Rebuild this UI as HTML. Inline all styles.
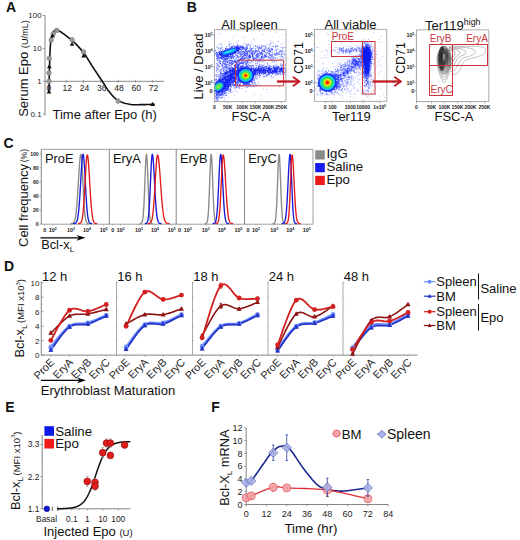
<!DOCTYPE html>
<html><head><meta charset="utf-8"><style>
html,body{margin:0;padding:0;background:#fff;}
svg{display:block;font-family:"Liberation Sans", sans-serif;}
</style></head><body>
<svg width="520" height="540" viewBox="0 0 520 540">
<defs><filter id="blur1" x="-50%" y="-50%" width="200%" height="200%"><feGaussianBlur stdDeviation="0.55"/></filter><filter id="blur2" x="-50%" y="-50%" width="200%" height="200%"><feGaussianBlur stdDeviation="3"/></filter></defs>
<rect width="520" height="540" fill="#fff"/>
<text x="6.00" y="11.90" font-size="14" text-anchor="start" fill="#111" font-weight="bold" >A</text>
<line x1="45.00" y1="15.50" x2="45.00" y2="115.50" stroke="#8a8a8a" stroke-width="1" />
<line x1="43.00" y1="15.50" x2="45.00" y2="15.50" stroke="#8a8a8a" stroke-width="1" />
<text x="41.60" y="18.30" font-size="8" text-anchor="end" fill="#222" font-weight="normal" >100</text>
<line x1="43.00" y1="48.40" x2="45.00" y2="48.40" stroke="#8a8a8a" stroke-width="1" />
<text x="41.60" y="51.20" font-size="8" text-anchor="end" fill="#222" font-weight="normal" >10</text>
<line x1="43.00" y1="81.30" x2="45.00" y2="81.30" stroke="#8a8a8a" stroke-width="1" />
<text x="41.60" y="84.10" font-size="8" text-anchor="end" fill="#222" font-weight="normal" >1</text>
<line x1="43.00" y1="114.20" x2="45.00" y2="114.20" stroke="#8a8a8a" stroke-width="1" />
<text x="41.60" y="117.00" font-size="8" text-anchor="end" fill="#222" font-weight="normal" >0.1</text>
<line x1="45.00" y1="81.30" x2="164.00" y2="81.30" stroke="#8a8a8a" stroke-width="1" />
<line x1="49.00" y1="79.80" x2="49.00" y2="82.80" stroke="#8a8a8a" stroke-width="0.8" />
<text x="49.00" y="91.20" font-size="8.6" text-anchor="middle" fill="#222" font-weight="normal" >0</text>
<line x1="66.28" y1="79.80" x2="66.28" y2="82.80" stroke="#8a8a8a" stroke-width="0.8" />
<text x="67.18" y="91.20" font-size="8.6" text-anchor="middle" fill="#222" font-weight="normal" >12</text>
<line x1="83.56" y1="79.80" x2="83.56" y2="82.80" stroke="#8a8a8a" stroke-width="0.8" />
<text x="84.46" y="91.20" font-size="8.6" text-anchor="middle" fill="#222" font-weight="normal" >24</text>
<line x1="100.84" y1="79.80" x2="100.84" y2="82.80" stroke="#8a8a8a" stroke-width="0.8" />
<text x="101.74" y="91.20" font-size="8.6" text-anchor="middle" fill="#222" font-weight="normal" >36</text>
<line x1="118.12" y1="79.80" x2="118.12" y2="82.80" stroke="#8a8a8a" stroke-width="0.8" />
<text x="119.02" y="91.20" font-size="8.6" text-anchor="middle" fill="#222" font-weight="normal" >48</text>
<line x1="135.40" y1="79.80" x2="135.40" y2="82.80" stroke="#8a8a8a" stroke-width="0.8" />
<text x="136.30" y="91.20" font-size="8.6" text-anchor="middle" fill="#222" font-weight="normal" >60</text>
<line x1="152.68" y1="79.80" x2="152.68" y2="82.80" stroke="#8a8a8a" stroke-width="0.8" />
<text x="153.58" y="91.20" font-size="8.6" text-anchor="middle" fill="#222" font-weight="normal" >72</text>
<polyline points="49.00,89.84 49.04,88.00 49.09,85.57 49.15,82.66 49.22,79.42 49.30,75.96 49.38,72.41 49.46,68.89 49.55,65.53 49.63,62.47 49.72,59.81 49.81,57.47 49.89,55.27 49.97,53.19 50.06,51.24 50.15,49.40 50.25,47.67 50.35,46.04 50.47,44.50 50.59,43.05 50.73,41.68 50.88,40.42 51.04,39.28 51.20,38.26 51.38,37.33 51.56,36.50 51.76,35.73 51.96,35.04 52.17,34.39 52.38,33.77 52.60,33.19 52.84,32.65 53.10,32.19 53.37,31.80 53.65,31.46 53.94,31.17 54.22,30.92 54.50,30.70 54.75,30.49 54.99,30.30 55.19,30.10 55.36,29.91 55.51,29.74 55.63,29.60 55.74,29.48 55.83,29.38 55.92,29.30 56.01,29.23 56.11,29.19 56.22,29.15 56.34,29.14 56.43,29.10 56.43,29.02 56.39,28.93 56.35,28.85 56.33,28.80 56.37,28.81 56.52,28.90 56.80,29.10 57.26,29.42 57.93,29.90 58.84,30.55 59.99,31.35 61.32,32.28 62.80,33.31 64.36,34.43 65.98,35.61 67.60,36.81 69.18,38.03 70.68,39.24 72.04,40.40 73.31,41.56 74.56,42.73 75.78,43.93 76.97,45.14 78.14,46.37 79.28,47.62 80.40,48.88 81.48,50.14 82.54,51.42 83.56,52.70 84.53,53.99 85.45,55.28 86.32,56.58 87.15,57.89 87.97,59.21 88.78,60.55 89.59,61.90 90.43,63.28 91.29,64.67 92.20,66.09 93.16,67.55 94.17,69.08 95.21,70.66 96.27,72.25 97.33,73.86 98.39,75.45 99.42,77.00 100.43,78.51 101.38,79.95 102.28,81.30 103.11,82.57 103.88,83.78 104.61,84.93 105.30,86.05 105.97,87.12 106.63,88.15 107.30,89.16 107.99,90.15 108.71,91.12 109.48,92.09 110.27,93.05 111.07,94.00 111.88,94.95 112.69,95.87 113.53,96.76 114.39,97.61 115.27,98.43 116.18,99.19 117.13,99.90 118.12,100.55 119.16,101.13 120.24,101.65 121.36,102.12 122.52,102.55 123.70,102.93 124.89,103.27 126.09,103.57 127.29,103.84 128.48,104.08 129.64,104.30 130.79,104.47 131.92,104.60 133.05,104.68 134.18,104.72 135.31,104.73 136.45,104.73 137.60,104.71 138.76,104.69 139.95,104.67 141.16,104.66 142.46,104.65 143.87,104.63 145.35,104.59 146.86,104.55 148.36,104.50 149.80,104.45 151.14,104.40 152.33,104.36 153.34,104.32 154.12,104.30" fill="none" stroke="#111" stroke-width="1.6" stroke-linejoin="round" stroke-linecap="round" />
<circle cx="49.00" cy="81.30" r="2.30" fill="#9a9a9a" stroke="#777" stroke-width="0.6" />
<circle cx="49.00" cy="72.90" r="2.30" fill="#9a9a9a" stroke="#777" stroke-width="0.6" />
<circle cx="49.29" cy="58.30" r="2.30" fill="#9a9a9a" stroke="#777" stroke-width="0.6" />
<circle cx="51.16" cy="40.00" r="2.30" fill="#9a9a9a" stroke="#777" stroke-width="0.6" />
<circle cx="53.32" cy="33.69" r="2.30" fill="#9a9a9a" stroke="#777" stroke-width="0.6" />
<circle cx="56.92" cy="30.50" r="2.30" fill="#9a9a9a" stroke="#777" stroke-width="0.6" />
<circle cx="72.04" cy="39.77" r="2.30" fill="#9a9a9a" stroke="#777" stroke-width="0.6" />
<circle cx="83.56" cy="51.95" r="2.30" fill="#9a9a9a" stroke="#777" stroke-width="0.6" />
<circle cx="118.12" cy="101.11" r="2.30" fill="#9a9a9a" stroke="#777" stroke-width="0.6" />
<polygon points="49.00,89.30 46.70,93.44 51.30,93.44" fill="#111" stroke="none" stroke-width="0.6" />
<polygon points="49.29,64.10 46.99,68.24 51.59,68.24" fill="#111" stroke="none" stroke-width="0.6" />
<polygon points="52.60,33.41 50.30,37.55 54.90,37.55" fill="#111" stroke="none" stroke-width="0.6" />
<polygon points="72.04,41.73 69.74,45.87 74.34,45.87" fill="#111" stroke="none" stroke-width="0.6" />
<polygon points="83.56,53.45 81.26,57.59 85.86,57.59" fill="#111" stroke="none" stroke-width="0.6" />
<polygon points="152.68,101.81 150.38,105.95 154.98,105.95" fill="#111" stroke="none" stroke-width="0.6" />
<text x="52.50" y="118.90" font-size="13" text-anchor="start" fill="#111" font-weight="normal" >Time after Epo (h)</text>
<text transform="translate(27.80,116.80) rotate(-90) scale(1,1)" font-size="13" fill="#111">Serum&#160;Epo</text>
<text transform="translate(27.80,48.16) rotate(-90) scale(1,0.95)" font-size="9.2" fill="#111">(U/mL)</text>
<text x="186.70" y="12.00" font-size="14" text-anchor="start" fill="#111" font-weight="bold" >B</text>
<clipPath id="cb1"><rect x="214.6" y="29.7" width="71.4" height="71.7"/></clipPath>
<g clip-path="url(#cb1)">
<path d="M271.4 76.4h0.9M244.7 38.0h0.9M229.1 43.4h0.9M236.4 41.9h0.9M269.3 44.1h0.9M266.0 89.6h0.9M232.9 44.1h0.9M258.9 84.9h0.9M271.5 90.1h0.9M270.8 76.9h0.9M267.7 92.7h0.9M278.7 86.9h0.9M236.5 92.3h0.9M233.4 91.2h0.9M272.9 43.1h0.9M276.2 62.9h0.9M250.5 41.9h0.9M260.5 95.9h0.9M232.1 38.0h0.9M259.2 31.4h0.9M263.0 89.3h0.9M231.8 92.8h0.9M253.2 39.0h0.9M258.1 81.8h0.9M233.9 95.6h0.9M223.5 100.2h0.9M220.2 44.7h0.9M229.6 44.1h0.9M282.3 59.8h0.9M254.0 94.5h0.9M234.2 35.8h0.9M228.1 41.9h0.9M260.3 99.1h0.9M264.9 77.0h0.9M273.1 77.1h0.9M218.4 44.7h0.9M270.1 44.2h0.9M275.5 32.4h0.9M282.1 34.7h0.9M256.5 84.6h0.9M271.7 77.9h0.9M277.7 41.5h0.9M242.7 36.8h0.9M215.5 37.5h0.9M271.6 42.8h0.9M285.2 59.5h0.9M256.4 85.8h0.9M271.5 36.8h0.9M235.6 90.5h0.9M217.8 34.3h0.9M220.0 33.2h0.9M216.6 46.4h0.9M281.6 44.0h0.9M229.9 41.4h0.9M231.3 43.5h0.9M257.7 82.8h0.9M273.5 77.9h0.9M263.0 34.7h0.9M238.2 40.9h0.9M220.8 44.2h0.9M285.0 95.3h0.9M251.2 43.5h0.9M270.6 41.0h0.9M220.9 43.3h0.9M270.0 42.7h0.9M228.4 97.2h0.9M220.3 44.8h0.9M253.8 39.9h0.9M271.2 43.7h0.9M283.5 62.1h0.9M224.5 99.7h0.9M245.3 91.6h0.9M238.1 30.7h0.9M281.2 43.6h0.9M277.6 41.4h0.9M271.2 76.7h0.9" stroke="#97a0ff" stroke-width="0.9" opacity="0.85" fill="none"/>
<path d="M277.7 52.9h0.9M221.0 48.3h0.9M280.5 47.3h0.9M266.3 44.6h0.9M239.8 86.4h0.9M285.1 64.4h0.9M229.7 90.6h0.9M239.0 87.9h0.9M254.9 46.4h0.9M258.0 59.7h0.9M284.7 54.9h0.9M273.2 65.5h0.9M258.8 47.4h0.9M280.7 58.3h0.9M248.2 86.7h0.9M282.3 47.6h0.9M275.0 46.0h0.9M270.6 59.6h0.9M282.8 51.1h0.9M251.5 84.9h0.9M281.4 50.9h0.9M272.3 49.9h0.9M250.0 45.2h0.9M258.7 47.9h0.9M216.9 99.8h0.9M280.5 51.6h0.9M279.5 56.4h0.9M262.4 46.3h0.9M215.6 100.5h0.9M280.0 74.6h0.9M258.0 60.3h0.9M276.1 54.8h0.9M262.6 65.0h0.9M277.3 57.8h0.9M261.0 46.9h0.9M274.3 58.1h0.9M216.7 65.5h0.9M263.5 45.2h0.9M270.7 57.3h0.9M256.8 79.2h0.9M255.1 45.7h0.9M277.5 46.1h0.9M279.1 54.2h0.9M254.6 65.6h0.9M269.8 59.0h0.9M280.7 50.9h0.9M246.3 87.1h0.9M280.3 50.8h0.9M215.8 74.6h0.9M269.4 57.5h0.9M249.7 86.7h0.9M268.9 45.4h0.9M257.2 61.1h0.9M252.3 65.8h0.9M221.6 47.2h0.9M283.6 58.0h0.9M278.8 51.7h0.9M281.9 65.0h0.9M281.8 54.3h0.9M280.0 64.1h0.9M274.6 55.4h0.9M215.6 51.9h0.9M216.0 67.4h0.9M269.1 65.3h0.9M282.1 73.9h0.9M267.4 57.9h0.9M263.4 60.1h0.9M248.0 44.0h0.9M241.5 88.5h0.9M274.2 61.3h0.9M267.5 64.4h0.9M277.9 59.4h0.9M247.0 46.2h0.9M260.1 59.4h0.9M259.2 47.7h0.9M264.9 47.0h0.9M256.0 65.5h0.9M275.7 74.7h0.9M250.4 61.9h0.9M250.0 86.4h0.9M264.9 47.0h0.9M260.6 64.6h0.9M255.9 85.2h0.9M266.3 76.2h0.9M243.8 43.7h0.9M276.4 55.1h0.9M257.3 61.8h0.9M276.9 49.2h0.9M216.0 71.0h0.9M267.3 76.2h0.9M259.3 76.0h0.9M268.3 48.3h0.9M253.3 84.5h0.9M283.4 53.6h0.9M229.6 44.5h0.9M276.0 51.9h0.9M216.3 98.7h0.9M268.5 59.3h0.9M284.8 51.2h0.9M250.9 48.6h0.9M237.2 44.0h0.9M275.2 47.7h0.9M220.0 48.3h0.9M220.5 98.3h0.9M246.7 86.2h0.9M278.2 74.3h0.9M216.6 68.7h0.9M270.5 60.2h0.9M264.9 46.3h0.9M217.2 69.8h0.9M224.9 95.7h0.9M261.6 65.8h0.9M218.6 71.1h0.9M217.2 98.2h0.9M271.0 59.6h0.9M217.4 99.4h0.9M217.1 64.9h0.9M256.8 77.5h0.9M220.6 47.7h0.9M281.2 55.9h0.9M278.5 53.2h0.9M215.2 50.8h0.9M255.5 64.0h0.9M271.9 46.4h0.9M263.0 76.9h0.9M278.3 54.6h0.9M251.5 85.8h0.9M270.5 57.8h0.9M282.4 52.7h0.9M247.2 44.9h0.9M270.8 49.6h0.9M282.2 56.5h0.9M276.3 45.2h0.9M219.8 98.2h0.9M281.5 51.4h0.9M235.8 87.9h0.9M246.8 87.5h0.9M215.2 50.1h0.9M223.2 95.7h0.9M250.9 48.6h0.9M215.9 75.8h0.9M251.1 65.5h0.9M261.7 47.3h0.9M238.6 88.2h0.9M261.5 45.5h0.9M259.9 48.7h0.9M236.3 86.1h0.9M218.0 68.9h0.9M276.0 60.9h0.9M284.7 74.1h0.9M252.7 66.4h0.9M218.1 74.5h0.9M256.2 47.8h0.9M228.5 46.6h0.9M254.4 83.8h0.9M222.0 97.4h0.9M215.3 98.6h0.9M274.8 75.2h0.9M259.7 60.8h0.9M238.1 86.4h0.9M278.9 51.9h0.9M259.1 61.7h0.9M274.8 58.9h0.9M261.8 66.0h0.9M279.7 54.2h0.9M264.8 61.0h0.9M230.4 92.4h0.9M228.9 91.2h0.9M245.7 45.2h0.9M246.8 45.1h0.9M261.6 59.9h0.9M247.0 48.5h0.9M248.7 63.2h0.9M263.0 65.8h0.9M271.6 60.8h0.9M260.1 75.7h0.9M250.1 47.3h0.9M277.2 46.4h0.9M273.0 46.5h0.9M226.1 95.5h0.9M256.9 62.3h0.9M228.7 45.4h0.9M216.3 75.8h0.9M217.0 72.3h0.9M275.5 49.4h0.9M280.9 65.6h0.9M259.1 64.3h0.9M217.2 67.9h0.9M252.4 86.7h0.9M268.5 47.4h0.9M282.1 48.8h0.9M237.5 87.4h0.9M218.2 100.1h0.9M244.5 87.1h0.9M273.5 57.6h0.9M275.6 50.0h0.9M272.2 59.4h0.9M275.8 50.9h0.9M263.7 76.4h0.9M283.1 47.9h0.9M237.6 45.1h0.9M238.4 86.2h0.9M261.0 60.9h0.9M253.8 86.5h0.9M272.2 56.6h0.9M246.5 47.3h0.9M284.7 74.8h0.9M256.1 59.9h0.9M248.1 44.7h0.9M261.1 60.1h0.9M259.2 77.4h0.9M284.6 47.4h0.9M275.2 58.0h0.9M267.2 63.0h0.9M221.8 97.6h0.9M260.9 48.2h0.9M262.6 61.7h0.9M249.9 65.7h0.9M281.3 53.4h0.9M252.9 62.2h0.9M272.6 62.1h0.9M281.6 51.7h0.9M255.2 61.3h0.9M257.8 48.3h0.9M260.0 48.4h0.9M263.7 64.1h0.9M275.1 46.7h0.9M266.9 63.0h0.9M263.9 60.7h0.9M280.2 59.2h0.9M273.9 61.7h0.9M269.8 65.6h0.9M216.5 47.4h0.9M245.9 44.0h0.9M255.8 78.7h0.9M271.3 48.6h0.9M215.9 67.0h0.9M284.5 54.7h0.9M263.1 76.3h0.9M283.0 58.0h0.9M265.7 48.0h0.9M252.8 83.4h0.9M277.4 52.5h0.9M281.3 56.1h0.9M280.0 51.9h0.9M279.3 54.1h0.9M236.0 87.3h0.9M215.4 75.1h0.9M251.6 62.1h0.9M278.4 50.1h0.9M265.2 48.8h0.9M281.3 74.4h0.9M264.0 76.8h0.9M262.9 58.7h0.9M273.3 60.6h0.9M228.9 44.9h0.9M216.5 100.8h0.9M257.6 65.2h0.9M220.0 49.0h0.9M215.9 76.9h0.9M271.8 49.7h0.9M249.5 46.4h0.9M262.0 60.8h0.9M258.7 47.0h0.9M216.1 99.0h0.9M254.4 82.3h0.9M252.1 65.2h0.9M271.5 48.5h0.9M275.6 75.0h0.9M248.5 62.3h0.9M280.8 56.0h0.9M238.7 86.3h0.9M217.2 76.4h0.9M275.9 46.2h0.9M230.1 91.5h0.9M269.4 58.5h0.9M255.3 63.3h0.9M280.6 64.0h0.9M266.4 75.4h0.9M268.1 48.8h0.9M276.9 54.7h0.9M258.4 66.0h0.9M282.1 65.7h0.9M223.8 97.8h0.9M256.9 46.6h0.9M269.6 48.7h0.9M256.8 63.6h0.9M280.1 65.7h0.9M256.5 59.6h0.9M236.8 45.1h0.9M234.3 87.6h0.9M261.1 47.9h0.9M250.2 63.7h0.9M218.0 47.8h0.9M254.7 78.8h0.9M252.8 48.2h0.9M235.5 87.8h0.9M283.7 54.4h0.9M253.1 65.6h0.9M272.3 58.0h0.9M251.7 48.0h0.9M266.6 48.2h0.9M225.8 95.3h0.9M215.8 63.4h0.9M271.2 48.9h0.9M266.0 75.1h0.9M259.4 61.2h0.9M260.2 47.7h0.9M282.4 57.1h0.9M257.1 45.8h0.9M216.1 63.8h0.9M281.8 65.1h0.9M254.2 86.0h0.9M261.4 45.9h0.9M259.2 45.8h0.9M251.8 66.2h0.9M258.1 47.8h0.9M259.2 47.9h0.9M279.5 73.9h0.9M254.2 82.2h0.9M251.5 85.5h0.9M252.3 60.6h0.9M272.6 58.3h0.9M270.3 46.8h0.9M230.4 90.4h0.9M221.1 97.2h0.9M248.7 45.2h0.9M217.2 69.0h0.9M230.3 90.2h0.9M257.4 59.7h0.9M285.2 64.9h0.9M254.5 82.4h0.9M272.7 57.0h0.9M281.0 54.9h0.9M259.7 66.2h0.9M246.6 47.5h0.9M271.6 48.9h0.9M263.6 46.5h0.9M258.7 59.9h0.9M226.2 46.8h0.9M233.7 88.1h0.9M280.6 50.1h0.9M257.8 47.6h0.9M216.3 70.2h0.9M259.4 66.2h0.9M276.9 53.8h0.9M276.8 53.6h0.9M254.9 84.1h0.9M253.3 45.6h0.9M269.4 75.1h0.9M218.6 48.4h0.9M216.9 69.0h0.9M270.7 75.4h0.9M272.0 49.6h0.9M228.3 93.1h0.9M276.2 64.8h0.9M259.5 65.8h0.9M217.6 49.4h0.9M251.1 61.4h0.9M263.6 48.6h0.9" stroke="#5464ff" stroke-width="0.9" opacity="0.85" fill="none"/>
<path d="M225.6 64.4h0.9M254.9 75.1h0.9M247.7 50.7h0.9M242.2 63.0h0.9M236.2 64.6h0.9M246.7 63.7h0.9M272.0 73.1h0.9M256.2 56.4h0.9M279.5 73.2h0.9M256.4 74.3h0.9M224.5 58.2h0.9M239.4 63.4h0.9M220.1 61.4h0.9M259.1 53.3h0.9M248.8 57.3h0.9M234.5 66.2h0.9M243.2 48.8h0.9M264.4 49.5h0.9M218.6 66.1h0.9M257.4 53.2h0.9M229.0 65.8h0.9M247.6 82.6h0.9M242.2 59.0h0.9M265.0 73.8h0.9M233.0 63.3h0.9M259.0 75.3h0.9M230.0 65.7h0.9M242.2 46.3h0.9M240.3 58.4h0.9M246.9 66.8h0.9M220.1 61.3h0.9M247.4 67.5h0.9M260.5 68.1h0.9M230.8 62.2h0.9M245.1 55.8h0.9M241.2 63.0h0.9M259.1 73.7h0.9M228.5 59.9h0.9M241.2 51.9h0.9M238.9 64.6h0.9M248.5 83.9h0.9M268.5 73.7h0.9M248.2 67.3h0.9M240.0 83.0h0.9M219.6 57.9h0.9M223.5 73.7h0.9M243.6 52.2h0.9M215.2 53.4h0.9M272.2 74.2h0.9M247.9 58.9h0.9M224.2 58.3h0.9M227.9 64.5h0.9M226.4 64.8h0.9M271.5 54.3h0.9M265.0 66.6h0.9M245.5 50.3h0.9M264.7 66.4h0.9M256.2 67.7h0.9M264.3 54.3h0.9M237.2 55.9h0.9M252.1 56.6h0.9M253.2 57.0h0.9M245.7 51.0h0.9M231.6 55.2h0.9M253.7 58.9h0.9M241.2 57.7h0.9M225.2 58.9h0.9M245.9 46.6h0.9M238.1 65.6h0.9M231.8 67.5h0.9M251.0 53.5h0.9M243.5 55.5h0.9M242.9 83.8h0.9M229.8 63.5h0.9M232.2 54.9h0.9M236.1 55.2h0.9M245.4 83.8h0.9M253.6 80.0h0.9M241.3 82.7h0.9M253.8 68.0h0.9M246.9 53.4h0.9M235.2 65.0h0.9M219.3 62.1h0.9M244.3 59.5h0.9M229.4 62.5h0.9M216.3 97.0h0.9M258.4 57.9h0.9M269.4 50.6h0.9M253.5 52.8h0.9M220.6 58.3h0.9M263.3 73.7h0.9M231.5 67.6h0.9M266.3 49.8h0.9M263.3 74.5h0.9M253.9 53.7h0.9M232.8 57.1h0.9M283.1 70.6h0.9M251.8 81.6h0.9M262.2 50.3h0.9M229.3 89.9h0.9M224.8 92.0h0.9M253.6 50.9h0.9M226.1 59.2h0.9M231.0 65.2h0.9M226.4 67.3h0.9M258.3 67.1h0.9M265.1 52.5h0.9M238.5 79.6h0.9M250.4 56.7h0.9M233.9 60.3h0.9M279.8 72.1h0.9M229.7 89.5h0.9M228.9 64.1h0.9M248.7 66.2h0.9M235.4 58.5h0.9M242.1 56.6h0.9M226.6 61.6h0.9M240.1 82.1h0.9M242.5 82.9h0.9M251.9 82.8h0.9M243.3 62.9h0.9M281.9 71.9h0.9M233.9 57.1h0.9M267.8 53.4h0.9M238.8 81.3h0.9M231.0 57.6h0.9M251.7 53.4h0.9M218.6 52.0h0.9M236.9 61.2h0.9M223.4 57.7h0.9M221.3 74.0h0.9M240.4 63.9h0.9M248.0 84.5h0.9M243.1 63.9h0.9M255.5 76.8h0.9M282.2 68.8h0.9M243.8 52.2h0.9M254.8 54.9h0.9M258.2 55.9h0.9M241.9 65.6h0.9M277.3 74.0h0.9M227.1 89.0h0.9M260.9 73.9h0.9M233.5 56.4h0.9M242.6 84.1h0.9M226.1 48.4h0.9M264.0 51.6h0.9M259.5 55.0h0.9M233.7 67.0h0.9M234.6 84.8h0.9M232.1 56.8h0.9M253.2 78.8h0.9M276.6 72.3h0.9M268.3 74.1h0.9M241.2 82.1h0.9M246.2 83.6h0.9M239.7 46.9h0.9M278.3 66.6h0.9M248.9 84.3h0.9M216.8 58.9h0.9M256.0 58.3h0.9M282.2 70.5h0.9M232.1 60.6h0.9M225.7 48.7h0.9M231.8 54.9h0.9M253.8 57.0h0.9M268.8 54.1h0.9M234.4 84.9h0.9M224.7 57.9h0.9M277.9 74.0h0.9M244.8 55.0h0.9M247.7 60.7h0.9M215.4 79.6h0.9M234.0 65.7h0.9M252.8 57.6h0.9M238.6 81.3h0.9M257.4 55.7h0.9M247.1 83.3h0.9M250.6 50.1h0.9M223.1 57.3h0.9M234.8 64.5h0.9M223.9 93.3h0.9M257.0 53.4h0.9M245.7 47.6h0.9M241.8 48.9h0.9M233.8 85.4h0.9M282.4 71.5h0.9M250.0 56.0h0.9M282.4 71.3h0.9M224.6 72.5h0.9M232.2 84.5h0.9M253.7 80.5h0.9M218.6 76.4h0.9M251.0 66.9h0.9M284.7 72.1h0.9M262.1 56.1h0.9M271.9 55.7h0.9M215.7 98.2h0.9M244.8 58.3h0.9M236.3 62.9h0.9M250.1 57.5h0.9M224.1 63.4h0.9M217.6 58.7h0.9M225.3 62.7h0.9M256.6 55.2h0.9M249.0 55.5h0.9M263.4 51.2h0.9M248.7 58.2h0.9M265.1 56.5h0.9M243.2 51.7h0.9M224.5 66.7h0.9M242.3 47.4h0.9M245.1 84.3h0.9M260.8 56.8h0.9M216.4 53.4h0.9M258.5 53.7h0.9M224.4 66.2h0.9M234.7 65.4h0.9M225.3 62.8h0.9M273.2 73.1h0.9M245.8 64.3h0.9M236.5 65.7h0.9M221.6 95.9h0.9M275.7 67.7h0.9M263.5 67.6h0.9M265.5 57.7h0.9M268.9 67.5h0.9M227.0 56.8h0.9M225.3 64.4h0.9M231.5 67.7h0.9M231.2 58.0h0.9M232.2 54.9h0.9M252.1 58.7h0.9M279.7 67.4h0.9M222.6 57.1h0.9M256.0 54.9h0.9M264.9 55.4h0.9M221.8 66.7h0.9M238.8 56.6h0.9M244.7 63.9h0.9M218.2 52.7h0.9M216.6 60.1h0.9M223.4 73.8h0.9M256.9 74.6h0.9M215.3 80.3h0.9M226.5 49.0h0.9M220.2 76.0h0.9M215.9 95.3h0.9M262.3 67.3h0.9M219.7 63.4h0.9M246.7 58.1h0.9M220.3 95.1h0.9M255.1 51.1h0.9M241.8 49.2h0.9M217.5 57.2h0.9M251.4 67.8h0.9M224.8 61.0h0.9M220.6 94.3h0.9M269.2 67.3h0.9M230.2 60.4h0.9M280.1 71.3h0.9M241.0 49.3h0.9M276.3 66.5h0.9M264.6 56.9h0.9M241.1 62.1h0.9M231.7 56.2h0.9M250.8 50.6h0.9M225.5 92.8h0.9M244.6 66.8h0.9M231.5 58.5h0.9M218.1 97.0h0.9M232.4 55.4h0.9M220.3 94.1h0.9M217.4 95.8h0.9M219.9 50.5h0.9M232.0 63.1h0.9M249.9 50.3h0.9M243.6 48.2h0.9M249.2 51.5h0.9M223.5 94.4h0.9M251.9 54.0h0.9M232.0 84.7h0.9M223.6 72.1h0.9M223.6 61.2h0.9M244.6 54.9h0.9M273.6 54.2h0.9M268.8 49.7h0.9M219.9 61.5h0.9M239.2 80.6h0.9M252.2 48.9h0.9M238.7 52.7h0.9M241.6 58.8h0.9M220.9 93.9h0.9M218.3 95.5h0.9M248.9 54.5h0.9M249.3 57.7h0.9M225.2 63.2h0.9M261.0 56.3h0.9M252.4 55.2h0.9M247.2 55.0h0.9M251.5 80.5h0.9M268.8 74.4h0.9M225.2 72.8h0.9M240.1 56.1h0.9M249.4 51.1h0.9M217.9 52.4h0.9M247.8 84.1h0.9M220.9 72.1h0.9M249.9 49.2h0.9M250.4 56.4h0.9M243.4 54.0h0.9M228.8 62.6h0.9M243.2 84.6h0.9M231.5 67.5h0.9M284.0 72.3h0.9M270.6 73.2h0.9M229.1 62.8h0.9M281.1 67.8h0.9M224.0 69.8h0.9M258.2 67.8h0.9M230.3 63.1h0.9M260.2 53.0h0.9M236.6 85.8h0.9M258.4 54.9h0.9M248.2 56.1h0.9M231.5 56.4h0.9M229.8 68.7h0.9M261.2 57.9h0.9M252.1 56.0h0.9M249.2 60.7h0.9M215.7 54.3h0.9M222.3 94.6h0.9M266.1 56.3h0.9M281.0 68.0h0.9M282.5 73.2h0.9M225.8 92.7h0.9M250.5 67.5h0.9M284.6 68.0h0.9M220.8 58.3h0.9M248.7 66.5h0.9M282.2 72.7h0.9M221.1 58.7h0.9M216.0 56.2h0.9M221.4 76.1h0.9M227.3 56.4h0.9M228.3 90.8h0.9M256.5 75.4h0.9M219.5 58.6h0.9M233.3 61.5h0.9M227.5 69.2h0.9M241.0 59.5h0.9M236.3 57.4h0.9M226.7 58.1h0.9M232.9 84.9h0.9M240.9 56.1h0.9M240.6 50.1h0.9M259.8 48.8h0.9M233.5 62.2h0.9M240.5 59.4h0.9M222.8 58.5h0.9M258.3 75.4h0.9M220.6 74.1h0.9M250.5 54.4h0.9M235.1 62.0h0.9M255.6 51.5h0.9M223.3 94.2h0.9M239.6 45.5h0.9M245.1 49.7h0.9M222.7 66.8h0.9M228.5 56.0h0.9M227.3 67.1h0.9M258.4 56.6h0.9M224.7 58.1h0.9M242.5 60.8h0.9M246.8 84.4h0.9M242.0 62.3h0.9M261.7 51.8h0.9M229.7 68.2h0.9M246.6 55.6h0.9M238.3 60.7h0.9M261.8 49.7h0.9M247.0 52.4h0.9M282.1 68.1h0.9M258.4 51.2h0.9M217.9 65.6h0.9M222.7 74.3h0.9M255.6 56.9h0.9M246.5 56.4h0.9M216.1 54.6h0.9M269.0 51.6h0.9M223.4 75.4h0.9M236.0 63.1h0.9M232.5 47.0h0.9M269.1 55.6h0.9M216.9 54.2h0.9M261.2 57.6h0.9M242.2 63.7h0.9M222.6 62.2h0.9M222.0 59.0h0.9M238.3 51.6h0.9M249.0 55.9h0.9M241.8 47.2h0.9M238.1 52.9h0.9M233.2 57.2h0.9M244.9 53.6h0.9M224.2 64.6h0.9M220.4 57.2h0.9M261.4 50.6h0.9M239.5 63.0h0.9M254.1 75.2h0.9M239.3 63.6h0.9M235.5 55.4h0.9M266.1 66.8h0.9M256.5 57.2h0.9M240.7 55.0h0.9M230.1 55.1h0.9M243.4 48.0h0.9M249.0 56.0h0.9M223.1 70.0h0.9M277.5 67.8h0.9M251.4 82.9h0.9M232.8 84.2h0.9M273.9 66.3h0.9M246.2 65.9h0.9M246.4 83.4h0.9M246.5 61.1h0.9M256.3 54.4h0.9M225.5 61.5h0.9M263.6 56.7h0.9M223.7 73.3h0.9M270.3 54.8h0.9M244.3 49.2h0.9M260.3 67.4h0.9M224.2 60.8h0.9M231.2 46.4h0.9M235.4 85.7h0.9M239.9 81.2h0.9M277.8 67.4h0.9M219.4 70.8h0.9M255.6 55.5h0.9M227.6 88.4h0.9M217.2 56.7h0.9M237.2 64.6h0.9M246.6 48.5h0.9M257.2 57.3h0.9M239.2 82.9h0.9M233.9 47.1h0.9M228.4 88.7h0.9M220.7 64.3h0.9M243.9 53.9h0.9M228.8 68.8h0.9M261.2 53.6h0.9M245.7 65.9h0.9M234.7 85.2h0.9M268.7 66.8h0.9M239.8 62.8h0.9M250.0 53.1h0.9M247.3 62.5h0.9M245.0 83.7h0.9M217.6 97.0h0.9M285.1 70.1h0.9M265.7 55.1h0.9M237.7 65.0h0.9M269.5 73.1h0.9M246.4 51.6h0.9M220.5 57.6h0.9M241.8 63.6h0.9M220.0 77.1h0.9M242.7 56.3h0.9M229.7 89.3h0.9M253.1 67.8h0.9M238.3 64.5h0.9M261.2 52.8h0.9M242.3 51.7h0.9M240.6 59.5h0.9M238.4 79.9h0.9M241.6 54.6h0.9M236.5 52.3h0.9M239.7 53.9h0.9M251.3 54.0h0.9M246.0 50.2h0.9M240.0 54.7h0.9M268.1 67.1h0.9M216.5 98.2h0.9M233.8 65.6h0.9M226.7 90.0h0.9M260.6 58.2h0.9M272.9 66.2h0.9M276.6 73.4h0.9M255.0 49.8h0.9M273.4 67.6h0.9M268.2 74.2h0.9M253.9 52.4h0.9M220.9 57.4h0.9M252.3 53.0h0.9M242.2 85.4h0.9M219.9 73.0h0.9M275.1 72.5h0.9M241.6 46.2h0.9M258.2 67.8h0.9M226.1 66.4h0.9M215.4 96.5h0.9M273.1 66.9h0.9M236.8 66.1h0.9M218.8 58.8h0.9M275.3 67.3h0.9M237.3 80.6h0.9M218.7 75.5h0.9M240.2 81.7h0.9M236.0 83.1h0.9M274.8 55.1h0.9M253.8 59.4h0.9M237.1 63.8h0.9M237.1 60.0h0.9M240.4 66.3h0.9M226.7 58.7h0.9M235.5 83.7h0.9M281.3 66.9h0.9M221.8 65.2h0.9M248.8 56.9h0.9M238.6 47.0h0.9M242.4 66.3h0.9M234.9 60.0h0.9M251.2 51.9h0.9M224.4 73.9h0.9M239.4 46.5h0.9M221.5 73.6h0.9M271.0 56.7h0.9M241.6 48.5h0.9M215.3 96.2h0.9M216.4 79.8h0.9M252.4 53.4h0.9M229.9 57.0h0.9M219.6 79.1h0.9M261.4 56.8h0.9M225.1 67.5h0.9M236.8 59.9h0.9M231.7 47.5h0.9M235.7 85.6h0.9M226.9 59.0h0.9M240.4 58.5h0.9M238.6 59.3h0.9M239.5 52.6h0.9M215.2 93.6h0.9M261.4 67.8h0.9M258.2 50.1h0.9M285.3 72.2h0.9M247.7 51.1h0.9M235.6 63.9h0.9M237.2 82.7h0.9M251.4 79.9h0.9M220.4 77.7h0.9M239.6 85.2h0.9M222.3 58.6h0.9M230.3 55.4h0.9M223.8 93.3h0.9M263.5 51.6h0.9M262.0 57.1h0.9M218.3 78.2h0.9M219.3 97.3h0.9M226.5 89.6h0.9M248.1 67.7h0.9M242.0 47.4h0.9M226.1 64.9h0.9M246.5 60.3h0.9M237.7 64.6h0.9M242.6 63.8h0.9M237.1 82.5h0.9M237.8 82.2h0.9M228.2 56.0h0.9M235.6 61.5h0.9M264.1 57.3h0.9M242.1 58.9h0.9M265.4 73.4h0.9M222.4 65.0h0.9M245.1 48.4h0.9M216.3 95.9h0.9M225.1 48.2h0.9M244.8 53.8h0.9M281.3 71.4h0.9M246.7 53.6h0.9M240.0 81.6h0.9M232.7 46.1h0.9M266.4 67.4h0.9M221.9 73.8h0.9M242.0 85.6h0.9M218.0 57.3h0.9M240.7 47.0h0.9M268.5 56.9h0.9M245.4 64.1h0.9M226.4 57.1h0.9M254.7 59.0h0.9M216.1 79.1h0.9M220.1 73.2h0.9M258.0 67.2h0.9M248.6 65.3h0.9M226.5 69.9h0.9M220.0 51.8h0.9M247.1 84.5h0.9M235.3 62.5h0.9M259.4 58.9h0.9M253.5 76.1h0.9M244.2 52.7h0.9M224.3 57.1h0.9M250.2 84.4h0.9M252.3 51.0h0.9M244.6 62.5h0.9M218.9 95.4h0.9M240.7 59.1h0.9M273.8 73.0h0.9M245.4 84.7h0.9M246.5 53.1h0.9M219.7 95.3h0.9M227.0 58.3h0.9M277.3 73.5h0.9M254.8 48.8h0.9M268.0 51.2h0.9M259.0 52.2h0.9M252.3 51.9h0.9M243.7 83.2h0.9M230.0 86.7h0.9M228.4 66.7h0.9M216.7 52.3h0.9M218.5 78.2h0.9M239.4 81.1h0.9M244.4 83.8h0.9M252.5 55.2h0.9M242.3 57.2h0.9M243.5 51.4h0.9M237.2 65.9h0.9M224.1 74.2h0.9M246.9 52.7h0.9M235.3 53.1h0.9M238.0 64.6h0.9M234.8 61.0h0.9M274.4 53.0h0.9M231.4 63.9h0.9M241.7 52.2h0.9M226.9 62.6h0.9M248.9 60.1h0.9M225.3 65.4h0.9M275.5 54.0h0.9M238.3 57.0h0.9M260.0 58.6h0.9M255.6 57.8h0.9M261.0 52.3h0.9M267.1 50.0h0.9M221.3 65.8h0.9M225.6 58.4h0.9M224.8 72.9h0.9M248.0 84.4h0.9M230.5 47.1h0.9M217.5 94.4h0.9M236.6 46.9h0.9M244.1 58.6h0.9M237.5 65.7h0.9M264.7 56.2h0.9M281.8 68.1h0.9M219.0 78.3h0.9M219.1 96.0h0.9M244.6 61.3h0.9M273.2 67.0h0.9M252.0 55.2h0.9M276.1 72.9h0.9M248.1 64.8h0.9M228.2 63.1h0.9M243.6 66.0h0.9M221.2 94.9h0.9M278.9 72.1h0.9M235.2 65.4h0.9M268.8 53.8h0.9M246.7 48.2h0.9M215.6 94.8h0.9M246.7 53.5h0.9M238.7 59.5h0.9M244.3 52.8h0.9M225.2 93.9h0.9M253.0 58.7h0.9M216.6 95.3h0.9M220.0 94.9h0.9M246.6 55.8h0.9M222.2 75.9h0.9M218.5 57.0h0.9M238.1 53.0h0.9M260.7 66.5h0.9M227.2 58.8h0.9M253.0 59.1h0.9M239.5 65.7h0.9M225.5 71.1h0.9M233.9 46.6h0.9M230.5 57.1h0.9M232.6 60.3h0.9M223.0 61.0h0.9M223.4 71.4h0.9M257.0 57.3h0.9M248.2 60.7h0.9M239.6 81.7h0.9M220.1 70.1h0.9M249.2 52.6h0.9M243.5 83.3h0.9M225.8 68.8h0.9M242.4 85.5h0.9M237.6 46.7h0.9M252.4 54.7h0.9M251.1 49.0h0.9M260.2 53.2h0.9M219.8 77.6h0.9M219.7 76.7h0.9M223.9 92.0h0.9M255.8 67.6h0.9M237.9 64.5h0.9M230.9 57.0h0.9M215.9 52.5h0.9M263.9 51.2h0.9M244.6 61.2h0.9M223.2 63.7h0.9M236.1 83.3h0.9M261.6 73.4h0.9M223.7 73.8h0.9M222.7 63.7h0.9M231.6 85.6h0.9M245.3 55.0h0.9M236.7 79.9h0.9M240.0 80.6h0.9M257.3 55.8h0.9M270.6 66.3h0.9M268.3 57.0h0.9M267.4 65.8h0.9M230.6 58.7h0.9M239.8 85.8h0.9M253.1 51.2h0.9M249.5 57.4h0.9M244.1 47.8h0.9M262.1 54.4h0.9M245.7 49.2h0.9M246.9 61.2h0.9M229.7 47.6h0.9M233.8 86.1h0.9M254.8 58.4h0.9M222.0 57.4h0.9M239.0 80.3h0.9M226.1 58.2h0.9M239.2 84.3h0.9M270.6 73.1h0.9M253.4 80.1h0.9M242.5 56.9h0.9M236.8 80.8h0.9M226.7 62.2h0.9M239.4 81.0h0.9M251.0 67.8h0.9M241.2 66.4h0.9M223.2 70.1h0.9M281.0 68.2h0.9M265.0 55.7h0.9M216.4 97.5h0.9M251.9 51.3h0.9M278.6 67.9h0.9M244.2 84.1h0.9M234.6 65.4h0.9M238.0 46.9h0.9M247.0 66.6h0.9M249.7 68.1h0.9M226.3 90.5h0.9M230.0 56.4h0.9M232.3 61.5h0.9M220.1 63.3h0.9M226.7 90.1h0.9M224.3 67.1h0.9M238.3 79.8h0.9M238.0 81.1h0.9M271.4 50.7h0.9M265.6 52.2h0.9M237.3 45.6h0.9M260.5 54.6h0.9M235.8 81.5h0.9M222.2 68.2h0.9M269.5 49.9h0.9M223.8 64.2h0.9M224.5 59.0h0.9M230.4 66.2h0.9M237.5 54.1h0.9M254.9 76.9h0.9M244.5 54.5h0.9M270.3 55.3h0.9M231.4 46.8h0.9M229.6 58.5h0.9M244.5 51.8h0.9M229.8 58.3h0.9M225.7 90.5h0.9M241.6 46.2h0.9M222.5 75.7h0.9M236.3 46.6h0.9M219.5 75.2h0.9M256.6 54.9h0.9M239.0 80.9h0.9M244.9 57.7h0.9M233.9 84.6h0.9M226.4 70.9h0.9M217.1 56.3h0.9M275.9 53.5h0.9M259.1 66.8h0.9M230.3 86.5h0.9M245.9 50.3h0.9M255.4 74.8h0.9M219.2 51.4h0.9M246.9 61.5h0.9M248.2 56.6h0.9M240.9 59.4h0.9M271.8 52.4h0.9M247.3 54.2h0.9M239.4 60.5h0.9M242.0 58.0h0.9M227.9 89.8h0.9M232.9 86.0h0.9M256.9 73.8h0.9M270.2 67.0h0.9M246.5 66.4h0.9M276.3 53.5h0.9M234.8 45.8h0.9M268.8 51.6h0.9M246.1 84.3h0.9M239.1 51.1h0.9M285.3 68.8h0.9M223.8 74.7h0.9M246.6 63.0h0.9M270.1 51.8h0.9M220.4 71.6h0.9M249.8 66.1h0.9M249.4 55.9h0.9M244.8 62.4h0.9M241.7 54.7h0.9M256.7 50.4h0.9M227.6 65.0h0.9M226.6 70.6h0.9M236.5 55.5h0.9M223.4 60.6h0.9M238.0 61.8h0.9M225.3 59.8h0.9M238.5 61.1h0.9M273.8 54.4h0.9M220.5 69.1h0.9M280.0 72.3h0.9M258.6 51.0h0.9M237.1 53.5h0.9M218.5 66.4h0.9M240.1 51.6h0.9M264.6 66.3h0.9M221.9 94.1h0.9M240.2 81.1h0.9M227.3 89.1h0.9M283.1 70.3h0.9M242.7 46.6h0.9M248.9 56.0h0.9M231.0 63.1h0.9M224.3 72.0h0.9M252.2 82.0h0.9M226.2 60.5h0.9M234.4 61.5h0.9M257.1 51.5h0.9M242.9 47.9h0.9M222.8 76.1h0.9M261.1 67.8h0.9M232.2 64.6h0.9M245.5 66.9h0.9M236.1 82.4h0.9M238.2 81.6h0.9M228.6 60.6h0.9M247.9 51.2h0.9M257.5 56.3h0.9M281.5 68.5h0.9M250.2 57.0h0.9M238.9 60.9h0.9M247.3 82.8h0.9M246.3 51.2h0.9M237.2 60.5h0.9M238.7 62.5h0.9M255.8 50.5h0.9M223.0 61.7h0.9M243.9 57.7h0.9M270.3 51.9h0.9M257.5 74.2h0.9M248.8 57.2h0.9M258.8 73.7h0.9M248.8 85.2h0.9M266.6 53.1h0.9M230.2 55.4h0.9M243.5 66.2h0.9M239.0 84.9h0.9M246.4 48.4h0.9M234.2 62.3h0.9M227.2 56.8h0.9M222.5 49.6h0.9M270.8 55.7h0.9M243.4 56.4h0.9M247.2 67.1h0.9M231.0 60.3h0.9M250.7 81.9h0.9M245.5 57.8h0.9M218.2 52.3h0.9M243.6 55.4h0.9M246.7 52.1h0.9M242.9 62.3h0.9M245.5 85.7h0.9M248.2 50.8h0.9M222.2 63.7h0.9M281.3 71.9h0.9M232.6 58.2h0.9M229.9 63.7h0.9M217.8 95.1h0.9M245.9 61.2h0.9M242.6 51.6h0.9M265.2 56.6h0.9M255.7 51.7h0.9M222.7 74.2h0.9M249.3 57.8h0.9M221.3 57.6h0.9M267.8 56.2h0.9M227.4 61.1h0.9M224.5 69.0h0.9M263.8 49.9h0.9M241.9 53.8h0.9M239.8 80.3h0.9M248.6 82.4h0.9M224.6 92.9h0.9M221.2 69.8h0.9M228.1 57.1h0.9M239.8 85.1h0.9M236.3 46.8h0.9M271.9 54.3h0.9M241.2 52.7h0.9M231.5 62.9h0.9M222.3 75.9h0.9M236.3 46.3h0.9M257.9 54.4h0.9M239.3 54.4h0.9M242.9 59.7h0.9M216.3 54.9h0.9M270.5 54.9h0.9M254.6 58.6h0.9M218.6 60.3h0.9M236.6 63.8h0.9M252.6 57.3h0.9M261.9 53.3h0.9M260.8 66.3h0.9M231.4 61.7h0.9M278.3 73.0h0.9M248.4 53.1h0.9M222.0 50.0h0.9M229.1 68.4h0.9M222.8 68.2h0.9M248.5 83.8h0.9M220.0 74.2h0.9M222.3 75.5h0.9M269.2 73.1h0.9M215.3 80.0h0.9M219.0 59.9h0.9M275.8 72.4h0.9M266.3 66.1h0.9M254.0 53.3h0.9M234.7 53.7h0.9M216.5 57.0h0.9M261.6 53.5h0.9M224.6 59.5h0.9M254.7 52.0h0.9M240.5 56.1h0.9M250.9 53.0h0.9M227.6 68.2h0.9M243.1 50.0h0.9M217.1 59.0h0.9M229.1 60.7h0.9M225.5 59.0h0.9M217.5 97.9h0.9M235.0 54.0h0.9M236.8 57.0h0.9M242.7 61.2h0.9M240.2 62.6h0.9M243.0 53.6h0.9M240.8 82.4h0.9M228.3 57.8h0.9M266.2 56.4h0.9M258.0 66.6h0.9M226.6 90.3h0.9M236.5 65.9h0.9M264.3 55.1h0.9M263.9 73.8h0.9M236.6 84.3h0.9M245.3 52.8h0.9M216.7 94.5h0.9M216.9 53.8h0.9M239.7 62.4h0.9M239.5 81.4h0.9M230.3 88.3h0.9M240.7 47.5h0.9M268.9 53.2h0.9M218.2 57.5h0.9M219.1 57.7h0.9M269.6 50.2h0.9M225.1 67.7h0.9M265.8 54.4h0.9M220.5 94.1h0.9M220.3 72.7h0.9M277.4 66.0h0.9M228.4 57.2h0.9M222.6 59.4h0.9M237.4 84.1h0.9M224.6 60.2h0.9M238.7 57.9h0.9M246.0 54.8h0.9M234.5 62.0h0.9M263.7 67.7h0.9M218.6 52.8h0.9M246.4 57.0h0.9M219.9 57.5h0.9M224.7 91.4h0.9M237.8 84.1h0.9M237.7 57.5h0.9M229.2 60.4h0.9M260.4 52.5h0.9M224.3 58.8h0.9M228.2 56.4h0.9M278.5 67.3h0.9M219.9 73.6h0.9M221.6 61.8h0.9M263.8 50.5h0.9M231.2 87.3h0.9M249.9 51.2h0.9M226.2 68.1h0.9M219.0 67.0h0.9M249.2 83.1h0.9M262.6 50.5h0.9M216.2 94.3h0.9M231.0 60.4h0.9M253.0 59.7h0.9M238.2 60.4h0.9M241.4 61.0h0.9M230.9 64.5h0.9M246.7 83.8h0.9M238.1 61.6h0.9M240.2 85.2h0.9M223.5 67.5h0.9M244.5 84.8h0.9M246.4 53.3h0.9M263.8 67.2h0.9M216.4 55.4h0.9M219.4 78.7h0.9M225.3 49.0h0.9M251.7 54.4h0.9M251.2 81.6h0.9M235.0 62.5h0.9M251.9 55.4h0.9M218.6 62.3h0.9M243.1 58.6h0.9M266.5 74.7h0.9M285.0 70.5h0.9M223.8 62.0h0.9M220.8 93.9h0.9M271.8 72.8h0.9M229.4 67.7h0.9M220.4 94.6h0.9M240.5 58.7h0.9M222.7 70.4h0.9M262.8 58.2h0.9M226.0 71.7h0.9M271.8 73.4h0.9M261.0 56.6h0.9M265.7 75.0h0.9M238.4 52.2h0.9M226.7 66.8h0.9M235.2 81.6h0.9M244.3 54.5h0.9M225.4 90.8h0.9M241.5 57.5h0.9M226.8 67.8h0.9M262.6 51.9h0.9M244.2 55.0h0.9M258.0 49.3h0.9M281.3 68.4h0.9M238.9 60.5h0.9M238.0 80.3h0.9M267.2 74.5h0.9M266.8 50.6h0.9M230.1 68.7h0.9M226.7 64.3h0.9M240.5 46.4h0.9M216.7 58.7h0.9M261.4 56.0h0.9M246.0 65.8h0.9M232.5 46.1h0.9M242.5 48.6h0.9M245.8 83.2h0.9M220.8 95.5h0.9M227.2 58.3h0.9M236.6 84.1h0.9M253.7 78.6h0.9M216.3 58.2h0.9M284.2 68.5h0.9M227.6 61.4h0.9M241.6 63.3h0.9M228.9 56.7h0.9M240.5 53.5h0.9M233.2 55.0h0.9M231.6 62.8h0.9M255.2 51.2h0.9M241.0 63.5h0.9M277.5 67.6h0.9M236.9 56.1h0.9M229.7 61.3h0.9M272.3 73.6h0.9M277.4 66.4h0.9M264.3 55.2h0.9M259.1 67.0h0.9M243.3 84.9h0.9M255.4 52.7h0.9M238.2 63.8h0.9M244.8 49.6h0.9M230.0 68.8h0.9M217.2 60.8h0.9M237.5 83.3h0.9M260.4 74.0h0.9M262.7 54.6h0.9M235.2 82.9h0.9M247.1 58.4h0.9M225.0 65.9h0.9M246.1 66.4h0.9M228.6 56.5h0.9M247.5 85.2h0.9M267.3 52.2h0.9M243.6 55.6h0.9M257.2 53.7h0.9M219.2 64.0h0.9M262.8 57.2h0.9M224.7 56.7h0.9M221.2 75.8h0.9M240.8 50.0h0.9M225.2 70.5h0.9M222.2 68.6h0.9M217.3 64.0h0.9M251.5 81.1h0.9M244.6 85.4h0.9M238.8 65.3h0.9M268.8 53.3h0.9M223.7 59.1h0.9M260.4 54.5h0.9M234.3 56.8h0.9M226.7 58.9h0.9M232.8 58.0h0.9M261.7 68.0h0.9M248.7 55.4h0.9M234.1 60.6h0.9M226.9 61.8h0.9M225.1 72.7h0.9M274.0 72.9h0.9M275.2 72.7h0.9M221.7 59.3h0.9M238.2 51.2h0.9M227.9 88.3h0.9M274.8 65.9h0.9M237.8 80.4h0.9M243.7 67.0h0.9M244.2 57.4h0.9M247.1 65.8h0.9M258.7 73.9h0.9M228.1 56.5h0.9M242.9 47.5h0.9M245.1 50.8h0.9M261.3 58.3h0.9M241.9 65.9h0.9M236.8 80.9h0.9M248.5 58.9h0.9M240.7 54.3h0.9M235.2 61.3h0.9M262.3 67.4h0.9M251.1 68.2h0.9M221.1 77.5h0.9M241.0 47.6h0.9M246.3 64.3h0.9M229.7 86.5h0.9M243.5 84.6h0.9M234.8 84.6h0.9M283.0 72.5h0.9M282.4 72.9h0.9M218.4 62.1h0.9M223.3 73.9h0.9M226.2 56.5h0.9M274.8 73.4h0.9M254.6 68.2h0.9M239.7 52.0h0.9M232.1 63.6h0.9M237.3 81.8h0.9M235.4 84.0h0.9M276.5 72.2h0.9M230.7 56.7h0.9M245.9 62.9h0.9M228.4 68.3h0.9M222.1 65.4h0.9M249.3 49.0h0.9M257.5 67.3h0.9M236.0 61.2h0.9M235.2 62.4h0.9M236.6 56.2h0.9" stroke="#2a3cff" stroke-width="0.9" opacity="0.85" fill="none"/>
<path d="M250.4 69.7h0.9M215.4 88.8h0.9M267.7 69.3h0.9M232.6 48.4h0.9M234.7 70.2h0.9M245.0 76.0h0.9M216.3 89.9h0.9M220.1 88.3h0.9M228.2 81.1h0.9M229.0 52.9h0.9M242.4 81.3h0.9M281.4 68.6h0.9M225.6 81.8h0.9M217.4 83.1h0.9M239.3 73.5h0.9M254.0 73.1h0.9M226.1 74.5h0.9M225.9 82.4h0.9M258.4 71.9h0.9M230.3 73.9h0.9M237.7 66.8h0.9M230.7 85.1h0.9M230.5 54.6h0.9M225.3 87.6h0.9M216.4 86.7h0.9M234.6 73.5h0.9M238.3 71.3h0.9M218.3 81.3h0.9M230.3 51.1h0.9M262.7 71.5h0.9M243.3 75.1h0.9M215.6 84.0h0.9M226.2 82.2h0.9M224.0 86.4h0.9M250.3 72.5h0.9M239.5 70.7h0.9M233.3 50.2h0.9M255.1 70.6h0.9M244.9 80.5h0.9M219.2 82.5h0.9M228.4 80.4h0.9M236.6 68.4h0.9M224.3 88.3h0.9M243.8 71.5h0.9M251.3 79.3h0.9M216.0 88.3h0.9M234.1 72.8h0.9M274.4 70.9h0.9M226.7 80.4h0.9M274.2 68.0h0.9M244.0 74.9h0.9M269.0 67.9h0.9M267.1 71.5h0.9M219.7 82.2h0.9M272.7 70.9h0.9M246.4 82.4h0.9M249.7 73.3h0.9M217.3 87.6h0.9M268.3 70.5h0.9M227.8 82.3h0.9M247.4 81.2h0.9M230.2 82.8h0.9M219.4 87.7h0.9M221.4 84.0h0.9M242.2 66.9h0.9M228.0 85.4h0.9M218.9 90.9h0.9M256.1 69.9h0.9M229.4 52.2h0.9M231.6 77.0h0.9M229.9 75.1h0.9M227.7 77.8h0.9M229.6 79.3h0.9M245.1 81.6h0.9M235.9 74.7h0.9M219.1 84.6h0.9M243.6 76.5h0.9M259.9 69.1h0.9M223.5 88.6h0.9M223.0 84.3h0.9M224.7 82.7h0.9M232.2 77.9h0.9M218.1 83.0h0.9M221.7 84.0h0.9M220.0 54.0h0.9M243.5 73.2h0.9M232.7 81.4h0.9M217.5 86.2h0.9M216.2 81.4h0.9M218.7 80.3h0.9M221.8 89.6h0.9M255.0 73.6h0.9M245.8 74.3h0.9M246.0 80.1h0.9M222.1 78.4h0.9M246.3 69.7h0.9M230.9 73.2h0.9M235.2 75.7h0.9M218.3 86.2h0.9M245.1 75.8h0.9M241.9 68.7h0.9M244.8 80.6h0.9M215.8 86.7h0.9M233.1 83.0h0.9M228.6 82.3h0.9M227.6 80.4h0.9M221.8 88.6h0.9M226.0 72.7h0.9M220.4 83.4h0.9M249.6 75.6h0.9M237.4 69.0h0.9M251.2 70.8h0.9M223.3 54.8h0.9M232.2 68.8h0.9M223.1 76.3h0.9M254.7 69.2h0.9M240.7 67.3h0.9M242.4 73.9h0.9M225.6 83.1h0.9M224.4 77.3h0.9M226.5 80.6h0.9M219.5 81.3h0.9M225.0 85.6h0.9M223.8 90.4h0.9M270.9 68.3h0.9M268.2 69.8h0.9M244.1 73.7h0.9M225.4 86.3h0.9M232.4 77.8h0.9M249.0 74.7h0.9M222.0 86.7h0.9M233.7 76.1h0.9M252.9 76.9h0.9M228.9 76.2h0.9M279.4 71.3h0.9M225.5 85.4h0.9M217.8 82.7h0.9M217.9 86.9h0.9M280.0 68.5h0.9M280.7 70.6h0.9M237.6 77.4h0.9M246.9 76.0h0.9M226.5 84.6h0.9M253.4 74.0h0.9M224.8 83.2h0.9M224.2 86.5h0.9M253.7 71.5h0.9M236.4 75.4h0.9M268.6 70.0h0.9M244.3 68.2h0.9M236.5 49.5h0.9M217.3 88.8h0.9M226.7 86.5h0.9M243.2 71.7h0.9M232.7 71.0h0.9M223.9 84.2h0.9M225.3 82.2h0.9M218.4 89.6h0.9M249.4 73.6h0.9M249.3 77.7h0.9M232.0 78.7h0.9M233.7 70.0h0.9M239.8 79.1h0.9M237.2 50.4h0.9M221.2 86.7h0.9M259.6 70.7h0.9M234.7 47.2h0.9M246.6 74.8h0.9M219.8 82.0h0.9M229.0 70.7h0.9M218.2 86.3h0.9M247.4 70.5h0.9M220.9 83.9h0.9M232.9 74.0h0.9M255.1 73.0h0.9M224.3 76.7h0.9M224.3 85.0h0.9M226.9 81.9h0.9M240.8 73.7h0.9M222.2 79.2h0.9M249.2 74.9h0.9M229.5 53.7h0.9M241.6 74.1h0.9M275.3 71.4h0.9M220.9 56.1h0.9M247.3 73.9h0.9M231.6 73.6h0.9M240.0 47.7h0.9M258.9 71.6h0.9M240.4 73.4h0.9M242.9 77.3h0.9M264.9 72.4h0.9M220.8 89.1h0.9M260.6 70.6h0.9M219.1 81.3h0.9M227.3 83.8h0.9M245.9 77.3h0.9M220.8 80.1h0.9M267.7 72.1h0.9M278.4 68.0h0.9M235.5 49.6h0.9M275.9 70.9h0.9M280.5 69.5h0.9M262.6 70.6h0.9M234.1 77.0h0.9M228.2 50.8h0.9M228.7 81.3h0.9M234.4 51.4h0.9M234.7 70.6h0.9M231.3 47.8h0.9M277.1 68.0h0.9M251.7 69.1h0.9M250.4 70.7h0.9M218.1 54.7h0.9M224.3 53.0h0.9M240.8 77.6h0.9M220.5 90.3h0.9M225.5 84.5h0.9M218.5 83.9h0.9M279.5 70.2h0.9M248.3 73.5h0.9M231.3 80.4h0.9M224.5 85.0h0.9M225.9 73.8h0.9M234.8 69.8h0.9M228.9 51.5h0.9M232.4 51.1h0.9M225.7 86.6h0.9M240.8 75.1h0.9M218.4 83.0h0.9M219.8 80.4h0.9M241.9 67.9h0.9M228.7 76.7h0.9M229.0 75.4h0.9M277.8 71.3h0.9M234.2 79.6h0.9M218.7 91.7h0.9M216.0 91.2h0.9M230.0 78.7h0.9M235.3 52.7h0.9M269.8 68.2h0.9M254.3 74.1h0.9M227.5 81.0h0.9M259.6 72.4h0.9M241.4 72.9h0.9M254.2 70.7h0.9M234.0 72.6h0.9M235.2 49.0h0.9M216.5 90.8h0.9M219.5 91.9h0.9M235.1 77.7h0.9M237.9 75.8h0.9M218.5 89.3h0.9M232.1 78.2h0.9M223.6 90.2h0.9M234.1 79.6h0.9M233.4 52.2h0.9M236.3 79.3h0.9M229.4 50.7h0.9M230.0 53.2h0.9M229.3 74.6h0.9M254.7 73.7h0.9M231.1 49.6h0.9M245.8 68.7h0.9M224.9 84.9h0.9M266.4 72.3h0.9M246.5 69.2h0.9M272.5 67.8h0.9M231.4 75.8h0.9M220.0 85.5h0.9M246.4 71.4h0.9M221.2 84.3h0.9M247.2 73.6h0.9M225.8 83.1h0.9M248.5 70.8h0.9M282.2 70.4h0.9M238.1 66.4h0.9M240.5 75.2h0.9M222.4 85.1h0.9M238.8 75.4h0.9M236.5 67.3h0.9M262.3 72.0h0.9M273.6 68.4h0.9M234.3 48.7h0.9M243.5 72.0h0.9M249.1 77.8h0.9M221.6 83.3h0.9M261.3 70.0h0.9M249.3 74.2h0.9M227.5 55.3h0.9M220.6 88.3h0.9M224.7 78.2h0.9M227.2 79.3h0.9M219.0 53.1h0.9M247.8 77.0h0.9M275.1 71.4h0.9M218.7 86.1h0.9M229.7 50.8h0.9M232.4 80.3h0.9M224.3 88.7h0.9M269.5 71.9h0.9M226.3 82.2h0.9M238.0 50.4h0.9M262.6 71.5h0.9M217.8 80.3h0.9M228.5 52.8h0.9M218.1 91.0h0.9M237.9 69.6h0.9M245.6 71.1h0.9M225.3 81.8h0.9M231.5 73.2h0.9M254.8 69.3h0.9M220.5 83.6h0.9M252.5 75.1h0.9M219.2 87.0h0.9M216.6 90.3h0.9M229.3 76.6h0.9M251.7 73.3h0.9M257.7 69.5h0.9M231.0 80.2h0.9M226.7 50.5h0.9M226.3 80.5h0.9M221.1 84.9h0.9M220.1 54.5h0.9M222.7 86.6h0.9M246.8 69.8h0.9M238.5 48.6h0.9M229.2 78.8h0.9M247.2 78.8h0.9M230.3 82.2h0.9M248.5 73.5h0.9M221.4 89.0h0.9M233.7 74.0h0.9M266.7 68.6h0.9M247.7 74.4h0.9M218.6 91.2h0.9M226.9 72.1h0.9M248.2 82.1h0.9M253.9 73.2h0.9M219.5 89.0h0.9M228.8 80.7h0.9M221.2 88.4h0.9M276.3 68.0h0.9M224.2 54.4h0.9M225.4 88.1h0.9M232.7 75.1h0.9M237.7 72.0h0.9M270.3 71.1h0.9M248.4 72.7h0.9M230.0 51.4h0.9M233.3 52.5h0.9M237.2 68.0h0.9M258.5 68.8h0.9M247.1 75.2h0.9M223.0 89.0h0.9M232.6 51.0h0.9M230.6 74.9h0.9M219.4 90.6h0.9M247.1 72.0h0.9M225.4 83.9h0.9M246.2 73.3h0.9M248.2 78.9h0.9M223.0 55.7h0.9M270.5 69.4h0.9M271.0 72.5h0.9M231.0 77.1h0.9M223.0 84.3h0.9M224.7 56.0h0.9M231.3 77.3h0.9M268.0 70.0h0.9M244.2 78.7h0.9M234.1 71.6h0.9M225.3 73.2h0.9M246.7 70.1h0.9M259.5 68.8h0.9M221.9 91.5h0.9M277.2 68.1h0.9M216.7 84.5h0.9M234.3 52.9h0.9M219.5 53.7h0.9M218.8 81.5h0.9M224.4 86.2h0.9M235.9 77.1h0.9M223.3 51.3h0.9M221.0 84.6h0.9M251.3 72.4h0.9M222.3 85.0h0.9M232.8 50.2h0.9M215.7 85.0h0.9M238.8 73.7h0.9M228.6 77.5h0.9M279.0 71.3h0.9M235.1 78.5h0.9M227.8 77.9h0.9M225.7 83.3h0.9M230.1 75.7h0.9M222.7 85.7h0.9M252.1 74.5h0.9M217.9 84.1h0.9M229.9 75.8h0.9M248.4 76.3h0.9M227.3 85.5h0.9M220.8 54.3h0.9M226.1 78.1h0.9M220.1 91.2h0.9M220.0 87.6h0.9M263.6 68.4h0.9M248.2 72.1h0.9M221.5 86.1h0.9M222.3 89.3h0.9M223.7 91.3h0.9M242.5 74.2h0.9M219.4 80.5h0.9M247.3 74.2h0.9M215.2 91.9h0.9M243.8 76.8h0.9M215.5 86.3h0.9M248.6 75.0h0.9M248.7 78.3h0.9M244.2 77.5h0.9M215.2 88.9h0.9M231.3 70.6h0.9M275.5 71.9h0.9M249.3 73.1h0.9M219.9 54.9h0.9M230.7 49.7h0.9M244.3 76.7h0.9M261.5 69.5h0.9M223.6 90.9h0.9M249.0 76.7h0.9M224.3 51.0h0.9M261.1 70.4h0.9M226.8 74.9h0.9M225.7 51.0h0.9M218.1 55.9h0.9M219.5 86.4h0.9M229.5 79.3h0.9M244.8 80.1h0.9M240.4 69.8h0.9M247.8 74.4h0.9M247.6 70.0h0.9M240.4 68.4h0.9M221.0 84.7h0.9M223.4 89.0h0.9M222.2 84.3h0.9M215.5 84.8h0.9M245.3 73.6h0.9M243.7 72.2h0.9M220.4 86.1h0.9M218.2 80.3h0.9M228.1 82.8h0.9M225.1 74.4h0.9M227.9 51.9h0.9M222.0 82.5h0.9M250.0 68.3h0.9M248.1 76.2h0.9M222.7 52.9h0.9M254.3 70.3h0.9M243.0 74.0h0.9M223.9 52.0h0.9M246.1 74.4h0.9M273.4 67.6h0.9M220.4 83.7h0.9M241.4 71.3h0.9M225.3 73.1h0.9M262.9 71.1h0.9M250.0 70.8h0.9M221.7 53.8h0.9M234.7 75.4h0.9M272.7 72.4h0.9M237.8 68.9h0.9M218.3 88.5h0.9M248.6 78.0h0.9M259.0 69.5h0.9M215.8 86.5h0.9M244.2 68.4h0.9M225.4 77.6h0.9M225.4 52.1h0.9M271.4 69.6h0.9M263.3 71.3h0.9M235.4 49.9h0.9M274.6 68.7h0.9M247.8 79.0h0.9M245.8 78.3h0.9M236.6 72.4h0.9M247.7 69.2h0.9M234.8 81.4h0.9M227.2 74.1h0.9M234.2 50.5h0.9M221.6 79.1h0.9M236.9 48.3h0.9M232.5 79.4h0.9M238.3 69.8h0.9M218.5 89.4h0.9M228.1 84.5h0.9M230.9 53.2h0.9M248.4 75.7h0.9M231.5 70.3h0.9M249.6 75.7h0.9M220.6 87.2h0.9M241.5 76.0h0.9M227.2 53.4h0.9M227.2 51.1h0.9M224.3 87.4h0.9M234.0 53.0h0.9M231.1 78.9h0.9M240.5 76.7h0.9M233.5 78.8h0.9M225.1 54.8h0.9M250.2 73.9h0.9M243.6 70.3h0.9M221.5 56.8h0.9M249.4 81.1h0.9M233.9 72.3h0.9M219.8 85.9h0.9M260.1 69.2h0.9M232.2 52.8h0.9M226.2 54.8h0.9M264.7 70.1h0.9M225.4 90.1h0.9M221.4 53.8h0.9M251.6 75.7h0.9M221.3 82.1h0.9M227.9 86.2h0.9M262.3 68.1h0.9M229.8 83.8h0.9M235.7 72.9h0.9M249.2 73.8h0.9M218.2 90.9h0.9M225.3 51.3h0.9M231.1 79.1h0.9M237.4 49.5h0.9M253.4 70.4h0.9M219.5 79.5h0.9M229.3 82.2h0.9M274.8 69.8h0.9M270.2 69.2h0.9M249.1 74.5h0.9M241.8 78.4h0.9M272.2 70.4h0.9M244.5 73.4h0.9M218.4 87.0h0.9M247.0 75.5h0.9M216.0 84.0h0.9M243.4 77.4h0.9M225.2 49.8h0.9M221.4 53.9h0.9M266.9 68.2h0.9M218.8 81.6h0.9M227.8 50.7h0.9M226.5 82.8h0.9M227.0 52.7h0.9M270.2 68.9h0.9M232.8 77.8h0.9M219.7 53.9h0.9M234.4 68.2h0.9M264.6 72.6h0.9M220.0 85.6h0.9M268.1 69.2h0.9M252.4 76.9h0.9M230.8 80.3h0.9M237.8 71.7h0.9M251.8 75.8h0.9M225.8 52.1h0.9M230.5 50.5h0.9M225.7 53.2h0.9M249.1 74.8h0.9M263.7 73.1h0.9M247.0 81.2h0.9M218.3 83.2h0.9M243.7 71.6h0.9M270.1 70.8h0.9M216.5 87.6h0.9M247.7 72.8h0.9M230.4 49.4h0.9M217.6 88.2h0.9M272.8 71.6h0.9M233.6 70.8h0.9M246.1 75.0h0.9M256.2 73.2h0.9M224.1 56.0h0.9M228.3 81.2h0.9M275.3 69.5h0.9M235.5 51.7h0.9M243.9 80.5h0.9M226.0 56.0h0.9M215.7 85.6h0.9M244.0 78.7h0.9M253.5 71.2h0.9M217.6 83.5h0.9M240.9 79.6h0.9M228.1 53.9h0.9M247.0 74.7h0.9M279.7 69.4h0.9M228.0 86.2h0.9M240.8 71.1h0.9M249.3 75.7h0.9M229.8 78.3h0.9M240.8 76.0h0.9M247.0 72.1h0.9M250.3 76.5h0.9M238.4 71.9h0.9M234.7 79.9h0.9M230.6 48.9h0.9M268.1 68.5h0.9M221.0 51.7h0.9M246.6 72.1h0.9M223.3 86.1h0.9M220.6 85.9h0.9M219.3 87.2h0.9M238.5 68.8h0.9M226.7 52.9h0.9M245.4 74.0h0.9M224.7 79.2h0.9M228.8 79.1h0.9M224.6 85.8h0.9M240.6 77.1h0.9M271.1 68.5h0.9M243.1 72.6h0.9M254.8 71.1h0.9M221.3 87.8h0.9M242.2 70.9h0.9M278.5 69.0h0.9M263.2 72.7h0.9M269.6 71.0h0.9M217.5 84.4h0.9M224.2 50.4h0.9M223.3 91.8h0.9M234.4 79.3h0.9M229.9 76.2h0.9M263.7 69.3h0.9M233.1 68.4h0.9M246.9 81.9h0.9M223.5 80.8h0.9M242.9 79.6h0.9M216.8 82.6h0.9M251.7 74.6h0.9M227.0 56.0h0.9M225.5 55.6h0.9M244.8 70.0h0.9M218.2 85.2h0.9M246.6 69.8h0.9M250.9 77.4h0.9M244.6 72.6h0.9M237.4 68.5h0.9M224.2 52.8h0.9M247.4 72.8h0.9M231.9 70.1h0.9M245.8 69.2h0.9M250.9 71.8h0.9M247.6 80.1h0.9M222.2 89.6h0.9M218.4 85.0h0.9M217.4 88.6h0.9M244.8 72.1h0.9M218.9 86.9h0.9M238.6 75.3h0.9M217.4 92.5h0.9M236.6 66.7h0.9M237.3 67.8h0.9M231.1 49.9h0.9M224.2 52.8h0.9M224.9 85.3h0.9M226.7 71.7h0.9M255.6 71.7h0.9M233.3 73.5h0.9M228.9 76.8h0.9M234.1 73.5h0.9M230.3 69.7h0.9M248.2 68.7h0.9M223.6 89.1h0.9M230.5 76.8h0.9M233.1 52.3h0.9M236.8 48.8h0.9M219.4 82.5h0.9M228.0 86.2h0.9M215.2 88.3h0.9M220.2 85.4h0.9M254.4 71.6h0.9M247.7 77.2h0.9M276.2 69.5h0.9M252.9 69.8h0.9M249.6 76.2h0.9M220.2 85.5h0.9M262.8 68.5h0.9M242.2 77.3h0.9M228.9 86.0h0.9M221.0 55.9h0.9M229.5 51.3h0.9M218.6 81.6h0.9M246.4 77.3h0.9M247.9 70.4h0.9M247.6 70.5h0.9M231.0 74.1h0.9M250.3 70.5h0.9M241.7 68.5h0.9M217.6 89.7h0.9M215.9 92.6h0.9M234.2 48.6h0.9M231.8 81.1h0.9M261.4 69.2h0.9M258.9 69.8h0.9M246.6 70.3h0.9M217.7 87.3h0.9M237.3 68.1h0.9M251.4 75.2h0.9M242.8 67.5h0.9M271.6 72.4h0.9M233.2 78.2h0.9M270.4 69.4h0.9M223.6 52.8h0.9M226.1 79.2h0.9M239.9 49.2h0.9M224.3 51.7h0.9M222.9 81.1h0.9M217.8 89.3h0.9M252.3 73.7h0.9M256.3 71.8h0.9M218.9 82.6h0.9M224.5 79.6h0.9M230.3 78.3h0.9M240.1 79.9h0.9M218.8 86.0h0.9M242.0 71.0h0.9M225.9 84.9h0.9M224.5 52.9h0.9M223.8 87.8h0.9M218.7 82.9h0.9M225.7 86.0h0.9M236.5 48.2h0.9M273.3 67.7h0.9M224.3 53.7h0.9M235.0 52.0h0.9M227.6 76.1h0.9M264.6 72.7h0.9M245.8 72.1h0.9M262.9 69.6h0.9M219.5 54.9h0.9M252.1 77.6h0.9M220.8 84.6h0.9M225.2 89.9h0.9M249.5 74.7h0.9M239.9 74.2h0.9M281.7 69.9h0.9M234.7 80.9h0.9M251.1 75.7h0.9M216.9 86.2h0.9M232.1 49.7h0.9M254.7 74.4h0.9M223.0 86.2h0.9M266.2 70.4h0.9M216.6 85.8h0.9M245.5 71.2h0.9M221.6 92.7h0.9M228.2 53.5h0.9M254.1 71.9h0.9M243.7 72.0h0.9M222.1 81.3h0.9M235.5 77.0h0.9M259.1 68.7h0.9M222.9 88.2h0.9M227.4 72.0h0.9M225.3 80.8h0.9M232.0 50.7h0.9M234.6 47.7h0.9M237.1 48.9h0.9M258.1 68.8h0.9M229.3 79.1h0.9M267.5 71.4h0.9M233.4 75.0h0.9M248.7 77.5h0.9M231.3 74.8h0.9M241.7 80.0h0.9M221.5 86.5h0.9M228.1 72.4h0.9M232.4 78.4h0.9M246.4 71.0h0.9M229.0 78.8h0.9M216.2 88.9h0.9M251.6 74.8h0.9M237.0 49.5h0.9M258.6 72.2h0.9M223.2 82.7h0.9M254.0 74.8h0.9M241.7 75.8h0.9M276.7 68.3h0.9M229.7 52.7h0.9M241.7 79.4h0.9M218.8 80.1h0.9M233.1 48.5h0.9M236.6 70.9h0.9M230.0 85.2h0.9M224.6 86.2h0.9M248.1 77.1h0.9M227.9 52.9h0.9M228.8 78.0h0.9M221.1 85.9h0.9M217.2 84.9h0.9M236.8 51.2h0.9M236.7 72.1h0.9M256.7 72.6h0.9M221.9 88.9h0.9M239.7 76.3h0.9M247.3 73.0h0.9M232.6 77.5h0.9M235.6 72.9h0.9M225.3 81.3h0.9M241.9 77.6h0.9M235.1 74.5h0.9M261.3 70.9h0.9M215.7 87.8h0.9M244.4 76.9h0.9M243.4 75.6h0.9M226.5 50.5h0.9M239.0 48.7h0.9M228.7 84.5h0.9M228.6 75.4h0.9M249.0 73.4h0.9M219.7 86.9h0.9M221.9 88.7h0.9M272.0 71.3h0.9M233.6 78.4h0.9M216.1 81.9h0.9M251.8 73.7h0.9M225.6 83.7h0.9M240.7 79.9h0.9M224.8 84.1h0.9M238.5 72.2h0.9M244.6 73.8h0.9M255.6 68.9h0.9M218.3 94.0h0.9M248.5 72.2h0.9M247.3 75.3h0.9M228.1 52.3h0.9M226.4 81.0h0.9M234.8 73.3h0.9M228.6 82.8h0.9M271.7 71.3h0.9M227.8 80.3h0.9M231.7 82.1h0.9M243.1 79.2h0.9M220.7 81.9h0.9M230.9 77.2h0.9M227.3 85.0h0.9M233.4 50.7h0.9M232.7 81.9h0.9M252.3 77.1h0.9M235.3 67.1h0.9M246.7 77.0h0.9M227.8 80.6h0.9M238.7 47.7h0.9M233.0 51.5h0.9M274.1 68.4h0.9M230.8 75.3h0.9M232.4 51.6h0.9M248.6 76.0h0.9M227.1 87.3h0.9M220.9 79.7h0.9M231.9 82.7h0.9M274.4 69.5h0.9M265.7 71.0h0.9M225.9 53.5h0.9M230.3 77.9h0.9M215.7 83.6h0.9M270.8 72.6h0.9M241.2 76.6h0.9M274.0 68.6h0.9M249.3 77.4h0.9M244.0 70.6h0.9M230.6 82.3h0.9M248.3 79.2h0.9M233.4 77.3h0.9M233.1 50.7h0.9M219.8 91.1h0.9M240.9 71.7h0.9M220.6 82.8h0.9M244.7 77.6h0.9M219.9 84.7h0.9M280.4 68.6h0.9M232.7 76.9h0.9M227.6 50.8h0.9M244.3 79.0h0.9M249.4 78.5h0.9M243.2 72.0h0.9M223.6 54.6h0.9M217.7 86.2h0.9M265.2 69.4h0.9M228.7 83.3h0.9M238.4 76.7h0.9M222.7 91.0h0.9M216.5 91.6h0.9M231.8 76.6h0.9M237.3 74.3h0.9M230.7 77.0h0.9M248.5 78.6h0.9M233.8 71.0h0.9M223.5 79.2h0.9M278.8 68.6h0.9M234.9 74.5h0.9M230.7 84.0h0.9M225.8 52.0h0.9M231.7 81.9h0.9M226.2 88.8h0.9M228.5 77.9h0.9M254.7 72.7h0.9M218.2 90.5h0.9M226.1 76.4h0.9M215.2 82.9h0.9M227.3 54.8h0.9M246.9 71.9h0.9M236.1 72.1h0.9M238.3 72.3h0.9M253.8 72.0h0.9M258.2 70.5h0.9M229.3 54.2h0.9M228.5 49.6h0.9M243.2 70.8h0.9M216.5 81.8h0.9M275.3 68.4h0.9M220.0 87.1h0.9M221.7 85.7h0.9M240.5 66.9h0.9M274.7 71.8h0.9M269.2 67.9h0.9M275.7 70.9h0.9M215.3 86.2h0.9M226.9 78.3h0.9M231.0 53.9h0.9M220.6 82.7h0.9M224.8 83.4h0.9M244.4 69.5h0.9M232.8 70.3h0.9M219.8 82.0h0.9M225.5 85.5h0.9M234.1 51.5h0.9M254.9 68.8h0.9M218.5 89.1h0.9M264.6 68.7h0.9M217.3 81.2h0.9M219.8 83.5h0.9M240.5 75.1h0.9M233.1 82.2h0.9M247.3 79.5h0.9M234.4 80.5h0.9M241.6 70.7h0.9M217.4 83.3h0.9M223.3 54.7h0.9M232.5 80.0h0.9M221.5 87.4h0.9M249.7 69.2h0.9M221.4 81.8h0.9M232.4 81.5h0.9M244.5 77.4h0.9M220.8 90.2h0.9M228.1 87.0h0.9M233.3 80.2h0.9M224.1 84.1h0.9M273.6 69.8h0.9M224.6 84.1h0.9M229.6 74.8h0.9M231.5 52.3h0.9M238.6 75.6h0.9M231.4 74.3h0.9M225.7 55.6h0.9M249.7 76.0h0.9M246.5 76.8h0.9M259.1 73.0h0.9M237.3 71.5h0.9M244.3 71.1h0.9M237.6 67.9h0.9M225.8 76.3h0.9M218.1 85.3h0.9M221.0 83.0h0.9M243.4 76.7h0.9M216.1 88.6h0.9M263.0 70.1h0.9M236.7 48.1h0.9M219.7 90.6h0.9M235.3 75.1h0.9M222.2 86.7h0.9M244.5 78.8h0.9M270.3 70.2h0.9M239.0 77.0h0.9M229.7 70.8h0.9M223.7 87.9h0.9M224.4 88.1h0.9M217.3 86.2h0.9M253.6 74.6h0.9M245.1 73.1h0.9M223.2 83.3h0.9M222.6 53.2h0.9M227.1 82.2h0.9M217.2 83.9h0.9M226.9 76.4h0.9M229.5 86.3h0.9M216.7 85.8h0.9M238.2 67.1h0.9M246.2 75.1h0.9M243.4 80.9h0.9M239.1 67.5h0.9M219.4 85.9h0.9M228.8 85.4h0.9M261.8 72.0h0.9M219.3 79.8h0.9M228.7 50.5h0.9M274.6 70.4h0.9M247.6 77.8h0.9M274.6 70.3h0.9M255.0 70.9h0.9M276.7 71.3h0.9M246.1 68.5h0.9M273.6 69.3h0.9M233.4 48.6h0.9M219.2 84.4h0.9M221.0 83.5h0.9M239.0 75.5h0.9M247.0 69.8h0.9M237.9 49.7h0.9M237.4 70.0h0.9M248.6 70.8h0.9M269.0 70.3h0.9M231.3 77.4h0.9M240.7 73.0h0.9M240.8 66.7h0.9M217.4 55.0h0.9M215.9 89.6h0.9M225.0 76.5h0.9M229.8 54.0h0.9M221.6 92.4h0.9M228.8 49.4h0.9M255.1 71.8h0.9M241.8 68.9h0.9M233.8 70.4h0.9M249.9 74.8h0.9M240.1 70.7h0.9M222.7 54.3h0.9M268.5 72.1h0.9M225.1 73.3h0.9M223.3 88.5h0.9M247.8 70.0h0.9M215.4 88.7h0.9M223.1 79.3h0.9M222.3 86.5h0.9M215.9 88.0h0.9M219.3 52.7h0.9M220.3 91.8h0.9M221.8 87.7h0.9M234.8 51.1h0.9M243.5 79.0h0.9M255.7 69.0h0.9M215.5 84.9h0.9M224.1 50.7h0.9M226.2 53.0h0.9M222.5 89.8h0.9M227.5 55.6h0.9M247.6 79.3h0.9M222.8 79.0h0.9M224.8 85.5h0.9M221.5 80.1h0.9M219.2 83.3h0.9M222.5 91.5h0.9M253.1 70.3h0.9M239.4 72.7h0.9M219.7 82.7h0.9M232.8 48.8h0.9M257.3 69.8h0.9M264.5 71.3h0.9M238.4 72.7h0.9M240.4 71.9h0.9M223.3 88.4h0.9M223.1 79.4h0.9M226.0 84.1h0.9M233.8 50.0h0.9M242.2 79.1h0.9M218.7 93.7h0.9M230.2 84.8h0.9M246.6 78.9h0.9M235.7 48.1h0.9M244.2 77.2h0.9M223.9 82.5h0.9M225.2 79.3h0.9M232.1 53.3h0.9M246.0 78.6h0.9M267.3 71.1h0.9M248.0 72.8h0.9M215.5 87.5h0.9M224.1 77.7h0.9M230.5 80.0h0.9M223.7 81.0h0.9M239.3 49.1h0.9M267.4 70.2h0.9M223.8 89.0h0.9M235.8 50.0h0.9M248.6 72.1h0.9M233.8 49.7h0.9M232.9 71.8h0.9M223.4 56.5h0.9M241.5 71.2h0.9M222.6 88.8h0.9M258.7 71.1h0.9M243.5 70.5h0.9M228.5 71.6h0.9M217.4 91.2h0.9M249.7 75.4h0.9M249.3 70.3h0.9M228.3 52.9h0.9M250.2 69.3h0.9M244.3 73.1h0.9M255.1 73.1h0.9M237.4 70.9h0.9M222.6 83.7h0.9M275.6 68.4h0.9M223.3 88.4h0.9M250.5 71.6h0.9M241.7 76.5h0.9M243.9 76.3h0.9M254.4 72.6h0.9M219.5 80.4h0.9M237.2 47.5h0.9M247.2 78.0h0.9M248.9 69.0h0.9M220.5 53.5h0.9M254.5 70.6h0.9M242.6 76.3h0.9M223.8 88.6h0.9M225.3 79.2h0.9M226.5 50.5h0.9M275.1 70.3h0.9M248.9 70.4h0.9M229.6 80.5h0.9M266.6 70.4h0.9M226.7 51.7h0.9M238.6 75.1h0.9M236.8 74.0h0.9M222.0 84.2h0.9M254.5 69.9h0.9M216.8 87.6h0.9M250.9 72.6h0.9M240.8 77.6h0.9M253.0 74.8h0.9M247.1 76.4h0.9M247.2 74.6h0.9M238.3 74.2h0.9M237.3 70.1h0.9M221.2 55.1h0.9M241.3 73.2h0.9M249.4 76.8h0.9M221.5 54.8h0.9M225.0 86.0h0.9M223.5 81.7h0.9M247.1 79.8h0.9M217.6 84.7h0.9M234.1 71.1h0.9M231.7 53.8h0.9M230.3 77.5h0.9M242.7 68.9h0.9M220.8 52.2h0.9M228.9 84.2h0.9M231.1 77.4h0.9M238.2 73.6h0.9M217.6 85.7h0.9M229.3 72.7h0.9M219.0 92.1h0.9M221.5 53.8h0.9M245.1 74.7h0.9M250.2 75.1h0.9M219.0 86.1h0.9M254.5 71.9h0.9M226.0 79.6h0.9M268.1 73.1h0.9M230.0 70.3h0.9M274.4 71.0h0.9M224.0 52.5h0.9M225.1 85.7h0.9M221.5 93.1h0.9M226.9 87.7h0.9M249.8 73.8h0.9M237.0 69.0h0.9M237.7 73.0h0.9M216.7 91.3h0.9M227.5 83.9h0.9M244.6 73.5h0.9M219.5 90.0h0.9M223.2 78.0h0.9M243.2 78.5h0.9M231.6 78.9h0.9M237.6 67.3h0.9M232.6 76.0h0.9M225.2 80.5h0.9M228.4 50.9h0.9M277.2 69.5h0.9M250.6 70.4h0.9M262.8 69.2h0.9M269.0 69.6h0.9M243.2 73.3h0.9M243.4 74.3h0.9M239.2 72.5h0.9M219.3 82.1h0.9M218.8 90.3h0.9M267.5 70.1h0.9M221.5 82.6h0.9M234.3 72.0h0.9M248.2 70.4h0.9M225.7 88.0h0.9M261.2 70.3h0.9M232.6 52.8h0.9M219.3 82.0h0.9M235.5 66.7h0.9M249.9 80.7h0.9M251.3 78.3h0.9M247.0 74.3h0.9M230.2 84.2h0.9M229.6 51.8h0.9M230.1 71.9h0.9M246.7 77.2h0.9M242.9 76.2h0.9M245.9 70.9h0.9M228.3 53.7h0.9M237.0 48.8h0.9M215.2 83.7h0.9M245.2 68.4h0.9M225.6 72.9h0.9M218.4 79.9h0.9M234.8 50.6h0.9M226.3 55.1h0.9M226.8 54.4h0.9M241.0 73.2h0.9M249.9 74.7h0.9M251.7 69.9h0.9M256.7 72.5h0.9M228.9 75.9h0.9M241.8 75.8h0.9M229.2 70.2h0.9M235.3 51.7h0.9M234.0 79.3h0.9M222.4 84.2h0.9M232.8 72.7h0.9M217.1 84.1h0.9M227.3 80.3h0.9M229.2 50.4h0.9M216.4 93.7h0.9M215.4 84.7h0.9M217.9 55.0h0.9M244.1 73.7h0.9M252.3 76.2h0.9M234.8 77.1h0.9M256.3 69.3h0.9M230.0 74.9h0.9M222.7 52.6h0.9M240.5 74.4h0.9M244.7 75.4h0.9M272.8 67.7h0.9M218.5 85.9h0.9M240.0 69.4h0.9M263.6 70.7h0.9M229.5 74.5h0.9M224.8 79.2h0.9M245.4 77.1h0.9M247.6 74.8h0.9M238.6 74.8h0.9M222.7 85.9h0.9M251.2 77.4h0.9M238.7 48.3h0.9M249.6 71.7h0.9M222.9 55.5h0.9M270.5 70.9h0.9M216.4 90.5h0.9M251.6 73.7h0.9M216.4 91.2h0.9M232.7 74.0h0.9M232.1 77.2h0.9M230.2 50.5h0.9M252.6 72.2h0.9M238.8 74.1h0.9M243.9 73.2h0.9M221.8 87.9h0.9M263.3 72.9h0.9M248.9 73.4h0.9M250.8 76.2h0.9M230.6 79.3h0.9M225.7 73.8h0.9M229.5 49.3h0.9M227.6 80.3h0.9M243.3 74.3h0.9M222.4 78.0h0.9M227.8 51.9h0.9M233.0 71.0h0.9M252.6 75.0h0.9M246.8 75.9h0.9M247.0 72.0h0.9M233.3 75.5h0.9M227.2 51.8h0.9M220.2 86.0h0.9M238.4 48.8h0.9M233.3 73.0h0.9M232.9 75.6h0.9M235.4 50.0h0.9M244.9 72.5h0.9M226.1 52.3h0.9M241.7 75.8h0.9M224.5 55.6h0.9M230.6 54.4h0.9M226.2 56.1h0.9M248.9 74.4h0.9M217.9 89.2h0.9M223.6 84.4h0.9M236.1 74.4h0.9M275.9 70.1h0.9M230.8 50.9h0.9M236.8 73.5h0.9M219.0 90.4h0.9M217.1 86.1h0.9M261.3 69.8h0.9M226.5 80.1h0.9M221.7 77.9h0.9M240.6 72.1h0.9M229.9 77.2h0.9M248.7 72.5h0.9M236.5 78.5h0.9M242.0 71.8h0.9M247.3 77.3h0.9M224.8 50.5h0.9M239.9 69.4h0.9M231.5 82.8h0.9M273.3 72.1h0.9M230.4 74.8h0.9M253.0 69.1h0.9M245.3 73.7h0.9M236.7 47.5h0.9M220.5 54.3h0.9M222.8 53.6h0.9M218.0 85.0h0.9M249.0 75.5h0.9M217.5 86.3h0.9M231.8 71.3h0.9M227.7 79.1h0.9M229.7 79.1h0.9M236.7 79.6h0.9M234.2 68.5h0.9M225.1 73.0h0.9M228.8 75.3h0.9M257.0 71.3h0.9M227.7 84.7h0.9M225.8 80.4h0.9M244.5 79.5h0.9M227.6 76.5h0.9M217.1 86.9h0.9M233.7 73.0h0.9M217.9 91.8h0.9M265.3 72.1h0.9M223.1 79.3h0.9M232.1 52.3h0.9M250.9 76.6h0.9M244.1 72.3h0.9M255.1 71.0h0.9M247.8 77.5h0.9M227.6 80.3h0.9M227.7 49.6h0.9M231.8 84.4h0.9M232.9 51.9h0.9M250.8 78.7h0.9M224.5 51.5h0.9M241.5 75.5h0.9M219.1 91.4h0.9M224.0 55.9h0.9M222.0 87.1h0.9M219.5 89.7h0.9M222.2 79.7h0.9M240.0 74.1h0.9M224.1 51.8h0.9M221.8 54.6h0.9M228.4 53.2h0.9M244.5 71.5h0.9M218.6 80.1h0.9M259.6 71.4h0.9M229.7 51.6h0.9M231.4 70.1h0.9M231.5 73.9h0.9M229.4 49.4h0.9M235.5 69.2h0.9M274.0 69.4h0.9M233.4 49.5h0.9M232.6 73.3h0.9M225.3 89.3h0.9M245.4 75.0h0.9M238.8 75.7h0.9M229.1 82.1h0.9M226.4 53.5h0.9M223.7 87.5h0.9M234.0 70.4h0.9M228.6 50.3h0.9M226.1 77.0h0.9M254.2 73.1h0.9M230.8 78.4h0.9M242.8 72.9h0.9M247.7 79.1h0.9M244.0 72.3h0.9M271.1 72.4h0.9M230.5 52.0h0.9M229.4 51.2h0.9M260.7 69.2h0.9M263.4 69.3h0.9M235.2 71.1h0.9M217.1 88.0h0.9M269.4 72.4h0.9M254.2 70.2h0.9M228.5 74.4h0.9M217.7 88.9h0.9M230.5 81.8h0.9M245.5 73.9h0.9M221.6 84.7h0.9M276.9 71.8h0.9M224.6 75.2h0.9M221.3 90.9h0.9M240.2 74.4h0.9M222.3 85.2h0.9M235.2 47.6h0.9M280.2 69.7h0.9M226.9 87.3h0.9M234.2 72.5h0.9M237.8 74.8h0.9M247.2 75.8h0.9M235.4 75.6h0.9M227.0 50.2h0.9M249.0 80.9h0.9M250.5 75.8h0.9M232.7 50.9h0.9M239.4 70.1h0.9M237.3 49.4h0.9M246.6 69.0h0.9M238.1 69.6h0.9M223.3 86.4h0.9M225.1 81.1h0.9M236.4 49.8h0.9M250.1 74.6h0.9M258.6 72.1h0.9M240.4 77.2h0.9M243.8 79.5h0.9M225.1 52.4h0.9M273.6 71.7h0.9M216.0 84.3h0.9M265.7 68.3h0.9M230.1 72.8h0.9M235.5 74.2h0.9M248.7 71.9h0.9M234.6 52.6h0.9M248.9 81.8h0.9M252.9 74.0h0.9M240.5 66.8h0.9M249.2 74.7h0.9M229.4 71.0h0.9M226.0 86.8h0.9M242.9 76.2h0.9M245.1 68.6h0.9M229.8 76.1h0.9M243.9 70.0h0.9M228.2 75.2h0.9M236.3 76.6h0.9M219.5 90.8h0.9M238.3 70.5h0.9M247.8 72.3h0.9M226.8 85.6h0.9M224.2 51.6h0.9M243.0 76.8h0.9M220.5 85.2h0.9M228.3 85.9h0.9M227.6 76.2h0.9M277.0 70.2h0.9M248.9 74.1h0.9M234.3 51.2h0.9M229.0 49.8h0.9M244.3 72.5h0.9M222.0 84.1h0.9M226.0 73.4h0.9M223.2 84.4h0.9M232.6 51.4h0.9M244.0 75.8h0.9M274.9 69.1h0.9M245.4 74.9h0.9M248.0 74.5h0.9M217.3 83.8h0.9M216.1 86.5h0.9M230.5 53.2h0.9M218.8 86.6h0.9M249.8 72.5h0.9M257.3 68.6h0.9M227.1 81.1h0.9M236.1 74.5h0.9M244.6 72.7h0.9M262.5 72.6h0.9M215.7 88.4h0.9M218.4 83.3h0.9M217.0 86.5h0.9M245.1 70.7h0.9M228.9 71.9h0.9M221.6 79.3h0.9M217.0 90.3h0.9M251.0 71.8h0.9M225.5 51.6h0.9M232.8 78.9h0.9M218.0 91.8h0.9M245.3 75.1h0.9M233.1 68.8h0.9M250.6 75.8h0.9M219.0 91.7h0.9M259.3 70.3h0.9M226.2 83.5h0.9M245.5 74.8h0.9M239.4 69.8h0.9M218.8 89.1h0.9M242.8 72.9h0.9M233.0 53.6h0.9M222.3 52.8h0.9M244.0 73.8h0.9M251.2 73.7h0.9M219.7 89.9h0.9M232.6 51.2h0.9M264.0 73.0h0.9M218.8 87.2h0.9M222.2 85.3h0.9M222.0 85.4h0.9M242.4 74.0h0.9M250.6 68.9h0.9M227.1 72.8h0.9M248.0 74.5h0.9M246.2 77.0h0.9M232.8 75.9h0.9M250.7 69.8h0.9M242.7 74.2h0.9M238.6 70.2h0.9M216.8 84.9h0.9M229.3 82.3h0.9M221.0 53.5h0.9M233.0 51.2h0.9M242.1 70.5h0.9M267.1 70.7h0.9M262.6 71.2h0.9M257.0 70.6h0.9M226.7 73.4h0.9M249.5 72.5h0.9M241.5 69.3h0.9M248.5 71.7h0.9M244.4 76.7h0.9M242.5 80.1h0.9M219.4 87.1h0.9M248.5 76.8h0.9M226.2 82.9h0.9M247.6 78.1h0.9M253.6 69.4h0.9M220.8 85.9h0.9M243.9 73.6h0.9M225.4 56.0h0.9M226.8 51.2h0.9M245.1 74.5h0.9M229.7 52.8h0.9M251.3 77.4h0.9M247.4 70.6h0.9M215.5 90.8h0.9M230.3 49.8h0.9M245.3 68.0h0.9M241.8 76.0h0.9M220.3 85.2h0.9M229.6 51.5h0.9M269.7 70.0h0.9M230.1 51.7h0.9M230.4 84.7h0.9M221.8 83.9h0.9M259.0 71.8h0.9M247.8 78.8h0.9M245.3 73.7h0.9M241.8 77.8h0.9M241.0 81.0h0.9M224.7 79.9h0.9M242.8 73.9h0.9M242.5 74.9h0.9M216.2 86.0h0.9M262.2 72.2h0.9M229.4 78.5h0.9M226.0 52.1h0.9M247.8 79.1h0.9M225.2 73.4h0.9M218.1 89.0h0.9M243.9 76.2h0.9M239.5 78.3h0.9M224.6 77.3h0.9M239.2 69.1h0.9M222.5 53.8h0.9M228.9 80.6h0.9M218.9 85.8h0.9M260.5 72.9h0.9M230.1 52.9h0.9M247.3 75.4h0.9M224.5 77.3h0.9M218.6 88.1h0.9M219.4 84.3h0.9M220.6 90.8h0.9M223.3 52.4h0.9M223.6 85.5h0.9M242.9 69.4h0.9M238.0 72.8h0.9M244.5 77.0h0.9M223.6 78.0h0.9M249.0 74.9h0.9M220.8 82.3h0.9M221.5 85.5h0.9M225.8 83.2h0.9M225.1 87.7h0.9M247.0 73.3h0.9M233.2 49.6h0.9M274.2 71.4h0.9M219.6 88.7h0.9M217.4 84.8h0.9M227.8 76.0h0.9M229.1 53.3h0.9M244.7 81.1h0.9M221.0 80.8h0.9M219.1 83.9h0.9M236.6 74.5h0.9M221.1 51.8h0.9M245.2 81.8h0.9M262.8 71.1h0.9M224.1 84.3h0.9M219.6 80.9h0.9M256.8 73.4h0.9M235.6 72.7h0.9M227.3 52.3h0.9M217.2 84.1h0.9M259.1 68.7h0.9M250.2 79.1h0.9M276.0 71.9h0.9M231.0 75.9h0.9M226.5 84.3h0.9M222.7 89.0h0.9M226.3 53.5h0.9M224.6 51.6h0.9M249.3 73.7h0.9M221.0 89.6h0.9M234.4 67.6h0.9M216.2 87.6h0.9M242.7 67.7h0.9M234.0 80.8h0.9M221.4 84.7h0.9M219.3 55.9h0.9M240.9 75.6h0.9M228.2 75.5h0.9M215.6 84.4h0.9M227.6 78.0h0.9M229.0 52.9h0.9M231.6 68.4h0.9M247.3 74.7h0.9M229.9 70.4h0.9M233.7 79.7h0.9M222.5 56.2h0.9M221.8 87.7h0.9M232.0 71.5h0.9M231.1 50.3h0.9M225.9 76.6h0.9M218.5 87.0h0.9M251.0 76.7h0.9M260.0 70.5h0.9M238.8 71.1h0.9M227.1 81.3h0.9M221.2 80.3h0.9M266.5 67.8h0.9M238.2 48.7h0.9M231.7 74.1h0.9M261.1 69.1h0.9M221.4 56.5h0.9M281.6 70.6h0.9M226.4 71.8h0.9M222.3 52.2h0.9M231.2 75.9h0.9M219.0 92.7h0.9M246.2 67.8h0.9M241.4 68.3h0.9M241.0 68.8h0.9M234.4 69.6h0.9M230.2 68.9h0.9M224.1 77.9h0.9M270.1 71.9h0.9M238.2 79.4h0.9M252.3 77.7h0.9M252.5 71.8h0.9M216.0 86.5h0.9M280.6 69.9h0.9M228.2 49.9h0.9M217.6 91.8h0.9M227.1 76.3h0.9M216.3 84.0h0.9M232.0 70.0h0.9M228.4 73.4h0.9M217.0 90.7h0.9M231.2 52.7h0.9M233.3 52.3h0.9M219.7 83.9h0.9M225.3 78.2h0.9M241.3 76.5h0.9M227.5 51.5h0.9M250.0 79.6h0.9M244.9 73.4h0.9M224.7 76.7h0.9M220.1 55.3h0.9M246.1 78.4h0.9M215.6 88.5h0.9M219.4 79.6h0.9M230.1 84.1h0.9M225.9 54.9h0.9M223.9 83.2h0.9M248.8 77.3h0.9M235.8 77.8h0.9M245.1 78.6h0.9M221.5 84.6h0.9M245.0 72.7h0.9M272.7 70.5h0.9M239.2 77.5h0.9M230.2 79.7h0.9M275.3 71.9h0.9M265.0 68.2h0.9M240.1 78.4h0.9M237.0 48.8h0.9M221.4 93.2h0.9M229.7 84.4h0.9M253.2 74.6h0.9M226.9 51.0h0.9M227.2 79.0h0.9M224.6 78.7h0.9M222.8 88.4h0.9M263.4 69.4h0.9M228.2 79.7h0.9M219.2 87.5h0.9M281.0 69.8h0.9M227.7 79.4h0.9M229.4 78.9h0.9M220.9 87.6h0.9M234.7 50.7h0.9M249.2 79.9h0.9M245.6 73.1h0.9M219.3 80.7h0.9M223.6 83.1h0.9M217.3 83.2h0.9M225.3 83.2h0.9M235.6 51.0h0.9M225.1 82.3h0.9M238.6 71.5h0.9M223.1 51.3h0.9M235.7 73.0h0.9M228.8 54.4h0.9M222.1 52.5h0.9M272.4 68.7h0.9M244.1 75.5h0.9M219.4 82.9h0.9M240.3 76.3h0.9M224.7 77.6h0.9M236.2 78.7h0.9M243.2 70.5h0.9M233.5 53.0h0.9M229.4 70.1h0.9M246.3 80.2h0.9M229.9 71.5h0.9M272.9 70.7h0.9M258.3 68.5h0.9M232.4 74.0h0.9M243.8 81.5h0.9M231.2 48.1h0.9M249.9 77.3h0.9M228.9 71.3h0.9M219.2 91.6h0.9M224.0 83.2h0.9M233.1 80.7h0.9M233.6 53.3h0.9M230.0 50.3h0.9M240.6 76.9h0.9M240.9 70.8h0.9M251.4 73.6h0.9M245.7 73.8h0.9M221.6 88.8h0.9M219.8 85.8h0.9M223.6 87.5h0.9M269.0 69.2h0.9M276.0 69.3h0.9M216.9 87.0h0.9M235.7 71.6h0.9M250.7 72.1h0.9M252.6 77.3h0.9M268.7 71.3h0.9M225.3 85.0h0.9M248.6 75.7h0.9M219.7 83.7h0.9M245.5 77.1h0.9M221.7 81.5h0.9M227.6 75.4h0.9M234.5 72.2h0.9M237.9 69.8h0.9M246.0 81.8h0.9M216.2 94.0h0.9M261.9 70.5h0.9M246.7 78.4h0.9M228.1 79.3h0.9M228.9 52.3h0.9M229.6 69.8h0.9M241.3 79.0h0.9M248.4 79.9h0.9M226.5 80.4h0.9M264.1 70.1h0.9M241.5 81.1h0.9M271.8 70.3h0.9M264.2 70.4h0.9M219.1 93.6h0.9M246.3 76.0h0.9M240.9 69.3h0.9M233.1 50.6h0.9M256.4 70.3h0.9M244.3 72.2h0.9M232.8 51.8h0.9M255.7 70.5h0.9M220.6 87.4h0.9M227.9 82.3h0.9M239.4 78.0h0.9M231.2 79.0h0.9M228.2 79.9h0.9M230.0 73.4h0.9M252.3 68.5h0.9M226.9 83.5h0.9M217.6 85.2h0.9M216.4 87.1h0.9M259.3 73.1h0.9M239.4 70.8h0.9M227.9 85.7h0.9M243.0 81.1h0.9M238.6 70.5h0.9M261.6 73.0h0.9M269.6 70.8h0.9M239.4 48.1h0.9M229.7 77.4h0.9M232.1 52.3h0.9M247.2 72.8h0.9M268.3 73.1h0.9M223.9 81.8h0.9M248.5 70.0h0.9M231.7 81.6h0.9M221.3 88.6h0.9M253.0 72.0h0.9M229.9 75.2h0.9M245.0 69.0h0.9M221.7 85.2h0.9M251.9 71.8h0.9M237.8 73.7h0.9M236.2 66.6h0.9M268.2 68.0h0.9M245.5 68.1h0.9M224.9 53.4h0.9M239.7 78.3h0.9M229.5 81.0h0.9M241.2 75.2h0.9M230.3 80.4h0.9M222.9 85.7h0.9M220.9 86.9h0.9M259.2 73.3h0.9M249.2 80.2h0.9M243.0 71.8h0.9M218.0 89.2h0.9M263.8 69.8h0.9M247.5 70.3h0.9M247.8 76.0h0.9M233.0 51.1h0.9M243.2 76.3h0.9M248.3 68.0h0.9M218.7 84.6h0.9M228.0 84.2h0.9M230.8 77.8h0.9M232.2 53.3h0.9M236.8 47.0h0.9M234.9 49.6h0.9M246.0 78.0h0.9M236.1 74.4h0.9M244.1 74.9h0.9M247.4 75.9h0.9M228.1 87.3h0.9M217.7 86.2h0.9M246.3 75.9h0.9M222.9 55.2h0.9M220.8 84.9h0.9M249.1 77.2h0.9M247.4 77.2h0.9M232.7 73.7h0.9M245.4 72.1h0.9M270.1 72.7h0.9M222.9 84.5h0.9M246.5 70.1h0.9M229.6 74.7h0.9M279.2 70.2h0.9M221.6 90.4h0.9M237.4 73.6h0.9M250.5 77.6h0.9M255.5 70.2h0.9M261.2 71.4h0.9M251.0 70.4h0.9M244.5 81.5h0.9M218.9 89.0h0.9M230.7 75.2h0.9M221.8 81.9h0.9M222.6 84.9h0.9M224.2 83.0h0.9M221.4 81.9h0.9M222.2 89.9h0.9M234.7 71.2h0.9M225.5 54.7h0.9M244.7 68.1h0.9M246.1 75.6h0.9M230.3 50.8h0.9M240.8 68.5h0.9M240.2 72.2h0.9M229.1 48.7h0.9M246.2 76.0h0.9M240.9 79.5h0.9M221.5 87.9h0.9M230.2 75.8h0.9M222.8 81.9h0.9M253.8 71.0h0.9M245.3 72.4h0.9M229.7 83.6h0.9M230.4 50.6h0.9M248.5 73.3h0.9M262.6 70.4h0.9M250.6 80.4h0.9M217.1 88.8h0.9M226.8 88.8h0.9M253.5 73.2h0.9M275.6 72.1h0.9M243.7 67.7h0.9M269.3 72.6h0.9M217.8 85.7h0.9M232.9 83.0h0.9M245.6 71.2h0.9M227.5 54.2h0.9M215.3 88.5h0.9M227.4 80.1h0.9M220.0 85.1h0.9M272.1 71.8h0.9M226.6 82.8h0.9M233.0 74.7h0.9M265.4 70.4h0.9M232.4 74.5h0.9M234.4 78.3h0.9M220.5 91.4h0.9M253.2 69.3h0.9M225.9 53.9h0.9M227.7 83.9h0.9M216.7 86.5h0.9M248.0 77.8h0.9M217.0 90.1h0.9M222.0 79.5h0.9M249.5 80.0h0.9M240.7 78.6h0.9M227.4 80.2h0.9M237.8 50.3h0.9M274.2 69.2h0.9M228.0 85.1h0.9M222.0 54.1h0.9M238.3 72.6h0.9M220.1 90.6h0.9M265.9 68.2h0.9M274.2 71.6h0.9M229.5 76.3h0.9M222.6 79.3h0.9M233.8 69.1h0.9M224.0 84.5h0.9M250.9 72.3h0.9M221.9 86.7h0.9M232.3 69.3h0.9M222.5 51.7h0.9M267.4 72.2h0.9M248.1 80.5h0.9M228.3 52.3h0.9M220.4 81.4h0.9M230.8 71.7h0.9M219.2 81.7h0.9M245.3 77.7h0.9M215.5 86.2h0.9M227.5 48.9h0.9M240.8 71.3h0.9M250.7 74.0h0.9M231.3 75.4h0.9M225.3 87.2h0.9M223.5 77.8h0.9M216.8 83.9h0.9M219.6 86.6h0.9M231.8 70.4h0.9M223.7 88.8h0.9M238.2 71.6h0.9M243.4 79.6h0.9M218.6 84.8h0.9M247.0 75.8h0.9M245.2 73.7h0.9M225.5 56.5h0.9M256.4 69.9h0.9M233.7 52.7h0.9M243.5 74.5h0.9M250.0 70.2h0.9M249.0 74.2h0.9M239.8 77.6h0.9M234.2 81.1h0.9M239.2 72.5h0.9M219.2 53.9h0.9M237.8 69.4h0.9M257.1 69.9h0.9M234.0 49.7h0.9M243.0 72.0h0.9M228.0 54.4h0.9M278.3 70.1h0.9M224.6 81.7h0.9M225.2 89.0h0.9M247.8 72.0h0.9M231.4 77.3h0.9M237.8 75.5h0.9M226.3 55.3h0.9M260.2 68.6h0.9M241.4 68.3h0.9M233.7 82.1h0.9M227.4 55.0h0.9M241.9 74.1h0.9M229.0 71.9h0.9M241.4 76.7h0.9M225.2 54.0h0.9M234.9 77.1h0.9M231.1 79.8h0.9M221.8 56.6h0.9M281.5 70.6h0.9M235.2 72.6h0.9M234.9 70.1h0.9M245.2 74.5h0.9M237.2 48.4h0.9M228.4 84.6h0.9M275.3 71.9h0.9M228.7 80.7h0.9M234.0 51.8h0.9M218.3 87.9h0.9M218.8 86.3h0.9M228.5 53.7h0.9M265.8 72.2h0.9M234.1 74.2h0.9M249.1 71.2h0.9M275.4 71.1h0.9M240.5 78.3h0.9M220.7 89.1h0.9M247.2 77.6h0.9M248.7 74.4h0.9M244.0 72.9h0.9M276.3 69.2h0.9M226.8 74.8h0.9M243.1 67.4h0.9M233.5 49.9h0.9M216.7 87.1h0.9M216.8 85.4h0.9M229.2 52.6h0.9M251.5 75.9h0.9M230.3 77.0h0.9M226.9 85.0h0.9M224.0 86.6h0.9M234.7 74.0h0.9M223.8 80.0h0.9M219.8 82.7h0.9M227.2 81.1h0.9M244.5 67.9h0.9M217.9 88.2h0.9M247.8 78.7h0.9M240.3 71.7h0.9M278.1 71.1h0.9M243.0 75.0h0.9M251.3 71.9h0.9M224.3 77.1h0.9M241.7 79.1h0.9M232.6 71.0h0.9M240.0 73.3h0.9M247.8 78.9h0.9M244.0 79.1h0.9M271.3 72.2h0.9M216.2 85.1h0.9M235.2 71.6h0.9M242.3 71.9h0.9M241.0 69.0h0.9M235.7 47.1h0.9M219.6 90.0h0.9M218.6 81.9h0.9M234.1 77.2h0.9M280.9 68.6h0.9M259.4 69.8h0.9M231.0 69.8h0.9M221.3 83.3h0.9M227.1 52.9h0.9M240.0 68.9h0.9M265.2 71.7h0.9M221.3 89.2h0.9M227.4 82.5h0.9M231.7 75.4h0.9M232.3 71.0h0.9M249.4 70.5h0.9M230.2 79.9h0.9M262.2 72.7h0.9M220.7 87.4h0.9M221.7 82.2h0.9M233.0 50.4h0.9M248.0 74.1h0.9M260.3 72.4h0.9M252.7 72.9h0.9M232.4 50.0h0.9M249.4 75.0h0.9M228.6 71.7h0.9M234.1 52.6h0.9M223.3 86.4h0.9M232.7 72.1h0.9M251.3 74.4h0.9M231.9 74.6h0.9M216.4 83.4h0.9M217.4 87.6h0.9M246.4 81.5h0.9M250.9 77.5h0.9M247.6 73.6h0.9M240.2 76.9h0.9M232.2 68.8h0.9M220.0 52.8h0.9M222.5 81.4h0.9M230.6 81.8h0.9M227.4 53.3h0.9M242.4 76.6h0.9M245.2 70.6h0.9M242.4 73.2h0.9M222.3 53.6h0.9M232.0 73.7h0.9M226.0 76.4h0.9M226.8 88.5h0.9M263.9 71.9h0.9M249.0 77.6h0.9M228.9 81.7h0.9M231.1 77.3h0.9M224.2 87.7h0.9M227.8 54.1h0.9M217.7 91.2h0.9M246.2 77.1h0.9M227.3 76.0h0.9M219.4 82.5h0.9M224.8 54.6h0.9M245.0 75.6h0.9M243.2 79.0h0.9M248.0 72.1h0.9M269.6 72.0h0.9M247.0 74.4h0.9M245.2 78.0h0.9M252.4 73.6h0.9M217.1 87.1h0.9M224.1 87.9h0.9M238.3 48.9h0.9M222.3 52.1h0.9M260.8 69.8h0.9M225.3 82.5h0.9M247.0 74.9h0.9M220.7 88.1h0.9M228.0 54.3h0.9M243.0 76.8h0.9M245.1 77.7h0.9M225.6 73.0h0.9M216.9 88.3h0.9M252.7 68.8h0.9M223.3 54.0h0.9M250.4 80.3h0.9M219.6 82.4h0.9M220.5 80.8h0.9M223.4 83.2h0.9M262.8 68.0h0.9M244.8 76.8h0.9M227.5 83.0h0.9M242.5 72.1h0.9M228.4 54.8h0.9M245.6 74.7h0.9M238.4 74.5h0.9M271.8 71.7h0.9M246.1 70.2h0.9M274.9 69.9h0.9M281.4 69.2h0.9M245.6 78.6h0.9M232.6 73.1h0.9M249.7 80.0h0.9M217.1 88.0h0.9M239.9 72.9h0.9M239.9 69.3h0.9M221.4 81.5h0.9M216.0 83.3h0.9M226.0 82.8h0.9M245.4 77.5h0.9M250.3 70.1h0.9M222.7 56.9h0.9M224.9 88.0h0.9M250.2 72.3h0.9M276.6 68.8h0.9M228.0 84.5h0.9M248.5 79.2h0.9M245.3 76.2h0.9M275.1 71.3h0.9M227.2 79.8h0.9M220.7 79.4h0.9M273.3 71.3h0.9M222.6 51.5h0.9M228.8 72.2h0.9M228.5 78.8h0.9M217.1 83.2h0.9M226.8 77.9h0.9M270.2 70.7h0.9M258.1 68.7h0.9M216.4 82.8h0.9M257.6 70.1h0.9M230.2 70.7h0.9M246.8 73.5h0.9M247.5 75.3h0.9M224.9 56.5h0.9M246.2 72.8h0.9M238.9 70.4h0.9M221.6 83.5h0.9M235.2 69.1h0.9M218.4 92.2h0.9M244.3 70.2h0.9M256.2 70.8h0.9M225.5 77.6h0.9M225.8 80.5h0.9M225.8 88.8h0.9M249.0 79.2h0.9M240.2 73.2h0.9M245.0 74.8h0.9M219.5 53.2h0.9M224.4 52.6h0.9M245.5 69.5h0.9M259.6 71.9h0.9M216.5 89.8h0.9M220.1 87.9h0.9M258.4 70.4h0.9M253.5 72.5h0.9M222.7 83.2h0.9M243.3 69.6h0.9M234.3 76.4h0.9M240.1 79.9h0.9M240.1 68.4h0.9M233.8 73.6h0.9M244.1 80.8h0.9M227.8 54.6h0.9M235.1 51.8h0.9M250.9 73.1h0.9M237.3 72.7h0.9M215.5 84.8h0.9M248.8 75.9h0.9M240.5 79.5h0.9M257.0 70.2h0.9M222.2 84.7h0.9M221.1 91.1h0.9M258.5 72.5h0.9M267.7 72.2h0.9M242.2 81.3h0.9M236.8 77.8h0.9M239.8 68.4h0.9M248.6 76.8h0.9M225.7 79.0h0.9M223.2 55.5h0.9M219.7 54.4h0.9M274.1 70.9h0.9M259.7 71.4h0.9M240.7 66.8h0.9M225.2 55.8h0.9M228.0 72.1h0.9M244.3 77.1h0.9M217.3 81.7h0.9M226.1 81.4h0.9M217.7 81.0h0.9M231.5 50.7h0.9M233.2 75.8h0.9M241.1 71.5h0.9M271.8 71.0h0.9M235.4 74.1h0.9M277.3 68.4h0.9M247.1 75.6h0.9M215.6 89.6h0.9M227.7 80.3h0.9M228.9 84.9h0.9M257.7 72.0h0.9M237.0 73.9h0.9M227.7 87.9h0.9M216.4 87.5h0.9M222.7 88.3h0.9M227.6 80.4h0.9M247.7 75.6h0.9M245.1 81.3h0.9M240.9 70.6h0.9M244.7 77.0h0.9M247.8 77.0h0.9M223.3 88.9h0.9M225.4 90.4h0.9M240.0 79.3h0.9M221.2 82.1h0.9M235.3 49.4h0.9M231.8 74.2h0.9M224.8 52.1h0.9M232.2 71.8h0.9M236.4 73.6h0.9M254.2 70.6h0.9M231.9 71.3h0.9M275.4 68.8h0.9M245.9 73.5h0.9M234.9 49.8h0.9M232.4 49.9h0.9M267.9 69.3h0.9M253.7 69.6h0.9M244.9 79.2h0.9M238.8 48.3h0.9M239.6 70.2h0.9M221.2 79.1h0.9M281.7 68.7h0.9M237.4 51.0h0.9M258.8 70.9h0.9M231.6 50.1h0.9M235.4 51.6h0.9M221.8 55.9h0.9M223.2 80.2h0.9M218.0 89.0h0.9M219.3 84.1h0.9M230.4 79.8h0.9M224.5 51.6h0.9M229.9 51.9h0.9M238.0 47.6h0.9M250.3 76.9h0.9M224.1 85.0h0.9M247.8 76.3h0.9M268.6 69.7h0.9M269.9 69.3h0.9M221.2 87.9h0.9M242.3 71.4h0.9M254.1 73.2h0.9M240.5 67.3h0.9M237.6 75.9h0.9M227.9 79.8h0.9M266.3 70.2h0.9M216.1 85.2h0.9M249.5 70.6h0.9M239.4 49.5h0.9M228.7 84.4h0.9M251.7 77.9h0.9M242.4 75.9h0.9M218.1 81.9h0.9M255.8 70.9h0.9M218.1 86.1h0.9M236.3 75.3h0.9M224.4 79.0h0.9M224.3 52.4h0.9M221.3 86.3h0.9M233.5 51.8h0.9M257.4 69.8h0.9M224.6 85.2h0.9M236.1 50.5h0.9M230.1 75.6h0.9M223.1 80.3h0.9M225.4 86.6h0.9M220.2 90.0h0.9M259.5 71.3h0.9M244.4 73.2h0.9M224.3 52.0h0.9M223.6 56.5h0.9M240.1 70.3h0.9M229.6 76.6h0.9M221.8 85.2h0.9M263.0 69.1h0.9M245.8 67.9h0.9M219.0 53.9h0.9M248.4 77.1h0.9M218.8 83.5h0.9M239.3 70.3h0.9M217.3 93.8h0.9M217.0 85.4h0.9M222.7 87.8h0.9M246.1 73.7h0.9M248.0 76.5h0.9M225.4 87.2h0.9M228.1 81.6h0.9M224.4 87.4h0.9M220.4 80.1h0.9M218.0 92.6h0.9M243.7 71.4h0.9M246.9 81.0h0.9M280.3 69.6h0.9M229.7 72.3h0.9M250.8 69.5h0.9M231.7 72.9h0.9M268.5 68.2h0.9M227.8 76.4h0.9M221.1 55.1h0.9M221.1 85.2h0.9M237.5 50.4h0.9M224.8 76.1h0.9M251.6 71.8h0.9M241.3 69.1h0.9M225.9 72.5h0.9M217.0 85.2h0.9M218.3 94.0h0.9M247.1 77.1h0.9M241.5 76.8h0.9M223.3 83.9h0.9M247.4 73.1h0.9M240.9 71.1h0.9M223.9 54.6h0.9M228.2 51.2h0.9M276.1 71.3h0.9M237.4 68.4h0.9M233.9 73.3h0.9M235.9 48.4h0.9M257.8 70.5h0.9M222.9 85.1h0.9M218.1 89.0h0.9M234.9 73.1h0.9M231.5 76.9h0.9M219.7 88.7h0.9M246.7 73.2h0.9M227.6 49.9h0.9M280.0 71.2h0.9M240.6 68.6h0.9M244.0 69.9h0.9M231.3 76.9h0.9M245.0 71.3h0.9M216.3 89.2h0.9M234.3 77.4h0.9M219.5 85.0h0.9M221.5 54.4h0.9M232.2 50.2h0.9M221.9 81.8h0.9M221.0 84.9h0.9M221.6 90.1h0.9M274.1 68.6h0.9M246.8 72.4h0.9M220.4 54.4h0.9M226.1 84.4h0.9M229.8 51.1h0.9M222.4 92.6h0.9M219.6 85.4h0.9M218.6 91.5h0.9M226.3 85.9h0.9M233.7 50.7h0.9M229.9 55.0h0.9M229.2 81.1h0.9M243.6 74.4h0.9M261.3 73.3h0.9M230.1 82.4h0.9M275.6 71.0h0.9M232.0 53.7h0.9M240.7 77.2h0.9M221.7 80.4h0.9M243.4 69.6h0.9M219.0 82.8h0.9M225.9 52.9h0.9M251.3 69.0h0.9M218.0 91.6h0.9M263.6 69.1h0.9M227.8 80.6h0.9M225.2 74.7h0.9M222.1 88.8h0.9M230.6 78.1h0.9M243.1 82.0h0.9M242.2 77.0h0.9M230.3 51.9h0.9M268.2 68.8h0.9M233.2 69.7h0.9M246.4 78.2h0.9M232.2 48.2h0.9M235.9 70.9h0.9M219.5 85.4h0.9M220.2 81.8h0.9M244.0 74.4h0.9M226.4 49.7h0.9M250.2 74.5h0.9M228.3 76.1h0.9M249.0 73.7h0.9M238.4 70.8h0.9M220.0 80.2h0.9M220.8 92.1h0.9M227.9 49.4h0.9M237.6 76.9h0.9M235.7 70.7h0.9M232.8 48.8h0.9M232.4 81.0h0.9M257.8 71.0h0.9M268.0 68.9h0.9M226.9 54.3h0.9M245.8 74.2h0.9M239.2 72.0h0.9M246.2 76.7h0.9M243.3 73.8h0.9M242.4 79.3h0.9M222.4 92.9h0.9M251.2 76.0h0.9M220.8 85.3h0.9M227.4 52.9h0.9M269.9 69.0h0.9M239.8 76.1h0.9M228.4 70.1h0.9M246.3 71.0h0.9M246.5 79.0h0.9M275.8 67.8h0.9M234.8 50.7h0.9M225.5 73.7h0.9M246.7 78.0h0.9M242.4 72.0h0.9M227.9 53.7h0.9M247.5 75.7h0.9M239.4 68.8h0.9M221.5 84.7h0.9M273.2 70.4h0.9M219.4 90.6h0.9M220.3 88.6h0.9M226.8 51.4h0.9M244.3 78.6h0.9M244.6 73.7h0.9M240.7 77.8h0.9M233.6 71.8h0.9M233.4 78.5h0.9M234.3 81.3h0.9M249.8 77.1h0.9M233.5 76.3h0.9M229.6 53.0h0.9M255.7 70.8h0.9M238.2 72.0h0.9M217.6 83.7h0.9M230.2 83.6h0.9M218.2 90.1h0.9M225.0 75.8h0.9M230.4 73.4h0.9M263.2 71.3h0.9M245.6 76.6h0.9M268.2 69.4h0.9M239.8 69.6h0.9M244.6 75.3h0.9M228.0 50.3h0.9M224.3 52.5h0.9M218.3 82.2h0.9M236.0 70.8h0.9M230.2 48.5h0.9M265.5 71.0h0.9M226.6 79.3h0.9M280.7 69.6h0.9M251.4 73.9h0.9M221.1 52.9h0.9M247.1 71.2h0.9M221.9 91.3h0.9M236.7 76.0h0.9M245.2 67.6h0.9M264.0 71.2h0.9M265.0 70.7h0.9M275.6 70.5h0.9M238.3 77.8h0.9M236.8 72.9h0.9M218.2 92.2h0.9M236.6 74.5h0.9M251.0 75.6h0.9M253.8 70.5h0.9M229.7 83.1h0.9M226.8 89.0h0.9M240.6 77.8h0.9M236.9 70.4h0.9M226.3 73.0h0.9M227.2 76.0h0.9M222.6 85.7h0.9M223.8 53.4h0.9M248.3 74.6h0.9M226.0 72.2h0.9M234.1 78.4h0.9M230.7 51.8h0.9M251.9 77.7h0.9M217.1 94.1h0.9M246.7 74.1h0.9M226.5 50.5h0.9M226.3 85.7h0.9M247.8 79.5h0.9M241.3 70.8h0.9M218.2 89.7h0.9M221.7 91.0h0.9M231.6 53.2h0.9M222.0 52.8h0.9M232.8 49.2h0.9M246.2 72.0h0.9M248.2 80.1h0.9M222.5 53.4h0.9M247.9 72.4h0.9M227.1 87.9h0.9M246.0 77.0h0.9M240.0 77.5h0.9M228.3 85.3h0.9M254.7 72.0h0.9M226.4 78.0h0.9M231.2 71.7h0.9M222.7 90.9h0.9M218.1 84.8h0.9M227.2 86.5h0.9M231.0 82.4h0.9M236.1 51.6h0.9M248.0 74.5h0.9M247.7 74.8h0.9M245.2 75.4h0.9M249.0 77.6h0.9M228.2 73.4h0.9M241.3 72.4h0.9M236.5 74.8h0.9M242.7 79.1h0.9M230.4 49.8h0.9M224.0 74.9h0.9M223.5 85.4h0.9M232.5 69.4h0.9M217.3 91.9h0.9M232.3 82.6h0.9M260.6 70.9h0.9M219.3 83.9h0.9M228.2 53.3h0.9M237.2 50.3h0.9M241.9 80.6h0.9M222.7 84.7h0.9M246.1 72.8h0.9M231.0 73.3h0.9M238.2 78.8h0.9M230.8 49.9h0.9M239.5 74.7h0.9M221.6 92.3h0.9M221.5 81.6h0.9M261.5 72.0h0.9M245.3 73.6h0.9M265.5 70.2h0.9M267.7 71.3h0.9M243.8 75.6h0.9M247.2 79.0h0.9M219.5 53.9h0.9M265.0 71.8h0.9M237.7 72.7h0.9M234.3 78.5h0.9M227.2 55.8h0.9M248.0 70.7h0.9M242.6 77.0h0.9M227.9 53.4h0.9M218.6 82.3h0.9M235.3 73.6h0.9M245.7 70.7h0.9M238.8 71.1h0.9M218.6 88.6h0.9M227.7 52.2h0.9M249.4 70.0h0.9M242.2 71.6h0.9M217.5 88.1h0.9M223.3 84.4h0.9M230.6 53.8h0.9M220.7 54.7h0.9M251.4 73.4h0.9M275.5 68.2h0.9M251.2 74.5h0.9M278.6 69.3h0.9M216.2 92.2h0.9M235.4 47.6h0.9M226.2 83.7h0.9M217.0 83.8h0.9M231.8 72.8h0.9M244.4 80.1h0.9M234.3 80.8h0.9M242.0 79.6h0.9M216.7 84.6h0.9M226.6 85.9h0.9M223.4 77.8h0.9" stroke="#1020f0" stroke-width="0.9" opacity="0.85" fill="none"/>
<g transform="translate(229.20,51.60) rotate(-18)" filter="url(#blur1)">
<ellipse cx="0" cy="0" rx="9.50" ry="2.60" fill="#1a2af0"/>
<ellipse cx="0" cy="0" rx="7.40" ry="1.60" fill="#00c8ff"/>
<ellipse cx="0" cy="0" rx="5.00" ry="0.90" fill="#20e0e8"/>
</g>
<g transform="translate(245.70,75.50) rotate(0)" filter="url(#blur1)">
<ellipse cx="0" cy="0" rx="8.40" ry="8.00" fill="#1a2af0"/>
<ellipse cx="0" cy="0" rx="6.90" ry="6.50" fill="#10c0ff"/>
<ellipse cx="0" cy="0" rx="5.40" ry="5.00" fill="#2ee070"/>
<ellipse cx="0" cy="0" rx="3.40" ry="3.10" fill="#d8f000"/>
<ellipse cx="0" cy="0" rx="2.20" ry="2.00" fill="#ffa000"/>
<ellipse cx="0" cy="0" rx="1.30" ry="1.20" fill="#ff1a00"/>
</g>
<g transform="translate(218.60,86.60) rotate(-35)" filter="url(#blur1)">
<ellipse cx="0" cy="0" rx="6.50" ry="4.40" fill="#1a2af0"/>
<ellipse cx="0" cy="0" rx="5.00" ry="3.40" fill="#10c8ff"/>
<ellipse cx="0" cy="0" rx="4.00" ry="2.70" fill="#30e060"/>
<ellipse cx="0" cy="0" rx="2.20" ry="1.50" fill="#80f040"/>
</g>
</g>
<rect x="214.60" y="29.70" width="71.40" height="71.70" fill="none" stroke="#9a9a9a" stroke-width="0.8" />
<line x1="212.60" y1="35.30" x2="214.60" y2="35.30" stroke="#777" stroke-width="0.6" />
<text x="212.40" y="37.20" font-size="5.4" text-anchor="end" fill="#222" font-weight="bold" >10<tspan dy="-2" font-size="3">5</tspan></text>
<line x1="212.60" y1="51.00" x2="214.60" y2="51.00" stroke="#777" stroke-width="0.6" />
<text x="212.40" y="52.90" font-size="5.4" text-anchor="end" fill="#222" font-weight="bold" >10<tspan dy="-2" font-size="3">4</tspan></text>
<line x1="212.60" y1="67.00" x2="214.60" y2="67.00" stroke="#777" stroke-width="0.6" />
<text x="212.40" y="68.90" font-size="5.4" text-anchor="end" fill="#222" font-weight="bold" >10<tspan dy="-2" font-size="3">3</tspan></text>
<line x1="212.60" y1="83.00" x2="214.60" y2="83.00" stroke="#777" stroke-width="0.6" />
<text x="212.40" y="84.90" font-size="5.4" text-anchor="end" fill="#222" font-weight="bold" >10<tspan dy="-2" font-size="3">2</tspan></text>
<line x1="212.60" y1="90.80" x2="214.60" y2="90.80" stroke="#777" stroke-width="0.6" />
<text x="212.40" y="92.70" font-size="5.4" text-anchor="end" fill="#222" font-weight="bold" >0</text>
<line x1="213.60" y1="40.00" x2="214.60" y2="40.00" stroke="#999" stroke-width="0.5" />
<line x1="213.60" y1="44.00" x2="214.60" y2="44.00" stroke="#999" stroke-width="0.5" />
<line x1="213.60" y1="47.00" x2="214.60" y2="47.00" stroke="#999" stroke-width="0.5" />
<line x1="213.60" y1="56.00" x2="214.60" y2="56.00" stroke="#999" stroke-width="0.5" />
<line x1="213.60" y1="60.00" x2="214.60" y2="60.00" stroke="#999" stroke-width="0.5" />
<line x1="213.60" y1="63.00" x2="214.60" y2="63.00" stroke="#999" stroke-width="0.5" />
<line x1="213.60" y1="72.00" x2="214.60" y2="72.00" stroke="#999" stroke-width="0.5" />
<line x1="213.60" y1="76.00" x2="214.60" y2="76.00" stroke="#999" stroke-width="0.5" />
<line x1="213.60" y1="79.00" x2="214.60" y2="79.00" stroke="#999" stroke-width="0.5" />
<line x1="213.60" y1="87.00" x2="214.60" y2="87.00" stroke="#999" stroke-width="0.5" />
<line x1="213.60" y1="95.00" x2="214.60" y2="95.00" stroke="#999" stroke-width="0.5" />
<line x1="213.60" y1="98.00" x2="214.60" y2="98.00" stroke="#999" stroke-width="0.5" />
<line x1="214.30" y1="101.40" x2="214.30" y2="103.20" stroke="#777" stroke-width="0.6" />
<text x="214.30" y="108.60" font-size="5.0" text-anchor="middle" fill="#222" font-weight="bold" >0</text>
<line x1="227.70" y1="101.40" x2="227.70" y2="103.20" stroke="#777" stroke-width="0.6" />
<text x="227.70" y="108.60" font-size="5.0" text-anchor="middle" fill="#222" font-weight="bold" >50K</text>
<line x1="242.30" y1="101.40" x2="242.30" y2="103.20" stroke="#777" stroke-width="0.6" />
<text x="242.30" y="108.60" font-size="5.0" text-anchor="middle" fill="#222" font-weight="bold" >100K</text>
<line x1="255.40" y1="101.40" x2="255.40" y2="103.20" stroke="#777" stroke-width="0.6" />
<text x="255.40" y="108.60" font-size="5.0" text-anchor="middle" fill="#222" font-weight="bold" >150K</text>
<line x1="268.40" y1="101.40" x2="268.40" y2="103.20" stroke="#777" stroke-width="0.6" />
<text x="268.40" y="108.60" font-size="5.0" text-anchor="middle" fill="#222" font-weight="bold" >200K</text>
<line x1="281.30" y1="101.40" x2="281.30" y2="103.20" stroke="#777" stroke-width="0.6" />
<text x="281.30" y="108.60" font-size="5.0" text-anchor="middle" fill="#222" font-weight="bold" >250K</text>
<line x1="216.98" y1="101.40" x2="216.98" y2="102.40" stroke="#999" stroke-width="0.5" />
<line x1="219.66" y1="101.40" x2="219.66" y2="102.40" stroke="#999" stroke-width="0.5" />
<line x1="222.34" y1="101.40" x2="222.34" y2="102.40" stroke="#999" stroke-width="0.5" />
<line x1="225.02" y1="101.40" x2="225.02" y2="102.40" stroke="#999" stroke-width="0.5" />
<line x1="230.62" y1="101.40" x2="230.62" y2="102.40" stroke="#999" stroke-width="0.5" />
<line x1="233.54" y1="101.40" x2="233.54" y2="102.40" stroke="#999" stroke-width="0.5" />
<line x1="236.46" y1="101.40" x2="236.46" y2="102.40" stroke="#999" stroke-width="0.5" />
<line x1="239.38" y1="101.40" x2="239.38" y2="102.40" stroke="#999" stroke-width="0.5" />
<line x1="244.92" y1="101.40" x2="244.92" y2="102.40" stroke="#999" stroke-width="0.5" />
<line x1="247.54" y1="101.40" x2="247.54" y2="102.40" stroke="#999" stroke-width="0.5" />
<line x1="250.16" y1="101.40" x2="250.16" y2="102.40" stroke="#999" stroke-width="0.5" />
<line x1="252.78" y1="101.40" x2="252.78" y2="102.40" stroke="#999" stroke-width="0.5" />
<line x1="258.00" y1="101.40" x2="258.00" y2="102.40" stroke="#999" stroke-width="0.5" />
<line x1="260.60" y1="101.40" x2="260.60" y2="102.40" stroke="#999" stroke-width="0.5" />
<line x1="263.20" y1="101.40" x2="263.20" y2="102.40" stroke="#999" stroke-width="0.5" />
<line x1="265.80" y1="101.40" x2="265.80" y2="102.40" stroke="#999" stroke-width="0.5" />
<line x1="270.98" y1="101.40" x2="270.98" y2="102.40" stroke="#999" stroke-width="0.5" />
<line x1="273.56" y1="101.40" x2="273.56" y2="102.40" stroke="#999" stroke-width="0.5" />
<line x1="276.14" y1="101.40" x2="276.14" y2="102.40" stroke="#999" stroke-width="0.5" />
<line x1="278.72" y1="101.40" x2="278.72" y2="102.40" stroke="#999" stroke-width="0.5" />
<polygon points="235.50,64.40 239.30,60.20 283.60,60.20 283.60,85.80 235.50,85.80" fill="none" stroke="#c9373d" stroke-width="1" />
<text x="249.50" y="29.20" font-size="13" text-anchor="middle" fill="#111" font-weight="normal" >All spleen</text>
<text x="251.00" y="121.00" font-size="13" text-anchor="middle" fill="#111" font-weight="normal" >FSC-A</text>
<text transform="translate(202.80,66.50) rotate(-90)" font-size="13" text-anchor="middle" fill="#111" >Live / Dead</text>
<line x1="276.90" y1="81.50" x2="298.40" y2="81.50" stroke="#c01822" stroke-width="2.3" />
<polyline points="293.40,77.20 299.60,81.50 293.40,85.80" fill="none" stroke="#c01822" stroke-width="1.7" stroke-linejoin="round" stroke-linecap="round" />
<clipPath id="cb2"><rect x="314.6" y="29.3" width="72.19999999999999" height="72.0"/></clipPath>
<g clip-path="url(#cb2)">
<path d="M341.5 64.7h0.9M360.6 74.3h0.9M377.2 81.6h0.9M342.5 91.7h0.9M319.0 71.4h0.9M342.3 91.6h0.9M317.3 94.5h0.9M358.9 83.8h0.9M363.3 91.5h0.9M351.2 42.5h0.9M362.3 100.5h0.9M385.9 79.9h0.9M322.0 71.0h0.9M373.3 53.7h0.9M362.6 86.0h0.9M350.2 82.3h0.9M384.3 97.3h0.9M346.3 92.8h0.9M378.3 73.0h0.9M344.3 62.1h0.9M324.6 57.6h0.9M381.1 36.0h0.9M353.1 84.6h0.9M348.0 46.7h0.9M367.8 39.5h0.9M337.4 48.0h0.9M338.6 48.3h0.9M322.9 71.2h0.9M348.2 90.9h0.9M332.5 50.1h0.9M340.0 65.2h0.9M343.0 53.1h0.9M350.1 94.3h0.9M316.3 61.0h0.9M379.5 64.5h0.9M369.4 42.3h0.9M372.4 63.2h0.9M316.2 94.9h0.9M358.1 74.9h0.9M362.3 79.4h0.9M349.7 85.3h0.9M371.5 79.7h0.9M339.7 94.7h0.9M353.4 80.4h0.9M334.0 97.6h0.9M321.4 51.6h0.9M372.9 51.0h0.9M317.5 75.0h0.9M360.6 44.0h0.9M326.6 51.7h0.9M330.9 57.0h0.9M332.1 63.5h0.9M349.2 53.1h0.9M339.8 64.7h0.9M357.7 82.0h0.9M372.9 58.4h0.9M372.3 85.6h0.9M367.3 96.7h0.9M385.5 38.1h0.9M382.7 94.4h0.9M355.0 94.5h0.9M374.0 59.4h0.9M346.3 59.6h0.9M322.1 69.8h0.9M375.0 94.4h0.9M348.0 88.7h0.9M317.5 94.9h0.9M357.1 90.4h0.9M363.3 92.3h0.9M361.6 41.1h0.9M353.2 85.6h0.9M347.3 53.5h0.9M370.8 86.4h0.9M349.9 96.5h0.9M359.4 73.9h0.9M338.7 94.6h0.9M315.8 74.8h0.9M354.3 83.7h0.9M326.6 57.5h0.9M348.8 59.8h0.9M350.8 81.5h0.9M335.8 47.6h0.9M339.7 63.2h0.9M377.4 41.8h0.9M351.7 81.2h0.9M315.5 88.0h0.9M360.5 71.0h0.9M337.8 36.0h0.9M376.3 58.0h0.9M340.2 48.0h0.9M353.3 88.4h0.9M371.4 77.7h0.9M352.8 79.2h0.9M337.5 64.5h0.9M365.9 95.8h0.9M359.2 72.8h0.9M375.8 54.8h0.9M371.1 75.4h0.9M340.4 42.6h0.9M322.5 63.1h0.9M372.8 90.8h0.9M360.4 73.6h0.9M358.2 71.8h0.9M353.6 93.5h0.9M351.0 54.2h0.9M332.9 67.0h0.9M357.5 75.6h0.9M353.3 77.3h0.9M386.1 34.9h0.9M373.1 65.3h0.9M379.6 96.1h0.9M380.2 59.4h0.9M354.6 46.7h0.9M339.2 53.1h0.9M341.7 98.1h0.9M376.8 65.6h0.9M361.0 72.2h0.9M330.1 52.1h0.9M362.3 76.8h0.9M350.5 83.5h0.9M356.0 45.4h0.9M342.2 60.1h0.9M370.7 86.3h0.9M318.2 70.2h0.9M338.5 66.4h0.9M377.5 61.9h0.9M372.8 47.2h0.9M326.4 68.1h0.9M317.5 71.4h0.9M358.1 72.1h0.9M381.3 66.2h0.9M327.8 40.7h0.9M363.3 39.4h0.9M365.3 92.0h0.9M371.5 72.6h0.9M317.5 75.7h0.9M339.3 48.2h0.9M337.4 63.4h0.9M363.4 91.3h0.9M326.7 33.7h0.9M353.5 78.1h0.9M339.3 47.5h0.9M351.2 57.5h0.9M335.0 68.1h0.9M378.6 39.4h0.9M353.1 55.7h0.9M346.5 90.5h0.9M328.0 34.4h0.9M362.9 90.2h0.9M353.9 88.2h0.9M317.7 93.4h0.9M351.6 79.0h0.9M320.4 94.2h0.9M336.9 53.6h0.9M324.3 68.2h0.9M322.3 63.7h0.9M334.4 47.5h0.9M370.5 42.5h0.9M320.8 71.4h0.9M368.0 39.7h0.9M326.3 70.4h0.9M370.3 91.7h0.9M357.4 89.7h0.9M324.4 55.6h0.9M326.3 50.6h0.9M339.3 62.8h0.9M319.7 95.8h0.9M350.9 90.1h0.9M382.3 56.4h0.9M322.0 95.6h0.9M346.9 60.9h0.9M374.8 69.2h0.9M380.0 88.4h0.9M375.8 54.4h0.9M349.6 91.6h0.9M331.9 50.7h0.9M380.0 42.5h0.9M337.8 32.3h0.9M362.9 41.8h0.9M364.6 90.2h0.9M371.1 75.4h0.9M376.0 51.4h0.9M332.4 30.3h0.9M326.8 98.5h0.9M360.0 87.0h0.9M353.1 98.3h0.9M374.1 81.8h0.9M380.0 71.6h0.9M373.6 48.3h0.9M316.7 72.8h0.9M347.8 90.5h0.9M337.4 52.6h0.9M348.6 55.3h0.9M350.2 46.4h0.9M327.2 54.2h0.9M345.2 53.8h0.9M321.2 58.5h0.9M383.8 76.8h0.9M338.0 93.6h0.9M371.0 82.3h0.9M325.6 49.6h0.9M365.3 94.0h0.9M361.1 93.3h0.9M356.6 55.6h0.9M371.1 94.0h0.9M316.5 47.3h0.9M333.8 95.0h0.9M352.3 86.2h0.9M318.1 74.2h0.9M373.2 50.1h0.9M357.5 78.4h0.9M332.7 50.0h0.9M355.4 77.2h0.9M340.5 53.9h0.9M368.3 95.8h0.9M363.6 89.3h0.9M355.8 91.0h0.9M320.2 93.8h0.9M340.1 64.0h0.9M341.6 95.7h0.9M367.7 92.2h0.9M330.7 53.6h0.9M349.8 53.0h0.9M372.4 83.0h0.9M362.6 93.5h0.9M373.0 79.1h0.9M316.2 91.6h0.9M347.2 88.5h0.9M371.3 68.0h0.9M349.4 93.3h0.9M315.5 89.4h0.9M369.7 98.6h0.9M374.0 56.1h0.9M317.5 47.4h0.9M370.7 44.1h0.9M358.5 91.3h0.9M328.9 44.4h0.9M319.6 69.6h0.9M338.5 66.4h0.9M359.1 46.8h0.9M324.4 95.3h0.9M322.8 67.9h0.9M385.5 62.5h0.9M372.8 33.0h0.9M362.3 41.3h0.9M355.9 82.2h0.9M351.0 90.5h0.9M358.1 72.7h0.9M359.3 79.8h0.9M350.7 84.8h0.9M358.3 79.9h0.9M350.6 83.1h0.9M365.1 93.8h0.9M331.5 37.9h0.9M353.7 87.7h0.9M372.7 51.3h0.9M373.5 63.1h0.9" stroke="#97a0ff" stroke-width="0.9" opacity="0.85" fill="none"/>
<path d="M357.5 58.4h0.9M324.0 91.5h0.9M349.3 63.0h0.9M339.9 49.3h0.9M316.6 78.3h0.9M318.7 91.1h0.9M340.8 50.9h0.9M353.5 69.6h0.9M346.9 52.2h0.9M368.7 45.1h0.9M369.9 75.0h0.9M348.2 66.7h0.9M342.6 50.8h0.9M340.3 84.4h0.9M318.0 85.5h0.9M337.6 72.4h0.9M371.0 46.2h0.9M370.2 74.2h0.9M334.5 92.3h0.9M334.9 69.5h0.9M365.3 81.1h0.9M324.7 73.9h0.9M342.9 78.0h0.9M318.1 86.4h0.9M340.2 85.8h0.9M322.1 92.8h0.9M340.9 90.0h0.9M370.3 81.0h0.9M344.5 75.7h0.9M328.5 94.9h0.9M319.0 78.1h0.9M340.3 68.2h0.9M352.2 47.6h0.9M363.0 77.4h0.9M364.0 85.6h0.9M339.9 67.8h0.9M370.2 84.4h0.9M348.8 64.3h0.9M338.9 90.2h0.9M343.2 51.1h0.9M350.4 67.0h0.9M359.5 56.7h0.9M358.7 58.4h0.9M351.6 59.8h0.9M350.6 71.3h0.9M348.5 78.2h0.9M365.3 85.1h0.9M343.1 86.7h0.9M359.3 49.2h0.9M348.2 73.7h0.9M353.6 67.6h0.9M351.3 77.8h0.9M321.5 93.4h0.9M347.0 61.7h0.9M360.4 50.8h0.9M345.4 51.8h0.9M352.9 67.4h0.9M369.7 71.1h0.9M345.6 50.3h0.9M328.9 92.2h0.9M343.6 76.7h0.9M349.4 51.5h0.9M352.1 59.4h0.9M322.9 93.6h0.9M342.6 68.6h0.9M332.7 94.4h0.9M345.1 66.6h0.9M337.0 92.8h0.9M340.6 48.8h0.9M348.3 65.3h0.9M345.8 50.2h0.9M348.2 82.6h0.9M318.4 81.8h0.9M364.3 79.9h0.9M355.4 55.8h0.9M351.9 59.5h0.9M339.1 85.3h0.9M317.3 86.6h0.9M350.4 79.0h0.9M325.5 91.5h0.9M371.7 50.2h0.9M358.6 66.4h0.9M366.7 83.6h0.9M371.4 59.4h0.9M346.5 77.9h0.9M349.7 61.8h0.9M359.8 65.6h0.9M359.1 64.9h0.9M353.6 70.6h0.9M345.6 86.0h0.9M349.4 51.1h0.9M341.7 88.5h0.9M371.0 63.1h0.9M370.3 69.6h0.9M358.7 66.9h0.9M318.5 76.0h0.9M319.2 88.4h0.9M338.3 70.1h0.9M360.2 55.6h0.9M367.4 81.9h0.9M329.6 91.7h0.9M317.5 85.6h0.9M355.8 56.2h0.9M334.9 50.7h0.9M333.7 73.6h0.9M337.0 69.8h0.9M363.0 74.1h0.9M354.2 57.3h0.9M372.3 57.3h0.9M346.3 86.9h0.9M347.3 74.0h0.9M363.7 75.2h0.9M360.8 63.5h0.9M346.9 81.2h0.9M356.2 50.2h0.9M360.1 66.6h0.9M360.6 64.5h0.9M335.6 89.7h0.9M370.9 62.0h0.9M357.2 49.9h0.9M356.0 72.4h0.9M349.1 60.7h0.9M349.6 64.4h0.9M346.8 68.1h0.9M359.1 54.3h0.9M360.3 55.5h0.9M326.7 94.4h0.9M318.3 85.8h0.9M343.1 48.0h0.9M347.1 77.4h0.9M343.0 48.2h0.9M341.9 81.8h0.9M335.8 71.0h0.9M350.0 51.1h0.9M336.7 71.6h0.9M342.4 84.6h0.9M368.0 87.8h0.9M352.3 50.3h0.9M351.0 49.1h0.9M322.8 74.5h0.9M341.9 50.4h0.9M343.1 68.1h0.9M367.5 83.0h0.9M334.8 90.0h0.9M346.0 62.6h0.9M331.0 72.7h0.9M358.5 55.9h0.9M368.8 81.7h0.9M348.5 65.6h0.9M342.1 65.3h0.9M354.9 51.6h0.9M347.6 49.8h0.9M355.9 69.6h0.9M342.5 79.1h0.9M349.7 80.6h0.9M367.9 84.4h0.9M346.5 49.6h0.9M321.4 74.1h0.9M337.4 70.3h0.9M344.9 76.5h0.9M332.5 71.7h0.9M350.5 73.2h0.9M317.7 76.7h0.9M326.6 73.5h0.9M320.3 88.5h0.9M326.3 72.4h0.9M328.3 70.7h0.9M335.6 71.4h0.9M360.1 58.8h0.9M340.7 89.6h0.9M353.4 71.4h0.9M359.4 66.6h0.9M354.7 72.6h0.9M359.6 59.2h0.9M359.2 68.4h0.9M337.7 51.9h0.9M347.1 81.6h0.9M320.5 92.9h0.9M367.3 82.2h0.9M351.3 70.1h0.9M322.1 90.0h0.9M346.2 49.7h0.9M359.6 67.1h0.9M337.5 87.7h0.9M353.4 68.6h0.9M369.3 83.0h0.9M335.2 91.1h0.9M352.6 67.6h0.9M331.8 73.2h0.9M346.0 66.0h0.9M363.5 75.4h0.9M318.8 80.7h0.9M360.6 69.6h0.9M367.5 90.7h0.9M358.9 50.5h0.9M319.6 89.5h0.9M370.6 79.4h0.9M346.4 84.6h0.9M355.8 50.9h0.9M359.6 59.0h0.9M342.1 81.0h0.9M353.8 70.9h0.9M320.5 75.5h0.9M343.5 64.7h0.9M340.3 84.9h0.9M317.6 78.6h0.9M349.5 51.0h0.9M348.6 77.3h0.9M346.5 82.0h0.9M334.6 92.2h0.9M362.9 73.5h0.9M358.2 48.7h0.9M341.6 69.9h0.9M371.3 52.6h0.9M317.8 85.5h0.9M348.5 49.5h0.9M342.0 81.7h0.9M364.4 78.0h0.9M322.9 72.8h0.9M343.3 64.8h0.9M359.5 66.2h0.9M371.2 63.3h0.9M372.5 59.4h0.9M347.7 51.0h0.9M349.3 77.5h0.9M352.8 68.7h0.9M348.4 60.8h0.9M338.0 86.7h0.9M345.0 80.1h0.9M359.4 56.4h0.9M351.3 76.2h0.9M364.2 85.7h0.9M349.2 61.2h0.9M340.5 67.7h0.9M322.6 74.4h0.9M358.4 66.2h0.9M350.9 77.7h0.9M348.3 48.3h0.9M365.9 84.7h0.9M366.4 42.9h0.9M340.7 65.5h0.9M363.8 42.8h0.9M339.1 87.2h0.9M364.2 76.9h0.9M364.5 82.6h0.9M344.4 67.0h0.9M356.2 49.5h0.9M330.4 91.5h0.9M326.4 73.1h0.9M366.6 81.9h0.9M335.5 71.4h0.9M369.8 70.5h0.9M345.0 65.2h0.9M345.3 83.2h0.9M350.3 50.6h0.9M366.2 85.1h0.9M363.6 82.2h0.9M331.4 94.1h0.9M361.5 47.4h0.9M339.3 51.7h0.9M343.5 68.3h0.9M359.1 48.8h0.9M338.8 88.4h0.9M341.6 84.2h0.9M340.9 81.1h0.9M318.1 85.7h0.9M337.6 72.9h0.9M350.6 60.0h0.9M348.2 64.6h0.9M350.4 50.5h0.9M325.1 71.2h0.9M325.9 92.9h0.9M345.5 75.3h0.9M344.4 68.0h0.9M363.0 70.4h0.9M363.2 71.8h0.9M347.5 63.0h0.9M344.8 64.3h0.9M351.0 51.5h0.9M364.6 43.0h0.9M325.7 93.5h0.9M348.8 52.2h0.9M367.7 83.9h0.9M346.3 65.1h0.9M345.9 82.7h0.9M372.0 58.9h0.9M371.8 53.2h0.9M351.8 58.2h0.9M338.4 70.1h0.9M325.2 73.8h0.9M317.3 83.1h0.9M364.7 86.5h0.9M340.0 86.9h0.9M364.7 81.9h0.9M353.2 58.0h0.9M318.3 82.6h0.9M363.9 77.2h0.9M370.5 63.7h0.9M340.4 69.5h0.9M351.0 66.2h0.9M331.7 72.3h0.9M354.5 49.8h0.9M354.6 67.6h0.9M318.4 83.7h0.9M357.5 69.6h0.9M371.8 54.6h0.9M341.2 82.3h0.9M332.4 92.2h0.9M367.6 83.4h0.9M357.8 50.9h0.9M339.1 86.5h0.9M348.0 76.9h0.9M350.2 66.3h0.9M341.3 67.4h0.9M347.8 82.9h0.9M359.4 64.8h0.9M358.4 55.5h0.9M347.3 79.9h0.9M365.4 80.9h0.9M360.4 57.0h0.9M342.6 53.0h0.9M364.6 84.8h0.9M338.4 86.6h0.9M358.6 69.0h0.9M344.2 88.9h0.9M355.4 67.2h0.9M345.6 68.5h0.9M363.8 42.5h0.9M354.2 72.6h0.9M368.3 43.6h0.9M370.2 68.2h0.9M365.9 83.7h0.9M319.9 89.6h0.9M360.0 63.6h0.9M330.8 92.0h0.9M351.1 51.3h0.9M325.0 73.5h0.9M366.6 82.3h0.9M344.6 85.2h0.9M334.4 71.9h0.9M350.4 48.3h0.9M337.0 69.0h0.9M344.4 66.0h0.9M369.5 86.3h0.9M318.7 77.4h0.9M322.1 93.4h0.9M320.8 88.7h0.9M360.2 56.9h0.9M370.3 68.9h0.9M363.9 78.3h0.9M363.5 42.8h0.9M361.3 65.7h0.9M347.1 50.3h0.9M341.4 67.7h0.9M366.9 90.4h0.9M367.9 86.3h0.9M350.3 71.5h0.9M359.6 47.7h0.9M366.5 42.4h0.9M369.8 82.4h0.9M341.0 70.2h0.9M355.8 56.9h0.9M345.6 48.5h0.9M344.6 81.9h0.9M318.6 79.2h0.9M348.6 85.1h0.9M355.0 68.6h0.9M340.8 66.2h0.9M334.0 92.7h0.9M331.8 71.6h0.9M362.2 70.9h0.9M345.0 50.2h0.9M355.7 68.6h0.9M355.8 49.7h0.9M366.1 84.7h0.9M342.6 47.9h0.9M340.3 67.1h0.9M350.7 51.3h0.9M325.8 91.7h0.9M353.2 67.5h0.9M350.1 52.9h0.9M320.4 90.2h0.9M369.9 44.8h0.9M320.2 90.5h0.9M365.2 44.1h0.9M358.4 65.2h0.9M361.7 46.8h0.9M361.1 65.7h0.9M355.0 48.8h0.9M317.0 80.0h0.9M350.2 66.4h0.9M342.6 69.0h0.9M360.6 67.7h0.9M356.1 57.8h0.9M347.1 65.2h0.9M347.4 82.7h0.9M348.8 50.4h0.9M370.6 62.8h0.9M346.8 77.2h0.9M361.3 64.4h0.9M347.0 65.3h0.9M347.6 79.5h0.9M342.8 78.7h0.9M317.5 84.5h0.9M337.9 89.6h0.9M346.7 75.1h0.9M325.3 91.7h0.9M326.8 94.2h0.9M360.1 52.4h0.9M342.0 51.2h0.9M340.0 87.4h0.9M321.5 90.4h0.9M362.5 67.9h0.9M343.4 86.3h0.9M340.3 90.9h0.9M361.8 44.9h0.9M364.6 87.2h0.9M359.8 69.0h0.9M341.5 86.3h0.9M341.0 48.5h0.9M371.4 53.8h0.9M325.2 71.6h0.9M366.8 83.6h0.9M371.7 52.6h0.9M328.0 71.1h0.9M342.2 70.2h0.9M353.9 49.7h0.9M345.1 52.4h0.9M318.9 85.9h0.9M364.7 44.1h0.9M342.1 80.8h0.9M351.6 60.8h0.9M325.9 71.9h0.9M369.6 72.8h0.9M326.2 94.9h0.9M345.1 64.4h0.9M369.0 87.7h0.9M351.4 69.4h0.9M344.6 63.4h0.9M346.4 66.4h0.9M357.6 58.3h0.9M348.0 77.1h0.9M319.5 90.3h0.9M338.8 49.4h0.9M352.8 70.6h0.9M352.2 68.3h0.9M353.1 57.6h0.9M331.1 92.3h0.9M345.2 51.2h0.9M315.7 82.6h0.9M334.2 73.7h0.9M353.2 70.4h0.9M344.5 77.7h0.9M345.6 89.2h0.9M344.7 65.0h0.9M343.4 66.8h0.9M320.4 89.3h0.9M324.2 74.4h0.9M348.3 73.8h0.9M360.2 51.3h0.9M343.3 86.8h0.9M351.6 49.8h0.9M344.4 89.7h0.9M370.7 76.2h0.9M346.0 79.8h0.9M319.3 73.9h0.9M338.9 49.2h0.9M349.3 76.9h0.9M358.5 48.6h0.9M338.0 70.8h0.9M319.7 90.7h0.9M370.5 47.3h0.9M333.0 72.7h0.9M338.9 49.8h0.9M330.3 93.2h0.9M357.5 47.4h0.9M338.4 71.4h0.9M359.0 67.1h0.9M353.9 49.4h0.9M348.8 79.2h0.9M341.2 49.6h0.9M367.1 81.5h0.9M351.4 47.9h0.9M365.9 91.1h0.9M319.5 86.9h0.9M363.3 80.6h0.9M342.7 50.3h0.9M341.2 65.7h0.9M360.1 64.9h0.9M367.9 80.0h0.9M370.5 75.4h0.9M342.8 83.1h0.9M321.7 73.5h0.9M368.2 81.8h0.9M366.9 86.7h0.9M357.0 67.8h0.9M368.0 91.2h0.9M371.9 48.4h0.9M342.8 52.4h0.9M349.6 72.8h0.9M353.5 71.6h0.9M370.4 66.9h0.9M363.2 72.9h0.9M346.9 84.1h0.9M349.0 66.5h0.9M358.1 47.3h0.9M336.9 68.2h0.9M362.6 45.1h0.9M367.9 85.5h0.9M351.1 64.7h0.9M348.6 66.9h0.9M354.7 49.5h0.9M318.4 84.8h0.9M344.8 76.6h0.9M359.4 67.1h0.9M346.0 50.2h0.9M367.4 82.3h0.9M318.3 86.5h0.9M335.9 89.7h0.9M345.9 51.7h0.9M338.0 87.3h0.9M315.3 82.3h0.9M351.2 48.7h0.9M339.0 86.9h0.9M340.6 50.4h0.9M360.2 56.4h0.9M358.3 67.1h0.9M351.3 70.1h0.9M319.7 89.9h0.9M371.0 64.2h0.9M337.2 88.5h0.9M362.1 70.4h0.9M342.8 66.6h0.9M351.4 76.3h0.9M347.4 73.3h0.9M367.4 82.7h0.9M371.5 57.1h0.9M360.3 65.3h0.9M352.8 50.1h0.9M359.0 66.4h0.9M330.3 71.7h0.9M340.7 51.0h0.9M370.2 66.1h0.9M342.0 78.6h0.9M342.3 51.2h0.9M362.5 45.1h0.9M339.0 70.4h0.9M365.6 80.7h0.9M330.6 71.5h0.9M366.0 85.4h0.9M346.3 51.7h0.9M367.8 88.9h0.9M342.0 50.9h0.9M343.2 83.9h0.9M360.5 53.6h0.9M348.9 66.2h0.9M331.0 91.6h0.9M370.4 65.0h0.9M343.8 80.4h0.9M369.8 70.4h0.9M348.6 76.1h0.9M347.5 73.9h0.9M341.3 70.8h0.9M319.8 77.9h0.9M319.1 75.5h0.9M320.0 90.3h0.9M361.8 66.6h0.9M356.5 67.7h0.9M350.7 65.7h0.9M340.4 70.4h0.9M354.2 48.8h0.9M320.2 89.0h0.9M359.2 51.5h0.9M348.4 76.8h0.9M320.1 91.9h0.9M336.2 92.8h0.9M359.2 55.1h0.9M338.1 89.1h0.9M341.6 69.5h0.9M360.0 50.7h0.9M339.1 49.9h0.9M327.1 72.5h0.9M371.8 50.9h0.9M372.0 57.1h0.9M340.1 67.8h0.9M320.2 76.2h0.9M341.9 48.8h0.9M344.3 66.2h0.9M356.1 50.3h0.9M349.8 62.8h0.9M371.4 55.1h0.9M347.4 63.0h0.9M362.6 75.8h0.9M372.3 56.4h0.9M328.6 73.4h0.9M368.9 88.8h0.9M361.3 46.3h0.9M331.9 93.3h0.9M351.8 71.1h0.9M363.0 72.6h0.9M360.3 62.9h0.9M353.1 51.4h0.9M344.5 76.0h0.9M350.8 70.6h0.9M339.0 86.7h0.9M341.0 48.7h0.9M367.3 43.0h0.9M350.8 66.8h0.9M351.4 48.7h0.9M369.5 45.9h0.9M344.3 50.9h0.9M334.9 72.9h0.9M369.6 84.4h0.9M340.7 84.8h0.9M342.0 89.2h0.9M343.2 50.1h0.9M352.5 51.0h0.9M370.6 75.8h0.9M343.4 69.5h0.9M349.1 52.1h0.9M349.8 51.8h0.9M324.7 72.3h0.9M340.9 89.5h0.9M334.0 50.9h0.9M336.5 71.2h0.9M369.8 77.1h0.9M343.9 78.1h0.9M343.6 86.2h0.9M356.3 48.2h0.9M371.2 63.6h0.9M324.5 73.3h0.9M349.6 48.9h0.9M343.4 50.9h0.9M317.9 78.9h0.9M348.4 51.5h0.9M370.2 65.6h0.9M336.0 71.0h0.9M352.2 48.6h0.9M347.7 67.7h0.9M355.7 51.1h0.9M320.0 90.8h0.9M360.2 49.1h0.9M351.5 50.2h0.9M368.2 44.6h0.9" stroke="#5464ff" stroke-width="0.9" opacity="0.85" fill="none"/>
<path d="M321.3 81.4h0.9M344.4 75.2h0.9M363.1 47.2h0.9M327.6 74.2h0.9M336.4 83.5h0.9M339.9 79.8h0.9M349.2 68.7h0.9M364.1 71.6h0.9M338.7 81.2h0.9M321.7 85.7h0.9M340.5 78.9h0.9M336.2 82.7h0.9M361.7 63.9h0.9M335.8 86.7h0.9M328.1 89.9h0.9M354.8 63.8h0.9M370.1 52.6h0.9M361.0 56.7h0.9M328.4 74.5h0.9M366.6 79.0h0.9M341.1 74.6h0.9M363.2 67.5h0.9M327.3 75.9h0.9M332.8 76.3h0.9M368.8 71.6h0.9M335.6 85.8h0.9M335.3 83.2h0.9M355.5 65.1h0.9M324.5 77.8h0.9M356.8 62.7h0.9M355.5 63.3h0.9M323.6 87.4h0.9M338.2 84.1h0.9M341.6 75.8h0.9M370.3 61.6h0.9M333.8 86.8h0.9M362.3 48.9h0.9M329.0 75.8h0.9M328.2 75.6h0.9M336.5 82.8h0.9M334.7 83.1h0.9M329.2 74.8h0.9M336.0 82.1h0.9M334.9 87.1h0.9M351.8 62.7h0.9M334.5 79.7h0.9M319.1 85.1h0.9M365.9 74.1h0.9M368.6 73.8h0.9M360.7 52.7h0.9M336.1 87.3h0.9M322.8 87.7h0.9M325.5 77.3h0.9M353.4 65.9h0.9M370.7 59.8h0.9M335.7 86.7h0.9M332.5 77.4h0.9M329.7 75.5h0.9M345.2 72.3h0.9M340.7 79.4h0.9M349.5 69.7h0.9M355.2 63.9h0.9M361.7 54.2h0.9M336.9 78.2h0.9M335.1 81.6h0.9M322.7 87.2h0.9M337.6 75.9h0.9M352.4 62.5h0.9M334.7 73.9h0.9M362.0 49.7h0.9M334.8 76.8h0.9M357.9 64.3h0.9M360.2 62.7h0.9M330.9 76.7h0.9M321.1 84.7h0.9M332.9 87.5h0.9M338.3 80.8h0.9M337.7 84.4h0.9M357.5 65.0h0.9M336.0 73.9h0.9M367.5 74.9h0.9M321.7 85.6h0.9M367.9 75.9h0.9M323.6 88.9h0.9M345.7 73.2h0.9M327.5 89.8h0.9M326.0 75.8h0.9M321.7 85.3h0.9M321.9 83.8h0.9M343.6 72.7h0.9M338.8 80.9h0.9M336.7 76.5h0.9M340.1 75.1h0.9M367.7 74.6h0.9M351.7 62.4h0.9M330.8 90.8h0.9M326.5 89.3h0.9M332.1 75.2h0.9M334.0 74.8h0.9M363.4 72.5h0.9M366.9 74.2h0.9M335.3 79.4h0.9M365.8 46.2h0.9M368.0 76.8h0.9M333.5 78.7h0.9M338.6 82.3h0.9M361.5 56.5h0.9M320.4 79.6h0.9M347.4 70.9h0.9M337.0 81.3h0.9M322.0 82.5h0.9M348.5 68.6h0.9M369.0 68.9h0.9M329.6 76.1h0.9M320.0 83.3h0.9M351.7 63.3h0.9M367.4 76.4h0.9M366.2 74.6h0.9M362.9 48.3h0.9M361.7 57.5h0.9M334.1 79.5h0.9M323.6 76.1h0.9M328.8 90.4h0.9M323.8 75.8h0.9M323.6 89.9h0.9M334.7 78.1h0.9M355.1 61.4h0.9M365.8 44.3h0.9M328.5 90.9h0.9M369.8 60.9h0.9M323.9 87.5h0.9M362.6 64.5h0.9M337.2 76.2h0.9M353.8 60.5h0.9M361.6 50.9h0.9M354.6 60.3h0.9M324.3 88.6h0.9M328.9 74.9h0.9M364.8 73.9h0.9M344.0 71.9h0.9M322.3 85.9h0.9M335.4 85.2h0.9M367.8 73.7h0.9M321.2 81.4h0.9M340.3 75.5h0.9M333.9 76.8h0.9M364.7 71.8h0.9M334.8 82.8h0.9M337.7 86.7h0.9M363.4 68.4h0.9M368.4 70.9h0.9M368.0 73.9h0.9M329.0 75.2h0.9M364.1 73.9h0.9M362.0 50.2h0.9M337.7 78.0h0.9M336.9 79.1h0.9M354.1 64.3h0.9M347.0 72.7h0.9M354.0 66.9h0.9M370.4 54.2h0.9M336.9 84.7h0.9M366.9 44.5h0.9M359.1 63.0h0.9M358.8 61.4h0.9M345.6 73.0h0.9M331.8 87.6h0.9M320.6 83.1h0.9M331.2 88.5h0.9M321.3 82.9h0.9M322.2 78.5h0.9M363.5 67.7h0.9M330.7 76.3h0.9M357.2 65.8h0.9M335.0 82.3h0.9M335.0 75.6h0.9M363.1 65.0h0.9M351.5 66.7h0.9M371.1 56.2h0.9M362.4 65.7h0.9M358.2 63.6h0.9M353.6 59.2h0.9M346.6 71.5h0.9M336.2 85.2h0.9M323.0 77.6h0.9M339.4 74.2h0.9M321.3 83.7h0.9M357.9 63.0h0.9M336.2 76.7h0.9M333.3 89.8h0.9M368.9 72.3h0.9M323.2 78.2h0.9M338.8 79.8h0.9M361.3 61.5h0.9M341.0 80.0h0.9M336.9 87.0h0.9M345.1 69.2h0.9M332.7 87.9h0.9M362.8 66.1h0.9M341.4 78.6h0.9M365.2 78.0h0.9M357.3 63.2h0.9M363.9 70.0h0.9M327.5 75.5h0.9M337.0 74.6h0.9M367.2 46.3h0.9M340.1 78.4h0.9M320.5 78.4h0.9M370.6 50.8h0.9M324.5 76.9h0.9M364.4 71.8h0.9M333.1 88.6h0.9M368.9 70.6h0.9M328.7 76.4h0.9M365.6 74.3h0.9M361.7 58.1h0.9M333.7 78.6h0.9M355.4 61.7h0.9M338.2 79.7h0.9M365.8 46.1h0.9M337.0 81.5h0.9M327.4 91.1h0.9M334.7 85.5h0.9M322.2 84.8h0.9M326.9 89.1h0.9M343.4 74.5h0.9M327.8 89.1h0.9M363.3 66.3h0.9M348.3 71.7h0.9M334.8 77.2h0.9M339.3 76.0h0.9M362.7 63.2h0.9M345.8 71.5h0.9M350.2 70.0h0.9M369.6 67.4h0.9M362.4 47.1h0.9M371.0 55.3h0.9M324.3 89.2h0.9M361.9 61.6h0.9M362.3 47.6h0.9M363.1 68.7h0.9M320.1 81.1h0.9M361.1 54.8h0.9M366.6 79.7h0.9M352.9 60.7h0.9M368.5 70.0h0.9M331.7 89.4h0.9M353.8 61.1h0.9M369.5 63.7h0.9M350.1 69.4h0.9M329.3 74.0h0.9M343.4 73.4h0.9M335.2 84.8h0.9M357.3 58.6h0.9M323.4 79.1h0.9M361.9 53.5h0.9M361.8 54.9h0.9M330.6 73.6h0.9M346.7 72.9h0.9M334.9 81.2h0.9M331.9 75.9h0.9M361.0 55.7h0.9M370.8 54.2h0.9M355.6 65.0h0.9M355.4 65.8h0.9M362.7 66.1h0.9M365.6 78.6h0.9M365.1 44.4h0.9M331.5 74.6h0.9M333.6 89.6h0.9M324.6 74.5h0.9M333.2 76.0h0.9M330.2 76.9h0.9M352.6 59.5h0.9M354.1 61.3h0.9M334.2 88.3h0.9M353.8 64.2h0.9M340.8 76.6h0.9M353.2 61.2h0.9M337.5 78.0h0.9M368.4 47.2h0.9M331.6 74.9h0.9M335.8 78.5h0.9M368.3 76.6h0.9M369.4 46.9h0.9M344.8 72.3h0.9M360.2 62.0h0.9M334.8 86.3h0.9M334.9 77.2h0.9M368.3 74.1h0.9M319.3 85.6h0.9M341.2 78.5h0.9M357.5 64.3h0.9M332.4 77.5h0.9M329.0 89.7h0.9M369.4 65.0h0.9M329.4 88.3h0.9M371.2 57.3h0.9M345.7 74.2h0.9M332.6 76.7h0.9M357.1 64.7h0.9M361.1 60.2h0.9M341.4 75.6h0.9M357.9 64.9h0.9M370.0 50.2h0.9M320.4 83.2h0.9M362.5 47.7h0.9M329.3 76.7h0.9M328.0 75.6h0.9M360.9 57.4h0.9M331.4 87.7h0.9M368.8 69.9h0.9M328.2 75.8h0.9M370.2 61.4h0.9M353.9 64.0h0.9M361.9 57.1h0.9M333.4 86.4h0.9M355.6 60.0h0.9M364.4 72.6h0.9M360.9 56.8h0.9M352.8 63.9h0.9M324.7 78.0h0.9M338.0 78.4h0.9M366.4 44.7h0.9M337.7 81.0h0.9M368.9 47.5h0.9M321.3 80.3h0.9M336.0 85.2h0.9M338.1 78.7h0.9M332.0 88.3h0.9M363.3 67.2h0.9M366.3 80.1h0.9M326.5 90.3h0.9M356.1 62.1h0.9M327.5 88.4h0.9M369.3 65.7h0.9M338.5 82.3h0.9M354.3 59.5h0.9M329.5 88.4h0.9M319.0 85.3h0.9M368.6 76.5h0.9M347.8 71.8h0.9M337.3 83.4h0.9M332.3 90.3h0.9M365.3 73.8h0.9M335.2 82.7h0.9M338.4 83.4h0.9M355.4 62.3h0.9M366.3 46.1h0.9M368.9 66.5h0.9M361.1 48.8h0.9M361.5 54.4h0.9M322.7 79.3h0.9M321.3 82.3h0.9M361.9 57.5h0.9M346.5 71.1h0.9M345.2 69.8h0.9M319.2 84.6h0.9M338.8 84.7h0.9M356.3 62.3h0.9M319.1 84.3h0.9M353.5 66.3h0.9M337.7 77.8h0.9M334.8 82.8h0.9M351.6 64.9h0.9M336.1 79.7h0.9M322.6 86.7h0.9M335.7 87.3h0.9M351.1 68.6h0.9M336.6 78.4h0.9M341.9 73.8h0.9M330.8 90.0h0.9M321.2 85.3h0.9M351.0 67.1h0.9M367.8 45.6h0.9M334.5 83.7h0.9M358.2 61.0h0.9M330.3 88.9h0.9M339.4 77.4h0.9M355.6 63.3h0.9M362.4 49.8h0.9M334.8 77.0h0.9M336.4 74.9h0.9M335.2 83.6h0.9M363.7 73.9h0.9M355.2 64.9h0.9M331.7 87.1h0.9M353.8 61.6h0.9M345.7 70.5h0.9M326.3 90.5h0.9M363.7 68.7h0.9M339.7 75.0h0.9M368.7 69.0h0.9M353.3 61.0h0.9M355.7 63.9h0.9M338.0 77.9h0.9M362.8 46.5h0.9M370.0 51.2h0.9M362.2 61.8h0.9M335.7 88.7h0.9M367.4 80.8h0.9M356.9 60.9h0.9M322.0 82.0h0.9M325.4 74.4h0.9M360.5 59.8h0.9M358.8 62.5h0.9M326.1 91.3h0.9M331.1 75.6h0.9M368.2 71.0h0.9M336.7 84.0h0.9M322.1 85.5h0.9M368.0 72.5h0.9M334.2 75.0h0.9M337.4 74.9h0.9M346.5 71.2h0.9M362.7 64.8h0.9M354.3 60.4h0.9M337.3 78.3h0.9M355.2 62.6h0.9M332.4 74.8h0.9M347.7 68.0h0.9M334.3 78.4h0.9M361.8 55.0h0.9M325.4 77.5h0.9M352.0 67.0h0.9M334.8 75.8h0.9M359.6 61.4h0.9M358.3 65.0h0.9M366.0 80.3h0.9M333.5 78.1h0.9M322.8 79.1h0.9M354.2 61.6h0.9M330.5 90.3h0.9M324.7 76.2h0.9M370.5 51.7h0.9M358.1 58.8h0.9M332.1 75.1h0.9M365.9 75.4h0.9M355.2 60.8h0.9M355.1 63.4h0.9M371.1 53.4h0.9M352.3 66.2h0.9M342.1 72.0h0.9M337.0 86.2h0.9M364.8 45.9h0.9M364.9 77.3h0.9M330.3 73.6h0.9M369.3 47.1h0.9M338.4 75.5h0.9M342.2 73.8h0.9M335.8 76.4h0.9M354.8 60.8h0.9M337.8 75.5h0.9M337.7 82.0h0.9M356.7 65.1h0.9M360.5 58.1h0.9M337.5 75.2h0.9M353.4 58.7h0.9M367.0 76.6h0.9M366.1 78.3h0.9M333.5 78.2h0.9M369.2 49.2h0.9M343.9 73.8h0.9M320.7 78.1h0.9M367.6 46.0h0.9M330.5 89.3h0.9M335.1 84.1h0.9M347.0 72.8h0.9M355.3 63.0h0.9M336.2 79.4h0.9M334.3 83.3h0.9M358.9 61.1h0.9M349.0 68.0h0.9M323.8 89.6h0.9M356.3 63.8h0.9M347.5 71.4h0.9M362.9 46.7h0.9M330.6 89.4h0.9M321.7 88.1h0.9M351.7 67.4h0.9M366.5 76.0h0.9M329.4 73.6h0.9M366.0 75.7h0.9M321.8 85.3h0.9M349.4 70.4h0.9M364.9 75.3h0.9M322.1 76.3h0.9M365.3 75.7h0.9M322.0 84.7h0.9M322.6 78.8h0.9M320.6 86.2h0.9M327.9 89.0h0.9M370.1 62.2h0.9M332.7 88.4h0.9M369.6 63.4h0.9M355.0 59.7h0.9M330.1 89.0h0.9M328.4 88.9h0.9M323.1 76.4h0.9M319.7 84.1h0.9M325.0 88.6h0.9M323.0 87.0h0.9M319.9 82.2h0.9M333.7 78.6h0.9M322.2 82.0h0.9M344.7 71.4h0.9M320.2 84.3h0.9M370.4 59.9h0.9M343.9 75.4h0.9M346.9 69.1h0.9M363.7 73.8h0.9M330.2 88.2h0.9M351.7 63.3h0.9M321.2 84.9h0.9M363.3 71.2h0.9M329.0 90.7h0.9M362.3 61.7h0.9M329.2 90.5h0.9M361.8 62.9h0.9M329.5 75.9h0.9M369.8 50.2h0.9M321.0 77.5h0.9M334.3 89.5h0.9M361.7 58.6h0.9M355.0 61.1h0.9M363.3 66.1h0.9M325.7 75.9h0.9M340.3 77.8h0.9M329.4 90.1h0.9M352.9 63.6h0.9M366.2 75.1h0.9M335.0 85.9h0.9M366.3 75.5h0.9M328.2 88.8h0.9M334.9 79.2h0.9M362.1 49.9h0.9M339.2 77.2h0.9M332.4 87.0h0.9M334.3 85.5h0.9M365.9 75.2h0.9M326.7 77.0h0.9M337.6 81.2h0.9M332.6 75.6h0.9M322.5 79.8h0.9M322.7 78.0h0.9M336.9 87.3h0.9M319.6 84.3h0.9M325.1 77.5h0.9M321.6 87.0h0.9M336.8 83.0h0.9M321.1 85.4h0.9M336.2 75.6h0.9M330.8 89.4h0.9M364.6 76.9h0.9M325.3 88.3h0.9M322.8 75.7h0.9M361.8 58.2h0.9M319.3 82.7h0.9M320.5 81.8h0.9M362.8 48.5h0.9M361.2 62.3h0.9M322.1 87.0h0.9M336.0 87.4h0.9M368.4 72.9h0.9M365.5 73.7h0.9M339.7 72.7h0.9M338.0 76.2h0.9M334.0 75.1h0.9M338.5 75.8h0.9M347.9 72.6h0.9M343.6 72.7h0.9M355.5 66.5h0.9M331.1 76.4h0.9M365.9 74.7h0.9M333.3 78.5h0.9M347.0 68.9h0.9M335.3 86.6h0.9M322.5 87.4h0.9M366.2 74.8h0.9M324.6 76.7h0.9M320.9 86.7h0.9M369.7 48.8h0.9M361.5 50.4h0.9M328.3 91.4h0.9M332.6 88.8h0.9M355.3 63.9h0.9M365.9 77.0h0.9M367.1 78.4h0.9M329.5 90.6h0.9M329.4 91.3h0.9M329.0 88.7h0.9M365.2 73.5h0.9M367.8 76.9h0.9M321.1 84.2h0.9M354.6 65.8h0.9M343.2 75.2h0.9M331.0 88.9h0.9M336.7 77.0h0.9M339.6 80.8h0.9M358.1 59.4h0.9M335.3 85.6h0.9M360.6 57.9h0.9M339.5 79.5h0.9M350.9 69.2h0.9M365.1 73.2h0.9M319.9 84.5h0.9M338.1 79.0h0.9M334.6 76.0h0.9M322.2 79.6h0.9M337.6 82.5h0.9M324.3 74.9h0.9M325.3 74.8h0.9M362.5 66.3h0.9M322.7 86.1h0.9M346.1 71.2h0.9M328.3 89.4h0.9M369.9 52.0h0.9M369.6 66.2h0.9M368.8 73.0h0.9M364.6 72.5h0.9M347.0 72.4h0.9M335.1 79.6h0.9M370.6 57.5h0.9M319.3 82.6h0.9M324.3 88.5h0.9M336.7 79.5h0.9M323.3 77.2h0.9M355.7 61.6h0.9M340.4 74.5h0.9M370.4 61.7h0.9M333.4 77.3h0.9M347.3 72.9h0.9M330.8 75.8h0.9M329.3 75.1h0.9M326.9 90.0h0.9M326.2 74.7h0.9M363.1 66.5h0.9M338.0 76.3h0.9M334.6 79.3h0.9M359.5 61.9h0.9M367.9 45.5h0.9M357.8 64.4h0.9M336.6 78.8h0.9M370.8 55.7h0.9M347.8 68.2h0.9M351.9 66.8h0.9M346.6 70.0h0.9M322.3 86.4h0.9M367.7 78.5h0.9M362.2 61.5h0.9M370.0 50.0h0.9M365.1 76.9h0.9M370.5 59.5h0.9M345.4 70.8h0.9M354.5 61.0h0.9M369.1 63.7h0.9M361.0 51.4h0.9M363.7 74.4h0.9M340.5 79.2h0.9M331.9 87.8h0.9M333.2 75.5h0.9M334.3 89.1h0.9M361.9 50.3h0.9M343.5 73.8h0.9M339.2 75.0h0.9M321.4 84.7h0.9M335.4 83.7h0.9M338.7 83.5h0.9M370.2 55.4h0.9M358.9 60.8h0.9M353.3 64.6h0.9M332.7 88.6h0.9M334.9 80.0h0.9M343.1 74.1h0.9M370.6 52.2h0.9M343.1 72.4h0.9M347.1 70.4h0.9M334.1 89.3h0.9M355.2 64.9h0.9M370.2 59.5h0.9M358.9 59.5h0.9M364.9 46.1h0.9M336.4 82.6h0.9M337.3 77.8h0.9M347.5 69.7h0.9M342.6 73.3h0.9M358.8 59.3h0.9M346.6 69.6h0.9M323.1 89.5h0.9M364.1 69.4h0.9M367.5 45.5h0.9M335.1 79.1h0.9M362.3 50.5h0.9M369.1 48.3h0.9M321.5 79.1h0.9M356.8 62.2h0.9M356.0 63.7h0.9M333.3 86.2h0.9M354.7 64.6h0.9M327.3 88.3h0.9M360.9 62.0h0.9M320.9 85.7h0.9M370.0 49.4h0.9M329.3 90.5h0.9M362.8 48.8h0.9M327.9 75.2h0.9M338.1 82.9h0.9M361.0 49.4h0.9M335.8 85.9h0.9M354.4 58.9h0.9M339.6 75.9h0.9M370.3 57.2h0.9M362.8 47.4h0.9M345.5 70.7h0.9M352.5 62.0h0.9M363.2 65.8h0.9M324.4 87.5h0.9M353.0 64.4h0.9M369.9 60.6h0.9M324.7 87.5h0.9M369.4 49.9h0.9M338.1 76.0h0.9M338.5 82.9h0.9M323.5 77.8h0.9M365.3 45.9h0.9M326.5 90.8h0.9M369.5 66.1h0.9M335.6 75.6h0.9M342.6 73.3h0.9M333.2 86.2h0.9M330.3 88.6h0.9M355.0 61.4h0.9M361.6 54.5h0.9M334.5 77.2h0.9M331.6 89.4h0.9M369.4 47.5h0.9M357.0 61.7h0.9M336.0 88.4h0.9M343.7 75.6h0.9M361.0 53.1h0.9M356.0 60.7h0.9M366.7 75.6h0.9M331.0 76.0h0.9M364.3 72.2h0.9M336.9 85.4h0.9M328.3 75.9h0.9M351.3 63.5h0.9M361.8 50.3h0.9M363.8 71.2h0.9M370.9 56.1h0.9M355.3 58.6h0.9M356.2 61.2h0.9M344.2 69.9h0.9M337.3 81.4h0.9M340.1 74.4h0.9M343.2 74.5h0.9M361.5 50.1h0.9M370.2 57.9h0.9M354.8 63.2h0.9M369.2 46.5h0.9M336.9 79.5h0.9M331.9 75.2h0.9M363.4 71.9h0.9M321.5 81.6h0.9M367.7 72.6h0.9M328.7 90.7h0.9M335.6 84.0h0.9M347.2 70.7h0.9M321.6 83.1h0.9M347.1 69.0h0.9M365.5 76.5h0.9M343.0 72.9h0.9M338.3 80.7h0.9M366.6 78.6h0.9M340.4 76.0h0.9M370.4 54.4h0.9M364.6 76.4h0.9M357.4 61.4h0.9M335.3 75.4h0.9M334.4 76.5h0.9M357.1 61.9h0.9M335.8 86.7h0.9M337.6 77.7h0.9M331.3 75.6h0.9M366.0 80.4h0.9M324.0 87.9h0.9M327.2 74.6h0.9M333.2 74.6h0.9M335.8 82.1h0.9M327.7 90.9h0.9M335.6 80.0h0.9M347.6 71.2h0.9M327.7 89.6h0.9M333.8 78.5h0.9M347.5 68.9h0.9M349.9 70.1h0.9M367.4 46.8h0.9M318.8 84.4h0.9M350.7 68.0h0.9M356.8 64.0h0.9M369.7 63.2h0.9M321.5 83.9h0.9M322.9 85.9h0.9M364.6 74.6h0.9M369.3 67.8h0.9M351.5 62.9h0.9M352.2 60.9h0.9M323.3 78.8h0.9M361.5 59.9h0.9M353.3 62.6h0.9M370.9 52.5h0.9M336.9 85.6h0.9M326.0 90.0h0.9M356.8 64.2h0.9M368.7 69.1h0.9M370.1 59.0h0.9M366.6 77.3h0.9M323.5 75.1h0.9M334.9 75.5h0.9M343.3 75.6h0.9M335.9 78.2h0.9M357.5 61.8h0.9M360.9 59.8h0.9M324.6 87.3h0.9M344.1 69.7h0.9M321.7 78.3h0.9M333.6 85.6h0.9M359.9 62.1h0.9M355.0 65.7h0.9M342.9 74.5h0.9M370.0 61.6h0.9M337.8 74.8h0.9M334.2 85.3h0.9M369.0 67.1h0.9M364.1 75.7h0.9M339.8 78.2h0.9M338.2 85.6h0.9M333.7 76.9h0.9M334.1 76.6h0.9M328.5 74.6h0.9M367.0 45.1h0.9M354.1 65.9h0.9M370.8 53.9h0.9M366.2 45.7h0.9M343.1 71.0h0.9M338.3 79.8h0.9M370.0 59.4h0.9M336.2 84.2h0.9M369.2 48.0h0.9M346.4 72.7h0.9M369.2 69.2h0.9M366.0 74.2h0.9M365.0 76.3h0.9M352.6 67.2h0.9M329.2 88.8h0.9M354.8 63.5h0.9M349.1 70.9h0.9M332.2 89.7h0.9M362.9 48.4h0.9M325.8 77.3h0.9M321.8 83.6h0.9M368.3 74.2h0.9M344.5 73.5h0.9M325.5 74.2h0.9M326.5 76.6h0.9M370.6 53.2h0.9M351.8 61.5h0.9M324.8 75.0h0.9M362.8 67.5h0.9M361.1 55.2h0.9M321.5 86.7h0.9M335.3 83.8h0.9M328.9 76.1h0.9M358.0 62.5h0.9M332.2 74.7h0.9M331.4 88.7h0.9M354.1 60.6h0.9M367.5 78.4h0.9M348.4 70.9h0.9M327.8 88.9h0.9M324.7 77.6h0.9M356.4 63.7h0.9M356.2 60.6h0.9M329.9 88.8h0.9M318.8 83.9h0.9M335.2 80.9h0.9M367.6 76.3h0.9M325.6 76.2h0.9M367.1 74.2h0.9M320.6 81.0h0.9M320.7 80.0h0.9M356.8 65.0h0.9M357.2 63.1h0.9M369.0 75.1h0.9M353.2 63.3h0.9M357.8 64.4h0.9M352.6 60.0h0.9M336.4 87.8h0.9M361.8 51.8h0.9M328.2 76.2h0.9M331.1 75.1h0.9M333.7 76.5h0.9M353.8 60.0h0.9M336.5 76.3h0.9M340.9 72.1h0.9M353.1 64.1h0.9M335.1 74.4h0.9M341.5 78.4h0.9M347.5 70.2h0.9M330.5 89.6h0.9M361.8 55.6h0.9M338.3 77.3h0.9M325.5 90.7h0.9M358.3 59.8h0.9M369.5 61.7h0.9M336.5 74.1h0.9M370.9 53.5h0.9M325.4 77.3h0.9M335.3 74.3h0.9M368.3 75.2h0.9M319.9 84.7h0.9M370.2 49.9h0.9" stroke="#2a3cff" stroke-width="0.9" opacity="0.85" fill="none"/>
<path d="M366.2 55.9h0.9M367.8 71.6h0.9M324.0 83.4h0.9M367.5 51.4h0.9M365.2 55.7h0.9M365.4 52.8h0.9M323.1 84.6h0.9M364.3 69.3h0.9M367.6 55.5h0.9M365.9 56.9h0.9M365.4 63.2h0.9M367.3 72.1h0.9M326.8 78.2h0.9M327.6 78.4h0.9M367.0 55.3h0.9M325.2 85.1h0.9M323.2 82.3h0.9M364.6 51.0h0.9M369.7 55.2h0.9M327.6 84.8h0.9M366.8 65.3h0.9M366.0 68.0h0.9M329.4 80.0h0.9M364.3 69.7h0.9M324.2 81.6h0.9M327.4 81.5h0.9M365.3 53.3h0.9M365.3 51.8h0.9M367.7 66.0h0.9M327.7 77.4h0.9M332.2 86.4h0.9M325.8 87.6h0.9M367.0 58.3h0.9M368.7 64.4h0.9M365.9 70.2h0.9M366.4 52.2h0.9M323.7 81.5h0.9M366.6 57.6h0.9M367.7 48.1h0.9M330.3 87.6h0.9M366.6 49.9h0.9M329.2 79.1h0.9M365.7 63.2h0.9M325.6 85.0h0.9M368.0 66.7h0.9M333.7 84.0h0.9M369.7 58.5h0.9M363.2 57.5h0.9M325.5 86.0h0.9M325.7 80.3h0.9M364.2 61.6h0.9M367.8 58.1h0.9M326.6 78.9h0.9M324.2 84.2h0.9M366.3 61.0h0.9M365.9 62.3h0.9M327.7 78.0h0.9M365.7 55.4h0.9M365.3 51.7h0.9M364.9 55.6h0.9M366.5 65.7h0.9M330.0 87.8h0.9M326.9 78.9h0.9M365.9 62.3h0.9M366.5 56.7h0.9M368.3 48.8h0.9M363.8 55.3h0.9M365.6 52.9h0.9M363.9 55.8h0.9M368.1 49.2h0.9M363.2 55.2h0.9M330.1 77.3h0.9M366.1 48.0h0.9M367.0 58.2h0.9M327.9 81.3h0.9M364.4 56.6h0.9M366.2 61.9h0.9M367.4 47.6h0.9M332.0 79.4h0.9M366.8 63.4h0.9M364.5 53.0h0.9M325.6 85.7h0.9M329.4 79.0h0.9M367.5 71.2h0.9M365.8 63.1h0.9M326.0 82.4h0.9M367.2 54.6h0.9M367.8 57.6h0.9M365.5 55.8h0.9M363.8 52.5h0.9M367.4 55.3h0.9M363.2 59.6h0.9M366.4 48.5h0.9M367.0 60.0h0.9M326.5 84.5h0.9M365.2 51.0h0.9M369.0 49.4h0.9M326.5 83.6h0.9M331.1 78.5h0.9M330.5 83.0h0.9M368.0 55.5h0.9M329.5 85.9h0.9M328.5 86.1h0.9M366.0 68.6h0.9M367.7 67.4h0.9M326.6 77.7h0.9M327.2 78.1h0.9M367.2 63.1h0.9M366.3 50.9h0.9M365.8 53.1h0.9M366.7 71.8h0.9M369.3 51.3h0.9M366.0 66.8h0.9M369.0 52.8h0.9M366.7 50.3h0.9M366.3 58.8h0.9M332.0 79.4h0.9M368.1 54.7h0.9M368.4 57.9h0.9M366.4 48.6h0.9M328.3 80.6h0.9M327.6 80.9h0.9M367.4 53.3h0.9M327.7 84.7h0.9M368.0 57.3h0.9M363.6 50.4h0.9M367.4 51.4h0.9M364.9 57.8h0.9M367.2 57.6h0.9M326.8 85.2h0.9M365.0 52.0h0.9M365.6 55.1h0.9M365.6 67.1h0.9M364.3 52.6h0.9M363.9 55.2h0.9M327.8 77.6h0.9M322.9 81.6h0.9M363.0 56.6h0.9M325.3 80.0h0.9M368.3 56.0h0.9M365.5 72.6h0.9M369.4 53.3h0.9M323.7 82.9h0.9M366.0 58.0h0.9M365.4 48.7h0.9M365.3 72.3h0.9M366.0 47.9h0.9M362.6 50.7h0.9M363.7 52.2h0.9M364.8 58.9h0.9M365.5 52.2h0.9M325.9 85.5h0.9M325.3 84.8h0.9M323.6 83.7h0.9M366.0 59.9h0.9M363.1 48.7h0.9M362.7 56.2h0.9M322.6 82.1h0.9M366.9 54.9h0.9M367.2 54.8h0.9M332.7 80.6h0.9M365.9 58.9h0.9M331.2 86.2h0.9M368.8 60.3h0.9M368.1 59.3h0.9M367.9 71.5h0.9M367.6 65.7h0.9M368.3 57.9h0.9M331.5 77.8h0.9M364.2 50.9h0.9M323.8 79.8h0.9M329.9 84.1h0.9M367.2 49.5h0.9M366.9 57.1h0.9M364.5 52.9h0.9M367.7 54.3h0.9M366.4 61.2h0.9M329.0 79.2h0.9M362.5 56.5h0.9M370.0 58.0h0.9M329.4 85.4h0.9M328.9 77.9h0.9M365.6 71.0h0.9M366.1 47.2h0.9M328.3 77.0h0.9M367.2 73.1h0.9M364.0 52.7h0.9M331.6 80.7h0.9M369.1 56.1h0.9M365.7 51.4h0.9M327.0 84.9h0.9M365.3 57.6h0.9M365.8 65.2h0.9M366.3 55.4h0.9M368.8 60.2h0.9M366.2 65.1h0.9M365.1 54.5h0.9M367.2 66.8h0.9M364.1 56.8h0.9M364.2 66.2h0.9M363.1 50.8h0.9M368.2 58.2h0.9M364.3 56.0h0.9M366.7 62.4h0.9M329.9 81.9h0.9M364.3 58.1h0.9M322.8 80.2h0.9M366.5 59.7h0.9M331.3 81.9h0.9M366.5 64.2h0.9M328.7 84.7h0.9M332.8 84.9h0.9M329.7 85.1h0.9M368.4 61.5h0.9M364.5 64.9h0.9M329.0 85.8h0.9M366.7 60.0h0.9M366.4 51.5h0.9M368.1 63.2h0.9M366.6 54.0h0.9M365.0 58.0h0.9M363.7 56.1h0.9M366.2 63.4h0.9M366.6 58.7h0.9M369.4 55.1h0.9M326.2 86.9h0.9M368.1 54.6h0.9M366.1 57.5h0.9M362.6 51.8h0.9M365.0 54.1h0.9M368.0 59.6h0.9M365.1 67.2h0.9M324.4 81.9h0.9M365.6 52.9h0.9M324.5 78.6h0.9M366.7 54.9h0.9M367.0 54.7h0.9M368.4 57.2h0.9M326.7 82.1h0.9M367.7 54.3h0.9M368.7 59.0h0.9M365.1 61.7h0.9M331.5 83.3h0.9M363.7 54.6h0.9M368.0 50.8h0.9M329.5 82.8h0.9M366.2 48.1h0.9M367.4 57.1h0.9M330.5 86.3h0.9M366.4 47.2h0.9M362.9 62.5h0.9M326.0 78.3h0.9M324.2 83.9h0.9M364.4 65.2h0.9M364.6 53.0h0.9M366.8 72.9h0.9M369.7 56.5h0.9M366.1 61.3h0.9M331.9 83.2h0.9M331.7 81.9h0.9M366.2 68.6h0.9M367.7 51.0h0.9M368.3 51.8h0.9M368.1 58.2h0.9M367.3 62.5h0.9M325.9 83.7h0.9M365.6 51.8h0.9M367.2 66.8h0.9M367.2 50.5h0.9M366.0 56.3h0.9M367.4 67.0h0.9M364.2 54.8h0.9M366.1 52.8h0.9M366.4 52.6h0.9M328.1 81.4h0.9M367.1 63.4h0.9M365.2 49.3h0.9M363.3 51.7h0.9M364.9 69.2h0.9M367.5 53.1h0.9M366.5 69.8h0.9M324.4 86.5h0.9M363.5 57.5h0.9M365.2 63.1h0.9M366.5 59.1h0.9M367.6 55.1h0.9M369.2 58.7h0.9M368.1 69.6h0.9M365.8 52.8h0.9M367.0 70.2h0.9M327.3 84.6h0.9M326.8 82.9h0.9M366.4 64.6h0.9M367.6 49.6h0.9M366.6 64.7h0.9M364.3 63.8h0.9M365.9 58.8h0.9M365.9 54.1h0.9M364.2 48.8h0.9M331.7 86.3h0.9M369.0 55.7h0.9M369.1 56.0h0.9M329.6 86.9h0.9M328.0 79.7h0.9M365.9 47.9h0.9M364.9 58.6h0.9M323.3 85.6h0.9M326.7 80.8h0.9M330.5 85.7h0.9M322.9 81.8h0.9M366.9 52.2h0.9M367.8 62.0h0.9M367.4 62.3h0.9M365.3 60.8h0.9M367.8 52.7h0.9M369.3 58.6h0.9M325.9 82.9h0.9M332.9 83.0h0.9M366.2 63.9h0.9M331.5 85.3h0.9M363.6 54.1h0.9M366.0 53.1h0.9M366.7 55.9h0.9M366.7 54.8h0.9M367.5 68.0h0.9M323.6 83.3h0.9M332.3 80.2h0.9M368.4 50.5h0.9M367.2 47.9h0.9M365.7 52.0h0.9M366.7 58.6h0.9M326.0 83.6h0.9M325.6 86.2h0.9M365.8 72.5h0.9M367.8 49.0h0.9M365.0 69.7h0.9M328.5 87.7h0.9M365.2 68.1h0.9M363.0 52.4h0.9M332.1 78.3h0.9M322.5 83.3h0.9M366.1 66.6h0.9M367.9 65.9h0.9M366.6 62.8h0.9M366.9 54.9h0.9M368.5 59.3h0.9M369.2 58.3h0.9M362.2 51.8h0.9M362.9 54.5h0.9M325.4 80.2h0.9M366.9 53.4h0.9M362.4 57.5h0.9M368.6 56.4h0.9M365.7 60.1h0.9M365.9 60.5h0.9M365.5 65.8h0.9M365.3 52.1h0.9M325.7 81.1h0.9M366.2 63.8h0.9M368.1 69.3h0.9M363.9 50.8h0.9M367.7 64.4h0.9M367.8 71.8h0.9M334.2 82.7h0.9M326.2 81.4h0.9M368.0 66.1h0.9M326.1 80.0h0.9M323.5 81.9h0.9M331.3 82.5h0.9M368.3 59.1h0.9M365.2 71.1h0.9M363.2 58.6h0.9M368.0 54.1h0.9M332.3 84.8h0.9M366.8 63.5h0.9M366.9 58.2h0.9M325.9 82.1h0.9M333.5 84.6h0.9M363.8 60.5h0.9M362.8 62.1h0.9M332.0 82.7h0.9M367.3 54.7h0.9M330.4 83.7h0.9M333.2 83.5h0.9M366.4 53.0h0.9M365.8 55.9h0.9M364.3 56.0h0.9M366.5 55.8h0.9M324.3 80.7h0.9M365.9 58.9h0.9M365.4 55.1h0.9M322.9 85.3h0.9M367.9 52.7h0.9M367.1 59.6h0.9M325.5 84.9h0.9M325.2 78.1h0.9M367.3 53.1h0.9M330.3 85.7h0.9M364.4 53.9h0.9M366.2 67.3h0.9M366.5 57.9h0.9M364.3 51.8h0.9M366.0 48.6h0.9M330.8 77.8h0.9M330.9 84.1h0.9M324.5 80.1h0.9M368.3 51.4h0.9M326.5 81.7h0.9M369.2 53.4h0.9M332.8 84.2h0.9M329.3 83.8h0.9M368.0 62.3h0.9M365.6 47.1h0.9M328.9 81.0h0.9M329.2 82.4h0.9M330.5 87.1h0.9M366.0 62.3h0.9M330.5 86.5h0.9M363.6 52.0h0.9M326.8 83.4h0.9M367.0 54.5h0.9M365.7 53.6h0.9M367.3 54.5h0.9M325.8 82.1h0.9M365.2 53.1h0.9M365.5 52.2h0.9M366.9 58.5h0.9M324.0 78.7h0.9M326.5 82.3h0.9M329.4 83.3h0.9M368.6 67.9h0.9M369.3 57.2h0.9M368.2 63.3h0.9M363.4 54.4h0.9M331.8 79.9h0.9M369.2 52.6h0.9M366.3 66.3h0.9M365.0 66.5h0.9M365.2 59.0h0.9M329.2 87.7h0.9M366.7 64.0h0.9M362.8 60.4h0.9M362.2 55.7h0.9M364.6 66.3h0.9M364.9 63.6h0.9M366.5 58.2h0.9M331.8 82.7h0.9M364.7 54.5h0.9M368.8 60.1h0.9M363.0 56.9h0.9M365.8 60.4h0.9M327.5 83.0h0.9M362.9 57.4h0.9M369.3 58.4h0.9M365.3 52.3h0.9M368.8 55.7h0.9M365.5 63.6h0.9M334.2 83.0h0.9M368.2 53.1h0.9M364.9 71.0h0.9M363.0 55.2h0.9M328.5 79.2h0.9M324.7 81.5h0.9M366.1 50.3h0.9M368.9 58.0h0.9M366.5 50.5h0.9M366.7 55.4h0.9M364.4 54.4h0.9M365.8 50.1h0.9M365.3 67.4h0.9M326.3 82.3h0.9M367.1 68.9h0.9M369.3 54.2h0.9M329.3 80.8h0.9M365.8 55.2h0.9M369.8 52.4h0.9M365.5 60.5h0.9M333.6 84.9h0.9M332.0 84.8h0.9M366.7 66.2h0.9M365.7 64.7h0.9M366.0 73.6h0.9M326.9 79.1h0.9M330.8 80.0h0.9M367.6 61.2h0.9M365.0 54.3h0.9M367.8 57.3h0.9M328.3 88.2h0.9M367.2 63.8h0.9M366.7 55.1h0.9M367.0 60.2h0.9M365.7 61.7h0.9M331.2 86.4h0.9M366.8 50.3h0.9M332.8 80.1h0.9M330.2 77.2h0.9M364.5 69.0h0.9M366.8 58.9h0.9M331.0 81.8h0.9M363.6 58.1h0.9M367.7 64.2h0.9M366.0 68.8h0.9M365.0 53.7h0.9M368.2 48.4h0.9M367.9 55.2h0.9M330.3 87.0h0.9M367.9 67.3h0.9M369.7 59.4h0.9M365.0 54.5h0.9M365.0 67.3h0.9M365.4 52.9h0.9M327.7 85.8h0.9M366.8 54.7h0.9M364.4 58.0h0.9M327.2 79.0h0.9M366.6 50.6h0.9M322.5 83.2h0.9M363.7 64.5h0.9M332.3 84.3h0.9M363.6 60.8h0.9M365.4 51.0h0.9M366.6 52.9h0.9M325.7 81.8h0.9M366.3 48.7h0.9M364.9 50.1h0.9M364.4 57.5h0.9M364.3 54.0h0.9M331.1 79.4h0.9M366.5 70.8h0.9M364.4 55.1h0.9M363.7 51.5h0.9M363.1 52.6h0.9M365.4 62.6h0.9M367.8 59.9h0.9M369.7 52.0h0.9M332.0 83.6h0.9M327.6 87.2h0.9M365.9 72.6h0.9M326.1 82.4h0.9M368.1 59.5h0.9M365.8 55.8h0.9M364.2 62.5h0.9M325.9 77.8h0.9M365.5 58.8h0.9M323.8 84.8h0.9M365.4 64.1h0.9M365.5 51.0h0.9M366.8 67.0h0.9M364.0 63.9h0.9M364.4 48.2h0.9M367.7 56.6h0.9M366.9 47.7h0.9M326.3 87.8h0.9M365.6 53.6h0.9M366.4 49.6h0.9M329.0 84.4h0.9M366.4 65.2h0.9M367.7 65.0h0.9M368.2 50.5h0.9M365.7 69.7h0.9M363.3 52.7h0.9M366.1 55.8h0.9M364.3 54.0h0.9M367.6 51.5h0.9M331.2 85.9h0.9M367.8 61.1h0.9M363.3 59.2h0.9M362.6 52.9h0.9M367.0 59.2h0.9M364.2 51.4h0.9M367.5 57.0h0.9M368.8 57.9h0.9M366.2 58.0h0.9M332.6 82.3h0.9M367.4 60.9h0.9M367.9 48.1h0.9M365.3 58.1h0.9M363.4 51.9h0.9M325.1 82.0h0.9M366.1 58.5h0.9M366.0 60.1h0.9M364.7 63.5h0.9M367.3 51.4h0.9M367.9 57.1h0.9M328.2 82.2h0.9M332.8 79.0h0.9M367.1 51.6h0.9M329.2 77.8h0.9M363.8 65.4h0.9M362.6 51.2h0.9M365.0 54.0h0.9M327.5 80.6h0.9M328.2 84.8h0.9M368.5 54.5h0.9M367.5 48.7h0.9M325.2 80.6h0.9M366.2 58.9h0.9M329.8 85.3h0.9M365.0 51.5h0.9M365.4 54.4h0.9M364.9 55.6h0.9M366.6 54.7h0.9M365.5 66.2h0.9M365.0 56.1h0.9M363.7 49.5h0.9M331.3 81.4h0.9M366.6 56.1h0.9M324.7 82.3h0.9M363.9 56.1h0.9M366.0 54.8h0.9M364.0 53.7h0.9M365.2 62.1h0.9M367.0 53.9h0.9M330.2 81.3h0.9M367.0 58.9h0.9M365.7 67.8h0.9M367.7 55.1h0.9M367.4 68.4h0.9M330.6 80.1h0.9M366.1 64.3h0.9M364.6 70.0h0.9M364.2 56.8h0.9M333.3 84.3h0.9M368.1 51.5h0.9M369.7 60.0h0.9M365.3 61.2h0.9M365.0 59.1h0.9M332.1 78.7h0.9M325.1 86.1h0.9M366.7 70.8h0.9M369.5 51.5h0.9M367.6 54.3h0.9M365.8 53.5h0.9M366.1 67.3h0.9M365.6 55.2h0.9M366.6 47.5h0.9M327.3 81.6h0.9M331.1 79.7h0.9M365.1 69.3h0.9M365.1 56.1h0.9M332.8 78.6h0.9M330.7 77.3h0.9M366.9 54.1h0.9M366.0 59.4h0.9M331.3 84.0h0.9M369.3 58.1h0.9M328.0 85.2h0.9M366.7 62.5h0.9M367.2 55.8h0.9M366.1 65.9h0.9M368.4 51.9h0.9M366.0 64.2h0.9M327.3 84.4h0.9M367.1 55.5h0.9M363.8 54.6h0.9M365.2 57.6h0.9M368.1 60.0h0.9M365.0 66.6h0.9M365.8 55.0h0.9M367.4 65.2h0.9M329.8 78.1h0.9M368.3 60.1h0.9M362.2 57.1h0.9M366.0 69.8h0.9M368.6 52.8h0.9M367.3 57.0h0.9M333.7 79.4h0.9M367.5 56.8h0.9M364.7 59.4h0.9M363.9 64.1h0.9M329.9 80.1h0.9M365.8 55.8h0.9M363.7 53.1h0.9M369.1 56.5h0.9M330.5 82.7h0.9M364.7 64.9h0.9M327.3 85.4h0.9M368.1 58.3h0.9M327.3 81.4h0.9M365.7 54.6h0.9M362.9 57.8h0.9M324.8 82.5h0.9M366.2 55.3h0.9M367.2 59.7h0.9M366.2 63.2h0.9M327.6 77.6h0.9M367.8 58.9h0.9M367.2 59.1h0.9M368.5 60.3h0.9M366.3 46.8h0.9M367.2 55.1h0.9M330.0 87.7h0.9M368.8 64.3h0.9M330.0 80.2h0.9M368.1 55.3h0.9M365.7 50.7h0.9M366.9 67.4h0.9M366.8 55.9h0.9M366.0 53.9h0.9M329.4 79.3h0.9M361.9 55.1h0.9M327.8 86.6h0.9M329.4 80.9h0.9M364.3 49.5h0.9M363.9 52.8h0.9M328.1 84.4h0.9M324.4 82.4h0.9M366.4 52.5h0.9M325.5 87.0h0.9M367.1 56.3h0.9M331.1 84.0h0.9M365.0 65.0h0.9M366.8 52.4h0.9M326.7 88.0h0.9M364.0 58.1h0.9M365.0 65.1h0.9M369.1 62.7h0.9M327.1 81.6h0.9M365.4 59.6h0.9M365.2 57.4h0.9M366.8 71.2h0.9M364.7 61.7h0.9M367.2 50.7h0.9M368.4 53.9h0.9M365.7 51.5h0.9M363.3 54.6h0.9M325.6 81.1h0.9M366.8 48.6h0.9M363.2 51.5h0.9M364.4 69.3h0.9M328.9 80.3h0.9M364.9 58.4h0.9M367.3 67.5h0.9M368.0 52.2h0.9M365.9 52.8h0.9M326.7 80.4h0.9M368.0 58.1h0.9M365.2 71.2h0.9M364.3 69.5h0.9M365.3 55.3h0.9M329.6 87.1h0.9M364.3 69.6h0.9M368.6 67.7h0.9M328.3 84.3h0.9M328.0 80.9h0.9M331.0 77.8h0.9M328.1 79.1h0.9M332.2 86.2h0.9M366.8 57.2h0.9M368.0 70.0h0.9M368.2 54.4h0.9M365.6 63.9h0.9M331.4 86.6h0.9M364.6 63.0h0.9M367.0 58.1h0.9M365.6 57.9h0.9M364.3 58.2h0.9M334.3 82.7h0.9M369.2 53.7h0.9M368.0 49.4h0.9M332.1 80.5h0.9M330.4 78.9h0.9M367.3 56.9h0.9M366.9 62.5h0.9M365.2 62.1h0.9M367.7 53.4h0.9M368.8 55.9h0.9M366.1 47.5h0.9M364.9 60.8h0.9M332.2 82.0h0.9M331.6 82.5h0.9M366.7 65.9h0.9M368.0 55.2h0.9M366.6 54.8h0.9M369.4 57.4h0.9M368.5 59.0h0.9M366.4 62.5h0.9M324.9 82.0h0.9M364.3 48.5h0.9M366.1 62.2h0.9M325.8 87.1h0.9M367.5 68.0h0.9M365.9 65.8h0.9M368.0 62.0h0.9M365.1 48.1h0.9M367.8 70.1h0.9M333.1 81.4h0.9M363.2 53.0h0.9M363.8 63.2h0.9M367.7 47.3h0.9M368.3 57.8h0.9M328.3 83.4h0.9M331.4 78.2h0.9M368.8 57.4h0.9M366.0 74.0h0.9M365.6 57.9h0.9M365.9 56.6h0.9M363.9 63.1h0.9M367.9 51.0h0.9M331.7 81.9h0.9M363.7 48.7h0.9M366.6 59.0h0.9M364.8 50.7h0.9M368.6 57.9h0.9M331.4 78.9h0.9M365.7 47.8h0.9M328.8 86.6h0.9M366.9 63.1h0.9M366.8 53.9h0.9M366.8 63.7h0.9M367.7 60.5h0.9M327.6 84.0h0.9M329.2 80.5h0.9M363.8 66.0h0.9M365.2 61.9h0.9M330.4 87.3h0.9M366.7 63.0h0.9M369.7 58.0h0.9M368.4 64.9h0.9M365.4 52.3h0.9M330.0 77.9h0.9M329.2 79.9h0.9M327.2 77.7h0.9M366.2 69.2h0.9M365.8 53.1h0.9M366.3 55.0h0.9M366.1 51.8h0.9M363.7 60.3h0.9M365.5 60.4h0.9M364.4 54.2h0.9M333.4 79.5h0.9M364.6 59.4h0.9M368.4 62.2h0.9M364.5 59.3h0.9M366.5 53.4h0.9M330.0 87.9h0.9M367.5 55.3h0.9M363.9 51.3h0.9M332.8 79.8h0.9M331.9 78.4h0.9M366.4 71.3h0.9M327.5 77.9h0.9M325.1 85.0h0.9M367.6 62.4h0.9M363.6 53.6h0.9M368.4 50.0h0.9M331.9 79.2h0.9M332.2 81.8h0.9M324.3 84.0h0.9M366.9 61.4h0.9M330.3 83.3h0.9M364.3 58.7h0.9M364.8 54.3h0.9M327.5 82.1h0.9M366.9 64.8h0.9M362.7 57.8h0.9M364.0 52.0h0.9M369.2 54.8h0.9M367.1 50.1h0.9M328.2 77.0h0.9M327.2 77.7h0.9M364.4 65.9h0.9M363.2 51.5h0.9M368.6 62.9h0.9M327.5 88.0h0.9M362.2 53.1h0.9M367.2 68.8h0.9M369.0 51.8h0.9M363.4 59.2h0.9M364.5 54.9h0.9M326.0 82.0h0.9M362.3 52.8h0.9M366.6 61.5h0.9M363.6 50.3h0.9M365.9 71.6h0.9M332.1 78.3h0.9M327.5 81.5h0.9M367.2 72.1h0.9M328.8 78.4h0.9M365.6 61.3h0.9M333.0 81.2h0.9M366.9 55.5h0.9M329.9 83.1h0.9M367.0 57.9h0.9M327.7 88.1h0.9M364.8 58.6h0.9M366.6 63.3h0.9M366.6 54.2h0.9M367.2 59.3h0.9M365.8 69.2h0.9M364.6 49.0h0.9M328.6 79.1h0.9M365.9 73.4h0.9M364.9 64.1h0.9M369.7 58.7h0.9M333.5 79.5h0.9M330.1 84.7h0.9M366.3 63.9h0.9M365.0 72.1h0.9M366.4 68.5h0.9M324.9 81.7h0.9M330.1 86.2h0.9M364.1 64.0h0.9M365.5 57.6h0.9M333.1 85.0h0.9M365.0 55.7h0.9M323.4 82.2h0.9M364.9 71.9h0.9M327.3 88.1h0.9M365.5 68.3h0.9M367.4 62.0h0.9M363.1 54.6h0.9M367.8 57.1h0.9M328.1 83.2h0.9M365.0 58.4h0.9M363.9 51.9h0.9M328.0 86.4h0.9M365.4 68.5h0.9M365.9 54.3h0.9M365.7 57.6h0.9M326.7 79.6h0.9M364.2 53.6h0.9M327.9 80.6h0.9M368.4 52.4h0.9M367.2 54.9h0.9M363.5 54.6h0.9M328.3 88.2h0.9M325.5 81.9h0.9M367.1 64.9h0.9M366.3 52.5h0.9M365.7 53.8h0.9M364.5 50.9h0.9M368.6 66.1h0.9M326.0 82.4h0.9M364.3 54.0h0.9M365.2 53.2h0.9M366.7 47.3h0.9M366.7 56.4h0.9M364.6 68.7h0.9M364.4 57.5h0.9M329.6 85.5h0.9M364.4 49.5h0.9M332.6 82.1h0.9M329.3 82.3h0.9M332.3 83.8h0.9M367.2 52.3h0.9M326.3 82.2h0.9M364.2 52.8h0.9M364.2 58.3h0.9M363.9 52.5h0.9M327.4 77.2h0.9M365.0 63.7h0.9M364.7 64.1h0.9M364.7 68.3h0.9M329.5 78.8h0.9M365.6 57.9h0.9M367.4 55.0h0.9M331.8 82.4h0.9M324.4 82.5h0.9M368.5 61.5h0.9M366.5 49.1h0.9M329.1 80.7h0.9M368.1 68.1h0.9M324.3 86.4h0.9M368.1 50.6h0.9M364.0 60.7h0.9M368.5 52.1h0.9M365.4 58.7h0.9M367.4 73.2h0.9M366.9 68.7h0.9M330.7 86.3h0.9M365.6 63.2h0.9M365.1 59.4h0.9M330.8 86.6h0.9M366.8 54.5h0.9M369.2 55.4h0.9M364.3 57.6h0.9M369.7 52.8h0.9M364.0 56.6h0.9M366.0 56.8h0.9M370.1 55.1h0.9M369.2 49.8h0.9M364.1 61.3h0.9M331.4 80.0h0.9M364.4 52.6h0.9M365.5 53.9h0.9M366.2 54.0h0.9M365.4 70.0h0.9M323.0 80.9h0.9M362.5 57.4h0.9M368.3 69.4h0.9M365.4 72.6h0.9M327.5 84.1h0.9M367.0 56.1h0.9M369.6 55.7h0.9M326.9 86.0h0.9M325.9 82.5h0.9M363.7 51.4h0.9M366.9 65.6h0.9M325.3 80.9h0.9M324.8 81.9h0.9M365.7 56.1h0.9M365.6 64.9h0.9M333.4 81.9h0.9M365.7 61.6h0.9M366.6 47.4h0.9M365.6 68.1h0.9M332.5 79.5h0.9M363.8 56.4h0.9M363.1 60.1h0.9M326.4 78.7h0.9M363.8 59.2h0.9M332.5 79.0h0.9M366.5 68.3h0.9M366.9 56.0h0.9M369.1 57.3h0.9M365.2 57.6h0.9M367.7 50.4h0.9M327.8 77.4h0.9M331.1 83.4h0.9M328.7 87.1h0.9M327.1 79.1h0.9M365.9 58.0h0.9M330.7 78.7h0.9M363.9 52.0h0.9M363.2 61.9h0.9M328.2 82.1h0.9M364.9 60.6h0.9M366.1 66.6h0.9M366.0 55.0h0.9M329.6 86.3h0.9M363.4 60.0h0.9M368.0 60.3h0.9M368.6 65.2h0.9M363.9 51.7h0.9M367.1 51.4h0.9M366.4 64.3h0.9M332.3 80.0h0.9M368.0 55.1h0.9M329.6 79.0h0.9M362.8 59.1h0.9M327.9 79.3h0.9M366.5 70.1h0.9M365.3 55.1h0.9M363.5 56.6h0.9M368.8 52.6h0.9M326.8 84.1h0.9M366.0 73.9h0.9M366.7 61.5h0.9M366.9 62.4h0.9M368.0 56.8h0.9M329.9 85.4h0.9M366.8 58.5h0.9M331.9 85.6h0.9M327.4 83.1h0.9M330.4 81.4h0.9M328.8 78.4h0.9M330.6 86.1h0.9M369.6 55.1h0.9M368.0 70.0h0.9M369.6 51.8h0.9M327.4 82.6h0.9M331.5 78.8h0.9M368.0 54.5h0.9M364.6 53.7h0.9M366.8 53.2h0.9M365.5 55.3h0.9M362.9 58.0h0.9M330.2 83.7h0.9M365.8 54.9h0.9M325.2 80.0h0.9M363.6 60.7h0.9M367.4 61.2h0.9M364.2 53.4h0.9M324.7 82.6h0.9M367.9 63.3h0.9M364.2 53.2h0.9M326.7 86.6h0.9M366.4 51.9h0.9M362.8 57.6h0.9M366.5 70.7h0.9M326.0 83.6h0.9M365.6 58.9h0.9M326.0 79.8h0.9M368.4 57.7h0.9M327.8 85.2h0.9M327.2 83.2h0.9M366.6 57.9h0.9M328.0 82.6h0.9M365.7 72.7h0.9M364.3 53.0h0.9M364.3 56.9h0.9M364.8 55.8h0.9M365.4 61.2h0.9M368.3 49.9h0.9M326.7 85.7h0.9M366.1 54.2h0.9M326.0 81.1h0.9M366.0 48.5h0.9M330.6 85.2h0.9M367.0 54.6h0.9M364.8 57.7h0.9M331.4 79.9h0.9M364.2 50.4h0.9M366.6 65.8h0.9M324.4 78.3h0.9M362.6 49.6h0.9M368.9 52.4h0.9M365.4 70.7h0.9M365.3 55.3h0.9M329.3 85.5h0.9M364.0 57.9h0.9M368.5 63.9h0.9M367.8 61.2h0.9M366.0 65.8h0.9M370.1 54.4h0.9M365.1 66.8h0.9M364.4 62.2h0.9M366.7 58.8h0.9M363.7 48.7h0.9M363.0 52.2h0.9M326.4 83.0h0.9M367.6 66.8h0.9M364.4 57.4h0.9M365.0 54.1h0.9M331.5 83.6h0.9M364.1 54.5h0.9M364.3 48.6h0.9M366.4 47.2h0.9M329.0 81.4h0.9M367.6 72.6h0.9M328.4 84.6h0.9M329.7 84.4h0.9M332.3 86.2h0.9M324.1 79.6h0.9M363.0 56.2h0.9M333.6 80.0h0.9M331.8 81.0h0.9M327.0 86.7h0.9M366.4 64.5h0.9M365.7 58.3h0.9M325.6 82.2h0.9M369.6 57.7h0.9M367.3 54.3h0.9M363.1 55.7h0.9M364.0 51.6h0.9M364.5 57.9h0.9M364.5 62.1h0.9M323.8 86.4h0.9M327.9 87.6h0.9M367.0 69.9h0.9M364.1 56.3h0.9M324.4 86.2h0.9M327.7 79.4h0.9M368.9 57.8h0.9M333.5 80.2h0.9M364.8 70.7h0.9M369.3 60.6h0.9M329.6 82.3h0.9M366.1 50.4h0.9M326.7 83.9h0.9M365.9 59.4h0.9M364.7 59.8h0.9M330.1 86.6h0.9M367.0 59.7h0.9M366.7 59.9h0.9M368.3 60.3h0.9M365.2 55.0h0.9M367.2 54.1h0.9M329.4 77.5h0.9M368.3 67.6h0.9M331.7 84.9h0.9M366.5 67.3h0.9M365.9 65.5h0.9M365.2 62.4h0.9M329.7 81.6h0.9M366.6 70.0h0.9M330.0 82.4h0.9M368.8 65.2h0.9M368.3 67.1h0.9M366.7 57.4h0.9M362.7 56.4h0.9M322.5 81.5h0.9M367.2 48.5h0.9M363.0 53.0h0.9M364.7 60.5h0.9M364.2 56.4h0.9M365.7 67.6h0.9M365.5 71.3h0.9M324.9 85.6h0.9M365.3 68.1h0.9M365.4 55.3h0.9M323.1 82.0h0.9M330.4 81.2h0.9M327.1 83.1h0.9M364.6 57.3h0.9M364.6 53.8h0.9M361.9 54.6h0.9M365.7 73.3h0.9M366.1 61.8h0.9M366.3 55.8h0.9M329.4 81.9h0.9M366.3 59.8h0.9M365.1 57.4h0.9M366.0 62.3h0.9M322.6 82.5h0.9M328.2 78.4h0.9M327.1 81.9h0.9M366.5 54.8h0.9M327.4 85.3h0.9M368.0 67.2h0.9M362.9 54.5h0.9M329.0 83.1h0.9M364.3 58.1h0.9M329.5 77.5h0.9M331.7 79.3h0.9M364.7 60.3h0.9M364.2 50.2h0.9M364.6 52.4h0.9M367.7 70.2h0.9M366.6 49.0h0.9M368.4 62.1h0.9M331.2 87.1h0.9M363.2 60.7h0.9M362.9 60.7h0.9M366.6 60.7h0.9M366.8 48.4h0.9M367.1 65.2h0.9M364.6 58.5h0.9M366.2 62.2h0.9M364.3 61.2h0.9M365.7 60.2h0.9M325.7 84.2h0.9M330.7 84.6h0.9M363.0 61.1h0.9M365.9 59.3h0.9M367.1 50.6h0.9M366.0 64.9h0.9M366.2 58.9h0.9M368.4 52.6h0.9M367.7 62.3h0.9M363.3 57.1h0.9M364.5 63.2h0.9M367.4 59.4h0.9M365.0 62.3h0.9M366.3 53.0h0.9M331.6 78.2h0.9M365.4 60.1h0.9M363.6 58.9h0.9M325.6 81.6h0.9M364.6 50.6h0.9M366.7 55.3h0.9M328.4 78.2h0.9M365.0 49.6h0.9M363.0 53.3h0.9M363.9 55.2h0.9M364.9 50.7h0.9M364.6 64.9h0.9M367.6 50.1h0.9M368.1 53.8h0.9M365.8 71.4h0.9M365.6 53.9h0.9M365.9 53.2h0.9M331.2 86.3h0.9M330.7 85.8h0.9M331.3 85.7h0.9M365.6 66.8h0.9M364.2 52.1h0.9M362.7 51.8h0.9M364.8 64.2h0.9M329.6 83.4h0.9M367.2 56.5h0.9M329.5 78.4h0.9M365.0 58.6h0.9M331.0 83.4h0.9M327.3 85.8h0.9M362.7 51.7h0.9M367.0 52.6h0.9M368.9 59.9h0.9M365.9 54.4h0.9M364.3 62.4h0.9M367.6 52.4h0.9M368.0 54.1h0.9M367.3 58.3h0.9M366.7 50.6h0.9M367.0 48.0h0.9M324.6 82.3h0.9M327.3 82.7h0.9M369.5 51.0h0.9M324.4 81.8h0.9M363.9 61.0h0.9M367.9 58.5h0.9M366.1 66.4h0.9M328.4 84.7h0.9M366.1 60.2h0.9M327.7 84.3h0.9M365.1 57.2h0.9M363.3 49.7h0.9M367.2 61.0h0.9M330.4 84.6h0.9M366.3 57.2h0.9M365.1 67.9h0.9M368.0 55.4h0.9M364.2 62.3h0.9M365.0 51.5h0.9M363.6 61.3h0.9M367.3 66.7h0.9M364.1 55.8h0.9M367.6 53.9h0.9M323.5 82.8h0.9M364.1 62.5h0.9M368.3 56.8h0.9M330.6 82.1h0.9M332.8 79.0h0.9M364.6 54.8h0.9M366.5 49.2h0.9M364.5 54.4h0.9M365.4 56.4h0.9M330.9 84.8h0.9M367.2 66.6h0.9M365.0 54.8h0.9M367.0 58.0h0.9M367.3 63.8h0.9M366.1 50.2h0.9M363.5 53.0h0.9M364.4 62.6h0.9M367.9 58.8h0.9M364.8 59.5h0.9M367.6 51.8h0.9M365.0 67.2h0.9M368.6 60.4h0.9M364.1 48.6h0.9M366.8 62.4h0.9M329.2 83.5h0.9M363.5 54.2h0.9M366.6 66.3h0.9M364.5 68.9h0.9M367.7 68.7h0.9M365.8 51.9h0.9M331.3 82.8h0.9M366.4 52.1h0.9M323.5 84.3h0.9M330.0 79.9h0.9M369.1 52.9h0.9M367.1 58.1h0.9M325.0 83.6h0.9M369.3 54.2h0.9M325.4 86.0h0.9M365.4 67.5h0.9M368.6 55.0h0.9M367.2 69.7h0.9M366.1 53.2h0.9M367.5 54.8h0.9M366.7 52.3h0.9M366.3 53.5h0.9M329.6 80.7h0.9M368.1 48.9h0.9M365.2 51.8h0.9M363.5 60.5h0.9M362.2 55.1h0.9M366.3 54.0h0.9M365.4 64.6h0.9M327.1 82.7h0.9M364.9 68.6h0.9M368.1 55.9h0.9M364.4 47.5h0.9M369.4 54.1h0.9M325.9 84.0h0.9M367.9 49.5h0.9M366.2 64.8h0.9M364.0 62.8h0.9M366.1 70.3h0.9M330.9 81.4h0.9M363.1 54.3h0.9M367.8 50.6h0.9M333.7 81.8h0.9M330.8 82.0h0.9M362.6 59.2h0.9M333.4 84.7h0.9M330.3 82.7h0.9M366.6 57.3h0.9M365.6 55.7h0.9M367.7 54.3h0.9M364.1 52.8h0.9M366.6 52.2h0.9M366.9 63.0h0.9M330.1 81.0h0.9M365.2 72.4h0.9M327.2 78.7h0.9M366.0 56.2h0.9M369.3 56.8h0.9M366.0 53.2h0.9M362.8 58.2h0.9M328.8 87.6h0.9M364.1 49.6h0.9M325.6 78.0h0.9M329.5 78.2h0.9M363.5 54.4h0.9M366.0 57.6h0.9M328.0 82.6h0.9M367.2 51.9h0.9M364.8 62.4h0.9M367.3 58.1h0.9M366.2 67.2h0.9M363.1 60.7h0.9M366.1 59.1h0.9M327.0 79.4h0.9M364.0 52.6h0.9M366.2 52.5h0.9M365.5 53.1h0.9M328.5 82.0h0.9M367.1 64.3h0.9M364.0 49.3h0.9M330.1 82.3h0.9M367.4 56.5h0.9M362.8 61.8h0.9M367.6 49.0h0.9M329.1 79.9h0.9M365.8 56.7h0.9M325.0 80.5h0.9M365.2 55.4h0.9M326.5 85.0h0.9M365.1 49.8h0.9M365.8 62.1h0.9M362.3 55.3h0.9M328.5 88.0h0.9M368.2 54.6h0.9M367.6 58.4h0.9M326.5 80.7h0.9M323.3 82.3h0.9M368.9 52.9h0.9M364.3 61.4h0.9M367.2 59.9h0.9M363.4 62.5h0.9M333.9 84.3h0.9M367.4 60.7h0.9M331.2 85.2h0.9M364.2 54.2h0.9M364.4 52.4h0.9M366.7 58.8h0.9M369.1 53.0h0.9M324.1 78.7h0.9M363.2 58.3h0.9M369.5 52.0h0.9M334.2 81.6h0.9M365.8 60.3h0.9M364.8 56.6h0.9M362.8 56.6h0.9M364.2 54.2h0.9M362.9 52.5h0.9M364.5 59.3h0.9M368.3 50.4h0.9M324.6 84.9h0.9M367.9 53.7h0.9M333.5 80.2h0.9M332.7 79.9h0.9M325.5 80.6h0.9M327.2 78.5h0.9M364.0 66.8h0.9M364.9 65.1h0.9M366.7 52.0h0.9M366.5 53.2h0.9M365.9 65.1h0.9M325.7 81.2h0.9M366.7 66.1h0.9M364.4 63.0h0.9M329.0 79.0h0.9M366.0 58.6h0.9M328.4 84.0h0.9M366.2 54.4h0.9M367.5 49.6h0.9M366.3 49.8h0.9M366.2 59.4h0.9M368.2 65.7h0.9M328.5 84.9h0.9M367.4 60.3h0.9M328.1 80.9h0.9M327.7 88.2h0.9M327.4 80.8h0.9M365.1 53.5h0.9M364.7 50.1h0.9M332.0 81.0h0.9M365.0 72.3h0.9M334.2 83.1h0.9M362.8 50.1h0.9M364.6 52.1h0.9M328.5 83.3h0.9M365.4 52.7h0.9M368.4 65.0h0.9M366.7 56.5h0.9M363.1 51.8h0.9M326.3 84.9h0.9M364.8 55.4h0.9M366.5 49.2h0.9M330.6 87.4h0.9M330.5 80.8h0.9M366.2 56.7h0.9M367.8 52.6h0.9M328.5 80.3h0.9M325.1 80.9h0.9M366.9 52.5h0.9M326.5 85.2h0.9M328.3 82.0h0.9M324.8 84.5h0.9M330.8 83.2h0.9M367.3 62.5h0.9M368.8 61.3h0.9M367.9 58.2h0.9M368.9 52.7h0.9M366.9 69.0h0.9M365.6 73.6h0.9M364.2 52.7h0.9M364.2 54.3h0.9M329.2 78.9h0.9M364.7 66.6h0.9M324.8 82.1h0.9M365.7 68.3h0.9M325.6 79.8h0.9M365.1 51.3h0.9M333.0 80.1h0.9M334.2 80.8h0.9M364.4 58.4h0.9M328.4 86.2h0.9M365.8 48.9h0.9M368.8 53.9h0.9M362.8 51.5h0.9M368.3 57.6h0.9M368.1 60.3h0.9M332.1 86.1h0.9M324.3 80.5h0.9M364.0 55.5h0.9M365.6 59.9h0.9M364.4 57.7h0.9M326.1 80.0h0.9M369.9 52.4h0.9M364.5 69.8h0.9M366.1 65.9h0.9M323.6 82.4h0.9M364.7 58.2h0.9M325.7 83.5h0.9M366.8 68.5h0.9M331.7 84.5h0.9M364.8 67.7h0.9M363.2 55.4h0.9M368.4 48.1h0.9M363.8 52.3h0.9M329.1 83.6h0.9M368.4 53.2h0.9M367.8 57.1h0.9M365.0 60.5h0.9M327.6 78.2h0.9M326.8 81.2h0.9M326.0 79.7h0.9M363.9 60.1h0.9M328.2 80.7h0.9M331.8 80.8h0.9M365.9 65.2h0.9M331.1 86.0h0.9M363.0 51.7h0.9M322.4 83.3h0.9M364.4 60.3h0.9M367.1 50.3h0.9M368.5 55.8h0.9M331.3 78.9h0.9M367.8 61.8h0.9M368.6 49.1h0.9M367.6 57.2h0.9M369.0 62.5h0.9M368.6 67.5h0.9M328.7 80.4h0.9M366.9 62.0h0.9M366.9 58.6h0.9M366.1 58.0h0.9M327.2 85.4h0.9M364.6 60.0h0.9M330.5 85.2h0.9M363.8 55.1h0.9M369.9 52.9h0.9M326.2 81.1h0.9M332.2 81.2h0.9M327.5 79.9h0.9M362.3 55.1h0.9M366.9 55.4h0.9M366.3 56.4h0.9M365.4 66.8h0.9M327.1 86.0h0.9M366.7 48.0h0.9M363.6 51.1h0.9M367.5 58.9h0.9M368.1 55.4h0.9M365.1 59.4h0.9M327.6 77.4h0.9M365.8 61.0h0.9M368.5 56.6h0.9M366.1 72.3h0.9M366.3 63.1h0.9M330.6 84.5h0.9M326.5 85.4h0.9M331.4 81.7h0.9M365.2 64.3h0.9M330.6 79.6h0.9M328.0 79.2h0.9M328.3 83.4h0.9M362.8 56.5h0.9M366.8 61.9h0.9M366.7 55.2h0.9M368.4 66.8h0.9M326.0 82.4h0.9M363.3 48.6h0.9M363.4 56.4h0.9M327.3 79.3h0.9M364.3 54.5h0.9M365.0 59.3h0.9M365.7 63.1h0.9M362.2 59.2h0.9M363.7 62.9h0.9M325.3 80.9h0.9M328.9 80.3h0.9M367.6 61.0h0.9M323.1 83.7h0.9M366.2 53.2h0.9M363.4 52.2h0.9M369.5 56.4h0.9M323.7 79.4h0.9M364.5 56.4h0.9M367.5 58.7h0.9M364.3 54.4h0.9M368.6 53.8h0.9M367.2 55.2h0.9M329.9 83.8h0.9M367.0 51.9h0.9M369.2 61.8h0.9M367.6 51.3h0.9M367.0 48.9h0.9M365.9 57.4h0.9M362.6 54.1h0.9M366.9 52.2h0.9M367.9 51.6h0.9M362.6 51.2h0.9M366.8 71.5h0.9M366.1 56.6h0.9M326.1 79.1h0.9M328.3 83.2h0.9M364.8 54.4h0.9M365.1 58.9h0.9M367.0 58.9h0.9M369.3 59.9h0.9M368.6 56.4h0.9M368.4 56.7h0.9M329.0 78.9h0.9M366.8 56.6h0.9M366.0 53.0h0.9M366.5 72.0h0.9M366.8 52.5h0.9M363.9 52.3h0.9M367.0 56.0h0.9M365.6 68.8h0.9M362.4 51.0h0.9M367.9 49.9h0.9M327.3 83.3h0.9M366.8 57.0h0.9M364.6 50.9h0.9M367.0 68.3h0.9M367.9 66.0h0.9M366.7 53.8h0.9M324.4 79.6h0.9M333.5 82.6h0.9M328.5 82.9h0.9M362.8 54.3h0.9M367.9 69.1h0.9M329.1 82.3h0.9M364.0 55.9h0.9M323.7 85.2h0.9M364.1 54.1h0.9M366.8 52.8h0.9M331.8 82.0h0.9M333.5 83.2h0.9M325.5 84.8h0.9M364.5 47.7h0.9M368.1 65.0h0.9M329.6 77.6h0.9M365.2 61.9h0.9M366.7 54.0h0.9M332.7 83.4h0.9M328.4 86.3h0.9M362.8 57.6h0.9M365.3 54.7h0.9M329.4 83.4h0.9M365.8 67.7h0.9M364.0 60.3h0.9M366.3 64.8h0.9M328.0 78.0h0.9M331.7 80.7h0.9M329.7 78.7h0.9M331.3 84.2h0.9M330.5 79.9h0.9M367.8 67.6h0.9M367.3 72.8h0.9M367.5 66.4h0.9M367.1 67.0h0.9M323.0 84.0h0.9M367.6 60.6h0.9M331.1 81.1h0.9M363.1 56.6h0.9M366.6 47.8h0.9M364.0 55.0h0.9M367.7 48.6h0.9M369.3 52.6h0.9M369.4 57.0h0.9M369.7 56.7h0.9M331.4 84.7h0.9M363.3 63.6h0.9M327.7 82.7h0.9M364.5 64.5h0.9M364.1 50.0h0.9M367.8 70.6h0.9M364.5 64.4h0.9M366.6 69.4h0.9M368.7 54.9h0.9M367.5 62.5h0.9M366.1 58.9h0.9M369.3 54.1h0.9M325.9 85.7h0.9M367.3 60.5h0.9M331.2 79.7h0.9M323.8 81.7h0.9M366.2 67.3h0.9M366.9 63.6h0.9M366.6 56.7h0.9M362.1 55.0h0.9M366.7 48.2h0.9M327.6 85.1h0.9M331.5 81.1h0.9M369.7 56.9h0.9M369.0 52.9h0.9M326.5 83.8h0.9M330.3 79.6h0.9M364.0 54.1h0.9M368.4 57.5h0.9M324.7 83.6h0.9M329.6 84.7h0.9M365.9 55.0h0.9M367.0 50.1h0.9M330.6 78.7h0.9M363.0 59.8h0.9M365.2 52.2h0.9M364.7 56.5h0.9M368.9 56.8h0.9M365.8 53.6h0.9M366.2 65.3h0.9M364.2 59.4h0.9M363.1 54.8h0.9M330.9 82.9h0.9M330.7 80.9h0.9M368.4 59.6h0.9M330.8 83.0h0.9M368.2 62.6h0.9M365.8 73.8h0.9M364.1 54.2h0.9M363.7 58.4h0.9M366.8 54.1h0.9M364.6 47.0h0.9M366.1 65.5h0.9M330.8 79.7h0.9M363.9 53.0h0.9M367.2 67.5h0.9M367.5 56.6h0.9M364.3 56.0h0.9M364.8 58.7h0.9M368.9 55.9h0.9M327.6 80.9h0.9M331.3 81.6h0.9M366.3 63.9h0.9M365.7 61.6h0.9M333.0 83.4h0.9M367.9 54.6h0.9M329.0 86.3h0.9" stroke="#1020f0" stroke-width="0.9" opacity="0.85" fill="none"/>
<g transform="translate(327.40,82.60) rotate(0)" filter="url(#blur1)">
<ellipse cx="0" cy="0" rx="9.40" ry="9.00" fill="#1a2af0"/>
<ellipse cx="0" cy="0" rx="7.90" ry="7.60" fill="#10c0ff"/>
<ellipse cx="0" cy="0" rx="6.50" ry="6.20" fill="#2ee070"/>
<ellipse cx="0" cy="0" rx="4.00" ry="3.80" fill="#d8f000"/>
<ellipse cx="0" cy="0" rx="2.60" ry="2.50" fill="#ff9000"/>
<ellipse cx="0" cy="0" rx="1.50" ry="1.50" fill="#ff1a00"/>
</g>
</g>
<rect x="314.60" y="29.30" width="72.20" height="72.00" fill="none" stroke="#9a9a9a" stroke-width="0.8" />
<line x1="312.60" y1="35.30" x2="314.60" y2="35.30" stroke="#777" stroke-width="0.6" />
<text x="312.40" y="37.20" font-size="5.4" text-anchor="end" fill="#222" font-weight="bold" >10<tspan dy="-2" font-size="3">5</tspan></text>
<line x1="312.60" y1="51.00" x2="314.60" y2="51.00" stroke="#777" stroke-width="0.6" />
<text x="312.40" y="52.90" font-size="5.4" text-anchor="end" fill="#222" font-weight="bold" >10<tspan dy="-2" font-size="3">4</tspan></text>
<line x1="312.60" y1="67.00" x2="314.60" y2="67.00" stroke="#777" stroke-width="0.6" />
<text x="312.40" y="68.90" font-size="5.4" text-anchor="end" fill="#222" font-weight="bold" >10<tspan dy="-2" font-size="3">3</tspan></text>
<line x1="312.60" y1="83.00" x2="314.60" y2="83.00" stroke="#777" stroke-width="0.6" />
<text x="312.40" y="84.90" font-size="5.4" text-anchor="end" fill="#222" font-weight="bold" >10<tspan dy="-2" font-size="3">2</tspan></text>
<line x1="312.60" y1="90.80" x2="314.60" y2="90.80" stroke="#777" stroke-width="0.6" />
<text x="312.40" y="92.70" font-size="5.4" text-anchor="end" fill="#222" font-weight="bold" >0</text>
<line x1="313.60" y1="40.00" x2="314.60" y2="40.00" stroke="#999" stroke-width="0.5" />
<line x1="313.60" y1="44.00" x2="314.60" y2="44.00" stroke="#999" stroke-width="0.5" />
<line x1="313.60" y1="47.00" x2="314.60" y2="47.00" stroke="#999" stroke-width="0.5" />
<line x1="313.60" y1="56.00" x2="314.60" y2="56.00" stroke="#999" stroke-width="0.5" />
<line x1="313.60" y1="60.00" x2="314.60" y2="60.00" stroke="#999" stroke-width="0.5" />
<line x1="313.60" y1="63.00" x2="314.60" y2="63.00" stroke="#999" stroke-width="0.5" />
<line x1="313.60" y1="72.00" x2="314.60" y2="72.00" stroke="#999" stroke-width="0.5" />
<line x1="313.60" y1="76.00" x2="314.60" y2="76.00" stroke="#999" stroke-width="0.5" />
<line x1="313.60" y1="79.00" x2="314.60" y2="79.00" stroke="#999" stroke-width="0.5" />
<line x1="313.60" y1="87.00" x2="314.60" y2="87.00" stroke="#999" stroke-width="0.5" />
<line x1="313.60" y1="95.00" x2="314.60" y2="95.00" stroke="#999" stroke-width="0.5" />
<line x1="313.60" y1="98.00" x2="314.60" y2="98.00" stroke="#999" stroke-width="0.5" />
<line x1="325.10" y1="101.30" x2="325.10" y2="103.10" stroke="#777" stroke-width="0.6" />
<text x="325.10" y="108.50" font-size="5.0" text-anchor="middle" fill="#222" font-weight="bold" >0</text>
<line x1="332.30" y1="101.30" x2="332.30" y2="103.10" stroke="#777" stroke-width="0.6" />
<text x="332.30" y="108.50" font-size="5.0" text-anchor="middle" fill="#222" font-weight="bold" >100</text>
<line x1="350.20" y1="101.30" x2="350.20" y2="103.10" stroke="#777" stroke-width="0.6" />
<text x="350.20" y="108.50" font-size="5.0" text-anchor="middle" fill="#222" font-weight="bold" >1000</text>
<line x1="363.20" y1="101.30" x2="363.20" y2="103.10" stroke="#777" stroke-width="0.6" />
<text x="363.20" y="108.50" font-size="5.0" text-anchor="middle" fill="#222" font-weight="bold" >10000</text>
<line x1="379.60" y1="101.30" x2="379.60" y2="103.10" stroke="#777" stroke-width="0.6" />
<text x="379.60" y="108.50" font-size="5.0" text-anchor="middle" fill="#222" font-weight="bold" >1x10<tspan dy="-1.5" font-size="3">5</tspan></text>
<line x1="326.54" y1="101.30" x2="326.54" y2="102.30" stroke="#999" stroke-width="0.5" />
<line x1="327.98" y1="101.30" x2="327.98" y2="102.30" stroke="#999" stroke-width="0.5" />
<line x1="329.42" y1="101.30" x2="329.42" y2="102.30" stroke="#999" stroke-width="0.5" />
<line x1="330.86" y1="101.30" x2="330.86" y2="102.30" stroke="#999" stroke-width="0.5" />
<line x1="335.88" y1="101.30" x2="335.88" y2="102.30" stroke="#999" stroke-width="0.5" />
<line x1="339.46" y1="101.30" x2="339.46" y2="102.30" stroke="#999" stroke-width="0.5" />
<line x1="343.04" y1="101.30" x2="343.04" y2="102.30" stroke="#999" stroke-width="0.5" />
<line x1="346.62" y1="101.30" x2="346.62" y2="102.30" stroke="#999" stroke-width="0.5" />
<line x1="352.80" y1="101.30" x2="352.80" y2="102.30" stroke="#999" stroke-width="0.5" />
<line x1="355.40" y1="101.30" x2="355.40" y2="102.30" stroke="#999" stroke-width="0.5" />
<line x1="358.00" y1="101.30" x2="358.00" y2="102.30" stroke="#999" stroke-width="0.5" />
<line x1="360.60" y1="101.30" x2="360.60" y2="102.30" stroke="#999" stroke-width="0.5" />
<line x1="366.48" y1="101.30" x2="366.48" y2="102.30" stroke="#999" stroke-width="0.5" />
<line x1="369.76" y1="101.30" x2="369.76" y2="102.30" stroke="#999" stroke-width="0.5" />
<line x1="373.04" y1="101.30" x2="373.04" y2="102.30" stroke="#999" stroke-width="0.5" />
<line x1="376.32" y1="101.30" x2="376.32" y2="102.30" stroke="#999" stroke-width="0.5" />
<rect x="331.50" y="41.50" width="31.00" height="15.00" fill="none" stroke="#c9373d" stroke-width="1" />
<rect x="362.50" y="41.50" width="12.50" height="52.50" fill="none" stroke="#c9373d" stroke-width="1" />
<text x="331.80" y="40.20" font-size="10" text-anchor="start" fill="#c9373d" font-weight="normal" >ProE</text>
<text x="350.50" y="29.00" font-size="13" text-anchor="middle" fill="#111" font-weight="normal" >All viable</text>
<text x="351.30" y="121.00" font-size="13" text-anchor="middle" fill="#111" font-weight="normal" >Ter119</text>
<text transform="translate(302.80,58.00) rotate(-90)" font-size="12.4" text-anchor="middle" fill="#111" >CD71</text>
<line x1="372.50" y1="81.50" x2="399.80" y2="81.50" stroke="#c01822" stroke-width="2.3" />
<polyline points="394.80,77.20 401.00,81.50 394.80,85.80" fill="none" stroke="#c01822" stroke-width="1.7" stroke-linejoin="round" stroke-linecap="round" />
<rect x="416.40" y="29.90" width="72.40" height="71.70" fill="none" stroke="#9a9a9a" stroke-width="0.8" />
<line x1="414.40" y1="35.30" x2="416.40" y2="35.30" stroke="#777" stroke-width="0.6" />
<text x="414.20" y="37.20" font-size="5.4" text-anchor="end" fill="#222" font-weight="bold" >10<tspan dy="-2" font-size="3">5</tspan></text>
<line x1="414.40" y1="51.00" x2="416.40" y2="51.00" stroke="#777" stroke-width="0.6" />
<text x="414.20" y="52.90" font-size="5.4" text-anchor="end" fill="#222" font-weight="bold" >10<tspan dy="-2" font-size="3">4</tspan></text>
<line x1="414.40" y1="67.00" x2="416.40" y2="67.00" stroke="#777" stroke-width="0.6" />
<text x="414.20" y="68.90" font-size="5.4" text-anchor="end" fill="#222" font-weight="bold" >10<tspan dy="-2" font-size="3">3</tspan></text>
<line x1="414.40" y1="83.00" x2="416.40" y2="83.00" stroke="#777" stroke-width="0.6" />
<text x="414.20" y="84.90" font-size="5.4" text-anchor="end" fill="#222" font-weight="bold" >10<tspan dy="-2" font-size="3">2</tspan></text>
<line x1="414.40" y1="90.80" x2="416.40" y2="90.80" stroke="#777" stroke-width="0.6" />
<text x="414.20" y="92.70" font-size="5.4" text-anchor="end" fill="#222" font-weight="bold" >0</text>
<line x1="415.40" y1="40.00" x2="416.40" y2="40.00" stroke="#999" stroke-width="0.5" />
<line x1="415.40" y1="44.00" x2="416.40" y2="44.00" stroke="#999" stroke-width="0.5" />
<line x1="415.40" y1="47.00" x2="416.40" y2="47.00" stroke="#999" stroke-width="0.5" />
<line x1="415.40" y1="56.00" x2="416.40" y2="56.00" stroke="#999" stroke-width="0.5" />
<line x1="415.40" y1="60.00" x2="416.40" y2="60.00" stroke="#999" stroke-width="0.5" />
<line x1="415.40" y1="63.00" x2="416.40" y2="63.00" stroke="#999" stroke-width="0.5" />
<line x1="415.40" y1="72.00" x2="416.40" y2="72.00" stroke="#999" stroke-width="0.5" />
<line x1="415.40" y1="76.00" x2="416.40" y2="76.00" stroke="#999" stroke-width="0.5" />
<line x1="415.40" y1="79.00" x2="416.40" y2="79.00" stroke="#999" stroke-width="0.5" />
<line x1="415.40" y1="87.00" x2="416.40" y2="87.00" stroke="#999" stroke-width="0.5" />
<line x1="415.40" y1="95.00" x2="416.40" y2="95.00" stroke="#999" stroke-width="0.5" />
<line x1="415.40" y1="98.00" x2="416.40" y2="98.00" stroke="#999" stroke-width="0.5" />
<line x1="416.50" y1="101.60" x2="416.50" y2="103.40" stroke="#777" stroke-width="0.6" />
<text x="416.50" y="108.80" font-size="5.0" text-anchor="middle" fill="#222" font-weight="bold" >0</text>
<line x1="431.50" y1="101.60" x2="431.50" y2="103.40" stroke="#777" stroke-width="0.6" />
<text x="431.50" y="108.80" font-size="5.0" text-anchor="middle" fill="#222" font-weight="bold" >50K</text>
<line x1="444.50" y1="101.60" x2="444.50" y2="103.40" stroke="#777" stroke-width="0.6" />
<text x="444.50" y="108.80" font-size="5.0" text-anchor="middle" fill="#222" font-weight="bold" >100K</text>
<line x1="457.50" y1="101.60" x2="457.50" y2="103.40" stroke="#777" stroke-width="0.6" />
<text x="457.50" y="108.80" font-size="5.0" text-anchor="middle" fill="#222" font-weight="bold" >150K</text>
<line x1="470.50" y1="101.60" x2="470.50" y2="103.40" stroke="#777" stroke-width="0.6" />
<text x="470.50" y="108.80" font-size="5.0" text-anchor="middle" fill="#222" font-weight="bold" >200K</text>
<line x1="484.50" y1="101.60" x2="484.50" y2="103.40" stroke="#777" stroke-width="0.6" />
<text x="484.50" y="108.80" font-size="5.0" text-anchor="middle" fill="#222" font-weight="bold" >250K</text>
<line x1="419.50" y1="101.60" x2="419.50" y2="102.60" stroke="#999" stroke-width="0.5" />
<line x1="422.50" y1="101.60" x2="422.50" y2="102.60" stroke="#999" stroke-width="0.5" />
<line x1="425.50" y1="101.60" x2="425.50" y2="102.60" stroke="#999" stroke-width="0.5" />
<line x1="428.50" y1="101.60" x2="428.50" y2="102.60" stroke="#999" stroke-width="0.5" />
<line x1="434.10" y1="101.60" x2="434.10" y2="102.60" stroke="#999" stroke-width="0.5" />
<line x1="436.70" y1="101.60" x2="436.70" y2="102.60" stroke="#999" stroke-width="0.5" />
<line x1="439.30" y1="101.60" x2="439.30" y2="102.60" stroke="#999" stroke-width="0.5" />
<line x1="441.90" y1="101.60" x2="441.90" y2="102.60" stroke="#999" stroke-width="0.5" />
<line x1="447.10" y1="101.60" x2="447.10" y2="102.60" stroke="#999" stroke-width="0.5" />
<line x1="449.70" y1="101.60" x2="449.70" y2="102.60" stroke="#999" stroke-width="0.5" />
<line x1="452.30" y1="101.60" x2="452.30" y2="102.60" stroke="#999" stroke-width="0.5" />
<line x1="454.90" y1="101.60" x2="454.90" y2="102.60" stroke="#999" stroke-width="0.5" />
<line x1="460.10" y1="101.60" x2="460.10" y2="102.60" stroke="#999" stroke-width="0.5" />
<line x1="462.70" y1="101.60" x2="462.70" y2="102.60" stroke="#999" stroke-width="0.5" />
<line x1="465.30" y1="101.60" x2="465.30" y2="102.60" stroke="#999" stroke-width="0.5" />
<line x1="467.90" y1="101.60" x2="467.90" y2="102.60" stroke="#999" stroke-width="0.5" />
<line x1="473.30" y1="101.60" x2="473.30" y2="102.60" stroke="#999" stroke-width="0.5" />
<line x1="476.10" y1="101.60" x2="476.10" y2="102.60" stroke="#999" stroke-width="0.5" />
<line x1="478.90" y1="101.60" x2="478.90" y2="102.60" stroke="#999" stroke-width="0.5" />
<line x1="481.70" y1="101.60" x2="481.70" y2="102.60" stroke="#999" stroke-width="0.5" />
<g fill="none" stroke="#3a3a3a" stroke-width="0.5" stroke-linejoin="round">
<path d="M449.00 46.60 L449.94 46.55 L451.22 46.48 L452.75 46.39 L454.44 46.31 L456.22 46.24 L458.00 46.20 L459.85 46.19 L461.85 46.19 L463.94 46.21 L466.04 46.23 L468.08 46.27 L470.00 46.30 L471.84 46.33 L473.68 46.34 L475.46 46.37 L477.14 46.41 L478.67 46.48 L480.00 46.60 L481.12 46.76 L482.07 46.94 L482.86 47.16 L483.53 47.40 L484.10 47.68 L484.60 48.00 L485.01 48.36 L485.30 48.76 L485.49 49.19 L485.59 49.64 L485.63 50.12 L485.60 50.60 L485.53 51.11 L485.40 51.64 L485.21 52.20 L484.92 52.76 L484.52 53.29 L484.00 53.80 L483.33 54.27 L482.53 54.73 L481.62 55.16 L480.63 55.59 L479.58 56.00 L478.50 56.40 L477.34 56.79 L476.07 57.17 L474.75 57.54 L473.43 57.90 L472.16 58.25 L471.00 58.60 L469.94 58.93 L468.94 59.23 L467.99 59.53 L467.10 59.84 L466.27 60.19 L465.50 60.60 L464.81 61.06 L464.19 61.55 L463.63 62.08 L463.12 62.66 L462.65 63.30 L462.20 64.00 L461.81 64.81 L461.50 65.73 L461.23 66.71 L460.94 67.69 L460.62 68.64 L460.20 69.50 L459.70 70.30 L459.16 71.09 L458.57 71.84 L457.93 72.52 L457.24 73.12 L456.50 73.60 L455.62 73.95 L454.60 74.17 L453.52 74.31 L452.49 74.39 L451.62 74.44 L451.00 74.50" stroke-opacity="0.60"/>
<path d="M449.00 47.40 L449.99 47.37 L451.37 47.33 L453.00 47.27 L454.74 47.23 L456.45 47.20 L458.00 47.20 L459.41 47.22 L460.81 47.26 L462.19 47.31 L463.52 47.39 L464.79 47.48 L466.00 47.60 L467.15 47.74 L468.26 47.90 L469.31 48.08 L470.30 48.28 L471.20 48.52 L472.00 48.80 L472.72 49.13 L473.37 49.50 L473.94 49.90 L474.41 50.33 L474.77 50.76 L475.00 51.20 L475.11 51.65 L475.09 52.13 L474.97 52.61 L474.74 53.10 L474.42 53.56 L474.00 54.00 L473.46 54.41 L472.80 54.80 L472.03 55.18 L471.20 55.53 L470.35 55.88 L469.50 56.20 L468.62 56.49 L467.67 56.74 L466.69 56.97 L465.72 57.21 L464.81 57.48 L464.00 57.80 L463.29 58.17 L462.65 58.55 L462.06 58.97 L461.52 59.43 L461.00 59.93 L460.50 60.50 L460.04 61.14 L459.63 61.85 L459.25 62.61 L458.87 63.40 L458.46 64.20 L458.00 65.00 L457.48 65.84 L456.93 66.76 L456.34 67.69 L455.74 68.57 L455.12 69.36 L454.50 70.00 L453.82 70.47 L453.06 70.81 L452.28 71.06 L451.56 71.24 L450.94 71.38 L450.50 71.50" stroke-opacity="0.66"/>
<path d="M449.00 48.30 L449.77 48.28 L450.85 48.23 L452.12 48.19 L453.48 48.16 L454.81 48.15 L456.00 48.20 L457.09 48.29 L458.17 48.41 L459.22 48.56 L460.22 48.74 L461.16 48.96 L462.00 49.20 L462.77 49.48 L463.50 49.80 L464.16 50.14 L464.72 50.51 L465.18 50.90 L465.50 51.30 L465.69 51.72 L465.76 52.17 L465.72 52.64 L465.57 53.11 L465.33 53.57 L465.00 54.00 L464.53 54.39 L463.91 54.77 L463.19 55.13 L462.43 55.48 L461.68 55.83 L461.00 56.20 L460.37 56.56 L459.74 56.90 L459.12 57.24 L458.54 57.60 L457.99 58.02 L457.50 58.50 L457.09 59.06 L456.76 59.69 L456.47 60.36 L456.19 61.07 L455.87 61.78 L455.50 62.50 L455.05 63.26 L454.56 64.09 L454.03 64.94 L453.50 65.74 L452.98 66.45 L452.50 67.00 L452.03 67.38 L451.54 67.63 L451.06 67.78 L450.63 67.87 L450.27 67.93 L450.00 68.00" stroke-opacity="0.72"/>
<path d="M449.00 49.20 L449.55 49.20 L450.31 49.18 L451.22 49.17 L452.19 49.17 L453.14 49.21 L454.00 49.30 L454.82 49.43 L455.67 49.60 L456.50 49.81 L457.28 50.04 L457.96 50.31 L458.50 50.60 L458.90 50.94 L459.20 51.31 L459.41 51.73 L459.52 52.15 L459.55 52.58 L459.50 53.00 L459.35 53.41 L459.08 53.83 L458.73 54.24 L458.33 54.66 L457.91 55.08 L457.50 55.50 L457.08 55.90 L456.62 56.28 L456.14 56.66 L455.66 57.06 L455.21 57.50 L454.80 58.00 L454.46 58.60 L454.18 59.28 L453.92 60.00 L453.66 60.72 L453.36 61.40 L453.00 62.00 L452.53 62.53 L451.98 63.04 L451.39 63.50 L450.82 63.91 L450.34 64.25 L450.00 64.50" stroke-opacity="0.78"/>
<path d="M449.00 50.50 L449.39 50.52 L449.94 50.53 L450.59 50.54 L451.28 50.59 L451.93 50.67 L452.50 50.80 L453.01 50.99 L453.52 51.23 L454.00 51.51 L454.43 51.82 L454.77 52.15 L455.00 52.50 L455.11 52.87 L455.11 53.27 L455.03 53.70 L454.89 54.14 L454.70 54.57 L454.50 55.00 L454.26 55.42 L453.96 55.83 L453.62 56.25 L453.26 56.67 L452.88 57.08 L452.50 57.50 L452.08 57.95 L451.61 58.43 L451.12 58.91 L450.67 59.35 L450.28 59.73 L450.00 60.00" stroke-opacity="0.84"/>
</g>
<g filter="url(#blur1)">
<ellipse cx="444.3" cy="60" rx="6.8" ry="14.5" fill="#7a7a7a" opacity="0.35"/>
<ellipse cx="442.0" cy="58.5" rx="3.6" ry="12.5" fill="#151515" opacity="0.7"/>
<ellipse cx="446.5" cy="57" rx="2.0" ry="9" fill="#333" opacity="0.45"/>
<ellipse cx="443.8" cy="56" rx="1.2" ry="6" fill="#fff" opacity="0.35"/>
</g>
<g fill="none" stroke="#1e1e1e" stroke-width="0.55">
<path d="M451.08 64.62 L450.97 65.45 L450.84 66.28 L450.70 67.10 L450.54 67.91 L450.37 68.70 L450.20 69.48 L450.01 70.24 L449.81 71.00 L449.61 71.74 L449.39 72.46 L449.17 73.16 L448.95 73.84 L448.73 74.50 L448.51 75.14 L448.28 75.76 L448.04 76.36 L447.82 76.94 L447.59 77.48 L447.37 78.00 L447.15 78.50 L446.94 78.97 L446.72 79.42 L446.51 79.84 L446.31 80.22 L446.11 80.58 L445.92 80.91 L445.73 81.21 L445.55 81.48 L445.37 81.72 L445.19 81.92 L445.02 82.10 L444.85 82.24 L444.69 82.35 L444.53 82.43 L444.36 82.48 L444.20 82.50 L444.04 82.48 L443.87 82.43 L443.71 82.35 L443.55 82.24 L443.38 82.10 L443.21 81.92 L443.03 81.72 L442.85 81.48 L442.67 81.21 L442.48 80.91 L442.29 80.58 L442.09 80.22 L441.89 79.84 L441.68 79.42 L441.46 78.97 L441.25 78.50 L441.03 78.00 L440.81 77.48 L440.58 76.94 L440.36 76.36 L440.12 75.76 L439.89 75.14 L439.67 74.50 L439.45 73.84 L439.23 73.16 L439.01 72.46 L438.79 71.74 L438.59 71.00 L438.39 70.24 L438.20 69.48 L438.03 68.70 L437.86 67.91 L437.70 67.10 L437.56 66.28 L437.43 65.45 L437.32 64.62 L437.23 63.75 L437.15 62.85 L437.09 61.94 L437.05 61.05 L437.02 60.23 L437.00 59.50 L437.00 58.89 L437.01 58.37 L437.04 57.91 L437.08 57.48 L437.12 57.06 L437.18 56.61 L437.25 56.14 L437.32 55.67 L437.40 55.21 L437.50 54.75 L437.60 54.30 L437.71 53.86 L437.83 53.43 L437.96 53.00 L438.10 52.58 L438.25 52.18 L438.41 51.78 L438.57 51.39 L438.74 51.02 L438.92 50.66 L439.11 50.31 L439.30 49.97 L439.50 49.65 L439.71 49.34 L439.92 49.04 L440.14 48.76 L440.37 48.49 L440.60 48.24 L440.84 48.01 L441.08 47.79 L441.32 47.59 L441.57 47.40 L441.82 47.23 L442.08 47.08 L442.34 46.94 L442.60 46.83 L442.86 46.73 L443.13 46.65 L443.39 46.58 L443.66 46.54 L443.93 46.51 L444.20 46.50 L444.47 46.51 L444.74 46.54 L445.01 46.58 L445.27 46.65 L445.54 46.73 L445.80 46.83 L446.06 46.94 L446.32 47.08 L446.58 47.23 L446.83 47.40 L447.08 47.59 L447.32 47.79 L447.56 48.01 L447.80 48.24 L448.03 48.49 L448.26 48.76 L448.48 49.04 L448.69 49.34 L448.90 49.65 L449.10 49.97 L449.29 50.31 L449.48 50.66 L449.66 51.02 L449.83 51.39 L449.99 51.78 L450.15 52.18 L450.30 52.58 L450.44 53.00 L450.57 53.43 L450.69 53.86 L450.80 54.30 L450.90 54.75 L451.00 55.21 L451.08 55.67 L451.15 56.14 L451.22 56.61 L451.28 57.06 L451.32 57.48 L451.36 57.91 L451.39 58.37 L451.40 58.89 L451.40 59.50 L451.38 60.23 L451.35 61.05 L451.31 61.94 L451.25 62.85 L451.17 63.75 L451.08 64.62 Z" stroke-opacity="0.50"/>
<path d="M450.53 63.77 L450.43 64.51 L450.31 65.25 L450.18 65.98 L450.03 66.70 L449.88 67.41 L449.72 68.11 L449.55 68.79 L449.37 69.46 L449.17 70.12 L448.98 70.76 L448.77 71.39 L448.57 72.00 L448.37 72.59 L448.16 73.16 L447.95 73.71 L447.74 74.25 L447.53 74.76 L447.32 75.25 L447.12 75.71 L446.92 76.16 L446.72 76.58 L446.52 76.98 L446.33 77.35 L446.14 77.69 L445.96 78.01 L445.78 78.30 L445.61 78.57 L445.44 78.81 L445.28 79.03 L445.11 79.21 L444.95 79.37 L444.80 79.49 L444.65 79.59 L444.50 79.67 L444.35 79.71 L444.20 79.73 L444.05 79.71 L443.90 79.67 L443.75 79.59 L443.60 79.49 L443.45 79.37 L443.29 79.21 L443.12 79.03 L442.96 78.81 L442.79 78.57 L442.62 78.30 L442.44 78.01 L442.26 77.69 L442.07 77.35 L441.88 76.98 L441.68 76.58 L441.48 76.16 L441.28 75.71 L441.08 75.25 L440.87 74.76 L440.66 74.25 L440.45 73.71 L440.24 73.16 L440.03 72.59 L439.83 72.00 L439.63 71.39 L439.42 70.76 L439.23 70.12 L439.03 69.46 L438.85 68.79 L438.68 68.11 L438.52 67.41 L438.37 66.70 L438.22 65.98 L438.09 65.25 L437.97 64.51 L437.87 63.77 L437.79 63.00 L437.72 62.19 L437.66 61.38 L437.62 60.59 L437.59 59.85 L437.58 59.20 L437.57 58.64 L437.59 58.17 L437.61 57.74 L437.65 57.35 L437.69 56.95 L437.74 56.54 L437.80 56.11 L437.87 55.68 L437.95 55.25 L438.03 54.83 L438.13 54.42 L438.23 54.01 L438.34 53.61 L438.46 53.22 L438.59 52.84 L438.73 52.46 L438.87 52.10 L439.02 51.74 L439.18 51.40 L439.34 51.07 L439.52 50.74 L439.70 50.43 L439.88 50.13 L440.07 49.85 L440.27 49.58 L440.47 49.32 L440.68 49.07 L440.89 48.84 L441.11 48.63 L441.33 48.42 L441.55 48.24 L441.78 48.07 L442.01 47.91 L442.25 47.77 L442.49 47.65 L442.73 47.54 L442.97 47.45 L443.21 47.37 L443.46 47.32 L443.71 47.27 L443.95 47.25 L444.20 47.24 L444.45 47.25 L444.69 47.27 L444.94 47.32 L445.19 47.37 L445.43 47.45 L445.67 47.54 L445.91 47.65 L446.15 47.77 L446.39 47.91 L446.62 48.07 L446.85 48.24 L447.07 48.42 L447.29 48.63 L447.51 48.84 L447.72 49.07 L447.93 49.32 L448.13 49.58 L448.33 49.85 L448.52 50.13 L448.70 50.43 L448.88 50.74 L449.06 51.07 L449.22 51.40 L449.38 51.74 L449.53 52.10 L449.67 52.46 L449.81 52.84 L449.94 53.22 L450.06 53.61 L450.17 54.01 L450.27 54.42 L450.37 54.83 L450.45 55.25 L450.53 55.68 L450.60 56.11 L450.66 56.54 L450.71 56.95 L450.75 57.35 L450.79 57.74 L450.81 58.17 L450.83 58.64 L450.82 59.20 L450.81 59.85 L450.78 60.59 L450.74 61.38 L450.68 62.19 L450.61 63.00 L450.53 63.77 Z" stroke-opacity="0.55"/>
<path d="M449.98 62.94 L449.89 63.60 L449.78 64.25 L449.66 64.90 L449.53 65.54 L449.39 66.17 L449.24 66.78 L449.08 67.38 L448.92 67.98 L448.74 68.56 L448.56 69.13 L448.38 69.69 L448.19 70.22 L448.01 70.74 L447.82 71.25 L447.62 71.74 L447.43 72.21 L447.24 72.67 L447.05 73.10 L446.86 73.51 L446.68 73.90 L446.50 74.28 L446.32 74.63 L446.14 74.96 L445.97 75.26 L445.81 75.54 L445.65 75.80 L445.49 76.04 L445.33 76.25 L445.18 76.44 L445.03 76.61 L444.89 76.74 L444.75 76.86 L444.61 76.95 L444.47 77.01 L444.34 77.05 L444.20 77.06 L444.06 77.05 L443.93 77.01 L443.79 76.95 L443.65 76.86 L443.51 76.74 L443.37 76.61 L443.22 76.44 L443.07 76.25 L442.91 76.04 L442.75 75.80 L442.59 75.54 L442.43 75.26 L442.26 74.96 L442.08 74.63 L441.90 74.28 L441.72 73.90 L441.54 73.51 L441.35 73.10 L441.16 72.67 L440.97 72.21 L440.78 71.74 L440.58 71.25 L440.39 70.74 L440.21 70.22 L440.02 69.69 L439.84 69.13 L439.66 68.56 L439.48 67.98 L439.32 67.38 L439.16 66.78 L439.01 66.17 L438.87 65.54 L438.74 64.90 L438.62 64.25 L438.51 63.60 L438.42 62.94 L438.34 62.26 L438.28 61.55 L438.23 60.83 L438.19 60.14 L438.17 59.48 L438.15 58.90 L438.15 58.40 L438.16 57.97 L438.18 57.58 L438.22 57.21 L438.26 56.85 L438.30 56.47 L438.36 56.08 L438.42 55.68 L438.49 55.29 L438.57 54.91 L438.66 54.53 L438.75 54.16 L438.85 53.80 L438.96 53.44 L439.08 53.09 L439.20 52.75 L439.33 52.41 L439.47 52.09 L439.62 51.78 L439.77 51.47 L439.92 51.18 L440.09 50.89 L440.26 50.62 L440.43 50.36 L440.61 50.12 L440.79 49.88 L440.98 49.65 L441.18 49.44 L441.37 49.24 L441.58 49.06 L441.78 48.89 L441.99 48.74 L442.20 48.59 L442.42 48.47 L442.64 48.35 L442.85 48.25 L443.07 48.17 L443.30 48.10 L443.52 48.05 L443.75 48.01 L443.97 47.99 L444.20 47.98 L444.43 47.99 L444.65 48.01 L444.88 48.05 L445.10 48.10 L445.33 48.17 L445.55 48.25 L445.76 48.35 L445.98 48.47 L446.20 48.59 L446.41 48.74 L446.62 48.89 L446.82 49.06 L447.03 49.24 L447.22 49.44 L447.42 49.65 L447.61 49.88 L447.79 50.12 L447.97 50.36 L448.14 50.62 L448.31 50.89 L448.48 51.18 L448.63 51.47 L448.78 51.78 L448.93 52.09 L449.07 52.41 L449.20 52.75 L449.32 53.09 L449.44 53.44 L449.55 53.80 L449.65 54.16 L449.74 54.53 L449.83 54.91 L449.91 55.29 L449.98 55.68 L450.04 56.08 L450.10 56.47 L450.14 56.85 L450.18 57.21 L450.22 57.58 L450.24 57.97 L450.25 58.40 L450.25 58.90 L450.23 59.48 L450.21 60.14 L450.17 60.83 L450.12 61.55 L450.06 62.26 L449.98 62.94 Z" stroke-opacity="0.60"/>
<path d="M449.43 62.14 L449.35 62.71 L449.25 63.29 L449.14 63.85 L449.02 64.41 L448.89 64.96 L448.76 65.50 L448.62 66.03 L448.47 66.55 L448.31 67.06 L448.15 67.56 L447.98 68.05 L447.81 68.52 L447.64 68.97 L447.47 69.42 L447.30 69.85 L447.12 70.26 L446.95 70.66 L446.78 71.04 L446.61 71.40 L446.44 71.74 L446.28 72.07 L446.12 72.38 L445.96 72.66 L445.80 72.93 L445.65 73.18 L445.51 73.41 L445.37 73.61 L445.23 73.80 L445.09 73.97 L444.95 74.11 L444.82 74.23 L444.70 74.33 L444.57 74.41 L444.45 74.46 L444.32 74.50 L444.20 74.51 L444.08 74.50 L443.95 74.46 L443.83 74.41 L443.70 74.33 L443.58 74.23 L443.45 74.11 L443.31 73.97 L443.17 73.80 L443.03 73.61 L442.89 73.41 L442.75 73.18 L442.60 72.93 L442.44 72.66 L442.28 72.38 L442.12 72.07 L441.96 71.74 L441.79 71.40 L441.62 71.04 L441.45 70.66 L441.28 70.26 L441.10 69.85 L440.93 69.42 L440.76 68.97 L440.59 68.52 L440.42 68.05 L440.25 67.56 L440.09 67.06 L439.93 66.55 L439.78 66.03 L439.64 65.50 L439.51 64.96 L439.38 64.41 L439.26 63.85 L439.15 63.29 L439.05 62.71 L438.97 62.14 L438.90 61.54 L438.84 60.92 L438.80 60.30 L438.76 59.69 L438.74 59.11 L438.73 58.60 L438.73 58.15 L438.74 57.76 L438.76 57.41 L438.79 57.08 L438.82 56.75 L438.87 56.40 L438.91 56.04 L438.97 55.69 L439.04 55.34 L439.11 54.99 L439.19 54.65 L439.27 54.31 L439.36 53.98 L439.46 53.66 L439.57 53.34 L439.68 53.03 L439.80 52.73 L439.92 52.44 L440.05 52.16 L440.19 51.88 L440.33 51.61 L440.48 51.36 L440.63 51.11 L440.79 50.88 L440.95 50.65 L441.12 50.44 L441.29 50.23 L441.46 50.04 L441.64 49.86 L441.83 49.70 L442.01 49.55 L442.20 49.40 L442.39 49.27 L442.59 49.16 L442.78 49.06 L442.98 48.97 L443.18 48.89 L443.38 48.83 L443.59 48.78 L443.79 48.75 L444.00 48.73 L444.20 48.72 L444.40 48.73 L444.61 48.75 L444.81 48.78 L445.02 48.83 L445.22 48.89 L445.42 48.97 L445.62 49.06 L445.81 49.16 L446.01 49.27 L446.20 49.40 L446.39 49.55 L446.57 49.70 L446.76 49.86 L446.94 50.04 L447.11 50.23 L447.28 50.44 L447.45 50.65 L447.61 50.88 L447.77 51.11 L447.92 51.36 L448.07 51.61 L448.21 51.88 L448.35 52.16 L448.48 52.44 L448.60 52.73 L448.72 53.03 L448.83 53.34 L448.94 53.66 L449.04 53.98 L449.13 54.31 L449.21 54.65 L449.29 54.99 L449.36 55.34 L449.43 55.69 L449.49 56.04 L449.53 56.40 L449.58 56.75 L449.61 57.08 L449.64 57.41 L449.66 57.76 L449.67 58.15 L449.67 58.60 L449.66 59.11 L449.64 59.69 L449.60 60.30 L449.56 60.92 L449.50 61.54 L449.43 62.14 Z" stroke-opacity="0.65"/>
<path d="M448.88 61.36 L448.80 61.86 L448.72 62.35 L448.62 62.85 L448.51 63.33 L448.40 63.81 L448.28 64.27 L448.15 64.73 L448.02 65.18 L447.88 65.62 L447.73 66.05 L447.58 66.47 L447.43 66.88 L447.28 67.28 L447.13 67.66 L446.97 68.03 L446.81 68.39 L446.66 68.73 L446.51 69.06 L446.36 69.37 L446.21 69.67 L446.06 69.95 L445.91 70.22 L445.77 70.47 L445.63 70.70 L445.50 70.91 L445.37 71.11 L445.24 71.29 L445.12 71.45 L445.00 71.59 L444.88 71.72 L444.76 71.82 L444.64 71.91 L444.53 71.98 L444.42 72.02 L444.31 72.05 L444.20 72.06 L444.09 72.05 L443.98 72.02 L443.87 71.98 L443.76 71.91 L443.64 71.82 L443.52 71.72 L443.40 71.59 L443.28 71.45 L443.16 71.29 L443.03 71.11 L442.90 70.91 L442.77 70.70 L442.63 70.47 L442.49 70.22 L442.34 69.95 L442.19 69.67 L442.04 69.37 L441.89 69.06 L441.74 68.73 L441.59 68.39 L441.43 68.03 L441.27 67.66 L441.12 67.28 L440.97 66.88 L440.82 66.47 L440.67 66.05 L440.52 65.62 L440.38 65.18 L440.25 64.73 L440.12 64.27 L440.00 63.81 L439.89 63.33 L439.78 62.85 L439.68 62.35 L439.60 61.86 L439.52 61.36 L439.46 60.85 L439.41 60.31 L439.37 59.77 L439.34 59.25 L439.32 58.75 L439.30 58.30 L439.30 57.91 L439.31 57.56 L439.33 57.24 L439.36 56.94 L439.39 56.64 L439.43 56.33 L439.47 56.01 L439.52 55.70 L439.58 55.38 L439.64 55.07 L439.71 54.76 L439.79 54.46 L439.87 54.17 L439.96 53.88 L440.05 53.60 L440.16 53.32 L440.26 53.05 L440.37 52.79 L440.49 52.54 L440.61 52.29 L440.74 52.05 L440.87 51.82 L441.01 51.60 L441.15 51.39 L441.29 51.19 L441.44 51.00 L441.60 50.82 L441.75 50.64 L441.91 50.48 L442.08 50.34 L442.24 50.20 L442.41 50.07 L442.58 49.96 L442.76 49.85 L442.93 49.76 L443.11 49.68 L443.29 49.61 L443.47 49.56 L443.65 49.52 L443.83 49.49 L444.02 49.47 L444.20 49.46 L444.38 49.47 L444.57 49.49 L444.75 49.52 L444.93 49.56 L445.11 49.61 L445.29 49.68 L445.47 49.76 L445.64 49.85 L445.82 49.96 L445.99 50.07 L446.16 50.20 L446.32 50.34 L446.49 50.48 L446.65 50.64 L446.80 50.82 L446.96 51.00 L447.11 51.19 L447.25 51.39 L447.39 51.60 L447.53 51.82 L447.66 52.05 L447.79 52.29 L447.91 52.54 L448.03 52.79 L448.14 53.05 L448.24 53.32 L448.35 53.60 L448.44 53.88 L448.53 54.17 L448.61 54.46 L448.69 54.76 L448.76 55.07 L448.82 55.38 L448.88 55.70 L448.93 56.01 L448.97 56.33 L449.01 56.64 L449.04 56.94 L449.07 57.24 L449.09 57.56 L449.10 57.91 L449.10 58.30 L449.08 58.75 L449.06 59.25 L449.03 59.77 L448.99 60.31 L448.94 60.85 L448.88 61.36 Z" stroke-opacity="0.70"/>
<path d="M448.33 60.61 L448.26 61.03 L448.18 61.46 L448.10 61.87 L448.00 62.29 L447.90 62.69 L447.80 63.09 L447.69 63.48 L447.57 63.86 L447.44 64.24 L447.31 64.61 L447.18 64.97 L447.05 65.31 L446.92 65.65 L446.78 65.98 L446.65 66.29 L446.51 66.60 L446.37 66.89 L446.23 67.17 L446.10 67.44 L445.97 67.69 L445.84 67.93 L445.71 68.16 L445.59 68.37 L445.47 68.57 L445.35 68.75 L445.23 68.92 L445.12 69.07 L445.01 69.21 L444.90 69.33 L444.80 69.44 L444.69 69.52 L444.59 69.60 L444.49 69.66 L444.40 69.70 L444.30 69.72 L444.20 69.73 L444.10 69.72 L444.00 69.70 L443.91 69.66 L443.81 69.60 L443.71 69.52 L443.60 69.44 L443.50 69.33 L443.39 69.21 L443.28 69.07 L443.17 68.92 L443.05 68.75 L442.93 68.57 L442.81 68.37 L442.69 68.16 L442.56 67.93 L442.43 67.69 L442.30 67.44 L442.17 67.17 L442.03 66.89 L441.89 66.60 L441.75 66.29 L441.62 65.98 L441.48 65.65 L441.35 65.31 L441.22 64.97 L441.09 64.61 L440.96 64.24 L440.83 63.86 L440.71 63.48 L440.60 63.09 L440.50 62.69 L440.40 62.29 L440.30 61.87 L440.22 61.46 L440.14 61.03 L440.07 60.61 L440.02 60.17 L439.97 59.72 L439.94 59.26 L439.91 58.81 L439.89 58.39 L439.88 58.00 L439.88 57.66 L439.89 57.35 L439.90 57.07 L439.93 56.80 L439.95 56.54 L439.99 56.26 L440.03 55.98 L440.07 55.70 L440.12 55.42 L440.18 55.15 L440.24 54.88 L440.31 54.62 L440.38 54.36 L440.46 54.10 L440.54 53.85 L440.63 53.61 L440.72 53.37 L440.82 53.14 L440.93 52.91 L441.03 52.70 L441.15 52.48 L441.26 52.28 L441.38 52.09 L441.51 51.90 L441.63 51.73 L441.77 51.56 L441.90 51.40 L442.04 51.24 L442.18 51.10 L442.33 50.97 L442.47 50.85 L442.62 50.74 L442.77 50.64 L442.93 50.55 L443.08 50.47 L443.24 50.40 L443.40 50.34 L443.56 50.29 L443.72 50.25 L443.88 50.22 L444.04 50.21 L444.20 50.20 L444.36 50.21 L444.52 50.22 L444.68 50.25 L444.84 50.29 L445.00 50.34 L445.16 50.40 L445.32 50.47 L445.47 50.55 L445.63 50.64 L445.78 50.74 L445.93 50.85 L446.07 50.97 L446.22 51.10 L446.36 51.24 L446.50 51.40 L446.63 51.56 L446.77 51.73 L446.89 51.90 L447.02 52.09 L447.14 52.28 L447.25 52.48 L447.37 52.70 L447.47 52.91 L447.58 53.14 L447.68 53.37 L447.77 53.61 L447.86 53.85 L447.94 54.10 L448.02 54.36 L448.09 54.62 L448.16 54.88 L448.22 55.15 L448.28 55.42 L448.33 55.70 L448.37 55.98 L448.41 56.26 L448.45 56.54 L448.47 56.80 L448.50 57.07 L448.51 57.35 L448.52 57.66 L448.52 58.00 L448.51 58.39 L448.49 58.81 L448.46 59.26 L448.43 59.72 L448.38 60.17 L448.33 60.61 Z" stroke-opacity="0.75"/>
<path d="M447.78 59.88 L447.72 60.24 L447.65 60.59 L447.58 60.94 L447.50 61.28 L447.41 61.62 L447.32 61.96 L447.22 62.28 L447.12 62.60 L447.01 62.92 L446.90 63.23 L446.79 63.52 L446.67 63.81 L446.56 64.10 L446.44 64.37 L446.32 64.63 L446.20 64.89 L446.08 65.13 L445.96 65.37 L445.85 65.59 L445.74 65.80 L445.62 66.00 L445.51 66.19 L445.40 66.37 L445.30 66.54 L445.19 66.69 L445.09 66.83 L445.00 66.96 L444.90 67.07 L444.81 67.17 L444.72 67.26 L444.63 67.34 L444.54 67.40 L444.45 67.44 L444.37 67.48 L444.29 67.50 L444.20 67.51 L444.11 67.50 L444.03 67.48 L443.95 67.44 L443.86 67.40 L443.77 67.34 L443.68 67.26 L443.59 67.17 L443.50 67.07 L443.40 66.96 L443.31 66.83 L443.21 66.69 L443.10 66.54 L443.00 66.37 L442.89 66.19 L442.78 66.00 L442.66 65.80 L442.55 65.59 L442.44 65.37 L442.32 65.13 L442.20 64.89 L442.08 64.63 L441.96 64.37 L441.84 64.10 L441.73 63.81 L441.61 63.52 L441.50 63.23 L441.39 62.92 L441.28 62.60 L441.18 62.28 L441.08 61.96 L440.99 61.62 L440.90 61.28 L440.82 60.94 L440.75 60.59 L440.68 60.24 L440.62 59.88 L440.57 59.52 L440.54 59.14 L440.50 58.76 L440.48 58.38 L440.47 58.03 L440.46 57.70 L440.45 57.41 L440.46 57.15 L440.48 56.90 L440.50 56.67 L440.52 56.43 L440.55 56.20 L440.58 55.95 L440.62 55.71 L440.67 55.47 L440.72 55.23 L440.77 55.00 L440.83 54.77 L440.89 54.54 L440.96 54.32 L441.03 54.10 L441.11 53.89 L441.19 53.68 L441.27 53.49 L441.36 53.29 L441.46 53.10 L441.55 52.92 L441.65 52.74 L441.76 52.58 L441.87 52.41 L441.98 52.26 L442.09 52.12 L442.21 51.98 L442.33 51.85 L442.45 51.72 L442.58 51.61 L442.70 51.50 L442.83 51.41 L442.96 51.32 L443.10 51.24 L443.23 51.17 L443.37 51.11 L443.50 51.06 L443.64 51.02 L443.78 50.98 L443.92 50.96 L444.06 50.94 L444.20 50.94 L444.34 50.94 L444.48 50.96 L444.62 50.98 L444.76 51.02 L444.90 51.06 L445.03 51.11 L445.17 51.17 L445.30 51.24 L445.44 51.32 L445.57 51.41 L445.70 51.50 L445.82 51.61 L445.95 51.72 L446.07 51.85 L446.19 51.98 L446.31 52.12 L446.42 52.26 L446.53 52.41 L446.64 52.58 L446.75 52.74 L446.85 52.92 L446.94 53.10 L447.04 53.29 L447.13 53.49 L447.21 53.68 L447.29 53.89 L447.37 54.10 L447.44 54.32 L447.51 54.54 L447.57 54.77 L447.63 55.00 L447.68 55.23 L447.73 55.47 L447.78 55.71 L447.82 55.95 L447.85 56.20 L447.88 56.43 L447.90 56.67 L447.92 56.90 L447.94 57.15 L447.95 57.41 L447.94 57.70 L447.93 58.03 L447.92 58.38 L447.90 58.76 L447.86 59.14 L447.83 59.52 L447.78 59.88 Z" stroke-opacity="0.80"/>
<path d="M447.23 59.18 L447.18 59.47 L447.12 59.76 L447.06 60.04 L446.99 60.32 L446.92 60.60 L446.84 60.87 L446.76 61.13 L446.67 61.40 L446.58 61.65 L446.48 61.90 L446.39 62.15 L446.29 62.38 L446.19 62.61 L446.09 62.84 L445.99 63.05 L445.89 63.26 L445.79 63.46 L445.69 63.65 L445.60 63.83 L445.50 64.00 L445.40 64.17 L445.31 64.32 L445.22 64.47 L445.13 64.60 L445.04 64.73 L444.96 64.84 L444.87 64.95 L444.79 65.04 L444.71 65.12 L444.64 65.19 L444.56 65.26 L444.49 65.30 L444.42 65.34 L444.34 65.37 L444.27 65.39 L444.20 65.39 L444.13 65.39 L444.06 65.37 L443.98 65.34 L443.91 65.30 L443.84 65.26 L443.76 65.19 L443.69 65.12 L443.61 65.04 L443.53 64.95 L443.44 64.84 L443.36 64.73 L443.27 64.60 L443.18 64.47 L443.09 64.32 L443.00 64.17 L442.90 64.00 L442.80 63.83 L442.71 63.65 L442.61 63.46 L442.51 63.26 L442.41 63.05 L442.31 62.84 L442.21 62.61 L442.11 62.38 L442.01 62.15 L441.92 61.90 L441.82 61.65 L441.73 61.40 L441.64 61.13 L441.56 60.87 L441.48 60.60 L441.41 60.32 L441.34 60.04 L441.28 59.76 L441.22 59.47 L441.17 59.18 L441.13 58.88 L441.10 58.57 L441.07 58.26 L441.05 57.96 L441.04 57.67 L441.03 57.40 L441.03 57.16 L441.04 56.94 L441.05 56.73 L441.07 56.53 L441.09 56.33 L441.11 56.13 L441.14 55.92 L441.17 55.71 L441.21 55.51 L441.25 55.31 L441.30 55.11 L441.35 54.92 L441.40 54.73 L441.46 54.54 L441.52 54.36 L441.58 54.18 L441.65 54.00 L441.72 53.83 L441.80 53.67 L441.88 53.51 L441.96 53.36 L442.05 53.21 L442.13 53.06 L442.22 52.93 L442.32 52.80 L442.42 52.67 L442.51 52.56 L442.62 52.45 L442.72 52.34 L442.83 52.25 L442.93 52.16 L443.04 52.08 L443.15 52.00 L443.27 51.93 L443.38 51.87 L443.50 51.82 L443.61 51.78 L443.73 51.74 L443.85 51.72 L443.96 51.70 L444.08 51.68 L444.20 51.68 L444.32 51.68 L444.44 51.70 L444.55 51.72 L444.67 51.74 L444.79 51.78 L444.90 51.82 L445.02 51.87 L445.13 51.93 L445.25 52.00 L445.36 52.08 L445.47 52.16 L445.57 52.25 L445.68 52.34 L445.78 52.45 L445.89 52.56 L445.98 52.67 L446.08 52.80 L446.18 52.93 L446.27 53.06 L446.35 53.21 L446.44 53.36 L446.52 53.51 L446.60 53.67 L446.68 53.83 L446.75 54.00 L446.82 54.18 L446.88 54.36 L446.94 54.54 L447.00 54.73 L447.05 54.92 L447.10 55.11 L447.15 55.31 L447.19 55.51 L447.23 55.71 L447.26 55.92 L447.29 56.13 L447.31 56.33 L447.33 56.53 L447.35 56.73 L447.36 56.94 L447.37 57.16 L447.37 57.40 L447.36 57.67 L447.35 57.96 L447.33 58.26 L447.30 58.57 L447.27 58.88 L447.23 59.18 Z" stroke-opacity="0.85"/>
<path d="M446.68 58.50 L446.64 58.73 L446.59 58.95 L446.54 59.18 L446.48 59.40 L446.42 59.62 L446.36 59.83 L446.29 60.04 L446.22 60.25 L446.15 60.45 L446.07 60.65 L445.99 60.84 L445.91 61.02 L445.83 61.20 L445.75 61.38 L445.67 61.55 L445.58 61.71 L445.50 61.87 L445.42 62.02 L445.34 62.16 L445.26 62.30 L445.18 62.43 L445.11 62.55 L445.03 62.66 L444.96 62.77 L444.89 62.87 L444.82 62.96 L444.75 63.04 L444.69 63.11 L444.62 63.18 L444.56 63.24 L444.50 63.28 L444.44 63.32 L444.38 63.35 L444.32 63.37 L444.26 63.39 L444.20 63.39 L444.14 63.39 L444.08 63.37 L444.02 63.35 L443.96 63.32 L443.90 63.28 L443.84 63.24 L443.78 63.18 L443.71 63.11 L443.65 63.04 L443.58 62.96 L443.51 62.87 L443.44 62.77 L443.37 62.66 L443.29 62.55 L443.22 62.43 L443.14 62.30 L443.06 62.16 L442.98 62.02 L442.90 61.87 L442.82 61.71 L442.73 61.55 L442.65 61.38 L442.57 61.20 L442.49 61.02 L442.41 60.84 L442.33 60.65 L442.25 60.45 L442.18 60.25 L442.11 60.04 L442.04 59.83 L441.98 59.62 L441.92 59.40 L441.86 59.18 L441.81 58.95 L441.76 58.73 L441.72 58.50 L441.69 58.27 L441.66 58.03 L441.64 57.78 L441.63 57.54 L441.61 57.31 L441.61 57.10 L441.61 56.91 L441.61 56.72 L441.62 56.55 L441.64 56.39 L441.65 56.22 L441.67 56.06 L441.70 55.89 L441.72 55.72 L441.75 55.55 L441.79 55.39 L441.82 55.23 L441.86 55.07 L441.91 54.91 L441.96 54.76 L442.01 54.61 L442.06 54.46 L442.11 54.32 L442.17 54.18 L442.24 54.05 L442.30 53.92 L442.37 53.79 L442.44 53.67 L442.51 53.55 L442.58 53.44 L442.66 53.34 L442.74 53.23 L442.82 53.14 L442.90 53.05 L442.99 52.96 L443.08 52.88 L443.16 52.81 L443.25 52.74 L443.34 52.68 L443.44 52.63 L443.53 52.58 L443.62 52.54 L443.72 52.50 L443.81 52.47 L443.91 52.45 L444.01 52.43 L444.10 52.42 L444.20 52.42 L444.30 52.42 L444.39 52.43 L444.49 52.45 L444.59 52.47 L444.68 52.50 L444.78 52.54 L444.87 52.58 L444.96 52.63 L445.06 52.68 L445.15 52.74 L445.24 52.81 L445.32 52.88 L445.41 52.96 L445.50 53.05 L445.58 53.14 L445.66 53.23 L445.74 53.34 L445.82 53.44 L445.89 53.55 L445.96 53.67 L446.03 53.79 L446.10 53.92 L446.16 54.05 L446.23 54.18 L446.29 54.32 L446.34 54.46 L446.39 54.61 L446.44 54.76 L446.49 54.91 L446.54 55.07 L446.58 55.23 L446.61 55.39 L446.65 55.55 L446.68 55.72 L446.70 55.89 L446.73 56.06 L446.75 56.22 L446.76 56.39 L446.78 56.55 L446.79 56.72 L446.79 56.91 L446.79 57.10 L446.79 57.31 L446.77 57.54 L446.76 57.78 L446.74 58.03 L446.71 58.27 L446.68 58.50 Z" stroke-opacity="0.90"/>
<path d="M446.13 57.85 L446.10 58.02 L446.06 58.19 L446.02 58.35 L445.98 58.52 L445.93 58.68 L445.88 58.84 L445.83 59.00 L445.77 59.15 L445.71 59.30 L445.65 59.45 L445.59 59.59 L445.53 59.73 L445.47 59.87 L445.41 60.00 L445.34 60.12 L445.28 60.25 L445.21 60.36 L445.15 60.48 L445.09 60.58 L445.03 60.68 L444.97 60.78 L444.91 60.87 L444.85 60.96 L444.79 61.04 L444.74 61.11 L444.68 61.18 L444.63 61.24 L444.58 61.29 L444.53 61.34 L444.48 61.38 L444.43 61.42 L444.38 61.45 L444.34 61.47 L444.29 61.49 L444.25 61.50 L444.20 61.50 L444.15 61.50 L444.11 61.49 L444.06 61.47 L444.02 61.45 L443.97 61.42 L443.92 61.38 L443.87 61.34 L443.82 61.29 L443.77 61.24 L443.72 61.18 L443.66 61.11 L443.61 61.04 L443.55 60.96 L443.49 60.87 L443.43 60.78 L443.37 60.68 L443.31 60.58 L443.25 60.48 L443.19 60.36 L443.12 60.25 L443.06 60.12 L442.99 60.00 L442.93 59.87 L442.87 59.73 L442.81 59.59 L442.75 59.45 L442.69 59.30 L442.63 59.15 L442.57 59.00 L442.52 58.84 L442.47 58.68 L442.42 58.52 L442.38 58.35 L442.34 58.19 L442.30 58.02 L442.27 57.85 L442.25 57.67 L442.23 57.49 L442.21 57.31 L442.20 57.13 L442.19 56.96 L442.18 56.80 L442.18 56.65 L442.19 56.51 L442.19 56.38 L442.21 56.25 L442.22 56.12 L442.23 55.99 L442.25 55.86 L442.27 55.73 L442.30 55.60 L442.32 55.47 L442.35 55.34 L442.38 55.22 L442.42 55.10 L442.45 54.98 L442.49 54.86 L442.53 54.75 L442.58 54.64 L442.62 54.53 L442.67 54.43 L442.72 54.32 L442.77 54.23 L442.83 54.13 L442.89 54.04 L442.94 53.95 L443.00 53.87 L443.06 53.79 L443.13 53.72 L443.19 53.65 L443.26 53.58 L443.33 53.52 L443.39 53.46 L443.46 53.41 L443.53 53.36 L443.61 53.32 L443.68 53.28 L443.75 53.25 L443.82 53.22 L443.90 53.20 L443.97 53.18 L444.05 53.17 L444.12 53.16 L444.20 53.16 L444.28 53.16 L444.35 53.17 L444.43 53.18 L444.50 53.20 L444.58 53.22 L444.65 53.25 L444.72 53.28 L444.79 53.32 L444.87 53.36 L444.94 53.41 L445.01 53.46 L445.07 53.52 L445.14 53.58 L445.21 53.65 L445.27 53.72 L445.34 53.79 L445.40 53.87 L445.46 53.95 L445.51 54.04 L445.57 54.13 L445.63 54.23 L445.68 54.32 L445.73 54.43 L445.78 54.53 L445.82 54.64 L445.87 54.75 L445.91 54.86 L445.95 54.98 L445.98 55.10 L446.02 55.22 L446.05 55.34 L446.08 55.47 L446.10 55.60 L446.13 55.73 L446.15 55.86 L446.17 55.99 L446.18 56.12 L446.19 56.25 L446.21 56.38 L446.21 56.51 L446.22 56.65 L446.22 56.80 L446.21 56.96 L446.20 57.13 L446.19 57.31 L446.17 57.49 L446.15 57.67 L446.13 57.85 Z" stroke-opacity="0.95"/>
</g>
<rect x="429.50" y="44.50" width="23.00" height="21.00" fill="none" stroke="#c9373d" stroke-width="1" />
<rect x="452.50" y="44.50" width="35.00" height="21.00" fill="none" stroke="#c9373d" stroke-width="1" />
<rect x="429.50" y="65.50" width="23.00" height="30.00" fill="none" stroke="#c9373d" stroke-width="1" />
<text x="429.80" y="41.60" font-size="10" text-anchor="start" fill="#c9373d" font-weight="normal" >EryB</text>
<text x="466.20" y="41.60" font-size="10" text-anchor="start" fill="#c9373d" font-weight="normal" >EryA</text>
<text x="430.60" y="93.20" font-size="10" text-anchor="start" fill="#c9373d" font-weight="normal" >EryC</text>
<text x="425.00" y="29.50" font-size="13" text-anchor="start" fill="#111" font-weight="normal" >Ter119<tspan dy="-4.6" font-size="8.8">high</tspan></text>
<text x="454.00" y="121.00" font-size="13" text-anchor="middle" fill="#111" font-weight="normal" >FSC-A</text>
<text transform="translate(404.60,58.00) rotate(-90)" font-size="12.4" text-anchor="middle" fill="#111" >CD71</text>
<text x="3.50" y="148.10" font-size="14" text-anchor="start" fill="#111" font-weight="bold" >C</text>
<line x1="41.30" y1="149.30" x2="313.00" y2="149.30" stroke="#888" stroke-width="0.8" />
<line x1="313.00" y1="149.30" x2="313.00" y2="224.20" stroke="#888" stroke-width="0.8" />
<line x1="41.30" y1="149.30" x2="41.30" y2="224.20" stroke="#777" stroke-width="0.9" />
<line x1="41.30" y1="224.20" x2="313.00" y2="224.20" stroke="#888" stroke-width="0.8" />
<line x1="109.30" y1="149.30" x2="109.30" y2="224.20" stroke="#777" stroke-width="0.9" />
<line x1="176.20" y1="149.30" x2="176.20" y2="224.20" stroke="#777" stroke-width="0.9" />
<line x1="244.50" y1="149.30" x2="244.50" y2="224.20" stroke="#777" stroke-width="0.9" />
<line x1="39.30" y1="224.20" x2="41.30" y2="224.20" stroke="#777" stroke-width="0.6" />
<text x="38.70" y="226.00" font-size="5.1" text-anchor="end" fill="#222" font-weight="bold" >0</text>
<line x1="39.30" y1="210.12" x2="41.30" y2="210.12" stroke="#777" stroke-width="0.6" />
<text x="38.70" y="211.92" font-size="5.1" text-anchor="end" fill="#222" font-weight="bold" >20</text>
<line x1="39.30" y1="196.04" x2="41.30" y2="196.04" stroke="#777" stroke-width="0.6" />
<text x="38.70" y="197.84" font-size="5.1" text-anchor="end" fill="#222" font-weight="bold" >40</text>
<line x1="39.30" y1="181.96" x2="41.30" y2="181.96" stroke="#777" stroke-width="0.6" />
<text x="38.70" y="183.76" font-size="5.1" text-anchor="end" fill="#222" font-weight="bold" >60</text>
<line x1="39.30" y1="167.88" x2="41.30" y2="167.88" stroke="#777" stroke-width="0.6" />
<text x="38.70" y="169.68" font-size="5.1" text-anchor="end" fill="#222" font-weight="bold" >80</text>
<line x1="39.30" y1="153.80" x2="41.30" y2="153.80" stroke="#777" stroke-width="0.6" />
<text x="38.70" y="155.60" font-size="5.1" text-anchor="end" fill="#222" font-weight="bold" >100</text>
<text x="45.00" y="163.00" font-size="12.8" text-anchor="start" fill="#111" font-weight="normal" >ProE</text>
<polyline points="70.90,223.58 71.15,223.57 71.40,223.55 71.65,223.53 71.90,223.49 72.15,223.45 72.40,223.39 72.65,223.30 72.90,223.19 73.15,223.03 73.40,222.83 73.65,222.57 73.90,222.23 74.15,221.79 74.40,221.24 74.65,220.56 74.90,219.71 75.15,218.68 75.40,217.44 75.65,215.96 75.90,214.22 76.15,212.20 76.40,209.89 76.65,207.26 76.90,204.33 77.15,201.10 77.40,197.59 77.65,193.83 77.90,189.87 78.15,185.76 78.40,181.57 78.65,177.38 78.90,173.28 79.15,169.36 79.40,165.72 79.65,162.44 79.90,159.63 80.15,157.35 80.40,155.67 80.65,154.65 80.90,154.30 81.15,154.84 81.40,156.43 81.65,159.01 81.90,162.44 82.15,166.60 82.40,171.29 82.65,176.34 82.90,181.57 83.15,186.80 83.40,191.87 83.65,196.67 83.90,201.10 84.15,205.09 84.40,208.61 84.65,211.65 84.90,214.22 85.15,216.35 85.40,218.09 85.65,219.47 85.90,220.56 86.15,221.39 86.40,222.02 86.65,222.49 86.90,222.83 87.15,223.08 87.40,223.25 87.65,223.37 87.90,223.45 88.15,223.50 88.40,223.54 88.65,223.56 88.90,223.58" fill="none" stroke="#8a8a8a" stroke-width="1.35" stroke-linejoin="round" stroke-linecap="round" stroke-linejoin="round"/>
<polyline points="73.60,223.57 73.85,223.56 74.10,223.54 74.35,223.51 74.60,223.47 74.85,223.41 75.10,223.33 75.35,223.22 75.60,223.08 75.85,222.88 76.10,222.61 76.35,222.27 76.60,221.83 76.85,221.27 77.10,220.56 77.35,219.67 77.60,218.58 77.85,217.27 78.10,215.69 78.35,213.82 78.60,211.65 78.85,209.15 79.10,206.32 79.35,203.15 79.60,199.67 79.85,195.90 80.10,191.87 80.35,187.66 80.60,183.32 80.85,178.94 81.10,174.63 81.35,170.48 81.60,166.60 81.85,163.09 82.10,160.06 82.35,157.60 82.60,155.79 82.85,154.67 83.10,154.30 83.35,154.75 83.60,156.07 83.85,158.21 84.10,161.10 84.35,164.63 84.60,168.67 84.85,173.10 85.10,177.76 85.35,182.52 85.60,187.26 85.85,191.87 86.10,196.25 86.35,200.33 86.60,204.05 86.85,207.39 87.10,210.33 87.35,212.88 87.60,215.05 87.85,216.86 88.10,218.36 88.35,219.58 88.60,220.56 88.85,221.32 89.10,221.92 89.35,222.37 89.60,222.72 89.85,222.97 90.10,223.16 90.35,223.30 90.60,223.39 90.85,223.46 91.10,223.51 91.35,223.54 91.60,223.56 91.85,223.57" fill="none" stroke="#1a1ad8" stroke-width="1.35" stroke-linejoin="round" stroke-linecap="round" stroke-linejoin="round"/>
<polyline points="78.55,223.57 78.80,223.56 79.05,223.54 79.30,223.51 79.55,223.46 79.80,223.39 80.05,223.30 80.30,223.17 80.55,222.98 80.80,222.73 81.05,222.39 81.30,221.94 81.55,221.35 81.80,220.59 82.05,219.62 82.30,218.42 82.55,216.93 82.80,215.13 83.05,212.98 83.30,210.46 83.55,207.55 83.80,204.25 84.05,200.56 84.30,196.53 84.55,192.19 84.80,187.63 85.05,182.94 85.30,178.22 85.55,173.61 85.80,169.23 86.05,165.23 86.30,161.73 86.55,158.87 86.80,156.75 87.05,155.44 87.30,155.00 87.55,155.37 87.80,156.47 88.05,158.27 88.30,160.70 88.55,163.70 88.80,167.17 89.05,171.01 89.30,175.12 89.55,179.39 89.80,183.72 90.05,188.02 90.30,192.19 90.55,196.18 90.80,199.91 91.05,203.36 91.30,206.49 91.55,209.30 91.80,211.77 92.05,213.92 92.30,215.77 92.55,217.33 92.80,218.63 93.05,219.71 93.30,220.59 93.55,221.29 93.80,221.85 94.05,222.29 94.30,222.62 94.55,222.88 94.80,223.08 95.05,223.23 95.30,223.33 95.55,223.41 95.80,223.47 96.05,223.51 96.30,223.54 96.55,223.56 96.80,223.57" fill="none" stroke="#e41a1a" stroke-width="1.35" stroke-linejoin="round" stroke-linecap="round" stroke-linejoin="round"/>
<text x="44.70" y="231.60" font-size="5.4" text-anchor="middle" fill="#222" font-weight="bold" >0</text>
<line x1="44.70" y1="224.20" x2="44.70" y2="225.70" stroke="#888" stroke-width="0.5" />
<text x="52.70" y="231.60" font-size="5.4" text-anchor="middle" fill="#222" font-weight="bold" >10<tspan dy="-2" font-size="3.4">2</tspan></text>
<line x1="52.70" y1="224.20" x2="52.70" y2="225.70" stroke="#888" stroke-width="0.5" />
<text x="70.90" y="231.60" font-size="5.4" text-anchor="middle" fill="#222" font-weight="bold" >10<tspan dy="-2" font-size="3.4">3</tspan></text>
<line x1="70.90" y1="224.20" x2="70.90" y2="225.70" stroke="#888" stroke-width="0.5" />
<text x="86.90" y="231.60" font-size="5.4" text-anchor="middle" fill="#222" font-weight="bold" >10<tspan dy="-2" font-size="3.4">4</tspan></text>
<line x1="86.90" y1="224.20" x2="86.90" y2="225.70" stroke="#888" stroke-width="0.5" />
<text x="103.60" y="231.60" font-size="5.4" text-anchor="middle" fill="#222" font-weight="bold" >10<tspan dy="-2" font-size="3.4">5</tspan></text>
<line x1="103.60" y1="224.20" x2="103.60" y2="225.70" stroke="#888" stroke-width="0.5" />
<text x="113.00" y="163.00" font-size="12.8" text-anchor="start" fill="#111" font-weight="normal" >EryA</text>
<polyline points="140.25,223.57 140.50,223.54 140.75,223.49 141.00,223.41 141.25,223.28 141.50,223.08 141.75,222.75 142.00,222.27 142.25,221.56 142.50,220.56 142.75,219.15 143.00,217.27 143.25,214.79 143.50,211.65 143.75,207.78 144.00,203.15 144.25,197.82 144.50,191.87 144.75,185.50 145.00,178.94 145.25,172.53 145.50,166.60 145.75,161.51 146.00,157.60 146.25,155.14 146.50,154.30 146.75,155.26 147.00,158.05 147.25,162.44 147.50,168.11 147.75,174.63 148.00,181.57 148.25,188.51 148.50,195.11 148.75,201.10 149.00,206.32 149.25,210.69 149.50,214.22 149.75,216.97 150.00,219.05 150.25,220.56 150.50,221.62 150.75,222.35 151.00,222.83 151.25,223.14 151.50,223.33 151.75,223.45 152.00,223.52 152.25,223.56 152.50,223.58" fill="none" stroke="#8a8a8a" stroke-width="1.35" stroke-linejoin="round" stroke-linecap="round" stroke-linejoin="round"/>
<polyline points="145.30,223.56 145.55,223.54 145.80,223.50 146.05,223.43 146.30,223.33 146.55,223.18 146.80,222.95 147.05,222.61 147.30,222.14 147.55,221.47 147.80,220.56 148.05,219.33 148.30,217.73 148.55,215.69 148.80,213.14 149.05,210.02 149.30,206.32 149.55,202.03 149.80,197.18 150.05,191.87 150.30,186.22 150.55,180.40 150.80,174.63 151.05,169.15 151.30,164.21 151.55,160.06 151.80,156.92 152.05,154.97 152.30,154.30 152.55,154.75 152.80,156.07 153.05,158.21 153.30,161.10 153.55,164.63 153.80,168.67 154.05,173.10 154.30,177.76 154.55,182.52 154.80,187.26 155.05,191.87 155.30,196.25 155.55,200.33 155.80,204.05 156.05,207.39 156.30,210.33 156.55,212.88 156.80,215.05 157.05,216.86 157.30,218.36 157.55,219.58 157.80,220.56 158.05,221.32 158.30,221.92 158.55,222.37 158.80,222.72 159.05,222.97 159.30,223.16 159.55,223.30 159.80,223.39 160.05,223.46 160.30,223.51 160.55,223.54 160.80,223.56 161.05,223.57" fill="none" stroke="#1a1ad8" stroke-width="1.35" stroke-linejoin="round" stroke-linecap="round" stroke-linejoin="round"/>
<polyline points="148.10,223.57 148.35,223.56 148.60,223.54 148.85,223.51 149.10,223.47 149.35,223.41 149.60,223.33 149.85,223.23 150.10,223.08 150.35,222.88 150.60,222.62 150.85,222.29 151.10,221.85 151.35,221.29 151.60,220.59 151.85,219.71 152.10,218.63 152.35,217.33 152.60,215.77 152.85,213.92 153.10,211.77 153.35,209.30 153.60,206.49 153.85,203.36 154.10,199.91 154.35,196.18 154.60,192.19 154.85,188.02 155.10,183.72 155.35,179.39 155.60,175.12 155.85,171.01 156.10,167.17 156.35,163.70 156.60,160.70 156.85,158.27 157.10,156.47 157.35,155.37 157.60,155.00 157.85,155.25 158.10,156.01 158.35,157.26 158.60,158.96 158.85,161.09 159.10,163.59 159.35,166.42 159.60,169.52 159.85,172.83 160.10,176.29 160.35,179.84 160.60,183.43 160.85,186.99 161.10,190.48 161.35,193.87 161.60,197.10 161.85,200.16 162.10,203.02 162.35,205.66 162.60,208.08 162.85,210.28 163.10,212.24 163.35,213.99 163.60,215.53 163.85,216.87 164.10,218.04 164.35,219.03 164.60,219.87 164.85,220.59 165.10,221.18 165.35,221.67 165.60,222.07 165.85,222.40 166.10,222.66 166.35,222.88 166.60,223.04 166.85,223.18 167.10,223.28 167.35,223.36 167.60,223.42 167.85,223.47 168.10,223.50 168.35,223.53 168.60,223.55 168.85,223.56 169.10,223.57" fill="none" stroke="#e41a1a" stroke-width="1.35" stroke-linejoin="round" stroke-linecap="round" stroke-linejoin="round"/>
<text x="112.70" y="231.60" font-size="5.4" text-anchor="middle" fill="#222" font-weight="bold" >0</text>
<line x1="112.70" y1="224.20" x2="112.70" y2="225.70" stroke="#888" stroke-width="0.5" />
<text x="120.70" y="231.60" font-size="5.4" text-anchor="middle" fill="#222" font-weight="bold" >10<tspan dy="-2" font-size="3.4">2</tspan></text>
<line x1="120.70" y1="224.20" x2="120.70" y2="225.70" stroke="#888" stroke-width="0.5" />
<text x="138.90" y="231.60" font-size="5.4" text-anchor="middle" fill="#222" font-weight="bold" >10<tspan dy="-2" font-size="3.4">3</tspan></text>
<line x1="138.90" y1="224.20" x2="138.90" y2="225.70" stroke="#888" stroke-width="0.5" />
<text x="154.90" y="231.60" font-size="5.4" text-anchor="middle" fill="#222" font-weight="bold" >10<tspan dy="-2" font-size="3.4">4</tspan></text>
<line x1="154.90" y1="224.20" x2="154.90" y2="225.70" stroke="#888" stroke-width="0.5" />
<text x="171.60" y="231.60" font-size="5.4" text-anchor="middle" fill="#222" font-weight="bold" >10<tspan dy="-2" font-size="3.4">5</tspan></text>
<line x1="171.60" y1="224.20" x2="171.60" y2="225.70" stroke="#888" stroke-width="0.5" />
<text x="179.90" y="163.00" font-size="12.8" text-anchor="start" fill="#111" font-weight="normal" >EryB</text>
<polyline points="205.20,223.58 205.45,223.56 205.70,223.52 205.95,223.45 206.20,223.33 206.45,223.14 206.70,222.83 206.95,222.35 207.20,221.62 207.45,220.56 207.70,219.05 207.95,216.97 208.20,214.22 208.45,210.69 208.70,206.32 208.95,201.10 209.20,195.11 209.45,188.51 209.70,181.57 209.95,174.63 210.20,168.11 210.45,162.44 210.70,158.05 210.95,155.26 211.20,154.30 211.45,155.26 211.70,158.05 211.95,162.44 212.20,168.11 212.45,174.63 212.70,181.57 212.95,188.51 213.20,195.11 213.45,201.10 213.70,206.32 213.95,210.69 214.20,214.22 214.45,216.97 214.70,219.05 214.95,220.56 215.20,221.62 215.45,222.35 215.70,222.83 215.95,223.14 216.20,223.33 216.45,223.45 216.70,223.52 216.95,223.56 217.20,223.58" fill="none" stroke="#8a8a8a" stroke-width="1.35" stroke-linejoin="round" stroke-linecap="round" stroke-linejoin="round"/>
<polyline points="213.20,223.57 213.45,223.55 213.70,223.52 213.95,223.47 214.20,223.40 214.45,223.29 214.70,223.13 214.95,222.89 215.20,222.55 215.45,222.08 215.70,221.43 215.95,220.56 216.20,219.41 216.45,217.92 216.70,216.04 216.95,213.72 217.20,210.90 217.45,207.55 217.70,203.68 217.95,199.29 218.20,194.44 218.45,189.23 218.70,183.78 218.95,178.26 219.20,172.86 219.45,167.79 219.70,163.26 219.95,159.49 220.20,156.66 220.45,154.90 220.70,154.30 220.95,154.84 221.20,156.43 221.45,159.01 221.70,162.44 221.95,166.60 222.20,171.29 222.45,176.34 222.70,181.57 222.95,186.80 223.20,191.87 223.45,196.67 223.70,201.10 223.95,205.09 224.20,208.61 224.45,211.65 224.70,214.22 224.95,216.35 225.20,218.09 225.45,219.47 225.70,220.56 225.95,221.39 226.20,222.02 226.45,222.49 226.70,222.83 226.95,223.08 227.20,223.25 227.45,223.37 227.70,223.45 227.95,223.50 228.20,223.54 228.45,223.56 228.70,223.58" fill="none" stroke="#1a1ad8" stroke-width="1.35" stroke-linejoin="round" stroke-linecap="round" stroke-linejoin="round"/>
<polyline points="215.70,223.57 215.95,223.55 216.20,223.52 216.45,223.48 216.70,223.40 216.95,223.29 217.20,223.13 217.45,222.90 217.70,222.56 217.95,222.09 218.20,221.45 218.45,220.59 218.70,219.45 218.95,217.98 219.20,216.12 219.45,213.82 219.70,211.03 219.95,207.72 220.20,203.88 220.45,199.53 220.70,194.73 220.95,189.57 221.20,184.18 221.45,178.71 221.70,173.37 221.95,168.35 222.20,163.87 222.45,160.14 222.70,157.33 222.95,155.59 223.20,155.00 223.45,155.37 223.70,156.47 223.95,158.27 224.20,160.70 224.45,163.70 224.70,167.17 224.95,171.01 225.20,175.12 225.45,179.39 225.70,183.72 225.95,188.02 226.20,192.19 226.45,196.18 226.70,199.91 226.95,203.36 227.20,206.49 227.45,209.30 227.70,211.77 227.95,213.92 228.20,215.77 228.45,217.33 228.70,218.63 228.95,219.71 229.20,220.59 229.45,221.29 229.70,221.85 229.95,222.29 230.20,222.62 230.45,222.88 230.70,223.08 230.95,223.23 231.20,223.33 231.45,223.41 231.70,223.47 231.95,223.51 232.20,223.54 232.45,223.56 232.70,223.57" fill="none" stroke="#e41a1a" stroke-width="1.35" stroke-linejoin="round" stroke-linecap="round" stroke-linejoin="round"/>
<text x="179.60" y="231.60" font-size="5.4" text-anchor="middle" fill="#222" font-weight="bold" >0</text>
<line x1="179.60" y1="224.20" x2="179.60" y2="225.70" stroke="#888" stroke-width="0.5" />
<text x="187.60" y="231.60" font-size="5.4" text-anchor="middle" fill="#222" font-weight="bold" >10<tspan dy="-2" font-size="3.4">2</tspan></text>
<line x1="187.60" y1="224.20" x2="187.60" y2="225.70" stroke="#888" stroke-width="0.5" />
<text x="205.80" y="231.60" font-size="5.4" text-anchor="middle" fill="#222" font-weight="bold" >10<tspan dy="-2" font-size="3.4">3</tspan></text>
<line x1="205.80" y1="224.20" x2="205.80" y2="225.70" stroke="#888" stroke-width="0.5" />
<text x="221.80" y="231.60" font-size="5.4" text-anchor="middle" fill="#222" font-weight="bold" >10<tspan dy="-2" font-size="3.4">4</tspan></text>
<line x1="221.80" y1="224.20" x2="221.80" y2="225.70" stroke="#888" stroke-width="0.5" />
<text x="238.50" y="231.60" font-size="5.4" text-anchor="middle" fill="#222" font-weight="bold" >10<tspan dy="-2" font-size="3.4">5</tspan></text>
<line x1="238.50" y1="224.20" x2="238.50" y2="225.70" stroke="#888" stroke-width="0.5" />
<text x="248.20" y="163.00" font-size="12.8" text-anchor="start" fill="#111" font-weight="normal" >EryC</text>
<polyline points="273.10,223.58 273.35,223.56 273.60,223.52 273.85,223.45 274.10,223.33 274.35,223.14 274.60,222.83 274.85,222.35 275.10,221.62 275.35,220.56 275.60,219.05 275.85,216.97 276.10,214.22 276.35,210.69 276.60,206.32 276.85,201.10 277.10,195.11 277.35,188.51 277.60,181.57 277.85,174.63 278.10,168.11 278.35,162.44 278.60,158.05 278.85,155.26 279.10,154.30 279.35,155.26 279.60,158.05 279.85,162.44 280.10,168.11 280.35,174.63 280.60,181.57 280.85,188.51 281.10,195.11 281.35,201.10 281.60,206.32 281.85,210.69 282.10,214.22 282.35,216.97 282.60,219.05 282.85,220.56 283.10,221.62 283.35,222.35 283.60,222.83 283.85,223.14 284.10,223.33 284.35,223.45 284.60,223.52 284.85,223.56 285.10,223.58" fill="none" stroke="#8a8a8a" stroke-width="1.35" stroke-linejoin="round" stroke-linecap="round" stroke-linejoin="round"/>
<polyline points="282.10,223.58 282.35,223.56 282.60,223.54 282.85,223.50 283.10,223.45 283.35,223.37 283.60,223.25 283.85,223.08 284.10,222.83 284.35,222.49 284.60,222.02 284.85,221.39 285.10,220.56 285.35,219.47 285.60,218.09 285.85,216.35 286.10,214.22 286.35,211.65 286.60,208.61 286.85,205.09 287.10,201.10 287.35,196.67 287.60,191.87 287.85,186.80 288.10,181.57 288.35,176.34 288.60,171.29 288.85,166.60 289.10,162.44 289.35,159.01 289.60,156.43 289.85,154.84 290.10,154.30 290.35,155.14 290.60,157.60 290.85,161.51 291.10,166.60 291.35,172.53 291.60,178.94 291.85,185.50 292.10,191.87 292.35,197.82 292.60,203.15 292.85,207.78 293.10,211.65 293.35,214.79 293.60,217.27 293.85,219.15 294.10,220.56 294.35,221.56 294.60,222.27 294.85,222.75 295.10,223.08 295.35,223.28 295.60,223.41 295.85,223.49 296.10,223.54 296.35,223.57" fill="none" stroke="#1a1ad8" stroke-width="1.35" stroke-linejoin="round" stroke-linecap="round" stroke-linejoin="round"/>
<polyline points="285.85,223.57 286.10,223.54 286.35,223.49 286.60,223.41 286.85,223.28 287.10,223.08 287.35,222.76 287.60,222.29 287.85,221.59 288.10,220.59 288.35,219.20 288.60,217.33 288.85,214.88 289.10,211.77 289.35,207.94 289.60,203.36 289.85,198.08 290.10,192.19 290.35,185.88 290.60,179.39 290.85,173.04 291.10,167.17 291.35,162.14 291.60,158.27 291.85,155.83 292.10,155.00 292.35,155.53 292.60,157.11 292.85,159.66 293.10,163.06 293.35,167.17 293.60,171.82 293.85,176.82 294.10,181.99 294.35,187.17 294.60,192.19 294.85,196.94 295.10,201.33 295.35,205.28 295.60,208.76 295.85,211.77 296.10,214.32 296.35,216.43 296.60,218.14 296.85,219.51 297.10,220.59 297.35,221.41 297.60,222.04 297.85,222.50 298.10,222.84 298.35,223.08 298.60,223.25 298.85,223.37 299.10,223.45 299.35,223.50 299.60,223.54 299.85,223.56 300.10,223.58" fill="none" stroke="#e41a1a" stroke-width="1.35" stroke-linejoin="round" stroke-linecap="round" stroke-linejoin="round"/>
<text x="247.90" y="231.60" font-size="5.4" text-anchor="middle" fill="#222" font-weight="bold" >0</text>
<line x1="247.90" y1="224.20" x2="247.90" y2="225.70" stroke="#888" stroke-width="0.5" />
<text x="255.90" y="231.60" font-size="5.4" text-anchor="middle" fill="#222" font-weight="bold" >10<tspan dy="-2" font-size="3.4">2</tspan></text>
<line x1="255.90" y1="224.20" x2="255.90" y2="225.70" stroke="#888" stroke-width="0.5" />
<text x="274.10" y="231.60" font-size="5.4" text-anchor="middle" fill="#222" font-weight="bold" >10<tspan dy="-2" font-size="3.4">3</tspan></text>
<line x1="274.10" y1="224.20" x2="274.10" y2="225.70" stroke="#888" stroke-width="0.5" />
<text x="290.10" y="231.60" font-size="5.4" text-anchor="middle" fill="#222" font-weight="bold" >10<tspan dy="-2" font-size="3.4">4</tspan></text>
<line x1="290.10" y1="224.20" x2="290.10" y2="225.70" stroke="#888" stroke-width="0.5" />
<text x="306.80" y="231.60" font-size="5.4" text-anchor="middle" fill="#222" font-weight="bold" >10<tspan dy="-2" font-size="3.4">5</tspan></text>
<line x1="306.80" y1="224.20" x2="306.80" y2="225.70" stroke="#888" stroke-width="0.5" />
<rect x="315.20" y="150.30" width="9.60" height="9.20" fill="#8a8a8a" stroke="none" stroke-width="1" />
<text x="326.40" y="158.40" font-size="13.2" text-anchor="start" fill="#111" font-weight="normal" >IgG</text>
<rect x="315.20" y="163.05" width="9.60" height="9.20" fill="#1a1af0" stroke="none" stroke-width="1" />
<text x="326.40" y="171.40" font-size="13.2" text-anchor="start" fill="#111" font-weight="normal" >Saline</text>
<rect x="315.20" y="175.80" width="9.60" height="9.20" fill="#ee1a1a" stroke="none" stroke-width="1" />
<text x="326.40" y="184.40" font-size="13.2" text-anchor="start" fill="#111" font-weight="normal" >Epo</text>
<text transform="translate(27.60,247.00) rotate(-90) scale(1,1)" font-size="13" fill="#111">Cell&#160;frequency</text>
<text transform="translate(26.60,162.24) rotate(-90) scale(1,0.95)" font-size="8.6" fill="#111">(%)</text>
<line x1="40.50" y1="237.80" x2="80.50" y2="237.80" stroke="#000" stroke-width="1.3" />
<polygon points="85.50,237.80 76.50,234.90 79.00,237.80 76.50,240.70" fill="#000" stroke="none" stroke-width="1" />
<text x="41.20" y="249.20" font-size="12.8" text-anchor="start" fill="#111" font-weight="normal" >Bcl-x<tspan font-size="8" dy="3">L</tspan></text>
<text x="4.00" y="271.00" font-size="14" text-anchor="start" fill="#111" font-weight="bold" >D</text>
<line x1="41.25" y1="281.50" x2="41.25" y2="355.10" stroke="#777" stroke-width="0.9" />
<line x1="41.25" y1="355.10" x2="417.50" y2="355.10" stroke="#777" stroke-width="0.9" />
<line x1="116.50" y1="281.50" x2="116.50" y2="355.10" stroke="#a0a0a0" stroke-width="0.9" />
<line x1="116.50" y1="340.64" x2="118.00" y2="340.64" stroke="#a0a0a0" stroke-width="0.6" />
<line x1="116.50" y1="326.18" x2="118.00" y2="326.18" stroke="#a0a0a0" stroke-width="0.6" />
<line x1="116.50" y1="311.72" x2="118.00" y2="311.72" stroke="#a0a0a0" stroke-width="0.6" />
<line x1="116.50" y1="297.26" x2="118.00" y2="297.26" stroke="#a0a0a0" stroke-width="0.6" />
<line x1="116.50" y1="282.80" x2="118.00" y2="282.80" stroke="#a0a0a0" stroke-width="0.6" />
<line x1="192.50" y1="281.50" x2="192.50" y2="355.10" stroke="#a0a0a0" stroke-width="0.9" />
<line x1="192.50" y1="340.64" x2="194.00" y2="340.64" stroke="#a0a0a0" stroke-width="0.6" />
<line x1="192.50" y1="326.18" x2="194.00" y2="326.18" stroke="#a0a0a0" stroke-width="0.6" />
<line x1="192.50" y1="311.72" x2="194.00" y2="311.72" stroke="#a0a0a0" stroke-width="0.6" />
<line x1="192.50" y1="297.26" x2="194.00" y2="297.26" stroke="#a0a0a0" stroke-width="0.6" />
<line x1="192.50" y1="282.80" x2="194.00" y2="282.80" stroke="#a0a0a0" stroke-width="0.6" />
<line x1="268.00" y1="281.50" x2="268.00" y2="355.10" stroke="#a0a0a0" stroke-width="0.9" />
<line x1="268.00" y1="340.64" x2="269.50" y2="340.64" stroke="#a0a0a0" stroke-width="0.6" />
<line x1="268.00" y1="326.18" x2="269.50" y2="326.18" stroke="#a0a0a0" stroke-width="0.6" />
<line x1="268.00" y1="311.72" x2="269.50" y2="311.72" stroke="#a0a0a0" stroke-width="0.6" />
<line x1="268.00" y1="297.26" x2="269.50" y2="297.26" stroke="#a0a0a0" stroke-width="0.6" />
<line x1="268.00" y1="282.80" x2="269.50" y2="282.80" stroke="#a0a0a0" stroke-width="0.6" />
<line x1="343.00" y1="281.50" x2="343.00" y2="355.10" stroke="#a0a0a0" stroke-width="0.9" />
<line x1="343.00" y1="340.64" x2="344.50" y2="340.64" stroke="#a0a0a0" stroke-width="0.6" />
<line x1="343.00" y1="326.18" x2="344.50" y2="326.18" stroke="#a0a0a0" stroke-width="0.6" />
<line x1="343.00" y1="311.72" x2="344.50" y2="311.72" stroke="#a0a0a0" stroke-width="0.6" />
<line x1="343.00" y1="297.26" x2="344.50" y2="297.26" stroke="#a0a0a0" stroke-width="0.6" />
<line x1="343.00" y1="282.80" x2="344.50" y2="282.80" stroke="#a0a0a0" stroke-width="0.6" />
<line x1="41.25" y1="355.10" x2="43.50" y2="355.10" stroke="#777" stroke-width="0.7" />
<text x="39.40" y="358.00" font-size="8" text-anchor="end" fill="#222" font-weight="normal" >0</text>
<line x1="41.25" y1="340.64" x2="43.50" y2="340.64" stroke="#777" stroke-width="0.7" />
<text x="39.40" y="343.54" font-size="8" text-anchor="end" fill="#222" font-weight="normal" >2</text>
<line x1="41.25" y1="326.18" x2="43.50" y2="326.18" stroke="#777" stroke-width="0.7" />
<text x="39.40" y="329.08" font-size="8" text-anchor="end" fill="#222" font-weight="normal" >4</text>
<line x1="41.25" y1="311.72" x2="43.50" y2="311.72" stroke="#777" stroke-width="0.7" />
<text x="39.40" y="314.62" font-size="8" text-anchor="end" fill="#222" font-weight="normal" >6</text>
<line x1="41.25" y1="297.26" x2="43.50" y2="297.26" stroke="#777" stroke-width="0.7" />
<text x="39.40" y="300.16" font-size="8" text-anchor="end" fill="#222" font-weight="normal" >8</text>
<line x1="41.25" y1="282.80" x2="43.50" y2="282.80" stroke="#777" stroke-width="0.7" />
<text x="39.40" y="285.70" font-size="8" text-anchor="end" fill="#222" font-weight="normal" >10</text>
<line x1="41.25" y1="347.87" x2="42.50" y2="347.87" stroke="#999" stroke-width="0.5" />
<line x1="41.25" y1="333.41" x2="42.50" y2="333.41" stroke="#999" stroke-width="0.5" />
<line x1="41.25" y1="318.95" x2="42.50" y2="318.95" stroke="#999" stroke-width="0.5" />
<line x1="41.25" y1="304.49" x2="42.50" y2="304.49" stroke="#999" stroke-width="0.5" />
<line x1="41.25" y1="290.03" x2="42.50" y2="290.03" stroke="#999" stroke-width="0.5" />
<text x="42.05" y="281.20" font-size="13" text-anchor="start" fill="#111" font-weight="normal" >12 h</text>
<polyline points="50.85,347.15 51.96,345.82 53.40,344.01 55.10,341.84 57.00,339.42 59.06,336.87 61.20,334.30 63.38,331.83 65.54,329.58 67.61,327.65 69.55,326.18 71.40,325.16 73.23,324.47 75.07,324.04 76.89,323.81 78.72,323.72 80.54,323.69 82.37,323.66 84.19,323.57 86.02,323.35 87.85,322.93 89.77,322.31 91.82,321.56 93.94,320.73 96.09,319.84 98.19,318.93 100.21,318.03 102.08,317.19 103.75,316.44 105.15,315.81 106.25,315.34" fill="none" stroke="#6f8fff" stroke-width="2.6" stroke-linejoin="round" stroke-linecap="round" />
<polyline points="50.85,350.04 51.96,348.57 53.40,346.57 55.10,344.16 57.00,341.48 59.06,338.65 61.20,335.81 63.38,333.08 65.54,330.60 67.61,328.50 69.55,326.90 71.40,325.82 73.23,325.11 75.07,324.71 76.89,324.53 78.72,324.51 80.54,324.56 82.37,324.61 84.19,324.59 86.02,324.41 87.85,324.01 89.77,323.38 91.82,322.62 93.94,321.75 96.09,320.81 98.19,319.85 100.21,318.91 102.08,318.02 103.75,317.22 105.15,316.55 106.25,316.06" fill="none" stroke="#2233c4" stroke-width="1.7" stroke-linejoin="round" stroke-linecap="round" />
<polyline points="50.85,333.05 51.96,331.97 53.40,330.50 55.10,328.73 57.00,326.76 59.06,324.69 61.20,322.60 63.38,320.60 65.54,318.78 67.61,317.23 69.55,316.06 71.40,315.25 73.23,314.71 75.07,314.39 76.89,314.23 78.72,314.18 80.54,314.20 82.37,314.23 84.19,314.22 86.02,314.13 87.85,313.89 89.77,313.52 91.82,313.09 93.94,312.61 96.09,312.10 98.19,311.58 100.21,311.08 102.08,310.60 103.75,310.18 105.15,309.82 106.25,309.55" fill="none" stroke="#8e1212" stroke-width="1.6" stroke-linejoin="round" stroke-linecap="round" />
<polyline points="50.85,340.28 51.96,338.35 53.40,335.70 55.10,332.50 57.00,328.94 59.06,325.21 61.20,321.48 63.38,317.94 65.54,314.77 67.61,312.15 69.55,310.27 71.40,309.16 73.23,308.63 75.07,308.56 76.89,308.85 78.72,309.37 80.54,310.01 82.37,310.64 84.19,311.15 86.02,311.43 87.85,311.36 89.77,310.96 91.82,310.38 93.94,309.67 96.09,308.85 98.19,307.99 100.21,307.12 102.08,306.30 103.75,305.55 105.15,304.93 106.25,304.49" fill="none" stroke="#d21f1f" stroke-width="1.8" stroke-linejoin="round" stroke-linecap="round" />
<line x1="50.85" y1="344.98" x2="50.85" y2="349.32" stroke="#6f8fff" stroke-width="0.7" />
<line x1="49.55" y1="344.98" x2="52.15" y2="344.98" stroke="#6f8fff" stroke-width="0.7" />
<line x1="49.55" y1="349.32" x2="52.15" y2="349.32" stroke="#6f8fff" stroke-width="0.7" />
<circle cx="50.85" cy="347.15" r="2.40" fill="#6f8fff" stroke="none" stroke-width="1" />
<line x1="69.55" y1="324.88" x2="69.55" y2="327.48" stroke="#6f8fff" stroke-width="0.7" />
<line x1="68.25" y1="324.88" x2="70.85" y2="324.88" stroke="#6f8fff" stroke-width="0.7" />
<line x1="68.25" y1="327.48" x2="70.85" y2="327.48" stroke="#6f8fff" stroke-width="0.7" />
<circle cx="69.55" cy="326.18" r="2.40" fill="#6f8fff" stroke="none" stroke-width="1" />
<line x1="87.85" y1="321.63" x2="87.85" y2="324.23" stroke="#6f8fff" stroke-width="0.7" />
<line x1="86.55" y1="321.63" x2="89.15" y2="321.63" stroke="#6f8fff" stroke-width="0.7" />
<line x1="86.55" y1="324.23" x2="89.15" y2="324.23" stroke="#6f8fff" stroke-width="0.7" />
<circle cx="87.85" cy="322.93" r="2.40" fill="#6f8fff" stroke="none" stroke-width="1" />
<line x1="106.25" y1="313.60" x2="106.25" y2="317.07" stroke="#6f8fff" stroke-width="0.7" />
<line x1="104.95" y1="313.60" x2="107.55" y2="313.60" stroke="#6f8fff" stroke-width="0.7" />
<line x1="104.95" y1="317.07" x2="107.55" y2="317.07" stroke="#6f8fff" stroke-width="0.7" />
<circle cx="106.25" cy="315.34" r="2.40" fill="#6f8fff" stroke="none" stroke-width="1" />
<line x1="50.85" y1="348.74" x2="50.85" y2="351.34" stroke="#2233c4" stroke-width="0.7" />
<line x1="49.55" y1="348.74" x2="52.15" y2="348.74" stroke="#2233c4" stroke-width="0.7" />
<line x1="49.55" y1="351.34" x2="52.15" y2="351.34" stroke="#2233c4" stroke-width="0.7" />
<polygon points="50.85,347.34 48.35,351.84 53.35,351.84" fill="#2233c4" stroke="none" stroke-width="0.6" />
<line x1="69.55" y1="325.60" x2="69.55" y2="328.20" stroke="#2233c4" stroke-width="0.7" />
<line x1="68.25" y1="325.60" x2="70.85" y2="325.60" stroke="#2233c4" stroke-width="0.7" />
<line x1="68.25" y1="328.20" x2="70.85" y2="328.20" stroke="#2233c4" stroke-width="0.7" />
<polygon points="69.55,324.20 67.05,328.70 72.05,328.70" fill="#2233c4" stroke="none" stroke-width="0.6" />
<line x1="87.85" y1="322.71" x2="87.85" y2="325.31" stroke="#2233c4" stroke-width="0.7" />
<line x1="86.55" y1="322.71" x2="89.15" y2="322.71" stroke="#2233c4" stroke-width="0.7" />
<line x1="86.55" y1="325.31" x2="89.15" y2="325.31" stroke="#2233c4" stroke-width="0.7" />
<polygon points="87.85,321.31 85.35,325.81 90.35,325.81" fill="#2233c4" stroke="none" stroke-width="0.6" />
<line x1="106.25" y1="314.76" x2="106.25" y2="317.36" stroke="#2233c4" stroke-width="0.7" />
<line x1="104.95" y1="314.76" x2="107.55" y2="314.76" stroke="#2233c4" stroke-width="0.7" />
<line x1="104.95" y1="317.36" x2="107.55" y2="317.36" stroke="#2233c4" stroke-width="0.7" />
<polygon points="106.25,313.36 103.75,317.86 108.75,317.86" fill="#2233c4" stroke="none" stroke-width="0.6" />
<line x1="50.85" y1="331.75" x2="50.85" y2="334.35" stroke="#8e1212" stroke-width="0.7" />
<line x1="49.55" y1="331.75" x2="52.15" y2="331.75" stroke="#8e1212" stroke-width="0.7" />
<line x1="49.55" y1="334.35" x2="52.15" y2="334.35" stroke="#8e1212" stroke-width="0.7" />
<polygon points="50.85,330.35 48.35,334.85 53.35,334.85" fill="#8e1212" stroke="none" stroke-width="0.6" />
<line x1="69.55" y1="315.19" x2="69.55" y2="316.93" stroke="#8e1212" stroke-width="0.7" />
<line x1="68.25" y1="315.19" x2="70.85" y2="315.19" stroke="#8e1212" stroke-width="0.7" />
<line x1="68.25" y1="316.93" x2="70.85" y2="316.93" stroke="#8e1212" stroke-width="0.7" />
<polygon points="69.55,313.36 67.05,317.86 72.05,317.86" fill="#8e1212" stroke="none" stroke-width="0.6" />
<line x1="87.85" y1="313.02" x2="87.85" y2="314.76" stroke="#8e1212" stroke-width="0.7" />
<line x1="86.55" y1="313.02" x2="89.15" y2="313.02" stroke="#8e1212" stroke-width="0.7" />
<line x1="86.55" y1="314.76" x2="89.15" y2="314.76" stroke="#8e1212" stroke-width="0.7" />
<polygon points="87.85,311.19 85.35,315.69 90.35,315.69" fill="#8e1212" stroke="none" stroke-width="0.6" />
<line x1="106.25" y1="308.68" x2="106.25" y2="310.42" stroke="#8e1212" stroke-width="0.7" />
<line x1="104.95" y1="308.68" x2="107.55" y2="308.68" stroke="#8e1212" stroke-width="0.7" />
<line x1="104.95" y1="310.42" x2="107.55" y2="310.42" stroke="#8e1212" stroke-width="0.7" />
<polygon points="106.25,306.85 103.75,311.35 108.75,311.35" fill="#8e1212" stroke="none" stroke-width="0.6" />
<line x1="50.85" y1="338.54" x2="50.85" y2="342.01" stroke="#d21f1f" stroke-width="0.7" />
<line x1="49.55" y1="338.54" x2="52.15" y2="338.54" stroke="#d21f1f" stroke-width="0.7" />
<line x1="49.55" y1="342.01" x2="52.15" y2="342.01" stroke="#d21f1f" stroke-width="0.7" />
<circle cx="50.85" cy="340.28" r="2.40" fill="#d21f1f" stroke="none" stroke-width="1" />
<line x1="69.55" y1="309.41" x2="69.55" y2="311.14" stroke="#d21f1f" stroke-width="0.7" />
<line x1="68.25" y1="309.41" x2="70.85" y2="309.41" stroke="#d21f1f" stroke-width="0.7" />
<line x1="68.25" y1="311.14" x2="70.85" y2="311.14" stroke="#d21f1f" stroke-width="0.7" />
<circle cx="69.55" cy="310.27" r="2.40" fill="#d21f1f" stroke="none" stroke-width="1" />
<line x1="87.85" y1="310.06" x2="87.85" y2="312.66" stroke="#d21f1f" stroke-width="0.7" />
<line x1="86.55" y1="310.06" x2="89.15" y2="310.06" stroke="#d21f1f" stroke-width="0.7" />
<line x1="86.55" y1="312.66" x2="89.15" y2="312.66" stroke="#d21f1f" stroke-width="0.7" />
<circle cx="87.85" cy="311.36" r="2.40" fill="#d21f1f" stroke="none" stroke-width="1" />
<line x1="106.25" y1="303.19" x2="106.25" y2="305.79" stroke="#d21f1f" stroke-width="0.7" />
<line x1="104.95" y1="303.19" x2="107.55" y2="303.19" stroke="#d21f1f" stroke-width="0.7" />
<line x1="104.95" y1="305.79" x2="107.55" y2="305.79" stroke="#d21f1f" stroke-width="0.7" />
<circle cx="106.25" cy="304.49" r="2.40" fill="#d21f1f" stroke="none" stroke-width="1" />
<line x1="50.85" y1="355.10" x2="50.85" y2="356.60" stroke="#777" stroke-width="0.6" />
<text transform="translate(55.15,362.90) rotate(-45)" font-size="10.8" text-anchor="end" fill="#222">ProE</text>
<line x1="69.55" y1="355.10" x2="69.55" y2="356.60" stroke="#777" stroke-width="0.6" />
<text transform="translate(73.85,362.90) rotate(-45)" font-size="10.8" text-anchor="end" fill="#222">EryA</text>
<line x1="87.85" y1="355.10" x2="87.85" y2="356.60" stroke="#777" stroke-width="0.6" />
<text transform="translate(92.15,362.90) rotate(-45)" font-size="10.8" text-anchor="end" fill="#222">EryB</text>
<line x1="106.25" y1="355.10" x2="106.25" y2="356.60" stroke="#777" stroke-width="0.6" />
<text transform="translate(110.55,362.90) rotate(-45)" font-size="10.8" text-anchor="end" fill="#222">EryC</text>
<text x="117.30" y="281.20" font-size="13" text-anchor="start" fill="#111" font-weight="normal" >16 h</text>
<polyline points="126.10,347.15 127.21,345.72 128.65,343.77 130.35,341.42 132.25,338.81 134.31,336.05 136.45,333.29 138.63,330.65 140.79,328.26 142.86,326.24 144.80,324.73 146.65,323.75 148.48,323.16 150.32,322.88 152.14,322.84 153.97,322.95 155.79,323.13 157.62,323.30 159.44,323.37 161.27,323.28 163.10,322.93 165.02,322.32 167.07,321.55 169.19,320.65 171.34,319.67 173.44,318.66 175.46,317.65 177.33,316.70 179.00,315.85 180.40,315.14 181.50,314.61" fill="none" stroke="#6f8fff" stroke-width="2.6" stroke-linejoin="round" stroke-linecap="round" />
<polyline points="126.10,349.32 127.21,347.80 128.65,345.71 130.35,343.21 132.25,340.41 134.31,337.48 136.45,334.53 138.63,331.72 140.79,329.18 142.86,327.04 144.80,325.46 146.65,324.44 148.48,323.85 150.32,323.60 152.14,323.61 153.97,323.79 155.79,324.03 157.62,324.27 159.44,324.40 161.27,324.35 163.10,324.01 165.02,323.40 167.07,322.60 169.19,321.67 171.34,320.64 173.44,319.58 175.46,318.53 177.33,317.53 179.00,316.63 180.40,315.88 181.50,315.34" fill="none" stroke="#2233c4" stroke-width="1.7" stroke-linejoin="round" stroke-linecap="round" />
<polyline points="126.10,324.01 127.21,323.41 128.65,322.58 130.35,321.59 132.25,320.48 134.31,319.31 136.45,318.15 138.63,317.04 140.79,316.04 142.86,315.21 144.80,314.61 146.65,314.26 148.48,314.10 150.32,314.10 152.14,314.21 153.97,314.39 155.79,314.58 157.62,314.74 159.44,314.83 161.27,314.80 163.10,314.61 165.02,314.24 167.07,313.73 169.19,313.12 171.34,312.44 173.44,311.72 175.46,311.00 177.33,310.32 179.00,309.71 180.40,309.20 181.50,308.83" fill="none" stroke="#8e1212" stroke-width="1.6" stroke-linejoin="round" stroke-linecap="round" />
<polyline points="126.10,326.18 127.21,323.97 128.65,320.90 130.35,317.19 132.25,313.06 134.31,308.74 136.45,304.46 138.63,300.43 140.79,296.90 142.86,294.08 144.80,292.20 146.65,291.31 148.48,291.19 150.32,291.70 152.14,292.68 153.97,293.96 155.79,295.39 157.62,296.81 159.44,298.06 161.27,298.99 163.10,299.43 165.02,299.44 167.07,299.23 169.19,298.84 171.34,298.32 173.44,297.71 175.46,297.07 177.33,296.44 179.00,295.87 180.40,295.40 181.50,295.09" fill="none" stroke="#d21f1f" stroke-width="1.8" stroke-linejoin="round" stroke-linecap="round" />
<line x1="126.10" y1="344.98" x2="126.10" y2="349.32" stroke="#6f8fff" stroke-width="0.7" />
<line x1="124.80" y1="344.98" x2="127.40" y2="344.98" stroke="#6f8fff" stroke-width="0.7" />
<line x1="124.80" y1="349.32" x2="127.40" y2="349.32" stroke="#6f8fff" stroke-width="0.7" />
<circle cx="126.10" cy="347.15" r="2.40" fill="#6f8fff" stroke="none" stroke-width="1" />
<line x1="144.80" y1="323.43" x2="144.80" y2="326.04" stroke="#6f8fff" stroke-width="0.7" />
<line x1="143.50" y1="323.43" x2="146.10" y2="323.43" stroke="#6f8fff" stroke-width="0.7" />
<line x1="143.50" y1="326.04" x2="146.10" y2="326.04" stroke="#6f8fff" stroke-width="0.7" />
<circle cx="144.80" cy="324.73" r="2.40" fill="#6f8fff" stroke="none" stroke-width="1" />
<line x1="163.10" y1="321.63" x2="163.10" y2="324.23" stroke="#6f8fff" stroke-width="0.7" />
<line x1="161.80" y1="321.63" x2="164.40" y2="321.63" stroke="#6f8fff" stroke-width="0.7" />
<line x1="161.80" y1="324.23" x2="164.40" y2="324.23" stroke="#6f8fff" stroke-width="0.7" />
<circle cx="163.10" cy="322.93" r="2.40" fill="#6f8fff" stroke="none" stroke-width="1" />
<line x1="181.50" y1="312.88" x2="181.50" y2="316.35" stroke="#6f8fff" stroke-width="0.7" />
<line x1="180.20" y1="312.88" x2="182.80" y2="312.88" stroke="#6f8fff" stroke-width="0.7" />
<line x1="180.20" y1="316.35" x2="182.80" y2="316.35" stroke="#6f8fff" stroke-width="0.7" />
<circle cx="181.50" cy="314.61" r="2.40" fill="#6f8fff" stroke="none" stroke-width="1" />
<line x1="126.10" y1="348.01" x2="126.10" y2="350.62" stroke="#2233c4" stroke-width="0.7" />
<line x1="124.80" y1="348.01" x2="127.40" y2="348.01" stroke="#2233c4" stroke-width="0.7" />
<line x1="124.80" y1="350.62" x2="127.40" y2="350.62" stroke="#2233c4" stroke-width="0.7" />
<polygon points="126.10,346.62 123.60,351.12 128.60,351.12" fill="#2233c4" stroke="none" stroke-width="0.6" />
<line x1="144.80" y1="324.16" x2="144.80" y2="326.76" stroke="#2233c4" stroke-width="0.7" />
<line x1="143.50" y1="324.16" x2="146.10" y2="324.16" stroke="#2233c4" stroke-width="0.7" />
<line x1="143.50" y1="326.76" x2="146.10" y2="326.76" stroke="#2233c4" stroke-width="0.7" />
<polygon points="144.80,322.76 142.30,327.26 147.30,327.26" fill="#2233c4" stroke="none" stroke-width="0.6" />
<line x1="163.10" y1="322.71" x2="163.10" y2="325.31" stroke="#2233c4" stroke-width="0.7" />
<line x1="161.80" y1="322.71" x2="164.40" y2="322.71" stroke="#2233c4" stroke-width="0.7" />
<line x1="161.80" y1="325.31" x2="164.40" y2="325.31" stroke="#2233c4" stroke-width="0.7" />
<polygon points="163.10,321.31 160.60,325.81 165.60,325.81" fill="#2233c4" stroke="none" stroke-width="0.6" />
<line x1="181.50" y1="314.03" x2="181.50" y2="316.64" stroke="#2233c4" stroke-width="0.7" />
<line x1="180.20" y1="314.03" x2="182.80" y2="314.03" stroke="#2233c4" stroke-width="0.7" />
<line x1="180.20" y1="316.64" x2="182.80" y2="316.64" stroke="#2233c4" stroke-width="0.7" />
<polygon points="181.50,312.64 179.00,317.14 184.00,317.14" fill="#2233c4" stroke="none" stroke-width="0.6" />
<line x1="126.10" y1="322.71" x2="126.10" y2="325.31" stroke="#8e1212" stroke-width="0.7" />
<line x1="124.80" y1="322.71" x2="127.40" y2="322.71" stroke="#8e1212" stroke-width="0.7" />
<line x1="124.80" y1="325.31" x2="127.40" y2="325.31" stroke="#8e1212" stroke-width="0.7" />
<polygon points="126.10,321.31 123.60,325.81 128.60,325.81" fill="#8e1212" stroke="none" stroke-width="0.6" />
<line x1="144.80" y1="313.74" x2="144.80" y2="315.48" stroke="#8e1212" stroke-width="0.7" />
<line x1="143.50" y1="313.74" x2="146.10" y2="313.74" stroke="#8e1212" stroke-width="0.7" />
<line x1="143.50" y1="315.48" x2="146.10" y2="315.48" stroke="#8e1212" stroke-width="0.7" />
<polygon points="144.80,311.91 142.30,316.41 147.30,316.41" fill="#8e1212" stroke="none" stroke-width="0.6" />
<line x1="163.10" y1="313.74" x2="163.10" y2="315.48" stroke="#8e1212" stroke-width="0.7" />
<line x1="161.80" y1="313.74" x2="164.40" y2="313.74" stroke="#8e1212" stroke-width="0.7" />
<line x1="161.80" y1="315.48" x2="164.40" y2="315.48" stroke="#8e1212" stroke-width="0.7" />
<polygon points="163.10,311.91 160.60,316.41 165.60,316.41" fill="#8e1212" stroke="none" stroke-width="0.6" />
<line x1="181.50" y1="307.96" x2="181.50" y2="309.70" stroke="#8e1212" stroke-width="0.7" />
<line x1="180.20" y1="307.96" x2="182.80" y2="307.96" stroke="#8e1212" stroke-width="0.7" />
<line x1="180.20" y1="309.70" x2="182.80" y2="309.70" stroke="#8e1212" stroke-width="0.7" />
<polygon points="181.50,306.13 179.00,310.63 184.00,310.63" fill="#8e1212" stroke="none" stroke-width="0.6" />
<line x1="126.10" y1="324.44" x2="126.10" y2="327.92" stroke="#d21f1f" stroke-width="0.7" />
<line x1="124.80" y1="324.44" x2="127.40" y2="324.44" stroke="#d21f1f" stroke-width="0.7" />
<line x1="124.80" y1="327.92" x2="127.40" y2="327.92" stroke="#d21f1f" stroke-width="0.7" />
<circle cx="126.10" cy="326.18" r="2.40" fill="#d21f1f" stroke="none" stroke-width="1" />
<line x1="144.80" y1="291.33" x2="144.80" y2="293.07" stroke="#d21f1f" stroke-width="0.7" />
<line x1="143.50" y1="291.33" x2="146.10" y2="291.33" stroke="#d21f1f" stroke-width="0.7" />
<line x1="143.50" y1="293.07" x2="146.10" y2="293.07" stroke="#d21f1f" stroke-width="0.7" />
<circle cx="144.80" cy="292.20" r="2.40" fill="#d21f1f" stroke="none" stroke-width="1" />
<line x1="163.10" y1="298.13" x2="163.10" y2="300.73" stroke="#d21f1f" stroke-width="0.7" />
<line x1="161.80" y1="298.13" x2="164.40" y2="298.13" stroke="#d21f1f" stroke-width="0.7" />
<line x1="161.80" y1="300.73" x2="164.40" y2="300.73" stroke="#d21f1f" stroke-width="0.7" />
<circle cx="163.10" cy="299.43" r="2.40" fill="#d21f1f" stroke="none" stroke-width="1" />
<line x1="181.50" y1="293.79" x2="181.50" y2="296.39" stroke="#d21f1f" stroke-width="0.7" />
<line x1="180.20" y1="293.79" x2="182.80" y2="293.79" stroke="#d21f1f" stroke-width="0.7" />
<line x1="180.20" y1="296.39" x2="182.80" y2="296.39" stroke="#d21f1f" stroke-width="0.7" />
<circle cx="181.50" cy="295.09" r="2.40" fill="#d21f1f" stroke="none" stroke-width="1" />
<line x1="126.10" y1="355.10" x2="126.10" y2="356.60" stroke="#777" stroke-width="0.6" />
<text transform="translate(130.40,362.90) rotate(-45)" font-size="10.8" text-anchor="end" fill="#222">ProE</text>
<line x1="144.80" y1="355.10" x2="144.80" y2="356.60" stroke="#777" stroke-width="0.6" />
<text transform="translate(149.10,362.90) rotate(-45)" font-size="10.8" text-anchor="end" fill="#222">EryA</text>
<line x1="163.10" y1="355.10" x2="163.10" y2="356.60" stroke="#777" stroke-width="0.6" />
<text transform="translate(167.40,362.90) rotate(-45)" font-size="10.8" text-anchor="end" fill="#222">EryB</text>
<line x1="181.50" y1="355.10" x2="181.50" y2="356.60" stroke="#777" stroke-width="0.6" />
<text transform="translate(185.80,362.90) rotate(-45)" font-size="10.8" text-anchor="end" fill="#222">EryC</text>
<text x="193.30" y="281.20" font-size="13" text-anchor="start" fill="#111" font-weight="normal" >18 h</text>
<polyline points="202.10,346.42 203.21,345.14 204.65,343.39 206.35,341.29 208.25,338.95 210.31,336.48 212.45,334.00 214.63,331.62 216.79,329.44 218.86,327.59 220.80,326.18 222.65,325.21 224.48,324.58 226.32,324.22 228.14,324.05 229.97,324.01 231.79,324.03 233.62,324.03 235.44,323.96 237.27,323.73 239.10,323.29 241.02,322.62 243.07,321.78 245.19,320.84 247.34,319.82 249.44,318.77 251.46,317.74 253.33,316.76 255.00,315.88 256.40,315.15 257.50,314.61" fill="none" stroke="#6f8fff" stroke-width="2.6" stroke-linejoin="round" stroke-linecap="round" />
<polyline points="202.10,348.59 203.21,347.22 204.65,345.34 206.35,343.09 208.25,340.58 210.31,337.93 212.45,335.27 214.63,332.71 216.79,330.38 218.86,328.41 220.80,326.90 222.65,325.88 224.48,325.21 226.32,324.84 228.14,324.67 229.97,324.64 231.79,324.68 233.62,324.71 235.44,324.66 237.27,324.45 239.10,324.01 241.02,323.34 243.07,322.51 245.19,321.56 247.34,320.54 249.44,319.49 251.46,318.46 253.33,317.48 255.00,316.61 256.40,315.88 257.50,315.34" fill="none" stroke="#2233c4" stroke-width="1.7" stroke-linejoin="round" stroke-linecap="round" />
<polyline points="202.10,335.58 203.21,333.67 204.65,331.03 206.35,327.84 208.25,324.29 210.31,320.58 212.45,316.87 214.63,313.37 216.79,310.26 218.86,307.72 220.80,305.94 222.65,304.95 224.48,304.58 226.32,304.71 228.14,305.20 229.97,305.94 231.79,306.79 233.62,307.63 235.44,308.33 237.27,308.77 239.10,308.83 241.02,308.53 243.07,308.02 245.19,307.36 247.34,306.59 249.44,305.76 251.46,304.91 253.33,304.09 255.00,303.36 256.40,302.75 257.50,302.32" fill="none" stroke="#8e1212" stroke-width="1.6" stroke-linejoin="round" stroke-linecap="round" />
<polyline points="202.10,337.75 203.21,334.36 204.65,329.64 206.35,323.93 208.25,317.58 210.31,310.95 212.45,304.38 214.63,298.22 216.79,292.82 218.86,288.53 220.80,285.69 222.65,284.37 224.48,284.22 226.32,285.01 228.14,286.53 229.97,288.54 231.79,290.81 233.62,293.12 235.44,295.24 237.27,296.93 239.10,297.98 241.02,298.53 243.07,298.88 245.19,299.07 247.34,299.14 249.44,299.11 251.46,299.02 253.33,298.91 255.00,298.79 256.40,298.72 257.50,298.71" fill="none" stroke="#d21f1f" stroke-width="1.8" stroke-linejoin="round" stroke-linecap="round" />
<line x1="202.10" y1="344.26" x2="202.10" y2="348.59" stroke="#6f8fff" stroke-width="0.7" />
<line x1="200.80" y1="344.26" x2="203.40" y2="344.26" stroke="#6f8fff" stroke-width="0.7" />
<line x1="200.80" y1="348.59" x2="203.40" y2="348.59" stroke="#6f8fff" stroke-width="0.7" />
<circle cx="202.10" cy="346.42" r="2.40" fill="#6f8fff" stroke="none" stroke-width="1" />
<line x1="220.80" y1="324.88" x2="220.80" y2="327.48" stroke="#6f8fff" stroke-width="0.7" />
<line x1="219.50" y1="324.88" x2="222.10" y2="324.88" stroke="#6f8fff" stroke-width="0.7" />
<line x1="219.50" y1="327.48" x2="222.10" y2="327.48" stroke="#6f8fff" stroke-width="0.7" />
<circle cx="220.80" cy="326.18" r="2.40" fill="#6f8fff" stroke="none" stroke-width="1" />
<line x1="239.10" y1="321.99" x2="239.10" y2="324.59" stroke="#6f8fff" stroke-width="0.7" />
<line x1="237.80" y1="321.99" x2="240.40" y2="321.99" stroke="#6f8fff" stroke-width="0.7" />
<line x1="237.80" y1="324.59" x2="240.40" y2="324.59" stroke="#6f8fff" stroke-width="0.7" />
<circle cx="239.10" cy="323.29" r="2.40" fill="#6f8fff" stroke="none" stroke-width="1" />
<line x1="257.50" y1="313.31" x2="257.50" y2="315.91" stroke="#6f8fff" stroke-width="0.7" />
<line x1="256.20" y1="313.31" x2="258.80" y2="313.31" stroke="#6f8fff" stroke-width="0.7" />
<line x1="256.20" y1="315.91" x2="258.80" y2="315.91" stroke="#6f8fff" stroke-width="0.7" />
<circle cx="257.50" cy="314.61" r="2.40" fill="#6f8fff" stroke="none" stroke-width="1" />
<line x1="202.10" y1="347.29" x2="202.10" y2="349.89" stroke="#2233c4" stroke-width="0.7" />
<line x1="200.80" y1="347.29" x2="203.40" y2="347.29" stroke="#2233c4" stroke-width="0.7" />
<line x1="200.80" y1="349.89" x2="203.40" y2="349.89" stroke="#2233c4" stroke-width="0.7" />
<polygon points="202.10,345.89 199.60,350.39 204.60,350.39" fill="#2233c4" stroke="none" stroke-width="0.6" />
<line x1="220.80" y1="325.60" x2="220.80" y2="328.20" stroke="#2233c4" stroke-width="0.7" />
<line x1="219.50" y1="325.60" x2="222.10" y2="325.60" stroke="#2233c4" stroke-width="0.7" />
<line x1="219.50" y1="328.20" x2="222.10" y2="328.20" stroke="#2233c4" stroke-width="0.7" />
<polygon points="220.80,324.20 218.30,328.70 223.30,328.70" fill="#2233c4" stroke="none" stroke-width="0.6" />
<line x1="239.10" y1="322.71" x2="239.10" y2="325.31" stroke="#2233c4" stroke-width="0.7" />
<line x1="237.80" y1="322.71" x2="240.40" y2="322.71" stroke="#2233c4" stroke-width="0.7" />
<line x1="237.80" y1="325.31" x2="240.40" y2="325.31" stroke="#2233c4" stroke-width="0.7" />
<polygon points="239.10,321.31 236.60,325.81 241.60,325.81" fill="#2233c4" stroke="none" stroke-width="0.6" />
<line x1="257.50" y1="314.03" x2="257.50" y2="316.64" stroke="#2233c4" stroke-width="0.7" />
<line x1="256.20" y1="314.03" x2="258.80" y2="314.03" stroke="#2233c4" stroke-width="0.7" />
<line x1="256.20" y1="316.64" x2="258.80" y2="316.64" stroke="#2233c4" stroke-width="0.7" />
<polygon points="257.50,312.64 255.00,317.14 260.00,317.14" fill="#2233c4" stroke="none" stroke-width="0.6" />
<line x1="202.10" y1="334.28" x2="202.10" y2="336.88" stroke="#8e1212" stroke-width="0.7" />
<line x1="200.80" y1="334.28" x2="203.40" y2="334.28" stroke="#8e1212" stroke-width="0.7" />
<line x1="200.80" y1="336.88" x2="203.40" y2="336.88" stroke="#8e1212" stroke-width="0.7" />
<polygon points="202.10,332.88 199.60,337.38 204.60,337.38" fill="#8e1212" stroke="none" stroke-width="0.6" />
<line x1="220.80" y1="303.33" x2="220.80" y2="308.54" stroke="#8e1212" stroke-width="0.7" />
<line x1="219.50" y1="303.33" x2="222.10" y2="303.33" stroke="#8e1212" stroke-width="0.7" />
<line x1="219.50" y1="308.54" x2="222.10" y2="308.54" stroke="#8e1212" stroke-width="0.7" />
<polygon points="220.80,303.24 218.30,307.74 223.30,307.74" fill="#8e1212" stroke="none" stroke-width="0.6" />
<line x1="239.10" y1="307.53" x2="239.10" y2="310.13" stroke="#8e1212" stroke-width="0.7" />
<line x1="237.80" y1="307.53" x2="240.40" y2="307.53" stroke="#8e1212" stroke-width="0.7" />
<line x1="237.80" y1="310.13" x2="240.40" y2="310.13" stroke="#8e1212" stroke-width="0.7" />
<polygon points="239.10,306.13 236.60,310.63 241.60,310.63" fill="#8e1212" stroke="none" stroke-width="0.6" />
<line x1="257.50" y1="301.02" x2="257.50" y2="303.62" stroke="#8e1212" stroke-width="0.7" />
<line x1="256.20" y1="301.02" x2="258.80" y2="301.02" stroke="#8e1212" stroke-width="0.7" />
<line x1="256.20" y1="303.62" x2="258.80" y2="303.62" stroke="#8e1212" stroke-width="0.7" />
<polygon points="257.50,299.62 255.00,304.12 260.00,304.12" fill="#8e1212" stroke="none" stroke-width="0.6" />
<line x1="202.10" y1="336.01" x2="202.10" y2="339.48" stroke="#d21f1f" stroke-width="0.7" />
<line x1="200.80" y1="336.01" x2="203.40" y2="336.01" stroke="#d21f1f" stroke-width="0.7" />
<line x1="200.80" y1="339.48" x2="203.40" y2="339.48" stroke="#d21f1f" stroke-width="0.7" />
<circle cx="202.10" cy="337.75" r="2.40" fill="#d21f1f" stroke="none" stroke-width="1" />
<line x1="220.80" y1="283.09" x2="220.80" y2="288.29" stroke="#d21f1f" stroke-width="0.7" />
<line x1="219.50" y1="283.09" x2="222.10" y2="283.09" stroke="#d21f1f" stroke-width="0.7" />
<line x1="219.50" y1="288.29" x2="222.10" y2="288.29" stroke="#d21f1f" stroke-width="0.7" />
<circle cx="220.80" cy="285.69" r="2.40" fill="#d21f1f" stroke="none" stroke-width="1" />
<line x1="239.10" y1="296.68" x2="239.10" y2="299.28" stroke="#d21f1f" stroke-width="0.7" />
<line x1="237.80" y1="296.68" x2="240.40" y2="296.68" stroke="#d21f1f" stroke-width="0.7" />
<line x1="237.80" y1="299.28" x2="240.40" y2="299.28" stroke="#d21f1f" stroke-width="0.7" />
<circle cx="239.10" cy="297.98" r="2.40" fill="#d21f1f" stroke="none" stroke-width="1" />
<line x1="257.50" y1="297.40" x2="257.50" y2="300.01" stroke="#d21f1f" stroke-width="0.7" />
<line x1="256.20" y1="297.40" x2="258.80" y2="297.40" stroke="#d21f1f" stroke-width="0.7" />
<line x1="256.20" y1="300.01" x2="258.80" y2="300.01" stroke="#d21f1f" stroke-width="0.7" />
<circle cx="257.50" cy="298.71" r="2.40" fill="#d21f1f" stroke="none" stroke-width="1" />
<line x1="202.10" y1="355.10" x2="202.10" y2="356.60" stroke="#777" stroke-width="0.6" />
<text transform="translate(206.40,362.90) rotate(-45)" font-size="10.8" text-anchor="end" fill="#222">ProE</text>
<line x1="220.80" y1="355.10" x2="220.80" y2="356.60" stroke="#777" stroke-width="0.6" />
<text transform="translate(225.10,362.90) rotate(-45)" font-size="10.8" text-anchor="end" fill="#222">EryA</text>
<line x1="239.10" y1="355.10" x2="239.10" y2="356.60" stroke="#777" stroke-width="0.6" />
<text transform="translate(243.40,362.90) rotate(-45)" font-size="10.8" text-anchor="end" fill="#222">EryB</text>
<line x1="257.50" y1="355.10" x2="257.50" y2="356.60" stroke="#777" stroke-width="0.6" />
<text transform="translate(261.80,362.90) rotate(-45)" font-size="10.8" text-anchor="end" fill="#222">EryC</text>
<text x="268.80" y="281.20" font-size="13" text-anchor="start" fill="#111" font-weight="normal" >24 h</text>
<polyline points="277.60,349.32 278.71,347.85 280.15,345.86 281.85,343.46 283.75,340.79 285.81,337.97 287.95,335.14 290.13,332.41 292.29,329.93 294.36,327.81 296.30,326.18 298.15,325.05 299.98,324.28 301.82,323.80 303.64,323.54 305.47,323.42 307.29,323.39 309.12,323.35 310.94,323.25 312.77,323.01 314.60,322.56 316.52,321.91 318.57,321.12 320.69,320.25 322.84,319.31 324.94,318.36 326.96,317.43 328.83,316.55 330.50,315.76 331.90,315.10 333.00,314.61" fill="none" stroke="#6f8fff" stroke-width="2.6" stroke-linejoin="round" stroke-linecap="round" />
<polyline points="277.60,350.76 278.71,349.25 280.15,347.19 281.85,344.72 283.75,341.96 285.81,339.06 287.95,336.13 290.13,333.32 292.29,330.76 294.36,328.58 296.30,326.90 298.15,325.74 299.98,324.94 301.82,324.44 303.64,324.17 305.47,324.06 307.29,324.02 309.12,324.00 310.94,323.92 312.77,323.70 314.60,323.29 316.52,322.68 318.57,321.96 320.69,321.16 322.84,320.31 324.94,319.45 326.96,318.60 328.83,317.81 330.50,317.10 331.90,316.50 333.00,316.06" fill="none" stroke="#2233c4" stroke-width="1.7" stroke-linejoin="round" stroke-linecap="round" />
<polyline points="277.60,347.15 278.71,345.01 280.15,342.05 281.85,338.48 283.75,334.50 285.81,330.34 287.95,326.19 290.13,322.26 292.29,318.76 294.36,315.90 296.30,313.89 298.15,312.78 299.98,312.37 301.82,312.53 303.64,313.10 305.47,313.93 307.29,314.88 309.12,315.78 310.94,316.50 312.77,316.89 314.60,316.78 316.52,316.20 318.57,315.32 320.69,314.20 322.84,312.91 324.94,311.54 326.96,310.15 328.83,308.83 330.50,307.63 331.90,306.64 333.00,305.94" fill="none" stroke="#8e1212" stroke-width="1.6" stroke-linejoin="round" stroke-linecap="round" />
<polyline points="277.60,344.98 278.71,342.07 280.15,338.01 281.85,333.12 283.75,327.67 285.81,321.98 287.95,316.33 290.13,311.03 292.29,306.36 294.36,302.64 296.30,300.15 298.15,298.95 299.98,298.76 301.82,299.37 303.64,300.60 305.47,302.23 307.29,304.07 309.12,305.93 310.94,307.59 312.77,308.86 314.60,309.55 316.52,309.75 318.57,309.71 320.69,309.50 322.84,309.14 324.94,308.69 326.96,308.20 328.83,307.70 330.50,307.25 331.90,306.89 333.00,306.66" fill="none" stroke="#d21f1f" stroke-width="1.8" stroke-linejoin="round" stroke-linecap="round" />
<line x1="277.60" y1="347.15" x2="277.60" y2="351.49" stroke="#6f8fff" stroke-width="0.7" />
<line x1="276.30" y1="347.15" x2="278.90" y2="347.15" stroke="#6f8fff" stroke-width="0.7" />
<line x1="276.30" y1="351.49" x2="278.90" y2="351.49" stroke="#6f8fff" stroke-width="0.7" />
<circle cx="277.60" cy="349.32" r="2.40" fill="#6f8fff" stroke="none" stroke-width="1" />
<line x1="296.30" y1="324.88" x2="296.30" y2="327.48" stroke="#6f8fff" stroke-width="0.7" />
<line x1="295.00" y1="324.88" x2="297.60" y2="324.88" stroke="#6f8fff" stroke-width="0.7" />
<line x1="295.00" y1="327.48" x2="297.60" y2="327.48" stroke="#6f8fff" stroke-width="0.7" />
<circle cx="296.30" cy="326.18" r="2.40" fill="#6f8fff" stroke="none" stroke-width="1" />
<line x1="314.60" y1="321.26" x2="314.60" y2="323.87" stroke="#6f8fff" stroke-width="0.7" />
<line x1="313.30" y1="321.26" x2="315.90" y2="321.26" stroke="#6f8fff" stroke-width="0.7" />
<line x1="313.30" y1="323.87" x2="315.90" y2="323.87" stroke="#6f8fff" stroke-width="0.7" />
<circle cx="314.60" cy="322.56" r="2.40" fill="#6f8fff" stroke="none" stroke-width="1" />
<line x1="333.00" y1="312.88" x2="333.00" y2="316.35" stroke="#6f8fff" stroke-width="0.7" />
<line x1="331.70" y1="312.88" x2="334.30" y2="312.88" stroke="#6f8fff" stroke-width="0.7" />
<line x1="331.70" y1="316.35" x2="334.30" y2="316.35" stroke="#6f8fff" stroke-width="0.7" />
<circle cx="333.00" cy="314.61" r="2.40" fill="#6f8fff" stroke="none" stroke-width="1" />
<line x1="277.60" y1="349.46" x2="277.60" y2="352.06" stroke="#2233c4" stroke-width="0.7" />
<line x1="276.30" y1="349.46" x2="278.90" y2="349.46" stroke="#2233c4" stroke-width="0.7" />
<line x1="276.30" y1="352.06" x2="278.90" y2="352.06" stroke="#2233c4" stroke-width="0.7" />
<polygon points="277.60,348.06 275.10,352.56 280.10,352.56" fill="#2233c4" stroke="none" stroke-width="0.6" />
<line x1="296.30" y1="325.60" x2="296.30" y2="328.20" stroke="#2233c4" stroke-width="0.7" />
<line x1="295.00" y1="325.60" x2="297.60" y2="325.60" stroke="#2233c4" stroke-width="0.7" />
<line x1="295.00" y1="328.20" x2="297.60" y2="328.20" stroke="#2233c4" stroke-width="0.7" />
<polygon points="296.30,324.20 293.80,328.70 298.80,328.70" fill="#2233c4" stroke="none" stroke-width="0.6" />
<line x1="314.60" y1="321.99" x2="314.60" y2="324.59" stroke="#2233c4" stroke-width="0.7" />
<line x1="313.30" y1="321.99" x2="315.90" y2="321.99" stroke="#2233c4" stroke-width="0.7" />
<line x1="313.30" y1="324.59" x2="315.90" y2="324.59" stroke="#2233c4" stroke-width="0.7" />
<polygon points="314.60,320.59 312.10,325.09 317.10,325.09" fill="#2233c4" stroke="none" stroke-width="0.6" />
<line x1="333.00" y1="314.76" x2="333.00" y2="317.36" stroke="#2233c4" stroke-width="0.7" />
<line x1="331.70" y1="314.76" x2="334.30" y2="314.76" stroke="#2233c4" stroke-width="0.7" />
<line x1="331.70" y1="317.36" x2="334.30" y2="317.36" stroke="#2233c4" stroke-width="0.7" />
<polygon points="333.00,313.36 330.50,317.86 335.50,317.86" fill="#2233c4" stroke="none" stroke-width="0.6" />
<line x1="277.60" y1="345.85" x2="277.60" y2="348.45" stroke="#8e1212" stroke-width="0.7" />
<line x1="276.30" y1="345.85" x2="278.90" y2="345.85" stroke="#8e1212" stroke-width="0.7" />
<line x1="276.30" y1="348.45" x2="278.90" y2="348.45" stroke="#8e1212" stroke-width="0.7" />
<polygon points="277.60,344.45 275.10,348.95 280.10,348.95" fill="#8e1212" stroke="none" stroke-width="0.6" />
<line x1="296.30" y1="313.02" x2="296.30" y2="314.76" stroke="#8e1212" stroke-width="0.7" />
<line x1="295.00" y1="313.02" x2="297.60" y2="313.02" stroke="#8e1212" stroke-width="0.7" />
<line x1="295.00" y1="314.76" x2="297.60" y2="314.76" stroke="#8e1212" stroke-width="0.7" />
<polygon points="296.30,311.19 293.80,315.69 298.80,315.69" fill="#8e1212" stroke="none" stroke-width="0.6" />
<line x1="314.60" y1="315.91" x2="314.60" y2="317.65" stroke="#8e1212" stroke-width="0.7" />
<line x1="313.30" y1="315.91" x2="315.90" y2="315.91" stroke="#8e1212" stroke-width="0.7" />
<line x1="313.30" y1="317.65" x2="315.90" y2="317.65" stroke="#8e1212" stroke-width="0.7" />
<polygon points="314.60,314.08 312.10,318.58 317.10,318.58" fill="#8e1212" stroke="none" stroke-width="0.6" />
<line x1="333.00" y1="305.07" x2="333.00" y2="306.80" stroke="#8e1212" stroke-width="0.7" />
<line x1="331.70" y1="305.07" x2="334.30" y2="305.07" stroke="#8e1212" stroke-width="0.7" />
<line x1="331.70" y1="306.80" x2="334.30" y2="306.80" stroke="#8e1212" stroke-width="0.7" />
<polygon points="333.00,303.24 330.50,307.74 335.50,307.74" fill="#8e1212" stroke="none" stroke-width="0.6" />
<line x1="277.60" y1="343.24" x2="277.60" y2="346.71" stroke="#d21f1f" stroke-width="0.7" />
<line x1="276.30" y1="343.24" x2="278.90" y2="343.24" stroke="#d21f1f" stroke-width="0.7" />
<line x1="276.30" y1="346.71" x2="278.90" y2="346.71" stroke="#d21f1f" stroke-width="0.7" />
<circle cx="277.60" cy="344.98" r="2.40" fill="#d21f1f" stroke="none" stroke-width="1" />
<line x1="296.30" y1="299.28" x2="296.30" y2="301.02" stroke="#d21f1f" stroke-width="0.7" />
<line x1="295.00" y1="299.28" x2="297.60" y2="299.28" stroke="#d21f1f" stroke-width="0.7" />
<line x1="295.00" y1="301.02" x2="297.60" y2="301.02" stroke="#d21f1f" stroke-width="0.7" />
<circle cx="296.30" cy="300.15" r="2.40" fill="#d21f1f" stroke="none" stroke-width="1" />
<line x1="314.60" y1="308.25" x2="314.60" y2="310.85" stroke="#d21f1f" stroke-width="0.7" />
<line x1="313.30" y1="308.25" x2="315.90" y2="308.25" stroke="#d21f1f" stroke-width="0.7" />
<line x1="313.30" y1="310.85" x2="315.90" y2="310.85" stroke="#d21f1f" stroke-width="0.7" />
<circle cx="314.60" cy="309.55" r="2.40" fill="#d21f1f" stroke="none" stroke-width="1" />
<line x1="333.00" y1="305.36" x2="333.00" y2="307.96" stroke="#d21f1f" stroke-width="0.7" />
<line x1="331.70" y1="305.36" x2="334.30" y2="305.36" stroke="#d21f1f" stroke-width="0.7" />
<line x1="331.70" y1="307.96" x2="334.30" y2="307.96" stroke="#d21f1f" stroke-width="0.7" />
<circle cx="333.00" cy="306.66" r="2.40" fill="#d21f1f" stroke="none" stroke-width="1" />
<line x1="277.60" y1="355.10" x2="277.60" y2="356.60" stroke="#777" stroke-width="0.6" />
<text transform="translate(281.90,362.90) rotate(-45)" font-size="10.8" text-anchor="end" fill="#222">ProE</text>
<line x1="296.30" y1="355.10" x2="296.30" y2="356.60" stroke="#777" stroke-width="0.6" />
<text transform="translate(300.60,362.90) rotate(-45)" font-size="10.8" text-anchor="end" fill="#222">EryA</text>
<line x1="314.60" y1="355.10" x2="314.60" y2="356.60" stroke="#777" stroke-width="0.6" />
<text transform="translate(318.90,362.90) rotate(-45)" font-size="10.8" text-anchor="end" fill="#222">EryB</text>
<line x1="333.00" y1="355.10" x2="333.00" y2="356.60" stroke="#777" stroke-width="0.6" />
<text transform="translate(337.30,362.90) rotate(-45)" font-size="10.8" text-anchor="end" fill="#222">EryC</text>
<text x="343.80" y="281.20" font-size="13" text-anchor="start" fill="#111" font-weight="normal" >48 h</text>
<polyline points="352.60,347.87 353.71,346.49 355.15,344.61 356.85,342.34 358.75,339.82 360.81,337.16 362.95,334.49 365.13,331.94 367.29,329.62 369.36,327.66 371.30,326.18 373.15,325.21 374.98,324.61 376.82,324.32 378.64,324.25 380.47,324.33 382.29,324.46 384.12,324.58 385.94,324.60 387.77,324.43 389.60,324.01 391.52,323.32 393.57,322.44 395.69,321.43 397.84,320.32 399.94,319.18 401.96,318.04 403.83,316.97 405.50,316.01 406.90,315.20 408.00,314.61" fill="none" stroke="#6f8fff" stroke-width="2.6" stroke-linejoin="round" stroke-linecap="round" />
<polyline points="352.60,349.32 353.71,347.94 355.15,346.06 356.85,343.80 358.75,341.28 360.81,338.63 362.95,335.96 365.13,333.41 367.29,331.08 369.36,329.12 371.30,327.63 373.15,326.63 374.98,326.00 376.82,325.66 378.64,325.55 380.47,325.57 382.29,325.66 384.12,325.73 385.94,325.71 387.77,325.53 389.60,325.10 391.52,324.41 393.57,323.56 395.69,322.58 397.84,321.52 399.94,320.42 401.96,319.33 403.83,318.31 405.50,317.39 406.90,316.63 408.00,316.06" fill="none" stroke="#2233c4" stroke-width="1.7" stroke-linejoin="round" stroke-linecap="round" />
<polyline points="352.60,354.02 353.71,351.88 355.15,348.96 356.85,345.46 358.75,341.55 360.81,337.43 362.95,333.30 365.13,329.34 367.29,325.74 369.36,322.69 371.30,320.40 373.15,318.86 374.98,317.89 376.82,317.38 378.64,317.21 380.47,317.26 382.29,317.41 384.12,317.56 385.94,317.58 387.77,317.36 389.60,316.78 391.52,315.85 393.57,314.68 395.69,313.34 397.84,311.90 399.94,310.41 401.96,308.94 403.83,307.55 405.50,306.30 406.90,305.26 408.00,304.49" fill="none" stroke="#8e1212" stroke-width="1.6" stroke-linejoin="round" stroke-linecap="round" />
<polyline points="352.60,349.32 353.71,347.61 355.15,345.27 356.85,342.46 358.75,339.33 360.81,336.03 362.95,332.73 365.13,329.57 367.29,326.72 369.36,324.34 371.30,322.56 373.15,321.43 374.98,320.77 376.82,320.50 378.64,320.51 380.47,320.71 382.29,321.00 384.12,321.29 385.94,321.47 387.77,321.44 389.60,321.12 391.52,320.51 393.57,319.71 395.69,318.77 397.84,317.75 399.94,316.69 401.96,315.64 403.83,314.64 405.50,313.74 406.90,312.99 408.00,312.44" fill="none" stroke="#d21f1f" stroke-width="1.8" stroke-linejoin="round" stroke-linecap="round" />
<line x1="352.60" y1="345.70" x2="352.60" y2="350.04" stroke="#6f8fff" stroke-width="0.7" />
<line x1="351.30" y1="345.70" x2="353.90" y2="345.70" stroke="#6f8fff" stroke-width="0.7" />
<line x1="351.30" y1="350.04" x2="353.90" y2="350.04" stroke="#6f8fff" stroke-width="0.7" />
<circle cx="352.60" cy="347.87" r="2.40" fill="#6f8fff" stroke="none" stroke-width="1" />
<line x1="371.30" y1="324.88" x2="371.30" y2="327.48" stroke="#6f8fff" stroke-width="0.7" />
<line x1="370.00" y1="324.88" x2="372.60" y2="324.88" stroke="#6f8fff" stroke-width="0.7" />
<line x1="370.00" y1="327.48" x2="372.60" y2="327.48" stroke="#6f8fff" stroke-width="0.7" />
<circle cx="371.30" cy="326.18" r="2.40" fill="#6f8fff" stroke="none" stroke-width="1" />
<line x1="389.60" y1="322.71" x2="389.60" y2="325.31" stroke="#6f8fff" stroke-width="0.7" />
<line x1="388.30" y1="322.71" x2="390.90" y2="322.71" stroke="#6f8fff" stroke-width="0.7" />
<line x1="388.30" y1="325.31" x2="390.90" y2="325.31" stroke="#6f8fff" stroke-width="0.7" />
<circle cx="389.60" cy="324.01" r="2.40" fill="#6f8fff" stroke="none" stroke-width="1" />
<line x1="408.00" y1="312.88" x2="408.00" y2="316.35" stroke="#6f8fff" stroke-width="0.7" />
<line x1="406.70" y1="312.88" x2="409.30" y2="312.88" stroke="#6f8fff" stroke-width="0.7" />
<line x1="406.70" y1="316.35" x2="409.30" y2="316.35" stroke="#6f8fff" stroke-width="0.7" />
<circle cx="408.00" cy="314.61" r="2.40" fill="#6f8fff" stroke="none" stroke-width="1" />
<line x1="352.60" y1="348.01" x2="352.60" y2="350.62" stroke="#2233c4" stroke-width="0.7" />
<line x1="351.30" y1="348.01" x2="353.90" y2="348.01" stroke="#2233c4" stroke-width="0.7" />
<line x1="351.30" y1="350.62" x2="353.90" y2="350.62" stroke="#2233c4" stroke-width="0.7" />
<polygon points="352.60,346.62 350.10,351.12 355.10,351.12" fill="#2233c4" stroke="none" stroke-width="0.6" />
<line x1="371.30" y1="326.32" x2="371.30" y2="328.93" stroke="#2233c4" stroke-width="0.7" />
<line x1="370.00" y1="326.32" x2="372.60" y2="326.32" stroke="#2233c4" stroke-width="0.7" />
<line x1="370.00" y1="328.93" x2="372.60" y2="328.93" stroke="#2233c4" stroke-width="0.7" />
<polygon points="371.30,324.93 368.80,329.43 373.80,329.43" fill="#2233c4" stroke="none" stroke-width="0.6" />
<line x1="389.60" y1="323.79" x2="389.60" y2="326.40" stroke="#2233c4" stroke-width="0.7" />
<line x1="388.30" y1="323.79" x2="390.90" y2="323.79" stroke="#2233c4" stroke-width="0.7" />
<line x1="388.30" y1="326.40" x2="390.90" y2="326.40" stroke="#2233c4" stroke-width="0.7" />
<polygon points="389.60,322.40 387.10,326.90 392.10,326.90" fill="#2233c4" stroke="none" stroke-width="0.6" />
<line x1="408.00" y1="314.76" x2="408.00" y2="317.36" stroke="#2233c4" stroke-width="0.7" />
<line x1="406.70" y1="314.76" x2="409.30" y2="314.76" stroke="#2233c4" stroke-width="0.7" />
<line x1="406.70" y1="317.36" x2="409.30" y2="317.36" stroke="#2233c4" stroke-width="0.7" />
<polygon points="408.00,313.36 405.50,317.86 410.50,317.86" fill="#2233c4" stroke="none" stroke-width="0.6" />
<line x1="352.60" y1="352.71" x2="352.60" y2="355.32" stroke="#8e1212" stroke-width="0.7" />
<line x1="351.30" y1="352.71" x2="353.90" y2="352.71" stroke="#8e1212" stroke-width="0.7" />
<line x1="351.30" y1="355.32" x2="353.90" y2="355.32" stroke="#8e1212" stroke-width="0.7" />
<polygon points="352.60,351.32 350.10,355.82 355.10,355.82" fill="#8e1212" stroke="none" stroke-width="0.6" />
<line x1="371.30" y1="319.53" x2="371.30" y2="321.26" stroke="#8e1212" stroke-width="0.7" />
<line x1="370.00" y1="319.53" x2="372.60" y2="319.53" stroke="#8e1212" stroke-width="0.7" />
<line x1="370.00" y1="321.26" x2="372.60" y2="321.26" stroke="#8e1212" stroke-width="0.7" />
<polygon points="371.30,317.70 368.80,322.20 373.80,322.20" fill="#8e1212" stroke="none" stroke-width="0.6" />
<line x1="389.60" y1="315.91" x2="389.60" y2="317.65" stroke="#8e1212" stroke-width="0.7" />
<line x1="388.30" y1="315.91" x2="390.90" y2="315.91" stroke="#8e1212" stroke-width="0.7" />
<line x1="388.30" y1="317.65" x2="390.90" y2="317.65" stroke="#8e1212" stroke-width="0.7" />
<polygon points="389.60,314.08 387.10,318.58 392.10,318.58" fill="#8e1212" stroke="none" stroke-width="0.6" />
<line x1="408.00" y1="303.62" x2="408.00" y2="305.36" stroke="#8e1212" stroke-width="0.7" />
<line x1="406.70" y1="303.62" x2="409.30" y2="303.62" stroke="#8e1212" stroke-width="0.7" />
<line x1="406.70" y1="305.36" x2="409.30" y2="305.36" stroke="#8e1212" stroke-width="0.7" />
<polygon points="408.00,301.79 405.50,306.29 410.50,306.29" fill="#8e1212" stroke="none" stroke-width="0.6" />
<line x1="352.60" y1="347.58" x2="352.60" y2="351.05" stroke="#d21f1f" stroke-width="0.7" />
<line x1="351.30" y1="347.58" x2="353.90" y2="347.58" stroke="#d21f1f" stroke-width="0.7" />
<line x1="351.30" y1="351.05" x2="353.90" y2="351.05" stroke="#d21f1f" stroke-width="0.7" />
<circle cx="352.60" cy="349.32" r="2.40" fill="#d21f1f" stroke="none" stroke-width="1" />
<line x1="371.30" y1="321.70" x2="371.30" y2="323.43" stroke="#d21f1f" stroke-width="0.7" />
<line x1="370.00" y1="321.70" x2="372.60" y2="321.70" stroke="#d21f1f" stroke-width="0.7" />
<line x1="370.00" y1="323.43" x2="372.60" y2="323.43" stroke="#d21f1f" stroke-width="0.7" />
<circle cx="371.30" cy="322.56" r="2.40" fill="#d21f1f" stroke="none" stroke-width="1" />
<line x1="389.60" y1="319.82" x2="389.60" y2="322.42" stroke="#d21f1f" stroke-width="0.7" />
<line x1="388.30" y1="319.82" x2="390.90" y2="319.82" stroke="#d21f1f" stroke-width="0.7" />
<line x1="388.30" y1="322.42" x2="390.90" y2="322.42" stroke="#d21f1f" stroke-width="0.7" />
<circle cx="389.60" cy="321.12" r="2.40" fill="#d21f1f" stroke="none" stroke-width="1" />
<line x1="408.00" y1="311.14" x2="408.00" y2="313.74" stroke="#d21f1f" stroke-width="0.7" />
<line x1="406.70" y1="311.14" x2="409.30" y2="311.14" stroke="#d21f1f" stroke-width="0.7" />
<line x1="406.70" y1="313.74" x2="409.30" y2="313.74" stroke="#d21f1f" stroke-width="0.7" />
<circle cx="408.00" cy="312.44" r="2.40" fill="#d21f1f" stroke="none" stroke-width="1" />
<line x1="352.60" y1="355.10" x2="352.60" y2="356.60" stroke="#777" stroke-width="0.6" />
<text transform="translate(356.90,362.90) rotate(-45)" font-size="10.8" text-anchor="end" fill="#222">ProE</text>
<line x1="371.30" y1="355.10" x2="371.30" y2="356.60" stroke="#777" stroke-width="0.6" />
<text transform="translate(375.60,362.90) rotate(-45)" font-size="10.8" text-anchor="end" fill="#222">EryA</text>
<line x1="389.60" y1="355.10" x2="389.60" y2="356.60" stroke="#777" stroke-width="0.6" />
<text transform="translate(393.90,362.90) rotate(-45)" font-size="10.8" text-anchor="end" fill="#222">EryB</text>
<line x1="408.00" y1="355.10" x2="408.00" y2="356.60" stroke="#777" stroke-width="0.6" />
<text transform="translate(412.30,362.90) rotate(-45)" font-size="10.8" text-anchor="end" fill="#222">EryC</text>
<line x1="41.00" y1="380.30" x2="81.00" y2="380.30" stroke="#000" stroke-width="1.3" />
<polygon points="86.00,380.30 77.00,377.40 79.50,380.30 77.00,383.20" fill="#000" stroke="none" stroke-width="1" />
<text x="40.80" y="395.20" font-size="13" text-anchor="start" fill="#111" font-weight="normal" >Erythroblast Maturation</text>
<text transform="translate(24.20,357.50) rotate(-90) scale(1,1)" font-size="12.8" fill="#111">Bcl-x</text>
<text transform="translate(27.00,329.06) rotate(-90) scale(1,1)" font-size="8" fill="#111">L</text>
<text transform="translate(24.20,322.94) rotate(-90) scale(1,0.86)" font-size="9.5" fill="#111">(MFI&#160;x10</text>
<text transform="translate(19.60,285.47) rotate(-90) scale(1,0.9)" font-size="5.8" fill="#111">3</text>
<text transform="translate(24.20,282.24) rotate(-90) scale(1,0.86)" font-size="9.5" fill="#111">)</text>
<line x1="423.80" y1="281.70" x2="435.40" y2="281.70" stroke="#6f8fff" stroke-width="1.2" />
<circle cx="429.60" cy="281.70" r="2.00" fill="#6f8fff" stroke="none" stroke-width="1" />
<text x="436.30" y="286.00" font-size="13" text-anchor="start" fill="#111" font-weight="normal" >Spleen</text>
<line x1="423.80" y1="296.20" x2="435.40" y2="296.20" stroke="#2233c4" stroke-width="1.2" />
<polygon points="429.60,294.04 427.60,297.64 431.60,297.64" fill="#2233c4" stroke="none" stroke-width="0.6" />
<text x="436.30" y="300.50" font-size="13" text-anchor="start" fill="#111" font-weight="normal" >BM</text>
<line x1="423.80" y1="311.70" x2="435.40" y2="311.70" stroke="#d21f1f" stroke-width="1.2" />
<circle cx="429.60" cy="311.70" r="2.00" fill="#d21f1f" stroke="none" stroke-width="1" />
<text x="436.30" y="316.00" font-size="13" text-anchor="start" fill="#111" font-weight="normal" >Spleen</text>
<line x1="423.80" y1="325.50" x2="435.40" y2="325.50" stroke="#8e1212" stroke-width="1.2" />
<polygon points="429.60,323.34 427.60,326.94 431.60,326.94" fill="#8e1212" stroke="none" stroke-width="0.6" />
<text x="436.30" y="329.80" font-size="13" text-anchor="start" fill="#111" font-weight="normal" >BM</text>
<line x1="478.50" y1="273.50" x2="478.50" y2="299.50" stroke="#111" stroke-width="1" />
<line x1="478.50" y1="304.00" x2="478.50" y2="330.60" stroke="#111" stroke-width="1" />
<text x="480.40" y="292.50" font-size="13" text-anchor="start" fill="#111" font-weight="normal" >Saline</text>
<text x="480.40" y="322.00" font-size="13" text-anchor="start" fill="#111" font-weight="normal" >Epo</text>
<text x="5.20" y="411.50" font-size="14" text-anchor="start" fill="#111" font-weight="bold" >E</text>
<line x1="42.20" y1="434.80" x2="42.20" y2="508.80" stroke="#777" stroke-width="0.9" />
<line x1="40.20" y1="508.80" x2="42.20" y2="508.80" stroke="#777" stroke-width="0.7" />
<text x="39.30" y="511.80" font-size="8.4" text-anchor="end" fill="#222" font-weight="normal" >1.1</text>
<line x1="40.20" y1="476.60" x2="42.20" y2="476.60" stroke="#777" stroke-width="0.7" />
<text x="39.30" y="479.60" font-size="8.4" text-anchor="end" fill="#222" font-weight="normal" >2.2</text>
<line x1="40.20" y1="444.41" x2="42.20" y2="444.41" stroke="#777" stroke-width="0.7" />
<text x="39.30" y="447.41" font-size="8.4" text-anchor="end" fill="#222" font-weight="normal" >3.3</text>
<line x1="41.00" y1="492.70" x2="42.20" y2="492.70" stroke="#999" stroke-width="0.5" />
<line x1="41.00" y1="460.50" x2="42.20" y2="460.50" stroke="#999" stroke-width="0.5" />
<line x1="42.20" y1="508.80" x2="50.00" y2="508.80" stroke="#777" stroke-width="0.9" />
<line x1="58.00" y1="508.80" x2="130.50" y2="508.80" stroke="#777" stroke-width="0.9" />
<line x1="52.30" y1="506.60" x2="52.30" y2="511.00" stroke="#333" stroke-width="0.8" />
<line x1="57.80" y1="506.60" x2="57.80" y2="511.00" stroke="#333" stroke-width="0.8" />
<line x1="71.80" y1="508.80" x2="71.80" y2="510.60" stroke="#777" stroke-width="0.6" />
<text x="71.80" y="522.40" font-size="8.4" text-anchor="middle" fill="#222" font-weight="normal" >0.1</text>
<line x1="87.30" y1="508.80" x2="87.30" y2="510.60" stroke="#777" stroke-width="0.6" />
<text x="87.30" y="522.40" font-size="8.4" text-anchor="middle" fill="#222" font-weight="normal" >1</text>
<line x1="102.80" y1="508.80" x2="102.80" y2="510.60" stroke="#777" stroke-width="0.6" />
<text x="102.80" y="522.40" font-size="8.4" text-anchor="middle" fill="#222" font-weight="normal" >10</text>
<line x1="118.30" y1="508.80" x2="118.30" y2="510.60" stroke="#777" stroke-width="0.6" />
<text x="118.30" y="522.40" font-size="8.4" text-anchor="middle" fill="#222" font-weight="normal" >100</text>
<line x1="63.70" y1="508.80" x2="63.70" y2="510.00" stroke="#999" stroke-width="0.5" />
<line x1="79.20" y1="508.80" x2="79.20" y2="510.00" stroke="#999" stroke-width="0.5" />
<line x1="94.70" y1="508.80" x2="94.70" y2="510.00" stroke="#999" stroke-width="0.5" />
<line x1="110.20" y1="508.80" x2="110.20" y2="510.00" stroke="#999" stroke-width="0.5" />
<line x1="125.70" y1="508.80" x2="125.70" y2="510.00" stroke="#999" stroke-width="0.5" />
<text x="46.60" y="522.40" font-size="8.4" text-anchor="middle" fill="#222" font-weight="normal" >Basal</text>
<polyline points="57.69,508.72 58.16,508.72 58.62,508.71 59.09,508.70 59.55,508.69 60.02,508.68 60.48,508.67 60.95,508.66 61.41,508.65 61.88,508.64 62.34,508.63 62.81,508.61 63.27,508.59 63.74,508.58 64.20,508.56 64.67,508.54 65.13,508.51 65.60,508.49 66.06,508.46 66.53,508.43 67.00,508.40 67.46,508.37 67.92,508.33 68.39,508.29 68.85,508.25 69.32,508.20 69.78,508.15 70.25,508.09 70.72,508.03 71.18,507.96 71.64,507.89 72.11,507.82 72.58,507.73 73.04,507.64 73.50,507.54 73.97,507.44 74.44,507.32 74.90,507.20 75.36,507.06 75.83,506.92 76.30,506.76 76.76,506.59 77.22,506.40 77.69,506.20 78.16,505.99 78.62,505.76 79.08,505.51 79.55,505.24 80.02,504.95 80.48,504.64 80.94,504.30 81.41,503.94 81.88,503.55 82.34,503.14 82.80,502.69 83.27,502.21 83.73,501.71 84.20,501.16 84.66,500.58 85.13,499.97 85.59,499.31 86.06,498.61 86.52,497.88 86.99,497.10 87.45,496.27 87.92,495.41 88.38,494.49 88.85,493.54 89.31,492.54 89.78,491.49 90.24,490.41 90.71,489.28 91.17,488.11 91.64,486.90 92.11,485.66 92.57,484.39 93.03,483.08 93.50,481.75 93.96,480.40 94.43,479.03 94.89,477.65 95.36,476.26 95.82,474.86 96.29,473.47 96.75,472.08 97.22,470.70 97.69,469.34 98.15,468.00 98.61,466.68 99.08,465.39 99.55,464.12 100.01,462.90 100.47,461.70 100.94,460.55 101.40,459.44 101.87,458.37 102.33,457.34 102.80,456.36 103.26,455.42 103.73,454.53 104.19,453.68 104.66,452.87 105.12,452.11 105.59,451.39 106.05,450.71 106.52,450.06 106.98,449.46 107.45,448.90 107.91,448.37 108.38,447.87 108.84,447.41 109.31,446.97 109.77,446.57 110.24,446.19 110.70,445.84 111.17,445.52 111.63,445.21 112.10,444.93 112.56,444.67 113.03,444.43 113.50,444.20 113.96,443.99 114.42,443.80 114.89,443.62 115.35,443.46 115.82,443.30 116.28,443.16 116.75,443.03 117.21,442.91 117.68,442.80 118.14,442.70 118.61,442.60 119.07,442.51 119.54,442.43 120.00,442.36 120.47,442.29 120.94,442.22 121.40,442.17 121.86,442.11 122.33,442.06 122.79,442.02 123.26,441.97 123.72,441.93 124.19,441.90 124.66,441.86 125.12,441.83 125.58,441.81 126.05,441.78 126.52,441.76 126.98,441.73 127.44,441.71 127.91,441.70 128.38,441.68 128.84,441.66 129.31,441.65 129.77,441.63" fill="none" stroke="#111" stroke-width="1.5" stroke-linejoin="round" stroke-linecap="round" />
<line x1="87.30" y1="476.50" x2="87.30" y2="486.50" stroke="#999" stroke-width="0.8" />
<line x1="86.00" y1="476.50" x2="88.60" y2="476.50" stroke="#999" stroke-width="0.8" />
<line x1="86.00" y1="486.50" x2="88.60" y2="486.50" stroke="#999" stroke-width="0.8" />
<line x1="95.00" y1="478.30" x2="95.00" y2="486.30" stroke="#999" stroke-width="0.8" />
<line x1="93.70" y1="478.30" x2="96.30" y2="478.30" stroke="#999" stroke-width="0.8" />
<line x1="93.70" y1="486.30" x2="96.30" y2="486.30" stroke="#999" stroke-width="0.8" />
<line x1="95.00" y1="482.20" x2="95.00" y2="490.20" stroke="#999" stroke-width="0.8" />
<line x1="93.70" y1="482.20" x2="96.30" y2="482.20" stroke="#999" stroke-width="0.8" />
<line x1="93.70" y1="490.20" x2="96.30" y2="490.20" stroke="#999" stroke-width="0.8" />
<line x1="102.70" y1="447.70" x2="102.70" y2="457.70" stroke="#999" stroke-width="0.8" />
<line x1="101.40" y1="447.70" x2="104.00" y2="447.70" stroke="#999" stroke-width="0.8" />
<line x1="101.40" y1="457.70" x2="104.00" y2="457.70" stroke="#999" stroke-width="0.8" />
<line x1="106.50" y1="439.10" x2="106.50" y2="447.10" stroke="#999" stroke-width="0.8" />
<line x1="105.20" y1="439.10" x2="107.80" y2="439.10" stroke="#999" stroke-width="0.8" />
<line x1="105.20" y1="447.10" x2="107.80" y2="447.10" stroke="#999" stroke-width="0.8" />
<line x1="110.40" y1="439.10" x2="110.40" y2="447.10" stroke="#999" stroke-width="0.8" />
<line x1="109.10" y1="439.10" x2="111.70" y2="439.10" stroke="#999" stroke-width="0.8" />
<line x1="109.10" y1="447.10" x2="111.70" y2="447.10" stroke="#999" stroke-width="0.8" />
<line x1="110.40" y1="452.40" x2="110.40" y2="458.40" stroke="#999" stroke-width="0.8" />
<line x1="109.10" y1="452.40" x2="111.70" y2="452.40" stroke="#999" stroke-width="0.8" />
<line x1="109.10" y1="458.40" x2="111.70" y2="458.40" stroke="#999" stroke-width="0.8" />
<circle cx="87.30" cy="481.50" r="3.40" fill="#e01c1c" stroke="#8a1010" stroke-width="0.6" />
<circle cx="95.00" cy="482.30" r="3.40" fill="#e01c1c" stroke="#8a1010" stroke-width="0.6" />
<circle cx="95.00" cy="486.20" r="3.40" fill="#e01c1c" stroke="#8a1010" stroke-width="0.6" />
<circle cx="102.70" cy="452.70" r="3.40" fill="#e01c1c" stroke="#8a1010" stroke-width="0.6" />
<circle cx="106.50" cy="443.10" r="3.40" fill="#e01c1c" stroke="#8a1010" stroke-width="0.6" />
<circle cx="110.40" cy="443.10" r="3.40" fill="#e01c1c" stroke="#8a1010" stroke-width="0.6" />
<circle cx="110.40" cy="455.40" r="3.40" fill="#e01c1c" stroke="#8a1010" stroke-width="0.6" />
<circle cx="124.60" cy="445.00" r="3.40" fill="#e01c1c" stroke="#8a1010" stroke-width="0.6" />
<circle cx="46.90" cy="508.80" r="2.90" fill="#1414d8" stroke="#0a0a80" stroke-width="0.5" />
<line x1="49.50" y1="506.80" x2="49.50" y2="510.80" stroke="#777" stroke-width="0.6" />
<rect x="44.40" y="426.20" width="9.60" height="9.60" fill="#0a1ae8" stroke="none" stroke-width="1" />
<rect x="44.40" y="438.90" width="9.60" height="9.60" fill="#ee1a1a" stroke="none" stroke-width="1" />
<text x="55.20" y="435.80" font-size="13.3" text-anchor="start" fill="#111" font-weight="normal" >Saline</text>
<text x="55.20" y="447.70" font-size="13.3" text-anchor="start" fill="#111" font-weight="normal" >Epo</text>
<text x="43.50" y="536.00" font-size="13" text-anchor="start" fill="#111" font-weight="normal" >Injected Epo <tspan font-size="9.5">(U)</tspan></text>
<text transform="translate(20.00,510.00) rotate(-90) scale(1,1)" font-size="12.8" fill="#111">Bcl-x</text>
<text transform="translate(22.80,481.56) rotate(-90) scale(1,1)" font-size="8" fill="#111">L</text>
<text transform="translate(20.00,475.44) rotate(-90) scale(1,0.86)" font-size="9.5" fill="#111">(MFI&#160;x10</text>
<text transform="translate(15.40,437.97) rotate(-90) scale(1,0.9)" font-size="5.8" fill="#111">3</text>
<text transform="translate(20.00,434.74) rotate(-90) scale(1,0.86)" font-size="9.5" fill="#111">)</text>
<text x="211.20" y="412.40" font-size="14" text-anchor="start" fill="#111" font-weight="bold" >F</text>
<line x1="246.20" y1="427.70" x2="246.20" y2="504.50" stroke="#777" stroke-width="0.9" />
<line x1="246.20" y1="504.50" x2="388.20" y2="504.50" stroke="#777" stroke-width="0.9" />
<line x1="244.20" y1="504.50" x2="246.20" y2="504.50" stroke="#777" stroke-width="0.7" />
<text x="242.60" y="507.80" font-size="9" text-anchor="end" fill="#222" font-weight="normal" >0</text>
<line x1="244.20" y1="491.72" x2="246.20" y2="491.72" stroke="#777" stroke-width="0.7" />
<text x="242.60" y="495.02" font-size="9" text-anchor="end" fill="#222" font-weight="normal" >2</text>
<line x1="244.20" y1="478.94" x2="246.20" y2="478.94" stroke="#777" stroke-width="0.7" />
<text x="242.60" y="482.24" font-size="9" text-anchor="end" fill="#222" font-weight="normal" >4</text>
<line x1="244.20" y1="466.16" x2="246.20" y2="466.16" stroke="#777" stroke-width="0.7" />
<text x="242.60" y="469.46" font-size="9" text-anchor="end" fill="#222" font-weight="normal" >6</text>
<line x1="244.20" y1="453.38" x2="246.20" y2="453.38" stroke="#777" stroke-width="0.7" />
<text x="242.60" y="456.68" font-size="9" text-anchor="end" fill="#222" font-weight="normal" >8</text>
<line x1="244.20" y1="440.60" x2="246.20" y2="440.60" stroke="#777" stroke-width="0.7" />
<text x="242.60" y="443.90" font-size="9" text-anchor="end" fill="#222" font-weight="normal" >10</text>
<line x1="244.20" y1="427.82" x2="246.20" y2="427.82" stroke="#777" stroke-width="0.7" />
<text x="242.60" y="431.12" font-size="9" text-anchor="end" fill="#222" font-weight="normal" >12</text>
<line x1="246.20" y1="504.50" x2="246.20" y2="506.50" stroke="#777" stroke-width="0.7" />
<text x="246.20" y="517.10" font-size="9" text-anchor="middle" fill="#222" font-weight="normal" >0</text>
<line x1="266.48" y1="504.50" x2="266.48" y2="506.50" stroke="#777" stroke-width="0.7" />
<text x="266.48" y="517.10" font-size="9" text-anchor="middle" fill="#222" font-weight="normal" >12</text>
<line x1="286.76" y1="504.50" x2="286.76" y2="506.50" stroke="#777" stroke-width="0.7" />
<text x="286.76" y="517.10" font-size="9" text-anchor="middle" fill="#222" font-weight="normal" >24</text>
<line x1="307.04" y1="504.50" x2="307.04" y2="506.50" stroke="#777" stroke-width="0.7" />
<text x="307.04" y="517.10" font-size="9" text-anchor="middle" fill="#222" font-weight="normal" >36</text>
<line x1="327.32" y1="504.50" x2="327.32" y2="506.50" stroke="#777" stroke-width="0.7" />
<text x="327.32" y="517.10" font-size="9" text-anchor="middle" fill="#222" font-weight="normal" >48</text>
<line x1="347.60" y1="504.50" x2="347.60" y2="506.50" stroke="#777" stroke-width="0.7" />
<text x="347.60" y="517.10" font-size="9" text-anchor="middle" fill="#222" font-weight="normal" >60</text>
<line x1="367.88" y1="504.50" x2="367.88" y2="506.50" stroke="#777" stroke-width="0.7" />
<text x="367.88" y="517.10" font-size="9" text-anchor="middle" fill="#222" font-weight="normal" >72</text>
<line x1="388.16" y1="504.50" x2="388.16" y2="506.50" stroke="#777" stroke-width="0.7" />
<text x="388.16" y="517.10" font-size="9" text-anchor="middle" fill="#222" font-weight="normal" >84</text>
<polyline points="246.20,482.77 246.54,482.73 246.95,482.77 247.43,482.84 248.00,482.85 248.65,482.74 249.41,482.41 250.28,481.81 251.27,480.86 252.44,479.46 253.79,477.66 255.29,475.56 256.87,473.27 258.49,470.89 260.10,468.52 261.66,466.27 263.10,464.24 264.46,462.35 265.78,460.46 267.08,458.60 268.35,456.79 269.60,455.08 270.83,453.50 272.04,452.07 273.24,450.82 274.42,449.76 275.59,448.82 276.73,448.03 277.86,447.37 278.96,446.84 280.06,446.44 281.13,446.17 282.20,446.03 283.20,445.97 284.12,445.96 285.00,446.05 285.88,446.29 286.80,446.72 287.79,447.37 288.89,448.30 290.14,449.55 291.56,451.21 293.13,453.31 294.80,455.73 296.55,458.35 298.34,461.07 300.15,463.78 301.93,466.37 303.66,468.72 305.37,470.94 307.12,473.20 308.88,475.45 310.63,477.62 312.36,479.68 314.04,481.58 315.65,483.27 317.18,484.69 318.59,485.82 319.87,486.68 321.08,487.32 322.25,487.81 323.42,488.18 324.63,488.50 325.91,488.81 327.32,489.16 328.85,489.55 330.46,489.90 332.14,490.21 333.87,490.48 335.62,490.71 337.38,490.89 339.13,491.01 340.84,491.08 342.53,491.08 344.22,491.00 345.91,490.86 347.60,490.68 349.29,490.47 350.98,490.24 352.67,490.02 354.36,489.80 356.14,489.58 358.06,489.32 360.02,489.05 361.96,488.76 363.80,488.49 365.45,488.25 366.84,488.04 367.88,487.89" fill="none" stroke="#1a2890" stroke-width="1.6" stroke-linejoin="round" stroke-linecap="round" />
<polyline points="246.20,497.79 246.56,497.66 246.89,497.54 247.36,497.37 248.14,497.08 249.39,496.60 251.27,495.87 254.05,494.72 257.65,493.15 261.73,491.40 265.92,489.68 269.87,488.23 273.24,487.25 275.67,486.80 277.37,486.71 278.84,486.89 280.56,487.21 283.04,487.58 286.76,487.89 291.96,488.09 298.28,488.28 305.35,488.51 312.80,488.84 320.25,489.36 327.32,490.12 334.55,491.29 342.34,492.84 350.14,494.58 357.36,496.28 363.47,497.74 367.88,498.75" fill="none" stroke="#e0303a" stroke-width="1.3" stroke-linejoin="round" stroke-linecap="round" />
<line x1="246.20" y1="495.87" x2="246.20" y2="499.71" stroke="#c02030" stroke-width="0.7" />
<line x1="244.90" y1="495.87" x2="247.50" y2="495.87" stroke="#c02030" stroke-width="0.7" />
<line x1="244.90" y1="499.71" x2="247.50" y2="499.71" stroke="#c02030" stroke-width="0.7" />
<circle cx="246.20" cy="497.79" r="4.00" fill="#f3a5a8" stroke="#e05058" stroke-width="0.7" fill-opacity="0.85"/>
<line x1="251.27" y1="492.68" x2="251.27" y2="499.07" stroke="#c02030" stroke-width="0.7" />
<line x1="249.97" y1="492.68" x2="252.57" y2="492.68" stroke="#c02030" stroke-width="0.7" />
<line x1="249.97" y1="499.07" x2="252.57" y2="499.07" stroke="#c02030" stroke-width="0.7" />
<circle cx="251.27" cy="495.87" r="4.00" fill="#f3a5a8" stroke="#e05058" stroke-width="0.7" fill-opacity="0.85"/>
<line x1="273.24" y1="483.41" x2="273.24" y2="491.08" stroke="#c02030" stroke-width="0.7" />
<line x1="271.94" y1="483.41" x2="274.54" y2="483.41" stroke="#c02030" stroke-width="0.7" />
<line x1="271.94" y1="491.08" x2="274.54" y2="491.08" stroke="#c02030" stroke-width="0.7" />
<circle cx="273.24" cy="487.25" r="4.00" fill="#f3a5a8" stroke="#e05058" stroke-width="0.7" fill-opacity="0.85"/>
<line x1="286.76" y1="485.97" x2="286.76" y2="489.80" stroke="#c02030" stroke-width="0.7" />
<line x1="285.46" y1="485.97" x2="288.06" y2="485.97" stroke="#c02030" stroke-width="0.7" />
<line x1="285.46" y1="489.80" x2="288.06" y2="489.80" stroke="#c02030" stroke-width="0.7" />
<circle cx="286.76" cy="487.89" r="4.00" fill="#f3a5a8" stroke="#e05058" stroke-width="0.7" fill-opacity="0.85"/>
<line x1="327.32" y1="483.73" x2="327.32" y2="496.51" stroke="#c02030" stroke-width="0.7" />
<line x1="326.02" y1="483.73" x2="328.62" y2="483.73" stroke="#c02030" stroke-width="0.7" />
<line x1="326.02" y1="496.51" x2="328.62" y2="496.51" stroke="#c02030" stroke-width="0.7" />
<circle cx="327.32" cy="490.12" r="4.00" fill="#f3a5a8" stroke="#e05058" stroke-width="0.7" fill-opacity="0.85"/>
<line x1="367.88" y1="495.55" x2="367.88" y2="501.94" stroke="#c02030" stroke-width="0.7" />
<line x1="366.58" y1="495.55" x2="369.18" y2="495.55" stroke="#c02030" stroke-width="0.7" />
<line x1="366.58" y1="501.94" x2="369.18" y2="501.94" stroke="#c02030" stroke-width="0.7" />
<circle cx="367.88" cy="498.75" r="4.00" fill="#f3a5a8" stroke="#e05058" stroke-width="0.7" fill-opacity="0.85"/>
<line x1="246.20" y1="480.22" x2="246.20" y2="485.33" stroke="#1a2890" stroke-width="0.7" />
<line x1="244.90" y1="480.22" x2="247.50" y2="480.22" stroke="#1a2890" stroke-width="0.7" />
<line x1="244.90" y1="485.33" x2="247.50" y2="485.33" stroke="#1a2890" stroke-width="0.7" />
<polygon points="246.20,478.17 250.80,482.77 246.20,487.37 241.60,482.77" fill="#a9b3e6" stroke="#5a67b8" stroke-width="0.7" fill-opacity="0.85"/>
<line x1="251.27" y1="478.30" x2="251.27" y2="483.41" stroke="#1a2890" stroke-width="0.7" />
<line x1="249.97" y1="478.30" x2="252.57" y2="478.30" stroke="#1a2890" stroke-width="0.7" />
<line x1="249.97" y1="483.41" x2="252.57" y2="483.41" stroke="#1a2890" stroke-width="0.7" />
<polygon points="251.27,476.26 255.87,480.86 251.27,485.46 246.67,480.86" fill="#a9b3e6" stroke="#5a67b8" stroke-width="0.7" fill-opacity="0.85"/>
<line x1="273.24" y1="445.07" x2="273.24" y2="460.41" stroke="#1a2890" stroke-width="0.7" />
<line x1="271.94" y1="445.07" x2="274.54" y2="445.07" stroke="#1a2890" stroke-width="0.7" />
<line x1="271.94" y1="460.41" x2="274.54" y2="460.41" stroke="#1a2890" stroke-width="0.7" />
<polygon points="273.24,448.14 277.84,452.74 273.24,457.34 268.64,452.74" fill="#a9b3e6" stroke="#5a67b8" stroke-width="0.7" fill-opacity="0.85"/>
<line x1="286.76" y1="434.85" x2="286.76" y2="460.41" stroke="#1a2890" stroke-width="0.7" />
<line x1="285.46" y1="434.85" x2="288.06" y2="434.85" stroke="#1a2890" stroke-width="0.7" />
<line x1="285.46" y1="460.41" x2="288.06" y2="460.41" stroke="#1a2890" stroke-width="0.7" />
<polygon points="286.76,443.03 291.36,447.63 286.76,452.23 282.16,447.63" fill="#a9b3e6" stroke="#5a67b8" stroke-width="0.7" fill-opacity="0.85"/>
<line x1="327.32" y1="478.30" x2="327.32" y2="496.19" stroke="#1a2890" stroke-width="0.7" />
<line x1="326.02" y1="478.30" x2="328.62" y2="478.30" stroke="#1a2890" stroke-width="0.7" />
<line x1="326.02" y1="496.19" x2="328.62" y2="496.19" stroke="#1a2890" stroke-width="0.7" />
<polygon points="327.32,482.65 331.92,487.25 327.32,491.85 322.72,487.25" fill="#a9b3e6" stroke="#5a67b8" stroke-width="0.7" fill-opacity="0.85"/>
<line x1="367.88" y1="479.58" x2="367.88" y2="496.19" stroke="#1a2890" stroke-width="0.7" />
<line x1="366.58" y1="479.58" x2="369.18" y2="479.58" stroke="#1a2890" stroke-width="0.7" />
<line x1="366.58" y1="496.19" x2="369.18" y2="496.19" stroke="#1a2890" stroke-width="0.7" />
<polygon points="367.88,483.29 372.48,487.89 367.88,492.49 363.28,487.89" fill="#a9b3e6" stroke="#5a67b8" stroke-width="0.7" fill-opacity="0.85"/>
<line x1="332.50" y1="433.50" x2="340.50" y2="433.50" stroke="#e0303a" stroke-width="1.2" />
<circle cx="336.60" cy="433.50" r="3.60" fill="#f3a5a8" stroke="#e05058" stroke-width="0.7" />
<text x="341.80" y="438.80" font-size="13.2" text-anchor="start" fill="#111" font-weight="normal" >BM</text>
<line x1="377.50" y1="434.20" x2="386.00" y2="434.20" stroke="#1a2890" stroke-width="1.2" />
<polygon points="381.80,430.20 385.80,434.20 381.80,438.20 377.80,434.20" fill="#a9b3e6" stroke="#5a67b8" stroke-width="0.7" />
<text x="387.00" y="438.80" font-size="14" text-anchor="start" fill="#111" font-weight="normal" >Spleen</text>
<text x="284.50" y="533.00" font-size="13.2" text-anchor="start" fill="#111" font-weight="normal" >Time (hr)</text>
<text transform="translate(229.20,505.80) rotate(-90) scale(1,1)" font-size="12.8" fill="#111">Bcl-X</text>
<text transform="translate(232.00,475.22) rotate(-90) scale(1,1)" font-size="8" fill="#111">L</text>
<text transform="translate(229.20,470.77) rotate(-90) scale(1,1)" font-size="12.8" fill="#111">&#160;mRNA</text>
</svg>
</body></html>
